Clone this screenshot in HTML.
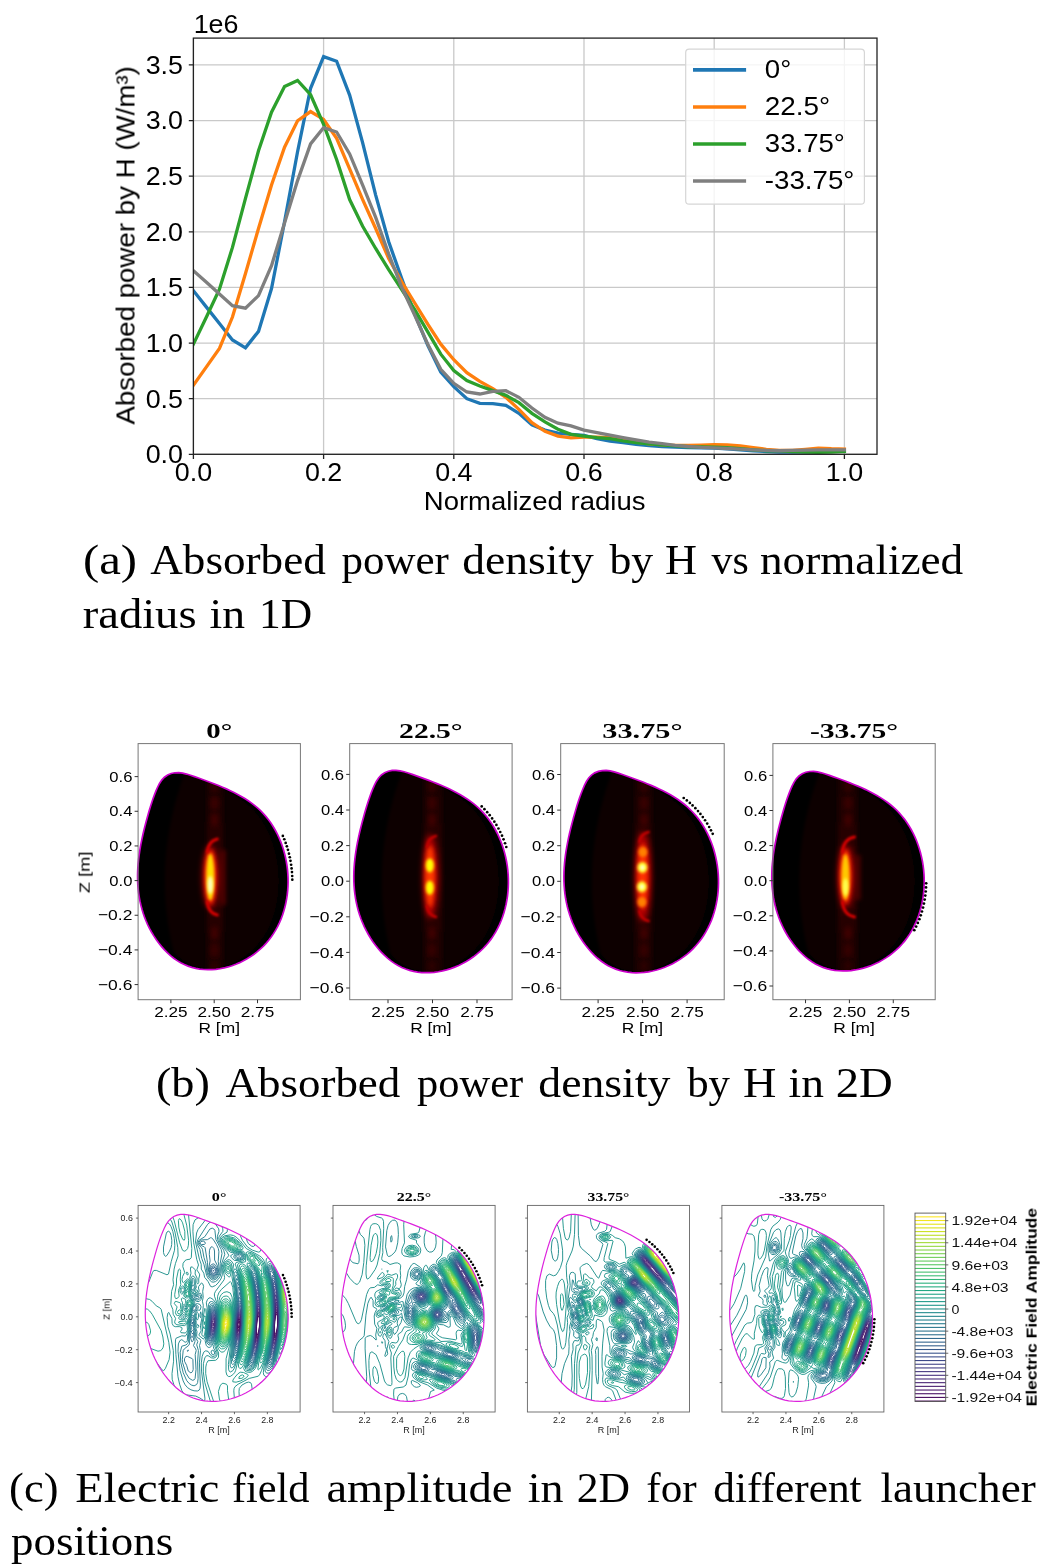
<!DOCTYPE html>
<html><head><meta charset="utf-8"><style>
html,body{margin:0;padding:0;background:#fff;width:1050px;height:1567px;overflow:hidden;}
svg{display:block;}
text{white-space:pre;will-change:transform;}
</style></head><body>
<svg width="1050" height="1567" viewBox="0 0 1050 1567">
<defs><clipPath id="clipA"><rect x="193.4" y="38.1" width="683.6" height="416.2"/></clipPath><filter id="bl1" x="-50%" y="-50%" width="200%" height="200%"><feGaussianBlur stdDeviation="1"/></filter><filter id="bl15" x="-50%" y="-50%" width="200%" height="200%"><feGaussianBlur stdDeviation="1.5"/></filter><filter id="bl2" x="-50%" y="-50%" width="200%" height="200%"><feGaussianBlur stdDeviation="2"/></filter><filter id="bl3" x="-50%" y="-50%" width="200%" height="200%"><feGaussianBlur stdDeviation="3"/></filter><filter id="bl5" x="-50%" y="-50%" width="200%" height="200%"><feGaussianBlur stdDeviation="5"/></filter><linearGradient id="stripeG" gradientUnits="userSpaceOnUse" x1="0" y1="765" x2="0" y2="990"><stop offset="0" stop-color="#1a0000"/><stop offset="0.3" stop-color="#260000"/><stop offset="0.5" stop-color="#3a0000"/><stop offset="0.7" stop-color="#260000"/><stop offset="1" stop-color="#1a0000"/></linearGradient><clipPath id="clipB0"><path d="M137.61 879.72L137.57 875.63L137.66 871.53L137.87 867.44L138.18 863.34L138.60 859.24L139.11 855.15L139.71 851.06L140.39 846.98L141.15 842.91L141.97 838.84L142.87 834.79L143.81 830.75L144.81 826.73L145.85 822.72L146.93 818.74L148.04 814.77L149.17 810.82L150.35 806.88L151.60 802.96L152.92 799.03L154.34 795.11L155.88 791.17L157.57 787.24L159.48 783.47L161.74 780.06L164.43 777.18L167.61 775.01L171.15 773.54L174.89 772.79L178.71 772.70L182.59 773.16L186.52 774.05L190.50 775.25L194.50 776.62L198.52 778.05L202.55 779.50L206.58 780.97L210.60 782.46L214.60 784.00L218.57 785.57L222.50 787.20L226.39 788.90L230.23 790.66L234.00 792.49L237.69 794.42L241.31 796.43L244.83 798.55L248.26 800.78L251.57 803.12L254.77 805.59L257.84 808.20L260.77 810.95L263.56 813.84L266.21 816.88L268.71 820.05L271.06 823.35L273.26 826.76L275.31 830.28L277.22 833.91L278.97 837.62L280.57 841.42L282.02 845.30L283.32 849.25L284.46 853.25L285.45 857.31L286.28 861.41L286.96 865.55L287.47 869.71L287.83 873.89L288.03 878.09L288.07 882.29L287.95 886.48L287.67 890.65L287.23 894.81L286.62 898.94L285.84 903.02L284.91 907.07L283.80 911.05L282.53 914.98L281.09 918.83L279.49 922.61L277.71 926.30L275.77 929.89L273.65 933.38L271.36 936.75L268.90 940.01L266.26 943.14L263.45 946.13L260.47 948.98L257.33 951.68L254.04 954.22L250.62 956.59L247.07 958.79L243.42 960.81L239.67 962.64L235.83 964.28L231.93 965.72L227.97 966.94L223.97 967.95L219.93 968.74L215.88 969.30L211.82 969.62L207.76 969.69L203.73 969.52L199.73 969.08L195.78 968.38L191.88 967.40L188.06 966.14L184.32 964.59L180.68 962.75L177.15 960.61L173.73 958.20L170.45 955.54L167.29 952.65L164.28 949.57L161.42 946.33L158.71 942.95L156.17 939.46L153.81 935.89L151.61 932.25L149.60 928.55L147.75 924.80L146.06 921.00L144.54 917.15L143.18 913.26L141.98 909.33L140.93 905.37L140.03 901.38L139.27 897.35L138.66 893.31L138.19 889.25L137.85 885.17L137.65 881.09Z"/></clipPath><clipPath id="clipB1"><path d="M353.83 880.30L353.80 876.10L353.89 871.89L354.10 867.68L354.42 863.47L354.85 859.26L355.37 855.06L355.99 850.86L356.69 846.67L357.47 842.49L358.32 838.31L359.23 834.15L360.20 830.00L361.23 825.87L362.30 821.76L363.40 817.66L364.54 813.58L365.71 809.52L366.92 805.48L368.20 801.45L369.56 797.42L371.02 793.39L372.60 789.35L374.33 785.31L376.30 781.44L378.61 777.93L381.38 774.98L384.65 772.74L388.28 771.24L392.12 770.46L396.04 770.37L400.03 770.85L404.07 771.76L408.15 772.99L412.27 774.40L416.40 775.87L420.54 777.36L424.67 778.87L428.80 780.40L432.91 781.98L436.99 783.60L441.03 785.27L445.02 787.01L448.96 788.82L452.83 790.70L456.63 792.68L460.34 794.75L463.96 796.92L467.48 799.21L470.88 801.62L474.17 804.16L477.32 806.84L480.33 809.66L483.20 812.63L485.92 815.75L488.48 819.01L490.90 822.39L493.16 825.90L495.27 829.52L497.23 833.24L499.03 837.06L500.67 840.96L502.16 844.94L503.49 849.00L504.67 853.11L505.68 857.28L506.54 861.49L507.23 865.74L507.76 870.02L508.13 874.31L508.34 878.62L508.38 882.93L508.25 887.24L507.96 891.53L507.51 895.80L506.88 900.03L506.09 904.23L505.12 908.38L503.99 912.48L502.69 916.51L501.21 920.47L499.56 924.35L497.73 928.13L495.74 931.82L493.56 935.41L491.21 938.88L488.68 942.22L485.97 945.44L483.09 948.51L480.03 951.44L476.80 954.21L473.42 956.82L469.90 959.25L466.26 961.51L462.51 963.59L458.66 965.47L454.72 967.15L450.71 968.63L446.64 969.89L442.53 970.92L438.39 971.73L434.22 972.31L430.05 972.63L425.89 972.71L421.75 972.53L417.64 972.08L413.58 971.36L409.58 970.35L405.65 969.06L401.81 967.47L398.07 965.58L394.44 963.38L390.94 960.90L387.56 958.17L384.32 955.21L381.23 952.05L378.29 948.71L375.51 945.24L372.90 941.66L370.47 937.99L368.22 934.25L366.14 930.45L364.24 926.60L362.52 922.70L360.96 918.75L359.56 914.75L358.32 910.71L357.24 906.64L356.32 902.54L355.54 898.41L354.91 894.26L354.43 890.08L354.08 885.90L353.87 881.70Z"/></clipPath><clipPath id="clipB2"><path d="M563.93 880.40L563.90 876.20L563.99 871.99L564.20 867.78L564.52 863.57L564.95 859.36L565.47 855.16L566.09 850.96L566.79 846.77L567.57 842.59L568.42 838.41L569.33 834.25L570.30 830.10L571.33 825.97L572.40 821.86L573.50 817.76L574.64 813.68L575.81 809.62L577.02 805.58L578.30 801.55L579.66 797.52L581.12 793.49L582.70 789.45L584.43 785.41L586.40 781.54L588.71 778.03L591.48 775.08L594.75 772.84L598.38 771.34L602.22 770.56L606.14 770.47L610.13 770.95L614.17 771.86L618.25 773.09L622.37 774.50L626.50 775.97L630.64 777.46L634.77 778.97L638.90 780.50L643.01 782.08L647.09 783.70L651.13 785.37L655.12 787.11L659.06 788.92L662.93 790.80L666.73 792.78L670.44 794.85L674.06 797.02L677.58 799.31L680.98 801.72L684.27 804.26L687.42 806.94L690.43 809.76L693.30 812.73L696.02 815.85L698.58 819.11L701.00 822.49L703.26 826.00L705.37 829.62L707.33 833.34L709.13 837.16L710.77 841.06L712.26 845.04L713.59 849.10L714.77 853.21L715.78 857.38L716.64 861.59L717.33 865.84L717.86 870.12L718.23 874.41L718.44 878.72L718.48 883.03L718.35 887.34L718.06 891.63L717.61 895.90L716.98 900.13L716.19 904.33L715.22 908.48L714.09 912.58L712.79 916.61L711.31 920.57L709.66 924.45L707.83 928.23L705.84 931.92L703.66 935.51L701.31 938.98L698.78 942.32L696.07 945.54L693.19 948.61L690.13 951.54L686.90 954.31L683.52 956.92L680.00 959.35L676.36 961.61L672.61 963.69L668.76 965.57L664.82 967.25L660.81 968.73L656.74 969.99L652.63 971.02L648.49 971.83L644.32 972.41L640.15 972.73L635.99 972.81L631.85 972.63L627.74 972.18L623.68 971.46L619.68 970.45L615.75 969.16L611.91 967.57L608.17 965.68L604.54 963.48L601.04 961.00L597.66 958.27L594.42 955.31L591.33 952.15L588.39 948.81L585.61 945.34L583.00 941.76L580.57 938.09L578.32 934.35L576.24 930.55L574.34 926.70L572.62 922.80L571.06 918.85L569.66 914.85L568.42 910.81L567.34 906.74L566.42 902.64L565.64 898.51L565.01 894.36L564.53 890.18L564.18 886.00L563.97 881.80Z"/></clipPath><clipPath id="clipB3"><path d="M771.83 879.81L771.80 875.67L771.89 871.52L772.10 867.37L772.42 863.22L772.84 859.07L773.35 854.93L773.96 850.79L774.65 846.65L775.42 842.53L776.26 838.41L777.16 834.31L778.12 830.22L779.13 826.15L780.18 822.09L781.27 818.05L782.40 814.03L783.55 810.03L784.74 806.05L786.00 802.07L787.34 798.10L788.78 794.12L790.34 790.14L792.05 786.16L793.99 782.34L796.27 778.88L799.00 775.97L802.22 773.77L805.80 772.28L809.59 771.52L813.45 771.43L817.39 771.90L821.37 772.80L825.40 774.01L829.45 775.40L833.52 776.85L837.60 778.32L841.68 779.80L845.75 781.32L849.80 782.87L853.83 784.47L857.81 786.12L861.75 787.83L865.63 789.61L869.45 791.47L873.19 793.42L876.85 795.46L880.42 797.61L883.89 799.86L887.24 802.24L890.48 804.74L893.59 807.38L896.56 810.16L899.39 813.10L902.07 816.17L904.60 819.38L906.98 822.72L909.21 826.18L911.29 829.74L913.22 833.41L914.99 837.18L916.62 841.03L918.08 844.95L919.40 848.95L920.55 853.00L921.55 857.11L922.40 861.27L923.08 865.46L923.60 869.67L923.97 873.91L924.17 878.16L924.21 882.41L924.09 886.65L923.80 890.88L923.35 895.09L922.74 899.27L921.95 903.41L921.00 907.50L919.89 911.54L918.60 915.52L917.14 919.42L915.52 923.24L913.72 926.98L911.75 930.61L909.60 934.15L907.29 937.57L904.79 940.87L902.12 944.03L899.28 947.07L896.26 949.95L893.08 952.68L889.75 955.25L886.28 957.66L882.69 959.88L878.99 961.93L875.19 963.79L871.31 965.44L867.36 966.90L863.35 968.14L859.29 969.16L855.20 969.96L851.10 970.53L846.99 970.85L842.88 970.92L838.80 970.74L834.75 970.30L830.74 969.59L826.80 968.60L822.93 967.33L819.14 965.76L815.45 963.90L811.88 961.73L808.42 959.29L805.09 956.59L801.90 953.67L798.85 950.55L795.95 947.27L793.21 943.84L790.64 940.31L788.24 936.69L786.02 933.01L783.98 929.26L782.10 925.46L780.40 921.62L778.86 917.72L777.48 913.78L776.26 909.80L775.20 905.78L774.29 901.74L773.52 897.67L772.90 893.57L772.42 889.46L772.08 885.33L771.87 881.19Z"/></clipPath><clipPath id="clipC0"><path d="M145.30 1315.97L145.27 1312.08L145.35 1308.20L145.54 1304.30L145.84 1300.42L146.23 1296.53L146.72 1292.64L147.29 1288.76L147.94 1284.89L148.66 1281.02L149.44 1277.16L150.29 1273.32L151.19 1269.49L152.13 1265.67L153.12 1261.86L154.14 1258.08L155.20 1254.31L156.27 1250.56L157.39 1246.83L158.58 1243.10L159.83 1239.38L161.18 1235.65L162.64 1231.91L164.24 1228.18L166.06 1224.61L168.20 1221.36L170.76 1218.64L173.78 1216.57L177.14 1215.18L180.68 1214.46L184.31 1214.38L187.99 1214.82L191.73 1215.66L195.50 1216.80L199.30 1218.10L203.12 1219.46L206.94 1220.83L210.77 1222.23L214.58 1223.65L218.38 1225.10L222.15 1226.60L225.88 1228.15L229.57 1229.75L233.21 1231.42L236.79 1233.17L240.30 1234.99L243.73 1236.91L247.08 1238.92L250.33 1241.03L253.47 1243.26L256.51 1245.60L259.42 1248.08L262.21 1250.68L264.86 1253.43L267.37 1256.32L269.74 1259.33L271.97 1262.45L274.06 1265.69L276.01 1269.04L277.82 1272.48L279.48 1276.01L281.00 1279.61L282.38 1283.29L283.61 1287.04L284.69 1290.84L285.63 1294.69L286.42 1298.59L287.06 1302.51L287.55 1306.46L287.89 1310.43L288.08 1314.42L288.12 1318.40L288.01 1322.38L287.74 1326.34L287.32 1330.29L286.74 1334.21L286.01 1338.09L285.12 1341.92L284.07 1345.71L282.86 1349.43L281.50 1353.09L279.97 1356.67L278.29 1360.18L276.44 1363.59L274.43 1366.90L272.26 1370.10L269.92 1373.19L267.42 1376.16L264.75 1379.01L261.92 1381.71L258.94 1384.27L255.82 1386.68L252.57 1388.93L249.20 1391.02L245.73 1392.94L242.17 1394.68L238.54 1396.23L234.83 1397.59L231.07 1398.76L227.27 1399.72L223.44 1400.47L219.59 1401.00L215.74 1401.30L211.89 1401.37L208.06 1401.20L204.26 1400.79L200.51 1400.12L196.81 1399.19L193.19 1398.00L189.64 1396.53L186.18 1394.78L182.83 1392.75L179.59 1390.46L176.47 1387.93L173.48 1385.19L170.62 1382.27L167.90 1379.19L165.33 1375.98L162.92 1372.67L160.67 1369.28L158.59 1365.83L156.68 1362.32L154.92 1358.76L153.32 1355.15L151.88 1351.50L150.59 1347.80L149.45 1344.07L148.45 1340.31L147.59 1336.52L146.88 1332.70L146.30 1328.87L145.85 1325.01L145.53 1321.14L145.33 1317.26Z"/></clipPath><clipPath id="clipC1"><path d="M341.20 1315.97L341.17 1312.08L341.25 1308.20L341.44 1304.30L341.74 1300.42L342.13 1296.53L342.62 1292.64L343.19 1288.76L343.84 1284.89L344.56 1281.02L345.34 1277.16L346.19 1273.32L347.09 1269.49L348.03 1265.67L349.02 1261.86L350.04 1258.08L351.10 1254.31L352.17 1250.56L353.29 1246.83L354.48 1243.10L355.73 1239.38L357.08 1235.65L358.54 1231.91L360.14 1228.18L361.96 1224.61L364.10 1221.36L366.66 1218.64L369.68 1216.57L373.04 1215.18L376.58 1214.46L380.21 1214.38L383.89 1214.82L387.63 1215.66L391.40 1216.80L395.20 1218.10L399.02 1219.46L402.84 1220.83L406.67 1222.23L410.48 1223.65L414.28 1225.10L418.05 1226.60L421.78 1228.15L425.47 1229.75L429.11 1231.42L432.69 1233.17L436.20 1234.99L439.63 1236.91L442.98 1238.92L446.23 1241.03L449.37 1243.26L452.41 1245.60L455.32 1248.08L458.11 1250.68L460.76 1253.43L463.27 1256.32L465.64 1259.33L467.87 1262.45L469.96 1265.69L471.91 1269.04L473.72 1272.48L475.38 1276.01L476.90 1279.61L478.28 1283.29L479.51 1287.04L480.59 1290.84L481.53 1294.69L482.32 1298.59L482.96 1302.51L483.45 1306.46L483.79 1310.43L483.98 1314.42L484.02 1318.40L483.91 1322.38L483.64 1326.34L483.22 1330.29L482.64 1334.21L481.91 1338.09L481.02 1341.92L479.97 1345.71L478.76 1349.43L477.40 1353.09L475.87 1356.67L474.19 1360.18L472.34 1363.59L470.33 1366.90L468.16 1370.10L465.82 1373.19L463.32 1376.16L460.65 1379.01L457.82 1381.71L454.84 1384.27L451.72 1386.68L448.47 1388.93L445.10 1391.02L441.63 1392.94L438.07 1394.68L434.44 1396.23L430.73 1397.59L426.97 1398.76L423.17 1399.72L419.34 1400.47L415.49 1401.00L411.64 1401.30L407.79 1401.37L403.96 1401.20L400.16 1400.79L396.41 1400.12L392.71 1399.19L389.09 1398.00L385.54 1396.53L382.08 1394.78L378.73 1392.75L375.49 1390.46L372.37 1387.93L369.38 1385.19L366.52 1382.27L363.80 1379.19L361.23 1375.98L358.82 1372.67L356.57 1369.28L354.49 1365.83L352.58 1362.32L350.82 1358.76L349.22 1355.15L347.78 1351.50L346.49 1347.80L345.35 1344.07L344.35 1340.31L343.49 1336.52L342.78 1332.70L342.20 1328.87L341.75 1325.01L341.43 1321.14L341.23 1317.26Z"/></clipPath><clipPath id="clipC2"><path d="M535.90 1315.97L535.87 1312.08L535.95 1308.20L536.14 1304.30L536.44 1300.42L536.83 1296.53L537.32 1292.64L537.89 1288.76L538.54 1284.89L539.26 1281.02L540.04 1277.16L540.89 1273.32L541.79 1269.49L542.73 1265.67L543.72 1261.86L544.74 1258.08L545.80 1254.31L546.87 1250.56L547.99 1246.83L549.18 1243.10L550.43 1239.38L551.78 1235.65L553.24 1231.91L554.84 1228.18L556.66 1224.61L558.80 1221.36L561.36 1218.64L564.38 1216.57L567.74 1215.18L571.28 1214.46L574.91 1214.38L578.59 1214.82L582.33 1215.66L586.10 1216.80L589.90 1218.10L593.72 1219.46L597.54 1220.83L601.37 1222.23L605.18 1223.65L608.98 1225.10L612.75 1226.60L616.48 1228.15L620.17 1229.75L623.81 1231.42L627.39 1233.17L630.90 1234.99L634.33 1236.91L637.68 1238.92L640.93 1241.03L644.07 1243.26L647.11 1245.60L650.02 1248.08L652.81 1250.68L655.46 1253.43L657.97 1256.32L660.34 1259.33L662.57 1262.45L664.66 1265.69L666.61 1269.04L668.42 1272.48L670.08 1276.01L671.60 1279.61L672.98 1283.29L674.21 1287.04L675.29 1290.84L676.23 1294.69L677.02 1298.59L677.66 1302.51L678.15 1306.46L678.49 1310.43L678.68 1314.42L678.72 1318.40L678.61 1322.38L678.34 1326.34L677.92 1330.29L677.34 1334.21L676.61 1338.09L675.72 1341.92L674.67 1345.71L673.46 1349.43L672.10 1353.09L670.57 1356.67L668.89 1360.18L667.04 1363.59L665.03 1366.90L662.86 1370.10L660.52 1373.19L658.02 1376.16L655.35 1379.01L652.52 1381.71L649.54 1384.27L646.42 1386.68L643.17 1388.93L639.80 1391.02L636.33 1392.94L632.77 1394.68L629.14 1396.23L625.43 1397.59L621.67 1398.76L617.87 1399.72L614.04 1400.47L610.19 1401.00L606.34 1401.30L602.49 1401.37L598.66 1401.20L594.86 1400.79L591.11 1400.12L587.41 1399.19L583.79 1398.00L580.24 1396.53L576.78 1394.78L573.43 1392.75L570.19 1390.46L567.07 1387.93L564.08 1385.19L561.22 1382.27L558.50 1379.19L555.93 1375.98L553.52 1372.67L551.27 1369.28L549.19 1365.83L547.28 1362.32L545.52 1358.76L543.92 1355.15L542.48 1351.50L541.19 1347.80L540.05 1344.07L539.05 1340.31L538.19 1336.52L537.48 1332.70L536.90 1328.87L536.45 1325.01L536.13 1321.14L535.93 1317.26Z"/></clipPath><clipPath id="clipC3"><path d="M729.70 1315.97L729.67 1312.08L729.75 1308.20L729.94 1304.30L730.24 1300.42L730.63 1296.53L731.12 1292.64L731.69 1288.76L732.34 1284.89L733.06 1281.02L733.84 1277.16L734.69 1273.32L735.59 1269.49L736.53 1265.67L737.52 1261.86L738.54 1258.08L739.60 1254.31L740.67 1250.56L741.79 1246.83L742.98 1243.10L744.23 1239.38L745.58 1235.65L747.04 1231.91L748.64 1228.18L750.46 1224.61L752.60 1221.36L755.16 1218.64L758.18 1216.57L761.54 1215.18L765.08 1214.46L768.71 1214.38L772.39 1214.82L776.13 1215.66L779.90 1216.80L783.70 1218.10L787.52 1219.46L791.34 1220.83L795.17 1222.23L798.98 1223.65L802.78 1225.10L806.55 1226.60L810.28 1228.15L813.97 1229.75L817.61 1231.42L821.19 1233.17L824.70 1234.99L828.13 1236.91L831.48 1238.92L834.73 1241.03L837.87 1243.26L840.91 1245.60L843.82 1248.08L846.61 1250.68L849.26 1253.43L851.77 1256.32L854.14 1259.33L856.37 1262.45L858.46 1265.69L860.41 1269.04L862.22 1272.48L863.88 1276.01L865.40 1279.61L866.78 1283.29L868.01 1287.04L869.09 1290.84L870.03 1294.69L870.82 1298.59L871.46 1302.51L871.95 1306.46L872.29 1310.43L872.48 1314.42L872.52 1318.40L872.41 1322.38L872.14 1326.34L871.72 1330.29L871.14 1334.21L870.41 1338.09L869.52 1341.92L868.47 1345.71L867.26 1349.43L865.90 1353.09L864.37 1356.67L862.69 1360.18L860.84 1363.59L858.83 1366.90L856.66 1370.10L854.32 1373.19L851.82 1376.16L849.15 1379.01L846.32 1381.71L843.34 1384.27L840.22 1386.68L836.97 1388.93L833.60 1391.02L830.13 1392.94L826.57 1394.68L822.94 1396.23L819.23 1397.59L815.47 1398.76L811.67 1399.72L807.84 1400.47L803.99 1401.00L800.14 1401.30L796.29 1401.37L792.46 1401.20L788.66 1400.79L784.91 1400.12L781.21 1399.19L777.59 1398.00L774.04 1396.53L770.58 1394.78L767.23 1392.75L763.99 1390.46L760.87 1387.93L757.88 1385.19L755.02 1382.27L752.30 1379.19L749.73 1375.98L747.32 1372.67L745.07 1369.28L742.99 1365.83L741.08 1362.32L739.32 1358.76L737.72 1355.15L736.28 1351.50L734.99 1347.80L733.85 1344.07L732.85 1340.31L731.99 1336.52L731.28 1332.70L730.70 1328.87L730.25 1325.01L729.93 1321.14L729.73 1317.26Z"/></clipPath></defs>
<rect width="1050" height="1567" fill="#fff"/>
<path d="M193.40 38.10V454.30M323.60 38.10V454.30M453.80 38.10V454.30M584.00 38.10V454.30M714.20 38.10V454.30M844.40 38.10V454.30M193.40 454.30H877.00M193.40 398.68H877.00M193.40 343.05H877.00M193.40 287.43H877.00M193.40 231.80H877.00M193.40 176.18H877.00M193.40 120.55H877.00M193.40 64.93H877.00" stroke="#c9c9c9" stroke-width="1.3" fill="none"/>
<polyline points="193.40,290.65 206.42,307.12 219.44,323.47 232.46,339.94 245.48,347.83 258.50,331.37 271.52,288.54 284.54,221.79 297.56,151.70 310.58,88.29 323.60,56.58 336.62,61.25 349.64,95.07 362.66,142.80 375.68,195.09 388.70,241.81 401.72,278.52 414.74,314.12 427.76,345.28 440.78,371.98 453.80,386.66 466.82,398.68 479.84,403.35 492.86,403.68 505.88,405.35 518.90,413.36 531.92,424.71 544.94,430.05 557.96,433.16 570.98,434.39 584.00,435.39 597.02,438.73 610.04,441.17 623.06,442.62 636.08,444.29 649.10,445.51 662.12,446.51 675.14,447.07 688.16,447.62 701.18,447.85 714.20,448.18 727.22,448.74 740.24,449.85 753.26,450.96 766.28,451.52 779.30,452.07 792.32,452.07 805.34,451.85 818.36,451.52 831.38,450.96 844.40,450.96" fill="none" stroke="#1f77b4" stroke-width="3.3" stroke-linejoin="miter" stroke-linecap="square" clip-path="url(#clipA)"/>
<polyline points="193.40,385.21 206.42,366.86 219.44,348.50 232.46,317.02 245.48,273.52 258.50,228.46 271.52,185.08 284.54,147.25 297.56,120.77 310.58,111.54 323.60,119.44 336.62,138.35 349.64,168.94 362.66,199.54 375.68,228.46 388.70,258.50 401.72,281.86 414.74,303.00 427.76,324.14 440.78,344.16 453.80,359.74 466.82,372.64 479.84,381.32 492.86,388.66 505.88,397.34 518.90,409.36 531.92,422.71 544.94,431.38 557.96,436.06 570.98,437.84 584.00,437.06 597.02,437.06 610.04,437.61 623.06,439.84 636.08,442.06 649.10,443.84 662.12,444.84 675.14,445.40 688.16,445.51 701.18,445.07 714.20,444.62 727.22,444.84 740.24,445.96 753.26,447.62 766.28,449.29 779.30,450.41 792.32,450.41 805.34,449.29 818.36,448.07 831.38,448.74 844.40,449.07" fill="none" stroke="#ff7f0e" stroke-width="3.3" stroke-linejoin="miter" stroke-linecap="square" clip-path="url(#clipA)"/>
<polyline points="193.40,344.16 206.42,317.02 219.44,289.21 232.46,247.38 245.48,198.43 258.50,150.81 271.52,112.21 284.54,86.62 297.56,80.50 310.58,94.74 323.60,124.44 336.62,159.49 349.64,199.54 362.66,226.24 375.68,248.49 388.70,269.62 401.72,289.65 414.74,309.68 427.76,331.93 440.78,354.18 453.80,370.64 466.82,380.65 479.84,385.99 492.86,390.67 505.88,395.34 518.90,402.68 531.92,413.36 544.94,421.93 557.96,429.27 570.98,434.39 584.00,436.06 597.02,437.61 610.04,438.73 623.06,440.95 636.08,442.62 649.10,443.84 662.12,444.84 675.14,445.96 688.16,446.74 701.18,446.96 714.20,447.07 727.22,447.62 740.24,448.74 753.26,449.85 766.28,450.74 779.30,450.96 792.32,451.52 805.34,452.07 818.36,452.30 831.38,452.07 844.40,451.52" fill="none" stroke="#2ca02c" stroke-width="3.3" stroke-linejoin="miter" stroke-linecap="square" clip-path="url(#clipA)"/>
<polyline points="193.40,270.63 206.42,282.31 219.44,293.99 232.46,305.67 245.48,308.23 258.50,295.66 271.52,265.62 284.54,222.90 297.56,180.62 310.58,143.91 323.60,127.78 336.62,132.01 349.64,153.93 362.66,185.08 375.68,217.34 388.70,254.05 401.72,287.43 414.74,315.24 427.76,344.16 440.78,369.31 453.80,383.32 466.82,392.00 479.84,394.00 492.86,391.33 505.88,390.67 518.90,397.34 531.92,408.02 544.94,417.37 557.96,423.15 570.98,425.82 584.00,430.05 597.02,432.61 610.04,435.17 623.06,437.61 636.08,439.84 649.10,442.06 662.12,443.73 675.14,445.40 688.16,446.51 701.18,447.40 714.20,447.85 727.22,448.51 740.24,449.18 753.26,449.85 766.28,450.41 779.30,450.74 792.32,450.41 805.34,450.07 818.36,449.85 831.38,449.85 844.40,449.85" fill="none" stroke="#7f7f7f" stroke-width="3.3" stroke-linejoin="miter" stroke-linecap="square" clip-path="url(#clipA)"/>
<rect x="193.40" y="38.10" width="683.60" height="416.20" fill="none" stroke="#222" stroke-width="1.3"/>
<path d="M193.40 454.30v4.6M323.60 454.30v4.6M453.80 454.30v4.6M584.00 454.30v4.6M714.20 454.30v4.6M844.40 454.30v4.6M193.40 454.30h-4.6M193.40 398.68h-4.6M193.40 343.05h-4.6M193.40 287.43h-4.6M193.40 231.80h-4.6M193.40 176.18h-4.6M193.40 120.55h-4.6M193.40 64.93h-4.6" stroke="#222" stroke-width="1.3"/>
<text x="183.00" y="463.20" font-family="Liberation Sans" font-size="25.2" fill="#000" text-anchor="end" textLength="37.30" lengthAdjust="spacingAndGlyphs" >0.0</text>
<text x="183.00" y="407.57" font-family="Liberation Sans" font-size="25.2" fill="#000" text-anchor="end" textLength="37.30" lengthAdjust="spacingAndGlyphs" >0.5</text>
<text x="183.00" y="351.95" font-family="Liberation Sans" font-size="25.2" fill="#000" text-anchor="end" textLength="37.30" lengthAdjust="spacingAndGlyphs" >1.0</text>
<text x="183.00" y="296.32" font-family="Liberation Sans" font-size="25.2" fill="#000" text-anchor="end" textLength="37.30" lengthAdjust="spacingAndGlyphs" >1.5</text>
<text x="183.00" y="240.70" font-family="Liberation Sans" font-size="25.2" fill="#000" text-anchor="end" textLength="37.30" lengthAdjust="spacingAndGlyphs" >2.0</text>
<text x="183.00" y="185.08" font-family="Liberation Sans" font-size="25.2" fill="#000" text-anchor="end" textLength="37.30" lengthAdjust="spacingAndGlyphs" >2.5</text>
<text x="183.00" y="129.45" font-family="Liberation Sans" font-size="25.2" fill="#000" text-anchor="end" textLength="37.30" lengthAdjust="spacingAndGlyphs" >3.0</text>
<text x="183.00" y="73.83" font-family="Liberation Sans" font-size="25.2" fill="#000" text-anchor="end" textLength="37.30" lengthAdjust="spacingAndGlyphs" >3.5</text>
<text x="193.40" y="480.70" font-family="Liberation Sans" font-size="25.2" fill="#000" text-anchor="middle" textLength="37.30" lengthAdjust="spacingAndGlyphs" >0.0</text>
<text x="323.60" y="480.70" font-family="Liberation Sans" font-size="25.2" fill="#000" text-anchor="middle" textLength="37.30" lengthAdjust="spacingAndGlyphs" >0.2</text>
<text x="453.80" y="480.70" font-family="Liberation Sans" font-size="25.2" fill="#000" text-anchor="middle" textLength="37.30" lengthAdjust="spacingAndGlyphs" >0.4</text>
<text x="584.00" y="480.70" font-family="Liberation Sans" font-size="25.2" fill="#000" text-anchor="middle" textLength="37.30" lengthAdjust="spacingAndGlyphs" >0.6</text>
<text x="714.20" y="480.70" font-family="Liberation Sans" font-size="25.2" fill="#000" text-anchor="middle" textLength="37.30" lengthAdjust="spacingAndGlyphs" >0.8</text>
<text x="844.40" y="480.70" font-family="Liberation Sans" font-size="25.2" fill="#000" text-anchor="middle" textLength="37.30" lengthAdjust="spacingAndGlyphs" >1.0</text>
<text x="193.70" y="32.80" font-family="Liberation Sans" font-size="25.2" fill="#000" textLength="44.80" lengthAdjust="spacingAndGlyphs" >1e6</text>
<text x="423.80" y="510.20" font-family="Liberation Sans" font-size="25.2" fill="#000" textLength="221.70" lengthAdjust="spacingAndGlyphs" >Normalized radius</text>
<text x="0.00" y="0.00" font-family="Liberation Sans" font-size="25.2" fill="#000" textLength="358.50" lengthAdjust="spacingAndGlyphs" transform="translate(134.5,424.6) rotate(-90)" >Absorbed power by H (W/m³)</text>
<rect x="685.7" y="49.1" width="178.7" height="155.1" rx="3.5" fill="#fff" fill-opacity="0.8" stroke="#d6d6d6" stroke-width="1.2"/>
<path d="M693 69.90H746.1" stroke="#1f77b4" stroke-width="3.6"/>
<text x="764.80" y="78.10" font-family="Liberation Sans" font-size="25.2" fill="#000" textLength="26.40" lengthAdjust="spacingAndGlyphs" >0°</text>
<path d="M693 106.95H746.1" stroke="#ff7f0e" stroke-width="3.6"/>
<text x="764.80" y="115.15" font-family="Liberation Sans" font-size="25.2" fill="#000" textLength="65.40" lengthAdjust="spacingAndGlyphs" >22.5°</text>
<path d="M693 144.00H746.1" stroke="#2ca02c" stroke-width="3.6"/>
<text x="764.80" y="152.20" font-family="Liberation Sans" font-size="25.2" fill="#000" textLength="80.10" lengthAdjust="spacingAndGlyphs" >33.75°</text>
<path d="M693 181.05H746.1" stroke="#7f7f7f" stroke-width="3.6"/>
<text x="764.80" y="189.25" font-family="Liberation Sans" font-size="25.2" fill="#000" textLength="89.60" lengthAdjust="spacingAndGlyphs" >-33.75°</text>
<text x="82.92" y="574.40" font-family="Liberation Serif" font-size="42.5" fill="#000" textLength="54.13" lengthAdjust="spacingAndGlyphs" >(a)</text>
<text x="150.28" y="574.40" font-family="Liberation Serif" font-size="42.5" fill="#000" textLength="175.51" lengthAdjust="spacingAndGlyphs" >Absorbed</text>
<text x="341.59" y="574.40" font-family="Liberation Serif" font-size="42.5" fill="#000" textLength="107.32" lengthAdjust="spacingAndGlyphs" >power</text>
<text x="462.29" y="574.40" font-family="Liberation Serif" font-size="42.5" fill="#000" textLength="131.49" lengthAdjust="spacingAndGlyphs" >density</text>
<text x="609.50" y="574.40" font-family="Liberation Serif" font-size="42.5" fill="#000" textLength="43.70" lengthAdjust="spacingAndGlyphs" >by</text>
<text x="664.95" y="574.40" font-family="Liberation Serif" font-size="42.5" fill="#000" textLength="31.99" lengthAdjust="spacingAndGlyphs" >H</text>
<text x="711.50" y="574.40" font-family="Liberation Serif" font-size="42.5" fill="#000" textLength="37.16" lengthAdjust="spacingAndGlyphs" >vs</text>
<text x="759.94" y="574.40" font-family="Liberation Serif" font-size="42.5" fill="#000" textLength="203.27" lengthAdjust="spacingAndGlyphs" >normalized</text>
<text x="82.72" y="628.40" font-family="Liberation Serif" font-size="42.5" fill="#000" textLength="113.79" lengthAdjust="spacingAndGlyphs" >radius</text>
<text x="209.53" y="628.40" font-family="Liberation Serif" font-size="42.5" fill="#000" textLength="35.47" lengthAdjust="spacingAndGlyphs" >in</text>
<text x="258.91" y="628.40" font-family="Liberation Serif" font-size="42.5" fill="#000" textLength="53.17" lengthAdjust="spacingAndGlyphs" >1D</text>
<text x="155.93" y="1097.30" font-family="Liberation Serif" font-size="42.5" fill="#000" textLength="53.99" lengthAdjust="spacingAndGlyphs" >(b)</text>
<text x="225.58" y="1097.30" font-family="Liberation Serif" font-size="42.5" fill="#000" textLength="174.70" lengthAdjust="spacingAndGlyphs" >Absorbed</text>
<text x="417.10" y="1097.30" font-family="Liberation Serif" font-size="42.5" fill="#000" textLength="106.01" lengthAdjust="spacingAndGlyphs" >power</text>
<text x="538.29" y="1097.30" font-family="Liberation Serif" font-size="42.5" fill="#000" textLength="132.10" lengthAdjust="spacingAndGlyphs" >density</text>
<text x="687.20" y="1097.30" font-family="Liberation Serif" font-size="42.5" fill="#000" textLength="42.80" lengthAdjust="spacingAndGlyphs" >by</text>
<text x="743.09" y="1097.30" font-family="Liberation Serif" font-size="42.5" fill="#000" textLength="33.40" lengthAdjust="spacingAndGlyphs" >H</text>
<text x="788.64" y="1097.30" font-family="Liberation Serif" font-size="42.5" fill="#000" textLength="35.37" lengthAdjust="spacingAndGlyphs" >in</text>
<text x="835.71" y="1097.30" font-family="Liberation Serif" font-size="42.5" fill="#000" textLength="57.09" lengthAdjust="spacingAndGlyphs" >2D</text>
<text x="9.11" y="1501.50" font-family="Liberation Serif" font-size="42.5" fill="#000" textLength="49.34" lengthAdjust="spacingAndGlyphs" >(c)</text>
<text x="75.39" y="1501.50" font-family="Liberation Serif" font-size="42.5" fill="#000" textLength="144.05" lengthAdjust="spacingAndGlyphs" >Electric</text>
<text x="231.91" y="1501.50" font-family="Liberation Serif" font-size="42.5" fill="#000" textLength="77.58" lengthAdjust="spacingAndGlyphs" >field</text>
<text x="326.46" y="1501.50" font-family="Liberation Serif" font-size="42.5" fill="#000" textLength="186.04" lengthAdjust="spacingAndGlyphs" >amplitude</text>
<text x="527.83" y="1501.50" font-family="Liberation Serif" font-size="42.5" fill="#000" textLength="35.79" lengthAdjust="spacingAndGlyphs" >in</text>
<text x="576.65" y="1501.50" font-family="Liberation Serif" font-size="42.5" fill="#000" textLength="53.34" lengthAdjust="spacingAndGlyphs" >2D</text>
<text x="646.38" y="1501.50" font-family="Liberation Serif" font-size="42.5" fill="#000" textLength="50.38" lengthAdjust="spacingAndGlyphs" >for</text>
<text x="713.27" y="1501.50" font-family="Liberation Serif" font-size="42.5" fill="#000" textLength="148.37" lengthAdjust="spacingAndGlyphs" >different</text>
<text x="880.45" y="1501.50" font-family="Liberation Serif" font-size="42.5" fill="#000" textLength="155.27" lengthAdjust="spacingAndGlyphs" >launcher</text>
<text x="10.96" y="1555.00" font-family="Liberation Serif" font-size="42.5" fill="#000" textLength="162.33" lengthAdjust="spacingAndGlyphs" >positions</text>
<g clip-path="url(#clipB0)">
<path d="M137.61 879.72L137.57 875.63L137.66 871.53L137.87 867.44L138.18 863.34L138.60 859.24L139.11 855.15L139.71 851.06L140.39 846.98L141.15 842.91L141.97 838.84L142.87 834.79L143.81 830.75L144.81 826.73L145.85 822.72L146.93 818.74L148.04 814.77L149.17 810.82L150.35 806.88L151.60 802.96L152.92 799.03L154.34 795.11L155.88 791.17L157.57 787.24L159.48 783.47L161.74 780.06L164.43 777.18L167.61 775.01L171.15 773.54L174.89 772.79L178.71 772.70L182.59 773.16L186.52 774.05L190.50 775.25L194.50 776.62L198.52 778.05L202.55 779.50L206.58 780.97L210.60 782.46L214.60 784.00L218.57 785.57L222.50 787.20L226.39 788.90L230.23 790.66L234.00 792.49L237.69 794.42L241.31 796.43L244.83 798.55L248.26 800.78L251.57 803.12L254.77 805.59L257.84 808.20L260.77 810.95L263.56 813.84L266.21 816.88L268.71 820.05L271.06 823.35L273.26 826.76L275.31 830.28L277.22 833.91L278.97 837.62L280.57 841.42L282.02 845.30L283.32 849.25L284.46 853.25L285.45 857.31L286.28 861.41L286.96 865.55L287.47 869.71L287.83 873.89L288.03 878.09L288.07 882.29L287.95 886.48L287.67 890.65L287.23 894.81L286.62 898.94L285.84 903.02L284.91 907.07L283.80 911.05L282.53 914.98L281.09 918.83L279.49 922.61L277.71 926.30L275.77 929.89L273.65 933.38L271.36 936.75L268.90 940.01L266.26 943.14L263.45 946.13L260.47 948.98L257.33 951.68L254.04 954.22L250.62 956.59L247.07 958.79L243.42 960.81L239.67 962.64L235.83 964.28L231.93 965.72L227.97 966.94L223.97 967.95L219.93 968.74L215.88 969.30L211.82 969.62L207.76 969.69L203.73 969.52L199.73 969.08L195.78 968.38L191.88 967.40L188.06 966.14L184.32 964.59L180.68 962.75L177.15 960.61L173.73 958.20L170.45 955.54L167.29 952.65L164.28 949.57L161.42 946.33L158.71 942.95L156.17 939.46L153.81 935.89L151.61 932.25L149.60 928.55L147.75 924.80L146.06 921.00L144.54 917.15L143.18 913.26L141.98 909.33L140.93 905.37L140.03 901.38L139.27 897.35L138.66 893.31L138.19 889.25L137.85 885.17L137.65 881.09Z" fill="#000"/>
<path d="M147.56 879.61L147.54 875.58L147.61 871.54L147.79 867.50L148.06 863.47L148.42 859.43L148.87 855.40L149.39 851.37L149.98 847.35L150.64 843.34L151.36 839.34L152.14 835.35L152.96 831.37L153.83 827.41L154.74 823.46L155.67 819.53L156.64 815.62L157.63 811.73L158.65 807.86L159.73 803.99L160.89 800.13L162.12 796.26L163.46 792.38L164.93 788.51L166.60 784.80L168.56 781.44L170.90 778.61L173.67 776.46L176.75 775.02L180.00 774.27L183.32 774.19L186.70 774.64L190.12 775.52L193.58 776.70L197.06 778.05L200.56 779.46L204.07 780.89L207.57 782.33L211.07 783.81L214.55 785.32L218.00 786.87L221.42 788.48L224.81 790.14L228.14 791.87L231.42 793.68L234.64 795.58L237.78 797.56L240.85 799.65L243.83 801.84L246.71 804.16L249.49 806.59L252.16 809.16L254.72 811.86L257.14 814.71L259.45 817.71L261.62 820.83L263.67 824.08L265.58 827.44L267.37 830.91L269.03 834.48L270.55 838.14L271.94 841.88L273.21 845.70L274.33 849.59L275.33 853.53L276.19 857.53L276.91 861.57L277.50 865.64L277.95 869.74L278.26 873.86L278.44 878.00L278.47 882.13L278.36 886.26L278.12 890.37L277.73 894.47L277.20 898.53L276.53 902.56L275.71 906.54L274.75 910.47L273.65 914.33L272.40 918.13L271.00 921.85L269.46 925.48L267.76 929.02L265.92 932.46L263.93 935.78L261.79 938.99L259.49 942.07L257.05 945.02L254.46 947.83L251.72 950.48L248.86 952.98L245.88 955.32L242.80 957.49L239.62 959.48L236.36 961.28L233.02 962.90L229.63 964.31L226.18 965.52L222.70 966.51L219.19 967.29L215.66 967.84L212.13 968.15L208.60 968.23L205.09 968.05L201.61 967.62L198.17 966.93L194.78 965.97L191.46 964.73L188.20 963.20L185.04 961.39L181.96 959.28L178.99 956.91L176.13 954.28L173.39 951.44L170.77 948.41L168.28 945.22L165.93 941.89L163.72 938.45L161.66 934.93L159.75 931.35L157.99 927.71L156.39 924.01L154.92 920.27L153.60 916.48L152.42 912.64L151.37 908.77L150.45 904.87L149.67 900.93L149.01 896.97L148.48 892.99L148.07 888.99L147.78 884.98L147.60 880.95Z" fill="#110000" filter="url(#bl1)"/>
<path d="M118.1 750.6L194.1 750.6L190.3 759.3L186.8 768.0L183.5 776.6L180.5 785.3L177.8 794.0L175.3 802.6L173.1 811.3L171.2 819.9L169.5 828.6L168.1 837.3L166.9 845.9L166.0 854.6L165.3 863.3L164.9 871.9L164.8 880.6L164.9 889.3L165.3 897.9L166.0 906.6L166.9 915.3L168.1 923.9L169.5 932.6L171.2 941.3L173.1 949.9L175.3 958.6L177.8 967.2L180.5 975.9L183.5 984.6L186.8 993.2L190.3 1001.9L194.1 1010.6L118.1 1010.6Z" fill="#000" filter="url(#bl15)"/>
<rect x="207" y="760" width="16" height="230" fill="url(#stripeG)" filter="url(#bl2)"/>
<ellipse cx="214.5" cy="786" rx="4" ry="7" fill="#300000" filter="url(#bl2)"/>
<ellipse cx="214.5" cy="803" rx="4" ry="7" fill="#380000" filter="url(#bl2)"/>
<ellipse cx="214.5" cy="820" rx="4" ry="7" fill="#3c0000" filter="url(#bl2)"/>
<ellipse cx="214.5" cy="933" rx="4" ry="7" fill="#3c0000" filter="url(#bl2)"/>
<ellipse cx="214.5" cy="950" rx="4" ry="7" fill="#340000" filter="url(#bl2)"/>
<ellipse cx="214.5" cy="966" rx="4" ry="6" fill="#2c0000" filter="url(#bl2)"/>
<rect x="219.5" y="850" width="6.5" height="55" fill="#4a0000" filter="url(#bl2)"/>
<ellipse cx="210.3" cy="877.0" rx="7.5" ry="31" fill="#c00000" filter="url(#bl3)"/>
<ellipse cx="210.3" cy="877.0" rx="5.2" ry="27" fill="#ff3000" filter="url(#bl2)"/>
<ellipse cx="210.3" cy="877.0" rx="4.0" ry="23.5" fill="#ffe000" filter="url(#bl15)"/>
<ellipse cx="210.3" cy="885.0" rx="2.6" ry="9" fill="#ffffc0" filter="url(#bl15)"/>
<path d="M207.3 852.0 Q208.3 841.0 217.3 839.0" fill="none" stroke="#d80000" stroke-width="3.0" stroke-linecap="round" filter="url(#bl1)"/>
<path d="M207.3 902.0 Q208.3 913.0 217.3 915.0" fill="none" stroke="#d80000" stroke-width="3.0" stroke-linecap="round" filter="url(#bl1)"/>
</g>
<path d="M137.61 879.72L137.57 875.63L137.66 871.53L137.87 867.44L138.18 863.34L138.60 859.24L139.11 855.15L139.71 851.06L140.39 846.98L141.15 842.91L141.97 838.84L142.87 834.79L143.81 830.75L144.81 826.73L145.85 822.72L146.93 818.74L148.04 814.77L149.17 810.82L150.35 806.88L151.60 802.96L152.92 799.03L154.34 795.11L155.88 791.17L157.57 787.24L159.48 783.47L161.74 780.06L164.43 777.18L167.61 775.01L171.15 773.54L174.89 772.79L178.71 772.70L182.59 773.16L186.52 774.05L190.50 775.25L194.50 776.62L198.52 778.05L202.55 779.50L206.58 780.97L210.60 782.46L214.60 784.00L218.57 785.57L222.50 787.20L226.39 788.90L230.23 790.66L234.00 792.49L237.69 794.42L241.31 796.43L244.83 798.55L248.26 800.78L251.57 803.12L254.77 805.59L257.84 808.20L260.77 810.95L263.56 813.84L266.21 816.88L268.71 820.05L271.06 823.35L273.26 826.76L275.31 830.28L277.22 833.91L278.97 837.62L280.57 841.42L282.02 845.30L283.32 849.25L284.46 853.25L285.45 857.31L286.28 861.41L286.96 865.55L287.47 869.71L287.83 873.89L288.03 878.09L288.07 882.29L287.95 886.48L287.67 890.65L287.23 894.81L286.62 898.94L285.84 903.02L284.91 907.07L283.80 911.05L282.53 914.98L281.09 918.83L279.49 922.61L277.71 926.30L275.77 929.89L273.65 933.38L271.36 936.75L268.90 940.01L266.26 943.14L263.45 946.13L260.47 948.98L257.33 951.68L254.04 954.22L250.62 956.59L247.07 958.79L243.42 960.81L239.67 962.64L235.83 964.28L231.93 965.72L227.97 966.94L223.97 967.95L219.93 968.74L215.88 969.30L211.82 969.62L207.76 969.69L203.73 969.52L199.73 969.08L195.78 968.38L191.88 967.40L188.06 966.14L184.32 964.59L180.68 962.75L177.15 960.61L173.73 958.20L170.45 955.54L167.29 952.65L164.28 949.57L161.42 946.33L158.71 942.95L156.17 939.46L153.81 935.89L151.61 932.25L149.60 928.55L147.75 924.80L146.06 921.00L144.54 917.15L143.18 913.26L141.98 909.33L140.93 905.37L140.03 901.38L139.27 897.35L138.66 893.31L138.19 889.25L137.85 885.17L137.65 881.09Z" fill="none" stroke="#cc00cc" stroke-width="1.7"/>
<rect x="138.10" y="743.60" width="162.30" height="256.10" fill="none" stroke="#777" stroke-width="1.0"/>
<circle cx="282.85" cy="835.89" r="1.35" fill="#000"/>
<circle cx="284.28" cy="839.26" r="1.35" fill="#000"/>
<circle cx="285.67" cy="842.88" r="1.35" fill="#000"/>
<circle cx="286.86" cy="846.35" r="1.35" fill="#000"/>
<circle cx="287.93" cy="849.87" r="1.35" fill="#000"/>
<circle cx="288.95" cy="853.64" r="1.35" fill="#000"/>
<circle cx="289.78" cy="857.23" r="1.35" fill="#000"/>
<circle cx="290.50" cy="860.86" r="1.35" fill="#000"/>
<circle cx="291.13" cy="864.73" r="1.35" fill="#000"/>
<circle cx="291.60" cy="868.40" r="1.35" fill="#000"/>
<circle cx="291.96" cy="872.09" r="1.35" fill="#000"/>
<circle cx="292.20" cy="876.01" r="1.35" fill="#000"/>
<circle cx="292.31" cy="879.71" r="1.35" fill="#000"/>
<text x="132.40" y="781.72" font-family="Liberation Sans" font-size="15.4" fill="#000" text-anchor="end" textLength="23.10" lengthAdjust="spacingAndGlyphs" >0.6</text>
<text x="132.40" y="816.38" font-family="Liberation Sans" font-size="15.4" fill="#000" text-anchor="end" textLength="23.10" lengthAdjust="spacingAndGlyphs" >0.4</text>
<text x="132.40" y="851.04" font-family="Liberation Sans" font-size="15.4" fill="#000" text-anchor="end" textLength="23.10" lengthAdjust="spacingAndGlyphs" >0.2</text>
<text x="132.40" y="885.70" font-family="Liberation Sans" font-size="15.4" fill="#000" text-anchor="end" textLength="23.10" lengthAdjust="spacingAndGlyphs" >0.0</text>
<text x="132.40" y="920.36" font-family="Liberation Sans" font-size="15.4" fill="#000" text-anchor="end" textLength="34.50" lengthAdjust="spacingAndGlyphs" >−0.2</text>
<text x="132.40" y="955.02" font-family="Liberation Sans" font-size="15.4" fill="#000" text-anchor="end" textLength="34.50" lengthAdjust="spacingAndGlyphs" >−0.4</text>
<text x="132.40" y="989.68" font-family="Liberation Sans" font-size="15.4" fill="#000" text-anchor="end" textLength="34.50" lengthAdjust="spacingAndGlyphs" >−0.6</text>
<text x="170.88" y="1017.00" font-family="Liberation Sans" font-size="15.4" fill="#000" text-anchor="middle" textLength="33.40" lengthAdjust="spacingAndGlyphs" >2.25</text>
<text x="214.20" y="1017.00" font-family="Liberation Sans" font-size="15.4" fill="#000" text-anchor="middle" textLength="33.40" lengthAdjust="spacingAndGlyphs" >2.50</text>
<text x="257.52" y="1017.00" font-family="Liberation Sans" font-size="15.4" fill="#000" text-anchor="middle" textLength="33.40" lengthAdjust="spacingAndGlyphs" >2.75</text>
<path d="M138.10 776.62h-3.5M138.10 811.28h-3.5M138.10 845.94h-3.5M138.10 880.60h-3.5M138.10 915.26h-3.5M138.10 949.92h-3.5M138.10 984.58h-3.5M170.88 999.70v3.5M214.20 999.70v3.5M257.52 999.70v3.5" stroke="#333" stroke-width="1"/>
<text x="219.25" y="1032.80" font-family="Liberation Sans" font-size="15.4" fill="#000" text-anchor="middle" textLength="41.50" lengthAdjust="spacingAndGlyphs" >R [m]</text>
<text x="219.25" y="737.90" font-family="Liberation Serif" font-size="21.7" fill="#000" text-anchor="middle" font-weight="bold" textLength="25.90" lengthAdjust="spacingAndGlyphs" >0°</text>
<g clip-path="url(#clipB1)">
<path d="M353.83 880.30L353.80 876.10L353.89 871.89L354.10 867.68L354.42 863.47L354.85 859.26L355.37 855.06L355.99 850.86L356.69 846.67L357.47 842.49L358.32 838.31L359.23 834.15L360.20 830.00L361.23 825.87L362.30 821.76L363.40 817.66L364.54 813.58L365.71 809.52L366.92 805.48L368.20 801.45L369.56 797.42L371.02 793.39L372.60 789.35L374.33 785.31L376.30 781.44L378.61 777.93L381.38 774.98L384.65 772.74L388.28 771.24L392.12 770.46L396.04 770.37L400.03 770.85L404.07 771.76L408.15 772.99L412.27 774.40L416.40 775.87L420.54 777.36L424.67 778.87L428.80 780.40L432.91 781.98L436.99 783.60L441.03 785.27L445.02 787.01L448.96 788.82L452.83 790.70L456.63 792.68L460.34 794.75L463.96 796.92L467.48 799.21L470.88 801.62L474.17 804.16L477.32 806.84L480.33 809.66L483.20 812.63L485.92 815.75L488.48 819.01L490.90 822.39L493.16 825.90L495.27 829.52L497.23 833.24L499.03 837.06L500.67 840.96L502.16 844.94L503.49 849.00L504.67 853.11L505.68 857.28L506.54 861.49L507.23 865.74L507.76 870.02L508.13 874.31L508.34 878.62L508.38 882.93L508.25 887.24L507.96 891.53L507.51 895.80L506.88 900.03L506.09 904.23L505.12 908.38L503.99 912.48L502.69 916.51L501.21 920.47L499.56 924.35L497.73 928.13L495.74 931.82L493.56 935.41L491.21 938.88L488.68 942.22L485.97 945.44L483.09 948.51L480.03 951.44L476.80 954.21L473.42 956.82L469.90 959.25L466.26 961.51L462.51 963.59L458.66 965.47L454.72 967.15L450.71 968.63L446.64 969.89L442.53 970.92L438.39 971.73L434.22 972.31L430.05 972.63L425.89 972.71L421.75 972.53L417.64 972.08L413.58 971.36L409.58 970.35L405.65 969.06L401.81 967.47L398.07 965.58L394.44 963.38L390.94 960.90L387.56 958.17L384.32 955.21L381.23 952.05L378.29 948.71L375.51 945.24L372.90 941.66L370.47 937.99L368.22 934.25L366.14 930.45L364.24 926.60L362.52 922.70L360.96 918.75L359.56 914.75L358.32 910.71L357.24 906.64L356.32 902.54L355.54 898.41L354.91 894.26L354.43 890.08L354.08 885.90L353.87 881.70Z" fill="#000"/>
<path d="M364.06 880.18L364.03 876.04L364.11 871.90L364.29 867.75L364.57 863.60L364.94 859.46L365.40 855.32L365.93 851.18L366.54 847.05L367.22 842.93L367.96 838.82L368.76 834.72L369.60 830.64L370.49 826.57L371.42 822.51L372.39 818.48L373.38 814.46L374.39 810.47L375.45 806.49L376.56 802.51L377.74 798.54L379.01 794.57L380.39 790.59L381.89 786.62L383.61 782.80L385.62 779.35L388.03 776.44L390.87 774.24L394.03 772.75L397.37 771.99L400.78 771.90L404.25 772.37L407.77 773.27L411.32 774.48L414.90 775.87L418.49 777.32L422.09 778.78L425.69 780.27L429.28 781.78L432.86 783.33L436.40 784.93L439.92 786.58L443.40 788.29L446.82 790.07L450.19 791.93L453.49 793.87L456.72 795.91L459.87 798.06L462.93 800.31L465.89 802.68L468.75 805.18L471.49 807.82L474.12 810.60L476.61 813.53L478.97 816.60L481.21 819.81L483.31 823.14L485.28 826.60L487.11 830.16L488.81 833.83L490.38 837.59L491.81 841.43L493.11 845.35L494.26 849.35L495.29 853.40L496.17 857.50L496.91 861.65L497.51 865.84L497.98 870.05L498.30 874.28L498.48 878.53L498.51 882.77L498.41 887.01L498.15 891.24L497.76 895.44L497.21 899.62L496.52 903.75L495.68 907.84L494.70 911.88L493.56 915.85L492.28 919.75L490.84 923.57L489.25 927.30L487.52 930.93L485.62 934.46L483.58 937.88L481.38 941.17L479.02 944.34L476.51 947.37L473.85 950.25L471.04 952.98L468.10 955.55L465.04 957.95L461.87 960.17L458.61 962.22L455.26 964.07L451.83 965.73L448.34 967.18L444.81 968.42L441.23 969.44L437.62 970.24L434.00 970.80L430.37 971.13L426.75 971.20L423.14 971.02L419.57 970.58L416.04 969.87L412.56 968.88L409.14 967.61L405.80 966.04L402.55 964.18L399.39 962.02L396.34 959.58L393.40 956.88L390.58 953.96L387.89 950.85L385.34 947.57L382.92 944.15L380.65 940.62L378.53 937.00L376.57 933.32L374.77 929.58L373.12 925.79L371.61 921.94L370.26 918.05L369.04 914.11L367.96 910.14L367.03 906.13L366.22 902.09L365.55 898.02L365.00 893.93L364.58 889.82L364.27 885.69L364.09 881.56Z" fill="#110000" filter="url(#bl1)"/>
<path d="M329.7 747.7L411.8 747.7L407.9 756.6L404.3 765.5L401.0 774.4L397.9 783.3L395.1 792.2L392.6 801.1L390.3 810.0L388.3 818.9L386.6 827.8L385.1 836.7L383.9 845.6L383.0 854.5L382.3 863.4L381.9 872.3L381.8 881.2L381.9 890.1L382.3 899.0L383.0 907.9L383.9 916.8L385.1 925.7L386.6 934.6L388.3 943.5L390.3 952.4L392.6 961.3L395.1 970.2L397.9 979.1L401.0 988.0L404.3 996.9L407.9 1005.8L411.8 1014.7L329.7 1014.7Z" fill="#000" filter="url(#bl15)"/>
<rect x="424" y="760" width="18" height="230" fill="url(#stripeG)" filter="url(#bl2)"/>
<ellipse cx="432.0" cy="786" rx="4" ry="7" fill="#300000" filter="url(#bl2)"/>
<ellipse cx="432.0" cy="803" rx="4" ry="7" fill="#380000" filter="url(#bl2)"/>
<ellipse cx="432.0" cy="820" rx="4" ry="7" fill="#3c0000" filter="url(#bl2)"/>
<ellipse cx="432.0" cy="933" rx="4" ry="7" fill="#3c0000" filter="url(#bl2)"/>
<ellipse cx="432.0" cy="950" rx="4" ry="7" fill="#340000" filter="url(#bl2)"/>
<ellipse cx="432.0" cy="966" rx="4" ry="6" fill="#2c0000" filter="url(#bl2)"/>
<ellipse cx="430.3" cy="876.5" rx="7.0" ry="42" fill="#c00000" filter="url(#bl3)"/>
<ellipse cx="430.0" cy="876.5" rx="4.8" ry="31" fill="#ff3a00" filter="url(#bl2)"/>
<ellipse cx="429.8" cy="865.4" rx="4.0" ry="7" fill="#ffff00" filter="url(#bl15)"/>
<ellipse cx="429.8" cy="887.8" rx="4.0" ry="7" fill="#ffff00" filter="url(#bl15)"/>
<path d="M427.0 847.0 Q428.0 838.0 436.0 836.0" fill="none" stroke="#c80000" stroke-width="2.6" stroke-linecap="round" filter="url(#bl1)"/>
<path d="M427.0 906.0 Q428.0 915.0 436.0 917.0" fill="none" stroke="#c80000" stroke-width="2.6" stroke-linecap="round" filter="url(#bl1)"/>
</g>
<path d="M353.83 880.30L353.80 876.10L353.89 871.89L354.10 867.68L354.42 863.47L354.85 859.26L355.37 855.06L355.99 850.86L356.69 846.67L357.47 842.49L358.32 838.31L359.23 834.15L360.20 830.00L361.23 825.87L362.30 821.76L363.40 817.66L364.54 813.58L365.71 809.52L366.92 805.48L368.20 801.45L369.56 797.42L371.02 793.39L372.60 789.35L374.33 785.31L376.30 781.44L378.61 777.93L381.38 774.98L384.65 772.74L388.28 771.24L392.12 770.46L396.04 770.37L400.03 770.85L404.07 771.76L408.15 772.99L412.27 774.40L416.40 775.87L420.54 777.36L424.67 778.87L428.80 780.40L432.91 781.98L436.99 783.60L441.03 785.27L445.02 787.01L448.96 788.82L452.83 790.70L456.63 792.68L460.34 794.75L463.96 796.92L467.48 799.21L470.88 801.62L474.17 804.16L477.32 806.84L480.33 809.66L483.20 812.63L485.92 815.75L488.48 819.01L490.90 822.39L493.16 825.90L495.27 829.52L497.23 833.24L499.03 837.06L500.67 840.96L502.16 844.94L503.49 849.00L504.67 853.11L505.68 857.28L506.54 861.49L507.23 865.74L507.76 870.02L508.13 874.31L508.34 878.62L508.38 882.93L508.25 887.24L507.96 891.53L507.51 895.80L506.88 900.03L506.09 904.23L505.12 908.38L503.99 912.48L502.69 916.51L501.21 920.47L499.56 924.35L497.73 928.13L495.74 931.82L493.56 935.41L491.21 938.88L488.68 942.22L485.97 945.44L483.09 948.51L480.03 951.44L476.80 954.21L473.42 956.82L469.90 959.25L466.26 961.51L462.51 963.59L458.66 965.47L454.72 967.15L450.71 968.63L446.64 969.89L442.53 970.92L438.39 971.73L434.22 972.31L430.05 972.63L425.89 972.71L421.75 972.53L417.64 972.08L413.58 971.36L409.58 970.35L405.65 969.06L401.81 967.47L398.07 965.58L394.44 963.38L390.94 960.90L387.56 958.17L384.32 955.21L381.23 952.05L378.29 948.71L375.51 945.24L372.90 941.66L370.47 937.99L368.22 934.25L366.14 930.45L364.24 926.60L362.52 922.70L360.96 918.75L359.56 914.75L358.32 910.71L357.24 906.64L356.32 902.54L355.54 898.41L354.91 894.26L354.43 890.08L354.08 885.90L353.87 881.70Z" fill="none" stroke="#cc00cc" stroke-width="1.7"/>
<rect x="349.70" y="743.60" width="162.40" height="256.10" fill="none" stroke="#777" stroke-width="1.0"/>
<circle cx="481.71" cy="806.43" r="1.35" fill="#000"/>
<circle cx="484.44" cy="809.17" r="1.35" fill="#000"/>
<circle cx="487.19" cy="812.19" r="1.35" fill="#000"/>
<circle cx="489.66" cy="815.17" r="1.35" fill="#000"/>
<circle cx="492.12" cy="818.44" r="1.35" fill="#000"/>
<circle cx="494.33" cy="821.63" r="1.35" fill="#000"/>
<circle cx="496.40" cy="824.93" r="1.35" fill="#000"/>
<circle cx="498.45" cy="828.50" r="1.35" fill="#000"/>
<circle cx="500.25" cy="831.98" r="1.35" fill="#000"/>
<circle cx="502.02" cy="835.72" r="1.35" fill="#000"/>
<circle cx="503.55" cy="839.35" r="1.35" fill="#000"/>
<circle cx="505.03" cy="843.24" r="1.35" fill="#000"/>
<circle cx="506.30" cy="846.99" r="1.35" fill="#000"/>
<text x="344.00" y="779.50" font-family="Liberation Sans" font-size="15.4" fill="#000" text-anchor="end" textLength="23.10" lengthAdjust="spacingAndGlyphs" >0.6</text>
<text x="344.00" y="815.10" font-family="Liberation Sans" font-size="15.4" fill="#000" text-anchor="end" textLength="23.10" lengthAdjust="spacingAndGlyphs" >0.4</text>
<text x="344.00" y="850.70" font-family="Liberation Sans" font-size="15.4" fill="#000" text-anchor="end" textLength="23.10" lengthAdjust="spacingAndGlyphs" >0.2</text>
<text x="344.00" y="886.30" font-family="Liberation Sans" font-size="15.4" fill="#000" text-anchor="end" textLength="23.10" lengthAdjust="spacingAndGlyphs" >0.0</text>
<text x="344.00" y="921.90" font-family="Liberation Sans" font-size="15.4" fill="#000" text-anchor="end" textLength="34.50" lengthAdjust="spacingAndGlyphs" >−0.2</text>
<text x="344.00" y="957.50" font-family="Liberation Sans" font-size="15.4" fill="#000" text-anchor="end" textLength="34.50" lengthAdjust="spacingAndGlyphs" >−0.4</text>
<text x="344.00" y="993.10" font-family="Liberation Sans" font-size="15.4" fill="#000" text-anchor="end" textLength="34.50" lengthAdjust="spacingAndGlyphs" >−0.6</text>
<text x="388.00" y="1017.00" font-family="Liberation Sans" font-size="15.4" fill="#000" text-anchor="middle" textLength="33.40" lengthAdjust="spacingAndGlyphs" >2.25</text>
<text x="432.50" y="1017.00" font-family="Liberation Sans" font-size="15.4" fill="#000" text-anchor="middle" textLength="33.40" lengthAdjust="spacingAndGlyphs" >2.50</text>
<text x="477.00" y="1017.00" font-family="Liberation Sans" font-size="15.4" fill="#000" text-anchor="middle" textLength="33.40" lengthAdjust="spacingAndGlyphs" >2.75</text>
<path d="M349.70 774.40h-3.5M349.70 810.00h-3.5M349.70 845.60h-3.5M349.70 881.20h-3.5M349.70 916.80h-3.5M349.70 952.40h-3.5M349.70 988.00h-3.5M388.00 999.70v3.5M432.50 999.70v3.5M477.00 999.70v3.5" stroke="#333" stroke-width="1"/>
<text x="430.90" y="1032.80" font-family="Liberation Sans" font-size="15.4" fill="#000" text-anchor="middle" textLength="41.50" lengthAdjust="spacingAndGlyphs" >R [m]</text>
<text x="430.90" y="737.90" font-family="Liberation Serif" font-size="21.7" fill="#000" text-anchor="middle" font-weight="bold" textLength="63.60" lengthAdjust="spacingAndGlyphs" >22.5°</text>
<g clip-path="url(#clipB2)">
<path d="M563.93 880.40L563.90 876.20L563.99 871.99L564.20 867.78L564.52 863.57L564.95 859.36L565.47 855.16L566.09 850.96L566.79 846.77L567.57 842.59L568.42 838.41L569.33 834.25L570.30 830.10L571.33 825.97L572.40 821.86L573.50 817.76L574.64 813.68L575.81 809.62L577.02 805.58L578.30 801.55L579.66 797.52L581.12 793.49L582.70 789.45L584.43 785.41L586.40 781.54L588.71 778.03L591.48 775.08L594.75 772.84L598.38 771.34L602.22 770.56L606.14 770.47L610.13 770.95L614.17 771.86L618.25 773.09L622.37 774.50L626.50 775.97L630.64 777.46L634.77 778.97L638.90 780.50L643.01 782.08L647.09 783.70L651.13 785.37L655.12 787.11L659.06 788.92L662.93 790.80L666.73 792.78L670.44 794.85L674.06 797.02L677.58 799.31L680.98 801.72L684.27 804.26L687.42 806.94L690.43 809.76L693.30 812.73L696.02 815.85L698.58 819.11L701.00 822.49L703.26 826.00L705.37 829.62L707.33 833.34L709.13 837.16L710.77 841.06L712.26 845.04L713.59 849.10L714.77 853.21L715.78 857.38L716.64 861.59L717.33 865.84L717.86 870.12L718.23 874.41L718.44 878.72L718.48 883.03L718.35 887.34L718.06 891.63L717.61 895.90L716.98 900.13L716.19 904.33L715.22 908.48L714.09 912.58L712.79 916.61L711.31 920.57L709.66 924.45L707.83 928.23L705.84 931.92L703.66 935.51L701.31 938.98L698.78 942.32L696.07 945.54L693.19 948.61L690.13 951.54L686.90 954.31L683.52 956.92L680.00 959.35L676.36 961.61L672.61 963.69L668.76 965.57L664.82 967.25L660.81 968.73L656.74 969.99L652.63 971.02L648.49 971.83L644.32 972.41L640.15 972.73L635.99 972.81L631.85 972.63L627.74 972.18L623.68 971.46L619.68 970.45L615.75 969.16L611.91 967.57L608.17 965.68L604.54 963.48L601.04 961.00L597.66 958.27L594.42 955.31L591.33 952.15L588.39 948.81L585.61 945.34L583.00 941.76L580.57 938.09L578.32 934.35L576.24 930.55L574.34 926.70L572.62 922.80L571.06 918.85L569.66 914.85L568.42 910.81L567.34 906.74L566.42 902.64L565.64 898.51L565.01 894.36L564.53 890.18L564.18 886.00L563.97 881.80Z" fill="#000"/>
<path d="M574.16 880.28L574.13 876.14L574.21 872.00L574.39 867.85L574.67 863.70L575.04 859.56L575.50 855.42L576.03 851.28L576.64 847.15L577.32 843.03L578.06 838.92L578.86 834.82L579.70 830.74L580.59 826.67L581.52 822.61L582.49 818.58L583.48 814.56L584.49 810.57L585.55 806.59L586.66 802.61L587.84 798.64L589.11 794.67L590.49 790.69L591.99 786.72L593.71 782.90L595.72 779.45L598.13 776.54L600.97 774.34L604.13 772.85L607.47 772.09L610.88 772.00L614.35 772.47L617.87 773.37L621.42 774.58L625.00 775.97L628.59 777.42L632.19 778.88L635.79 780.37L639.38 781.88L642.96 783.43L646.50 785.03L650.02 786.68L653.50 788.39L656.92 790.17L660.29 792.03L663.59 793.97L666.82 796.01L669.97 798.16L673.03 800.41L675.99 802.78L678.85 805.28L681.59 807.92L684.22 810.70L686.71 813.63L689.07 816.70L691.31 819.91L693.41 823.24L695.38 826.70L697.21 830.26L698.91 833.93L700.48 837.69L701.91 841.53L703.21 845.45L704.36 849.45L705.39 853.50L706.27 857.60L707.01 861.75L707.61 865.94L708.08 870.15L708.40 874.38L708.58 878.63L708.61 882.87L708.51 887.11L708.25 891.34L707.86 895.54L707.31 899.72L706.62 903.85L705.78 907.94L704.80 911.98L703.66 915.95L702.38 919.85L700.94 923.67L699.35 927.40L697.62 931.03L695.72 934.56L693.68 937.98L691.48 941.27L689.12 944.44L686.61 947.47L683.95 950.35L681.14 953.08L678.20 955.65L675.14 958.05L671.97 960.27L668.71 962.32L665.36 964.17L661.93 965.83L658.44 967.28L654.91 968.52L651.33 969.54L647.72 970.34L644.10 970.90L640.47 971.23L636.85 971.30L633.24 971.12L629.67 970.68L626.14 969.97L622.66 968.98L619.24 967.71L615.90 966.14L612.65 964.28L609.49 962.12L606.44 959.68L603.50 956.98L600.68 954.06L597.99 950.95L595.44 947.67L593.02 944.25L590.75 940.72L588.63 937.10L586.67 933.42L584.87 929.68L583.22 925.89L581.71 922.04L580.36 918.15L579.14 914.21L578.06 910.24L577.13 906.23L576.32 902.19L575.65 898.12L575.10 894.03L574.68 889.92L574.37 885.79L574.19 881.66Z" fill="#110000" filter="url(#bl1)"/>
<path d="M540.7 747.8L621.9 747.8L618.0 756.7L614.4 765.6L611.1 774.5L608.0 783.4L605.2 792.3L602.7 801.2L600.4 810.1L598.4 819.0L596.7 827.9L595.2 836.8L594.0 845.7L593.1 854.6L592.4 863.5L592.0 872.4L591.9 881.3L592.0 890.2L592.4 899.1L593.1 908.0L594.0 916.9L595.2 925.8L596.7 934.7L598.4 943.6L600.4 952.5L602.7 961.4L605.2 970.3L608.0 979.2L611.1 988.1L614.4 997.0L618.0 1005.9L621.9 1014.8L540.7 1014.8Z" fill="#000" filter="url(#bl15)"/>
<rect x="635" y="760" width="17" height="230" fill="url(#stripeG)" filter="url(#bl2)"/>
<ellipse cx="644.0" cy="786" rx="4" ry="7" fill="#300000" filter="url(#bl2)"/>
<ellipse cx="644.0" cy="803" rx="4" ry="7" fill="#380000" filter="url(#bl2)"/>
<ellipse cx="644.0" cy="820" rx="4" ry="7" fill="#3c0000" filter="url(#bl2)"/>
<ellipse cx="644.0" cy="933" rx="4" ry="7" fill="#3c0000" filter="url(#bl2)"/>
<ellipse cx="644.0" cy="950" rx="4" ry="7" fill="#340000" filter="url(#bl2)"/>
<ellipse cx="644.0" cy="966" rx="4" ry="6" fill="#2c0000" filter="url(#bl2)"/>
<ellipse cx="643.0" cy="876.5" rx="7.5" ry="45" fill="#c00000" filter="url(#bl3)"/>
<ellipse cx="642.6" cy="876.5" rx="5.0" ry="33" fill="#ff3000" filter="url(#bl2)"/>
<ellipse cx="642.9" cy="852.1" rx="4.5" ry="5" fill="#ff8000" filter="url(#bl15)"/>
<ellipse cx="641.9" cy="902.1" rx="4.5" ry="5" fill="#ff8000" filter="url(#bl15)"/>
<ellipse cx="642.4" cy="867.4" rx="5" ry="5.5" fill="#ffff30" filter="url(#bl15)"/>
<ellipse cx="641.9" cy="886.8" rx="5" ry="5.5" fill="#ffff30" filter="url(#bl15)"/>
<ellipse cx="642.4" cy="867.4" rx="2.2" ry="2.5" fill="#ffffc0" filter="url(#bl1)"/>
<ellipse cx="641.9" cy="886.8" rx="2.2" ry="2.5" fill="#ffffc0" filter="url(#bl1)"/>
<path d="M639.6 842.0 Q640.6 834.0 648.6 832.0" fill="none" stroke="#c80000" stroke-width="2.6" stroke-linecap="round" filter="url(#bl1)"/>
<path d="M639.6 911.0 Q640.6 919.0 648.6 921.0" fill="none" stroke="#c80000" stroke-width="2.6" stroke-linecap="round" filter="url(#bl1)"/>
</g>
<path d="M563.93 880.40L563.90 876.20L563.99 871.99L564.20 867.78L564.52 863.57L564.95 859.36L565.47 855.16L566.09 850.96L566.79 846.77L567.57 842.59L568.42 838.41L569.33 834.25L570.30 830.10L571.33 825.97L572.40 821.86L573.50 817.76L574.64 813.68L575.81 809.62L577.02 805.58L578.30 801.55L579.66 797.52L581.12 793.49L582.70 789.45L584.43 785.41L586.40 781.54L588.71 778.03L591.48 775.08L594.75 772.84L598.38 771.34L602.22 770.56L606.14 770.47L610.13 770.95L614.17 771.86L618.25 773.09L622.37 774.50L626.50 775.97L630.64 777.46L634.77 778.97L638.90 780.50L643.01 782.08L647.09 783.70L651.13 785.37L655.12 787.11L659.06 788.92L662.93 790.80L666.73 792.78L670.44 794.85L674.06 797.02L677.58 799.31L680.98 801.72L684.27 804.26L687.42 806.94L690.43 809.76L693.30 812.73L696.02 815.85L698.58 819.11L701.00 822.49L703.26 826.00L705.37 829.62L707.33 833.34L709.13 837.16L710.77 841.06L712.26 845.04L713.59 849.10L714.77 853.21L715.78 857.38L716.64 861.59L717.33 865.84L717.86 870.12L718.23 874.41L718.44 878.72L718.48 883.03L718.35 887.34L718.06 891.63L717.61 895.90L716.98 900.13L716.19 904.33L715.22 908.48L714.09 912.58L712.79 916.61L711.31 920.57L709.66 924.45L707.83 928.23L705.84 931.92L703.66 935.51L701.31 938.98L698.78 942.32L696.07 945.54L693.19 948.61L690.13 951.54L686.90 954.31L683.52 956.92L680.00 959.35L676.36 961.61L672.61 963.69L668.76 965.57L664.82 967.25L660.81 968.73L656.74 969.99L652.63 971.02L648.49 971.83L644.32 972.41L640.15 972.73L635.99 972.81L631.85 972.63L627.74 972.18L623.68 971.46L619.68 970.45L615.75 969.16L611.91 967.57L608.17 965.68L604.54 963.48L601.04 961.00L597.66 958.27L594.42 955.31L591.33 952.15L588.39 948.81L585.61 945.34L583.00 941.76L580.57 938.09L578.32 934.35L576.24 930.55L574.34 926.70L572.62 922.80L571.06 918.85L569.66 914.85L568.42 910.81L567.34 906.74L566.42 902.64L565.64 898.51L565.01 894.36L564.53 890.18L564.18 886.00L563.97 881.80Z" fill="none" stroke="#cc00cc" stroke-width="1.7"/>
<rect x="560.70" y="743.60" width="163.50" height="256.10" fill="none" stroke="#777" stroke-width="1.0"/>
<circle cx="683.73" cy="798.01" r="1.35" fill="#000"/>
<circle cx="686.83" cy="800.40" r="1.35" fill="#000"/>
<circle cx="689.84" cy="802.91" r="1.35" fill="#000"/>
<circle cx="692.57" cy="805.41" r="1.35" fill="#000"/>
<circle cx="695.36" cy="808.18" r="1.35" fill="#000"/>
<circle cx="698.01" cy="811.08" r="1.35" fill="#000"/>
<circle cx="700.40" cy="813.92" r="1.35" fill="#000"/>
<circle cx="702.80" cy="817.04" r="1.35" fill="#000"/>
<circle cx="705.06" cy="820.27" r="1.35" fill="#000"/>
<circle cx="707.19" cy="823.59" r="1.35" fill="#000"/>
<circle cx="709.19" cy="827.00" r="1.35" fill="#000"/>
<circle cx="710.96" cy="830.30" r="1.35" fill="#000"/>
<circle cx="712.70" cy="833.87" r="1.35" fill="#000"/>
<text x="555.00" y="779.60" font-family="Liberation Sans" font-size="15.4" fill="#000" text-anchor="end" textLength="23.10" lengthAdjust="spacingAndGlyphs" >0.6</text>
<text x="555.00" y="815.20" font-family="Liberation Sans" font-size="15.4" fill="#000" text-anchor="end" textLength="23.10" lengthAdjust="spacingAndGlyphs" >0.4</text>
<text x="555.00" y="850.80" font-family="Liberation Sans" font-size="15.4" fill="#000" text-anchor="end" textLength="23.10" lengthAdjust="spacingAndGlyphs" >0.2</text>
<text x="555.00" y="886.40" font-family="Liberation Sans" font-size="15.4" fill="#000" text-anchor="end" textLength="23.10" lengthAdjust="spacingAndGlyphs" >0.0</text>
<text x="555.00" y="922.00" font-family="Liberation Sans" font-size="15.4" fill="#000" text-anchor="end" textLength="34.50" lengthAdjust="spacingAndGlyphs" >−0.2</text>
<text x="555.00" y="957.60" font-family="Liberation Sans" font-size="15.4" fill="#000" text-anchor="end" textLength="34.50" lengthAdjust="spacingAndGlyphs" >−0.4</text>
<text x="555.00" y="993.20" font-family="Liberation Sans" font-size="15.4" fill="#000" text-anchor="end" textLength="34.50" lengthAdjust="spacingAndGlyphs" >−0.6</text>
<text x="598.10" y="1017.00" font-family="Liberation Sans" font-size="15.4" fill="#000" text-anchor="middle" textLength="33.40" lengthAdjust="spacingAndGlyphs" >2.25</text>
<text x="642.60" y="1017.00" font-family="Liberation Sans" font-size="15.4" fill="#000" text-anchor="middle" textLength="33.40" lengthAdjust="spacingAndGlyphs" >2.50</text>
<text x="687.10" y="1017.00" font-family="Liberation Sans" font-size="15.4" fill="#000" text-anchor="middle" textLength="33.40" lengthAdjust="spacingAndGlyphs" >2.75</text>
<path d="M560.70 774.50h-3.5M560.70 810.10h-3.5M560.70 845.70h-3.5M560.70 881.30h-3.5M560.70 916.90h-3.5M560.70 952.50h-3.5M560.70 988.10h-3.5M598.10 999.70v3.5M642.60 999.70v3.5M687.10 999.70v3.5" stroke="#333" stroke-width="1"/>
<text x="642.45" y="1032.80" font-family="Liberation Sans" font-size="15.4" fill="#000" text-anchor="middle" textLength="41.50" lengthAdjust="spacingAndGlyphs" >R [m]</text>
<text x="642.45" y="737.90" font-family="Liberation Serif" font-size="21.7" fill="#000" text-anchor="middle" font-weight="bold" textLength="80.30" lengthAdjust="spacingAndGlyphs" >33.75°</text>
<g clip-path="url(#clipB3)">
<path d="M771.83 879.81L771.80 875.67L771.89 871.52L772.10 867.37L772.42 863.22L772.84 859.07L773.35 854.93L773.96 850.79L774.65 846.65L775.42 842.53L776.26 838.41L777.16 834.31L778.12 830.22L779.13 826.15L780.18 822.09L781.27 818.05L782.40 814.03L783.55 810.03L784.74 806.05L786.00 802.07L787.34 798.10L788.78 794.12L790.34 790.14L792.05 786.16L793.99 782.34L796.27 778.88L799.00 775.97L802.22 773.77L805.80 772.28L809.59 771.52L813.45 771.43L817.39 771.90L821.37 772.80L825.40 774.01L829.45 775.40L833.52 776.85L837.60 778.32L841.68 779.80L845.75 781.32L849.80 782.87L853.83 784.47L857.81 786.12L861.75 787.83L865.63 789.61L869.45 791.47L873.19 793.42L876.85 795.46L880.42 797.61L883.89 799.86L887.24 802.24L890.48 804.74L893.59 807.38L896.56 810.16L899.39 813.10L902.07 816.17L904.60 819.38L906.98 822.72L909.21 826.18L911.29 829.74L913.22 833.41L914.99 837.18L916.62 841.03L918.08 844.95L919.40 848.95L920.55 853.00L921.55 857.11L922.40 861.27L923.08 865.46L923.60 869.67L923.97 873.91L924.17 878.16L924.21 882.41L924.09 886.65L923.80 890.88L923.35 895.09L922.74 899.27L921.95 903.41L921.00 907.50L919.89 911.54L918.60 915.52L917.14 919.42L915.52 923.24L913.72 926.98L911.75 930.61L909.60 934.15L907.29 937.57L904.79 940.87L902.12 944.03L899.28 947.07L896.26 949.95L893.08 952.68L889.75 955.25L886.28 957.66L882.69 959.88L878.99 961.93L875.19 963.79L871.31 965.44L867.36 966.90L863.35 968.14L859.29 969.16L855.20 969.96L851.10 970.53L846.99 970.85L842.88 970.92L838.80 970.74L834.75 970.30L830.74 969.59L826.80 968.60L822.93 967.33L819.14 965.76L815.45 963.90L811.88 961.73L808.42 959.29L805.09 956.59L801.90 953.67L798.85 950.55L795.95 947.27L793.21 943.84L790.64 940.31L788.24 936.69L786.02 933.01L783.98 929.26L782.10 925.46L780.40 921.62L778.86 917.72L777.48 913.78L776.26 909.80L775.20 905.78L774.29 901.74L773.52 897.67L772.90 893.57L772.42 889.46L772.08 885.33L771.87 881.19Z" fill="#000"/>
<path d="M781.92 879.70L781.89 875.61L781.97 871.53L782.15 867.44L782.42 863.35L782.79 859.26L783.24 855.18L783.77 851.10L784.37 847.03L785.04 842.97L785.77 838.92L786.55 834.88L787.39 830.85L788.26 826.83L789.18 822.84L790.13 818.86L791.11 814.90L792.11 810.96L793.15 807.04L794.24 803.12L795.41 799.21L796.66 795.29L798.02 791.36L799.50 787.45L801.19 783.69L803.18 780.28L805.55 777.41L808.35 775.24L811.47 773.78L814.76 773.02L818.13 772.94L821.55 773.40L825.01 774.29L828.52 775.48L832.04 776.85L835.59 778.28L839.14 779.72L842.69 781.19L846.23 782.68L849.75 784.21L853.25 785.78L856.72 787.41L860.14 789.09L863.52 790.85L866.84 792.68L870.10 794.60L873.28 796.61L876.39 798.72L879.40 800.95L882.32 803.28L885.14 805.75L887.85 808.35L890.43 811.09L892.89 813.98L895.22 817.01L897.42 820.17L899.49 823.46L901.43 826.86L903.24 830.38L904.92 833.99L906.47 837.70L907.88 841.49L909.16 845.36L910.30 849.29L911.30 853.29L912.17 857.34L912.91 861.43L913.50 865.55L913.96 869.71L914.27 873.88L914.45 878.06L914.49 882.25L914.38 886.43L914.13 890.60L913.74 894.74L913.20 898.86L912.52 902.94L911.70 906.97L910.72 910.95L909.60 914.86L908.34 918.71L906.92 922.47L905.36 926.15L903.64 929.73L901.78 933.21L899.76 936.58L897.59 939.83L895.27 942.95L892.79 945.94L890.17 948.78L887.40 951.47L884.50 954.00L881.48 956.37L878.36 958.56L875.14 960.58L871.84 962.41L868.46 964.04L865.02 965.47L861.53 966.70L858.00 967.71L854.45 968.49L850.88 969.05L847.30 969.36L843.73 969.44L840.18 969.26L836.65 968.83L833.17 968.12L829.74 967.15L826.37 965.90L823.07 964.35L819.87 962.52L816.75 960.38L813.75 957.97L810.85 955.32L808.07 952.44L805.42 949.37L802.90 946.14L800.51 942.76L798.28 939.28L796.19 935.72L794.26 932.09L792.48 928.40L790.85 924.66L789.37 920.87L788.03 917.03L786.83 913.15L785.77 909.23L784.85 905.28L784.05 901.29L783.39 897.28L782.85 893.25L782.43 889.20L782.13 885.13L781.95 881.06Z" fill="#110000" filter="url(#bl1)"/>
<path d="M752.9 749.1L829.0 749.1L825.2 757.9L821.6 766.6L818.3 775.4L815.3 784.2L812.5 793.0L810.0 801.7L807.8 810.5L805.8 819.3L804.1 828.1L802.7 836.8L801.5 845.6L800.6 854.4L799.9 863.2L799.5 871.9L799.4 880.7L799.5 889.5L799.9 898.3L800.6 907.0L801.5 915.8L802.7 924.6L804.1 933.4L805.8 942.1L807.8 950.9L810.0 959.7L812.5 968.5L815.3 977.2L818.3 986.0L821.6 994.8L825.2 1003.6L829.0 1012.3L752.9 1012.3Z" fill="#000" filter="url(#bl15)"/>
<rect x="838" y="760" width="19" height="230" fill="url(#stripeG)" filter="url(#bl2)"/>
<ellipse cx="848.0" cy="786" rx="4" ry="7" fill="#300000" filter="url(#bl2)"/>
<ellipse cx="848.0" cy="803" rx="4" ry="7" fill="#380000" filter="url(#bl2)"/>
<ellipse cx="848.0" cy="820" rx="4" ry="7" fill="#3c0000" filter="url(#bl2)"/>
<ellipse cx="848.0" cy="933" rx="4" ry="7" fill="#3c0000" filter="url(#bl2)"/>
<ellipse cx="848.0" cy="950" rx="4" ry="7" fill="#340000" filter="url(#bl2)"/>
<ellipse cx="848.0" cy="966" rx="4" ry="6" fill="#2c0000" filter="url(#bl2)"/>
<rect x="854.5" y="855" width="6.0" height="45" fill="#4a0000" filter="url(#bl2)"/>
<ellipse cx="845.8" cy="876.5" rx="7.5" ry="31" fill="#c00000" filter="url(#bl3)"/>
<ellipse cx="845.5" cy="876.5" rx="5.2" ry="27" fill="#ff3000" filter="url(#bl2)"/>
<ellipse cx="845.5" cy="877.0" rx="4.0" ry="23" fill="#ffc800" filter="url(#bl15)"/>
<ellipse cx="845.5" cy="887.0" rx="2.8" ry="9" fill="#ffff50" filter="url(#bl15)"/>
<path d="M842.5 852.0 Q843.5 839.0 854.5 837.0" fill="none" stroke="#d80000" stroke-width="3.0" stroke-linecap="round" filter="url(#bl1)"/>
<path d="M842.5 902.0 Q843.5 915.0 854.5 917.0" fill="none" stroke="#d80000" stroke-width="3.0" stroke-linecap="round" filter="url(#bl1)"/>
</g>
<path d="M771.83 879.81L771.80 875.67L771.89 871.52L772.10 867.37L772.42 863.22L772.84 859.07L773.35 854.93L773.96 850.79L774.65 846.65L775.42 842.53L776.26 838.41L777.16 834.31L778.12 830.22L779.13 826.15L780.18 822.09L781.27 818.05L782.40 814.03L783.55 810.03L784.74 806.05L786.00 802.07L787.34 798.10L788.78 794.12L790.34 790.14L792.05 786.16L793.99 782.34L796.27 778.88L799.00 775.97L802.22 773.77L805.80 772.28L809.59 771.52L813.45 771.43L817.39 771.90L821.37 772.80L825.40 774.01L829.45 775.40L833.52 776.85L837.60 778.32L841.68 779.80L845.75 781.32L849.80 782.87L853.83 784.47L857.81 786.12L861.75 787.83L865.63 789.61L869.45 791.47L873.19 793.42L876.85 795.46L880.42 797.61L883.89 799.86L887.24 802.24L890.48 804.74L893.59 807.38L896.56 810.16L899.39 813.10L902.07 816.17L904.60 819.38L906.98 822.72L909.21 826.18L911.29 829.74L913.22 833.41L914.99 837.18L916.62 841.03L918.08 844.95L919.40 848.95L920.55 853.00L921.55 857.11L922.40 861.27L923.08 865.46L923.60 869.67L923.97 873.91L924.17 878.16L924.21 882.41L924.09 886.65L923.80 890.88L923.35 895.09L922.74 899.27L921.95 903.41L921.00 907.50L919.89 911.54L918.60 915.52L917.14 919.42L915.52 923.24L913.72 926.98L911.75 930.61L909.60 934.15L907.29 937.57L904.79 940.87L902.12 944.03L899.28 947.07L896.26 949.95L893.08 952.68L889.75 955.25L886.28 957.66L882.69 959.88L878.99 961.93L875.19 963.79L871.31 965.44L867.36 966.90L863.35 968.14L859.29 969.16L855.20 969.96L851.10 970.53L846.99 970.85L842.88 970.92L838.80 970.74L834.75 970.30L830.74 969.59L826.80 968.60L822.93 967.33L819.14 965.76L815.45 963.90L811.88 961.73L808.42 959.29L805.09 956.59L801.90 953.67L798.85 950.55L795.95 947.27L793.21 943.84L790.64 940.31L788.24 936.69L786.02 933.01L783.98 929.26L782.10 925.46L780.40 921.62L778.86 917.72L777.48 913.78L776.26 909.80L775.20 905.78L774.29 901.74L773.52 897.67L772.90 893.57L772.42 889.46L772.08 885.33L771.87 881.19Z" fill="none" stroke="#cc00cc" stroke-width="1.7"/>
<rect x="772.90" y="743.60" width="162.30" height="256.10" fill="none" stroke="#777" stroke-width="1.0"/>
<circle cx="926.20" cy="883.29" r="1.35" fill="#000"/>
<circle cx="926.05" cy="887.39" r="1.35" fill="#000"/>
<circle cx="925.76" cy="891.49" r="1.35" fill="#000"/>
<circle cx="925.31" cy="895.56" r="1.35" fill="#000"/>
<circle cx="924.71" cy="899.60" r="1.35" fill="#000"/>
<circle cx="923.96" cy="903.61" r="1.35" fill="#000"/>
<circle cx="923.05" cy="907.58" r="1.35" fill="#000"/>
<circle cx="921.98" cy="911.50" r="1.35" fill="#000"/>
<circle cx="920.77" cy="915.37" r="1.35" fill="#000"/>
<circle cx="919.39" cy="919.17" r="1.35" fill="#000"/>
<circle cx="917.86" cy="922.90" r="1.35" fill="#000"/>
<circle cx="916.16" cy="926.56" r="1.35" fill="#000"/>
<circle cx="914.31" cy="930.13" r="1.35" fill="#000"/>
<text x="767.20" y="780.50" font-family="Liberation Sans" font-size="15.4" fill="#000" text-anchor="end" textLength="23.10" lengthAdjust="spacingAndGlyphs" >0.6</text>
<text x="767.20" y="815.60" font-family="Liberation Sans" font-size="15.4" fill="#000" text-anchor="end" textLength="23.10" lengthAdjust="spacingAndGlyphs" >0.4</text>
<text x="767.20" y="850.70" font-family="Liberation Sans" font-size="15.4" fill="#000" text-anchor="end" textLength="23.10" lengthAdjust="spacingAndGlyphs" >0.2</text>
<text x="767.20" y="885.80" font-family="Liberation Sans" font-size="15.4" fill="#000" text-anchor="end" textLength="23.10" lengthAdjust="spacingAndGlyphs" >0.0</text>
<text x="767.20" y="920.90" font-family="Liberation Sans" font-size="15.4" fill="#000" text-anchor="end" textLength="34.50" lengthAdjust="spacingAndGlyphs" >−0.2</text>
<text x="767.20" y="956.00" font-family="Liberation Sans" font-size="15.4" fill="#000" text-anchor="end" textLength="34.50" lengthAdjust="spacingAndGlyphs" >−0.4</text>
<text x="767.20" y="991.10" font-family="Liberation Sans" font-size="15.4" fill="#000" text-anchor="end" textLength="34.50" lengthAdjust="spacingAndGlyphs" >−0.6</text>
<text x="805.52" y="1017.00" font-family="Liberation Sans" font-size="15.4" fill="#000" text-anchor="middle" textLength="33.40" lengthAdjust="spacingAndGlyphs" >2.25</text>
<text x="849.40" y="1017.00" font-family="Liberation Sans" font-size="15.4" fill="#000" text-anchor="middle" textLength="33.40" lengthAdjust="spacingAndGlyphs" >2.50</text>
<text x="893.27" y="1017.00" font-family="Liberation Sans" font-size="15.4" fill="#000" text-anchor="middle" textLength="33.40" lengthAdjust="spacingAndGlyphs" >2.75</text>
<path d="M772.90 775.40h-3.5M772.90 810.50h-3.5M772.90 845.60h-3.5M772.90 880.70h-3.5M772.90 915.80h-3.5M772.90 950.90h-3.5M772.90 986.00h-3.5M805.52 999.70v3.5M849.40 999.70v3.5M893.27 999.70v3.5" stroke="#333" stroke-width="1"/>
<text x="854.05" y="1032.80" font-family="Liberation Sans" font-size="15.4" fill="#000" text-anchor="middle" textLength="41.50" lengthAdjust="spacingAndGlyphs" >R [m]</text>
<text x="854.05" y="737.90" font-family="Liberation Serif" font-size="21.7" fill="#000" text-anchor="middle" font-weight="bold" textLength="88.30" lengthAdjust="spacingAndGlyphs" >-33.75°</text>
<text x="0.00" y="0.00" font-family="Liberation Sans" font-size="15.4" fill="#000" text-anchor="middle" textLength="41.50" lengthAdjust="spacingAndGlyphs" transform="translate(89.6,872.4) rotate(-90)" >Z [m]</text>
<g clip-path="url(#clipC0)">
<g fill="none" stroke-width="0.95" stroke-linejoin="round"><path d="M257.5 1335l-0.9-0.9-0.1-7.4 1-8.6 0.8-1.9 0.9 1.4 0.4 6.6-0.5 5.3-1.6 5.5M275.6 1334.2l-0.8-0.7-0.2-1.1-0.1-7.4 1.1-9.6 0.8-1.8 0.9 2.4 0.4 7.4-0.5 5.4-1.6 5.4M238.6 1328.1l-0.5-3.9 0.5-2.7 0.8-0.9 0.4 4.4-0.4 2.4-0.8 0.7" stroke="#440154"/><path d="M256.7 1336.4l-0.5-4.8 0.3-7.4 1-7.5 0.8-1.9 0.8 0.8 0.5 2.8 0.1 7.4-1.4 8.5-0.8 2-0.8 0.1M274.8 1335.4l-0.6-5.4 0.3-8.3 1.1-8 0.8-1.7 0.8 1.5 0.5 3.3 0.1 8.2-1.4 8.6-0.8 1.9-0.8-0.1M238.6 1329.7l-0.9-1.8-0.1-3.7 0.9-4.1 0.9-1.1 0.8 2 0 4-0.8 3.9-0.8 0.8" stroke="#46085c"/><path d="M256.7 1338l-0.8-3.9 0.2-7.4 0.8-8.3 1.4-4.9 0.8 0.7 0.7 3.4 0.1 7.7-1.6 10.1-0.8 2-0.8 0.6M274.8 1337.1l-0.8-4.7 0.2-8.2 1-9.9 1.2-3.9 0.8 1.4 0.7 4.2 0.1 8.6-1.6 10.1-0.8 1.9-0.8 0.5M238.6 1331l-1-1.9-0.3-4.9 0.5-3.3 1.6-3.1 0.9 1.5 0.2 4.9-0.8 4.9-1.1 1.9" stroke="#471063"/><path d="M256.7 1339.5l-0.9-2.1 0-9.5 0.9-9.3 1.6-6.5 0.8 0.8 0.8 4 0.2 8.9-1.8 10.6-1.6 3.1M274.8 1338.5l-0.9-2.8 0-9.9 0.9-10.4 0.8-5.2 0.8-1.6 0.8 1.6 0.8 4.9 0.2 9.9-1.8 10.7-1.6 2.8M238.6 1332.1l-1.3-2.1-0.4-5.2 0.8-5.1 1.7-3 1 1.7 0.3 5.8-0.5 4.3-0.8 2.7-0.8 0.9" stroke="#481769"/><path d="M256.7 1340.8l-0.9-0.6-0.2-2 0.1-10.7 1-10.4 1.6-6.4 0.8 0.8 0.8 3.6 0.3 9.9-1.1 9-2.4 6.8M274.8 1339.9l-0.9-1.2-0.2-2.2 0.2-12.3 0.9-10.6 0.8-5.4 0.8-1.5 0.8 1.8 0.8 4.6 0.3 11.1-1.1 9.1-1.6 5.5-0.8 1.1M237.7 1332.6l-0.9-3.5 0-5.7 0.9-4.9 1.7-2.8 0.8 0.5 0.6 2.2 0.1 6.6-1.5 7.1-0.8 1-0.9-0.5M213.1 1325.9l0-3.1 0.4 1.4-0.4 1.7" stroke="#481d6f"/><path d="M255.8 1342.1l-0.6-5.6 0.6-12.9 0.9-8 0.8-4.5 0.8-1.8 0.8 0.8 0.9 4.2 0.3 12.4-2 11.5-1.6 3.8-0.9 0.1M273.9 1340.9l-0.5-6.8 0.5-13.2 1.7-15 0.8-1.4 0.8 2.2 1 6 0.2 12.3-2 12.6-1.6 3.6-0.9-0.3M237.7 1333.7l-1.2-4.6 0-5.7 1.2-5.9 1.7-2.8 0.8 0.4 0.8 3 0 7.7-1.6 7.2-0.8 1.1-0.9-0.4M213.1 1328l-0.9-0.5-0.2-2.5 0.2-2.6 0.9-1.7 0.8 0.3 0.4 2.4-0.4 3.3-0.8 1.3" stroke="#482475"/><path d="M255.8 1343.8l-0.8-4.8 0.5-13.2 1.2-11.6 0.8-4.7 0.8-1.7 0.8 0.9 1 4.8 0.4 12.3-2.2 13.3-1.6 4.1-0.9 0.6M273.9 1342.7l-0.7-6.2 0.6-14.8 1.8-18.9 0.8-0.8 1.9 9.9 0.3 12.3-0.6 6.4-1.6 7.9-1.6 3.9-0.9 0.3M238.6 1335l-0.9-0.2-0.8-1.6-0.8-7.4 0.8-6.5 0.8-2.8 1.7-2.7 0.8 0.2 0.8 2.5 0.4 6.9-1.2 8.2-1.6 3.4M212.2 1329.2l-0.6-1.7 0-3.3 0.6-3.6 0.9-1.3 0.8 0.2 0.6 1.4 0.2 4-0.8 3.2-0.8 1.2-0.9-0.1" stroke="#472a7a"/><path d="M255.8 1345.2l-0.8-1-0.2-1.9 0.2-10.7 1.7-19 0.8-4.8 0.8-1.7 0.8 1.1 1.1 5.5 0.5 12.3-1.6 11.7-1.6 5.8-1.7 2.7M273.9 1344.3l-0.8-2.8 0-9.9 2.5-32.8 0.8 0.4 1.6 8.5 0.9 14.9-1.7 13.5-1.6 5.8-1.7 2.4M237.7 1335.9l-1.6-5-0.1-6.7 1.1-6.6 2.3-4.8 0.8 0.2 0.8 2.2 0.4 9.8-1.2 7.5-1.6 3.4-0.9 0M212.2 1330.4l-0.9-2.1 0.1-5.7 0.8-3.3 0.9-1 0.8 0 1.1 2.6-0.1 4.9-1 3.5-0.8 1-0.9 0.1" stroke="#46307e"/><path d="M255 1346.4l-0.5-6.6 1-17.2 1.2-11.7 0.8-5.2 0.8-1.6 1.6 5 0.7 5.2 0.1 12.4-2.4 14.2-1.6 4.4-0.9 1.2-0.8-0.1M273.9 1345.8l-0.8-0.7-0.2-2 0-9 2-34.6 0.7-4.8 0.8 1.8 1.6 9.4 0.9 8.3 0.1 8.4-1.8 14.4-1.6 5.9-1.7 2.9M237.7 1336.9l-0.8-1.3-1-4 0-9 1.8-7.9 1.7-2.8 0.8 0.1 0.8 1.8 0.6 3.8-0.1 8.2-1.3 7.6-1.6 3.4-0.9 0.1M212.2 1331.5l-0.8-0.9-0.5-2.3 0.2-5.7 1.1-4.4 0.9-0.9 0.8 0 1.3 2.8 0.2 4.9-1.4 5-0.9 1.2-0.9 0.3" stroke="#453781"/><path d="M255 1348.2l-0.6-1.8-0.2-3.3 0.8-15.6 1.7-18.6 0.8-5.7 0.8-1.2 1.6 5.7 0.9 6.3 0 12.7-0.9 7.4-1.6 7.6-1.6 4.7-1.7 1.8M273.1 1347.3l-0.6-4.2 0.3-9.9 1.9-40.3 0.9-1.3 2.4 12.4 1 10.3 0.1 9.1-1.1 10.1-1.6 7.7-1.6 4.7-0.9 1.3-0.8 0.1M237.7 1338l-0.9-1.5-1-4.1-0.2-9 0.8-5 1.3-4.6 1.7-2.9 0.8 0 0.8 1.6 0.7 4.3 0 9-1.5 8.4-1.6 3.6-0.9 0.2M211.4 1331.8l-0.9-3.5 0.4-6.6 1.3-4.5 0.9-0.8 0.8 0 1.6 3.5 0 6.1-1.6 5.1-1.7 1.3-0.8-0.6M293.7 1328.8l-0.4-3 0.4-4.1" stroke="#433e85"/><path d="M254.2 1348.9l-0.1-9.1 1.7-24.4 1.7-15.4 0.8-0.5 1.6 6.6 0.9 6.6 0 15.6-1.5 9.9-1.8 7-1.7 3.7-0.8 0.7-0.8-0.7M273.1 1349.1l-0.8-2.2-0.1-5.4 1.9-35.4 0.1-14 0.6-3.6 0.8 0.8 0.8 2.5 1.6 10.2 1.1 10.7 0.1 9-0.6 8.3-1.4 8.7-2.4 8.3-1.7 2.1M237.7 1339l-1-1.6-1.1-4.2-0.2-9.8 1.8-9.1 1.4-3.2 0.8-1.2 0.8-0.1 0.8 1.5 0.9 4.7 0 9.5-1.7 9.6-1.6 3.6-0.9 0.3M211.4 1332.9l-1.1-3.8 0.3-7.6 1.6-5.3 1.7-0.7 1 1.3 0.8 2.5 0.1 6.5-1.9 6.1-1.7 1.3-0.8-0.3M293.7 1331.2l-0.9-2-0.1-2.5 1-7.5" stroke="#414487"/><path d="M254.2 1351l-0.6-2.9 0.2-6.6 3.7-45.5 0.8 0.9 0.8 3.2 1.7 10.4 0.3 15.3-1.2 10.1-1.6 7.5-2.5 6.5-0.8 1-0.8 0.1M273.1 1350.6l-0.9-0.9-0.3-5.8 1.9-35.3 0-19.8 0.2-1.6 0.8-1.1 1.6 3.9 1.6 10 1.1 11.9 0.2 9.8-0.5 8.3-1.6 9.6-2.4 8.4-1.7 2.6M237.7 1340.1l-1.5-2.7-0.9-4.2-0.1-9.8 1.7-9.2 1.7-4 0.8-1.3 0.8-0.2 0.8 1.4 0.9 4.2 0.1 11.5-1.8 10.1-1.6 3.8-0.9 0.4M211.4 1333.8l-0.8-1.2-0.6-2.6 0.3-8.3 1.1-4.9 0.8-1.5 1.7-0.6 1.1 1.3 0.9 2.4 0.2 7.4-0.7 3.3-1.4 3.3-0.9 1.2-1.7 0.2M293.7 1333.1l-0.9-0.9-0.4-4.7 0.4-6.6 0.9-3.6" stroke="#3e4989"/><path d="M254.2 1352.6l-0.9-2.1 0-5.7 3.4-49.6 0.8-2.7 1.6 5.6 1.7 10.8 0.5 16.1-1.2 10.7-1.8 8.5-2.5 6.7-1.6 1.7M272.3 1352.2l-0.8-5 2.1-37-0.2-22.2 0.5-3.9 0.9 0.1 0.8 1.6 1.6 6.4 1.7 14.7 0.6 14-0.6 9.4-1.7 10.1-2.4 8.7-1.7 2.9-0.8 0.2M237.7 1341.3l-1.1-1.5-1.3-4.7-0.3-10.9 1.9-11 1.7-4.1 0.8-1.4 0.8-0.2 0.8 1.3 1 4.7 0.1 11.5-1.9 11.7-1.6 4-0.9 0.6M211.4 1334.8l-1-1.6-0.6-2.6 0.3-8.9 1.3-5.9 0.8-1.4 1.7-0.5 1.6 2.1 0.7 2.4 0.1 7.4-1.8 6.6-1.4 2-1.7 0.4M293.7 1334.7l-0.9-0.3-0.3-1.2-0.5-4.9 0.6-8.2 1.1-4.5" stroke="#3c4f8a"/><path d="M254.2 1354l-1.1-1-0.2-4.1 2.8-37 1-22.7 0.8 0.7 0.8 2.5 1.6 8.7 1.4 12.4 0.2 9.9-0.7 8.7-1.7 9.6-2.4 8.4-2.5 3.9M272.3 1353.8l-0.8-0.9-0.3-4 2.3-39.5-0.5-23.9 0.9-3.5 0.9 0.6 1.6 4.3 1.6 9.2 1.4 14.9 0.2 9.9-0.7 10.5-1.7 9.9-2.4 8.8-1.7 3.1-0.8 0.6M237.7 1342.5l-1-1-1.5-5-0.5-4.9 0-6.6 1.8-11.5 2.1-5.5 0.8-1.5 0.8-0.4 0.8 1.4 1.1 5.2 0.2 12.3-2.1 12.6-1.6 4.1-0.9 0.8M293.7 1336.2l-0.9 0-0.8-2.1-0.3-5 0.5-8.2 1.5-6.9M210.6 1335l-1.2-5 0.6-9.9 1.4-5.4 0.8-1.2 1.7-0.4 1.6 2 0.9 2.7 0.3 4.8-0.3 4.6-0.9 3.6-1.6 3.4-1.7 1.4-1.6-0.6" stroke="#3a548c"/><path d="M253.4 1355.4l-0.9-1.9 0-3.8 3.1-39.5 0.2-22.2 0.9-1.7 0.8 1.5 1.6 6.5 1.7 11.3 0.8 10.4-0.1 8.2-1 10.7-2.2 11-2.5 7-1.6 2.3-0.8 0.2M271.5 1355.2l-0.7-5.5 2.5-41.9-0.7-23.9 0.5-3.4 0.8-0.3 2.5 5.3 1.6 8.9 1.5 16.6 0.2 10.7-1 11.5-2.3 12.5-2.5 7.3-1.6 2.3-0.8-0.1M236.9 1343.6l-2.2-8.7 0-11.5 1.8-10.7 2.1-5.9 0.8-1.8 0.8-0.4 0.8 1.4 1.2 6.7 0.1 13.1-2.1 12.6-1.6 4.4-0.9 1-0.8-0.2M293.7 1337.7l-0.9 0.3-0.8-1.3-0.5-6.7 0.5-10.2 1.7-7.4M210.6 1336l-0.8-1.5-0.6-3.7 0.5-10.7 1.7-6.4 0.8-1.1 1.7-0.4 1.6 1.9 1.1 3.5 0.1 9.1-1.2 4.9-1.6 3.3-1.7 1.5-1.6-0.4" stroke="#375a8c"/><path d="M252.5 1356.4l-0.3-5.9 3.3-41.1-0.2-22.2 0.5-3.5 0.9 0.5 0.8 1.8 2.4 11.6 1.7 15.1 0 11.5-1 10.7-2.3 11.9-3.3 8.5-1.6 1.6-0.9-0.5M271.5 1356.9l-0.9-1.1-0.2-3.6 2.6-37 0.1-12.4-0.9-19.7 0.2-3.3 0.7-1.7 0.8 0.5 1.7 3.1 2.2 9.6 1.7 17.3 0.3 11.5-0.7 11.5-1.9 11.4-3.3 11.1-1.6 2.5-0.8 0.3M236.9 1345.3l-1.2-3-1.2-6.6-0.1-11.9 1.7-10.8 3.3-9.7 0.8-0.5 0.8 1.6 1.4 7.5 0.1 13.1-0.7 6.6-1.6 7.7-1.6 4.6-0.9 1.2-0.8 0.2M293.7 1339.3l-0.9 0.5-0.8-0.8-0.8-7.4 0.8-13.8 1.7-7.1M211.4 1337.4l-1.2-0.9-0.9-2.4-0.3-8.3 1.4-10.6 1-2.5 1.7-1.4 1.6 0.7 1.7 3.2 0.7 4.1 0 4.9-0.7 5.4-1.2 3.6-2.1 3.4-1.7 0.8M213.1 1271.1l0-0.5 0.8 0.1-0.8 0.4" stroke="#355f8d"/><path d="M252.5 1358.3l-0.8-1.9 0-3.4 3.4-38.7 0.4-13.1-0.7-16.5 0.2-2.5 0.8-0.8 2.5 5.8 1.6 8.7 1.7 15.1 0.1 13.2-1 11.5-2.4 11.9-3.3 8.7-1.6 1.9-0.9 0.1M270.6 1358.2l-0.6-5.2 2.1-23 0.9-19-1.1-28.7 0.4-7.1 1.6 1.8 1.7 3.4 2 8.4 2 18.1 0.4 13.2-1.1 14-2.5 13.4-3.3 9.2-1.6 1.7-0.9-0.2M236.9 1347.1l-0.9-1.5-1.7-9.1-0.1-12.3 1.7-11.5 3.5-11.7 0.8-0.5 1.7 5.8 0.7 5.6 0.1 13.1-0.8 7.3-1.7 7.9-1.6 4.8-1.7 2.1M293.7 1340.9l-0.9 0.7-0.8-0.3-0.5-1.5-0.6-7.4 0.9-14.8 1.9-8.8M211.4 1338.2l-1.5-0.8-0.7-1.7-0.5-9 1.6-12.4 1.1-2.7 1.7-1.2 1.6 0.8 1.7 3.1 0.8 4.1 0.1 5.8-1.8 9.1-1.6 3.1-2.5 1.8M213.1 1273.4l-1.2-1-0.3-2.5 0.6-1.1 1.7-0.4 1.3 1.5 0.1 1.7-0.6 1.3-1.6 0.5" stroke="#32648e"/><path d="M252.5 1359.8l-1-1.1-0.3-3.2 3.8-41.2 0.3-13.1-1-18.1 0.7-3.9 0.8 0.3 1.7 3.5 2.4 11.3 1.7 15.1 0.3 13.2-1.1 13.3-2.5 12.6-2.5 7.2-1.6 2.9-1.7 1.2M270.6 1360l-0.8-1.3-0.2-4.1 2.4-25.5 0.9-21.3-1.6-29.7-1.1-5.7 0.4-1.2 0.9 0.1 1.6 2.3 2.5 5.6 1.6 5.9 1.9 13.6 1 18.9-0.8 14-2.1 13.2-3.3 11.4-1.6 2.9-1.7 0.9M236.1 1348.6l-2.2-12.1 0.1-11.5 1.3-10.7 4.1-16.8 0.8 0.2 0.8 2.7 1.4 8.2 0.6 8.2-0.2 8.2-0.9 8.3-1.7 7.8-2.5 6.7-0.8 1-0.8-0.2M293.7 1342.6l-0.9 0.9-0.8 0.1-0.7-1.3-0.7-7.4 0.9-16.5 2.2-11.8M210.6 1339.1l-1.5-1.7-0.6-3.3 0.3-12.4 1.6-9 1-2.1 1.7-1.1 2.2 1.5 1.5 3.3 0.7 5 0 5.7-1.1 6.6-1.6 4.1-1.7 2.4-2.5 1M212.2 1274.2l-1.2-1.8-0.3-2.5 1.3-2.5 1.9-0.4 1.6 1.3 0.7 3.3-1.5 2.6-2.5 0" stroke="#306a8e"/><path d="M251.7 1361.2l-0.9-1.6 0-4.1 2.9-24.7 1.2-18.9 0.1-12.4-1.2-18.9 0.4-3 0.8-0.5 2.5 4.5 2.4 11.2 1.9 16.6 0.2 14-1.2 13.1-2.5 12.8-3.3 9-1.6 2.3-1.7 0.6M269.8 1361.2l-0.6-1.6-0.1-3.3 2.7-25.5 0.9-20.6-0.2-11.5-1.5-18.9-1.7-7.4 0.1-1.7 1.2-1.1 1.7 0.8 0.8 1.3 2.5 6.3 1.8 6.7 2 16.5 0.8 17.2-1.1 15.7-2.7 15.3-3.3 9.6-1.6 2.1-0.9 0.4-0.8-0.3M236.1 1351.1l-0.8-1.8-1.5-11.1-0.1-10.7 1.2-12.3 2.9-12.4 1.6-10.3 1.6 5.5 1.7 11.1 0.3 15.1-1.1 9.9-1.7 7.9-2.5 7.2-1.6 1.9M293.7 1344.4l-1.7 1.7-0.8-0.7-0.8-3.9-0.1-5 0.9-17.7 2.5-15.1M210.6 1340.1l-1.6-1.5-0.7-2.9-0.3-5.7 0.6-8.3 1.6-9.8 1.2-2.4 1.7-0.9 2.3 1.6 1.5 3.3 0.8 4.9-0.1 6.6-0.8 5.8-1.6 4.9-2.1 3.2-2.5 1.2M192.5 1334.1l0-1.1 0 1.1M192.5 1323.9l-0.8-0.5 0.8-1.4 0 1.9M212.2 1275.2l-2-2.8-0.2-3.3 1.4-2.7 2.5-0.7 2.5 2.2 0.6 3.7-0.6 1.9-1.2 1.4-1.3 0.6-1.7-0.3" stroke="#2e6f8e"/><path d="M269.8 1363.1l-1.1-1.9-0.1-3.3 3-26.3 1-20.6-0.4-13.1-1.4-16.5-2.3-9.8 0.5-2 1.6-1.2 1.7 0.7 1.6 2.9 3.6 11.9 2.2 18.1 0.6 16.4-1.1 16.5-2.8 15.5-3.3 9.7-1.6 2.4-1.7 0.6M250.9 1362.5l-0.7-2.1 0.1-3.3 3.2-25.5 1.3-18.9 0-14-1.5-19.7 0.1-2.5 0.8-1.5 1.6 1.3 1.7 3.9 2.4 11.1 2 17.3 0.2 14.8-1.3 14-3 14.8-3.6 8.5-1.7 1.8-1.6 0M235.3 1353.2l-1.9-15 0-9.1 1.2-13.9 3.1-14.8 0.4-11.6 0.5-1.8 1.6 4.6 2.4 14.5 0.6 9.1-0.1 8.2-1.1 10.7-1.8 8.9-2.5 7.6-1.6 2.7-0.8-0.1M293.7 1346.5l-1.7 2.5-0.8 0-1-2.6-0.3-6.6 1.2-22.2 2.6-18.3M209.8 1340.9l-1.4-1.9-0.6-3.3 0.7-16.4 1.8-9.1 1.1-1.9 1.7-0.7 2.4 1.8 1.7 3.9 0.8 6-0.2 6.5-1.1 6.6-2 5.2-2.5 2.9-2.4 0.4M191.7 1337.4l-0.8-1.4-0.3-1.9 1.1-3.1 0.8-0.7 1 1.3 0.2 2.5-1.2 3.2-0.8 0.1M191.7 1326.1l-0.8-1.6 0-1.9 0.8-2.4 0.8-0.6 0.9 1.3 0.3 2.5-1.2 2.8-0.8-0.1M194.1 1308.7l0 0M211.4 1275.7l-1.7-2.5-0.5-4.1 1.4-3.8 2.5-1.5 1.6 0.6 2 2.2 0.9 2.5 0.1 2.5-0.8 2.4-1.4 1.7-2.4 0.7-1.7-0.7" stroke="#2c738e"/><path d="M190.9 1372.9l-2.6-1.8-1.7-5.8-2.1-4.1 0-2.5 1.4-2.3 1.7 0.1 4.7 2.2 0.6 0.9 0.3 9.8-0.7 2.3-1.6 1.2M269 1364.6l-0.8-1.7-0.1-4.2 3.4-27.9 0.9-23-0.5-12.4-1.5-14.8-2.4-9 0.9-3.3 1.7-1 1.7 0.7 1.6 2.5 3.8 13.4 2 17.3 0.7 18.1-1.3 17.2-2.9 15.7-3.1 9.2-2.5 3.1-1.6 0.1M250.9 1364.3l-1.1-1.4-0.1-4.2 3.3-23.8 1.6-21.4 0-14.8-1.8-22.2 0.6-3.3 0.8-0.1 1.6 1.8 1.7 4 2.4 11 2 17 0.3 15.7-1.2 14.8-2.7 13.7-3.3 9.3-2.5 3.4-1.6 0.5M234.4 1355.5l-1.3-17.3 0-7.4 1.3-15.6 2.8-14.8-0.1-15.7 0.6-2.4 2.5 6.8 1.7 9.4 1.3 13.4 0.1 10.7-1 10.6-2.1 10.8-3.3 9.8-1.6 2.2-0.9-0.5M187.6 1351.4l-0.3-0.9 1.1-0.5 0.1 0.5-0.9 0.9M293.7 1348.9l-1.7 3.2-0.8 0.8-0.8-0.1-1-4.7 0.3-12.4 1.3-19.7 2.7-21.8M191.7 1341.6l-1.8-5.9 0.1-2.5 1.5-4.9-1.3-4.9 0.7-3.2 1.6-2.8 0.8 0.9 1 3.4-1 6.6 1.2 4.9-1.2 7.1-0.8 1.3-0.8 0M209 1341.7l-1.2-1.9-0.4-4.1 1.2-19.7 1.7-7.4 1.1-1.6 1.7-0.5 2.4 1.8 1.9 4.4 0.8 6.6-0.4 8.2-1.3 6.6-1.8 4.4-3.3 3.4-1.6 0.3-0.8-0.5M193.3 1310.6l-0.4-1.2 0.2-1.6 1-1.1 0.9-0.1 0.8 1-0.1 1-1.6 2.2-0.8-0.2M213.1 1277.4l-1.7-0.6-1.6-1.7-1.4-5.2 1.7-9-0.8-6.6 0.2-4.1 1.1-2.8 1.6-0.8 1.7 1.9 0.6 2.5 0.1 9 2.9 5.8 1 4.1-0.2 2.5-1.1 2.8-1.7 1.6-2.4 0.6M239.4 1256.3l-0.8-0.4 0.8-0.1 0 0.5M201.5 1244.6l-1.1-1-0.2-0.8 0.5-1.1 2.5-0.7 1.7 1 0.4 1.6-0.8 0.8-3 0.2" stroke="#2a788e"/><path d="M192.5 1380.3l-3.3-2-3.3-5.2-3.3-10.5-0.3-3 0.9-9.1 1.1-1.6 4.2-3.3 1-1.7-0.3-9 1.3-5.8-0.8-5.7 1.2-5.1 1.6-3 0.8-0.2 1.6 6.6-0.7 5.8 1 4.9-0.5 5 0.3 4.1-1.5 4.1 2.2 3.3 0.5 1.6-1 4.1 0.8 14.8-0.9 9.1-1 1.4-1.6 0.4M269 1366.6l-0.8-0.6-0.6-1.5-0.2-3.3 4.1-31 0.8-22.4-0.5-11.6-1.5-14.8-2.8-10.7 1-3.3 2.1-1.2 1.7 0.7 2 3 3.5 13.2 2 16.4 0.7 18.9-1.3 18.1-2.8 16-3.3 10.1-2.5 3.4-1.6 0.6M250.1 1365.7l-1.1-2 0.1-3.3 3.8-25.5 1.6-21.4-0.2-15.6-2.2-23 0.4-3.3 0.9-0.5 1.6 1.2 1.7 3 3.2 13.2 2.1 18.4 0.3 15.7-1.3 15.6-3.4 16.4-3.4 8.4-2.5 2.5-1.6 0.2M233.6 1358l-0.8-24.8 1.4-18 2.6-15.7-0.7-18.9 0.8-2.3 2.5 5.5 2.5 12.6 1.4 13.8 0.1 11.5-1.3 14-2.7 12.4-3.3 8.8-1.7 1.8-0.8-0.7M293.7 1351.7l-2.5 5.4-1.6 1-1-3.5 0.1-9 1.9-27.2 1.7-15.6 0.5-11.5 0-0.5 0.9-0.1M209 1343.3l-1.5-1.8-0.6-3.3 1.5-23.9 1.8-7.4 1.2-1.4 1.7-0.3 2.4 2 2.2 5.5 0.7 6.6-0.4 8-1.2 6.8-2.1 5.4-3.3 3.5-2.4 0.3M193.3 1312.7l-0.9-2.5 0-2.4 1.7-1.9 1.7-0.1 1 1.1-0.2 1.7-2.5 3.7-0.8 0.4M194.1 1297.9l0-0.8 0.9-0.2 3.3-0.4 0.8 0.6-0.3 0.8-1.4 0.7-3.3-0.7M212.2 1278.4l-2.5-1.9-1.8-4.1-0.4-9.9-2.4-14.8-0.8-0.8-3.8-1.7-1.5-2.4 0.7-1.7 1-0.8 1.7-0.5 4.9-0.1 3.3-2 0.8 0.1 1.7 1.4 3.3 5.2 1.9 4.1 0.6 3.3-0.7 9.9 1.1 7.4-0.3 4.1-1.1 2.5-1.5 1.7-1.7 0.9-2.5 0.1M237.7 1257.8l-1-1 0.2-1.7 2.5-0.9 1.8 0.9 0.2 1.7-0.6 0.8-1.4 0.4-1.7-0.2" stroke="#287d8e"/><path d="M191.7 1385.2l-2.5-1.7-2.5-2.9-3.5-7.9-2.5-10.7-0.5-9.8 1.6-6 4.1-1.2 1.7-1.4 0.6-1.3 0.5-2.5-0.2-4.9 1.4-5.8-0.7-5.7 1.1-5 1.9-4.9-0.5-4.9 1.6-2.8 2.5-1 1.4 0.5 1.1 1.6-0.5 1.7-2.8 4.1-0.5 2.5 1 7.4-0.6 4.9 1 4.9-0.3 4.1 0.3 1.7 1.9 3.3-1.1 3.3 1.7 5.7-0.8 11.5 0.5 16.5-0.5 4.1-1 2-2.5 1.2-2.4-0.6M268.2 1368.4l-1.3-2.3-0.1-3.2 4.1-28 1-12.3 0.2-14-0.5-12.4-1.5-13.9-3.2-11.6 1.3-4.2 0.8-1 1.6-0.5 2.5 1.5 1.4 2.6 3.5 13.9 2.1 19 0.6 17.3-1.5 18.9-3.2 17.3-3.7 10.1-2.5 2.7-1.6 0.1M250.1 1367.2l-1.5-1.1-0.3-3.2 4.5-28 1.6-22.2-0.4-16.5-2.5-23 0.2-3.1 0.8-0.7 1.7 0.7 1.7 2.3 1.6 3.8 1.6 6.7 2.6 18.3 0.8 19.7-1.3 17.3-2.6 14-1.9 6.4-2.2 5.1-2 2.4-2.4 1.1M233.6 1361.6l-0.8-0.6-0.4-2.3 0-22.2 1.5-21.3 2.4-15.7 0-6.6-1.3-14.8 0.3-2.6 0.8-0.8 2.5 4.5 2.4 10.2 2.2 16.7 0.4 14-0.8 11.5-2.6 14.4-3.3 10.7-1.6 3.3-1.7 1.6M293.7 1355.1l-3.3 8.3-1.7 2.1-0.8 0.2-1-2 0-5 4.9-54.2 0.4-14.8 0.6-3 0.9 1.3M209 1345l-2-1.9-0.8-3.3 1.8-25.5 1.5-8.2 1.1-1.9 1.6-0.6 1.7 0.6 1.6 1.7 2 4.3 1 6.6-0.1 8.2-1.1 8.2-1.8 5.7-3.3 4.8-1.6 1.1-1.6 0.2M195 1299.6l-2.6-1.7 0.3-1.7 6.4-1.3 1.2 0.5 0.2 2.5-1.3 1.6-1.8 0.5-2.4-0.4M192.5 1289.8l-0.9-1 0-1.6 0.9-1.9 0.8-0.5 1 1.6 0 1.6-1 1.5-0.8 0.3M212.2 1279.8l-2.4-1.6-2.1-3.3-1.1-4.2-0.8-7.4-1.8-5.7-1.5-8.2-0.9-1.7-2.6-2.5-1-2.4 1.1-2.6 5.7-3.5 5-7.6 2.4-1 1.7 0.9 1 1.4 1 9.1 5.3 9.9 0.8 4.1-1.8 9.8 0 8.3-0.8 3.3-3 4-2.5 1.1-1.7-0.2M236.9 1258.6l-1.7-1.8 0.3-1.7 0.7-0.8 3.2-0.9 2.5 1.1 0.6 1.4-0.6 2.1-2.5 1-2.5-0.4" stroke="#26828e"/><path d="M280.6 1405.6l0-12.3 0.7-14 5.2-26.3 2.2-16.1 3-34.1 0.3-19.7 0.8 0.3 0.9 2.2M194.1 1390.8l-3.2-1-3.3-2.1-2.5-2.9-1.9-3.8-3.2-10.7-2-19 0.4-7.4 1.4-3.2 2-1.1 3.3 2.7 1.6-0.6 0.6-1 0.4-5.8 1.5-5.8-0.5-5.7 1-5 1.9-4.9-0.1-5.7 2.6-3.3 3.3-1 2.7 1 1 2.4-1.1 3.3-1.7 0-1.9 1.7-0.8 1.6-0.4 2.5 1.1 6.6-0.7 4.9 1.4 4.1-0.4 4.5 0.8 1.5 2.6 1.4 0.9 1.7-1.4 4.9 1 4.9-1.1 12.4 1 22.2-0.4 3.3-0.9 1.8-1.7 0.8-3.3-0.2M267.4 1370.5l-1.2-1.9-0.2-4.1 4.7-28.8 0.9-9.9 0.4-15.6-0.5-12.3-1.5-14.8-1-4.9-2.3-5-0.3-2.5 1.8-6 0.8-0.8 1.6-0.4 2.5 1.7 1.7 2.8 3.4 14.3 2.1 20.5 0.5 17.3-1.6 18.9-3.3 18.1-3.6 10.3-2.5 2.8-2.4 0.3M248.4 1368.1l-0.8-1.1-0.1-2.5 5-28.9 1.7-21.3-0.4-18.9-3.1-24.7 0.2-2.1 0.8-0.7 1.7 0.4 2.4 2.7 1.7 3.9 1.6 6.6 2.8 19.7 0.7 20.5-1.5 18.1-1.5 9.1-2.6 9.8-2 5.2-1.6 2.6-2.5 1.8-2.5-0.2M232.8 1364.6l-1.1-0.9-0.3-4.1 1-27.2 1.5-19.7 2-14-0.2-7.4-1.7-14.8 0.3-3.3 1-1.5 0.8 0.3 1.6 3 3.3 12.6 2.3 17.7 0.4 14.8-0.9 12.3-2.6 14.6-4.1 13.2-1.7 3-1.6 1.4M293.7 1359.7l-2.7 13 2 19.8-0.3 13.1M212.2 1354.6l-1.1-2.4 0.3-1.4 0.8-0.6 1.7 0.7 0.9 2.1-0.9 1.8-1.7-0.2M208.1 1347.3l-1.8-1.7-1.2-4.9 0.9-5.8 2.5-30.4 1.3-2.5 1.6-0.5 1.7 0.5 1.6 1.3 2.8 5.3 1.2 7.4-0.1 9-1.3 9.1-1.8 6-4.1 6.2-1.6 1.1-1.7-0.1M200.7 1317.7l-0.7-0.9-0.1-1.6 0.8-3.4 0.6 2.5-0.6 3.4M196.6 1301.4l-4.6-2.7-0.5-0.8 0.2-1.8 1.6-1.4 3.3 0 3.3-1.5 0.8 0.1 1.2 2.9-0.9 3.3-1.9 2.1-2.5-0.2M191.7 1290.5l-0.8-2.5 1.4-4.9-0.1-4.1 0.3-0.7 0.8 0 0.8 1.3 0.2 3.5 1 4.1-0.5 1.6-1.5 1.9-0.8 0.3-0.8-0.5M211.4 1281.7l-2.8-2.7-1.9-3.3-2.8-11.5-2.2-5.8-1.8-9-2.5-4.6-0.5-2 1-3.3 9.4-14.7 1.7-1.9 2.4-0.9 1.7 0.3 2.4 1.8 3.2 4.7 0.3 2.5-1.6 4.9 0.1 3.3 1.9 4.1 4.3 6.6 1.1 4.1-3.3 9.9-0.5 9-0.9 3.3-2.1 3.1-2.5 2-2.4 0.6-1.7-0.5M236.1 1259.4l-1.5-1-0.9-1.6 1-2.5 2.2-1.2 2.5-0.4 1.6 0.3 1.7 1.3 0.7 2.5-0.6 1.6-0.9 0.8-2.5 0.6-3.3-0.4M293.7 1258.3l-2.5-2.7-1-6.2 0.9-7.4 2.6-5" stroke="#24868e"/><path d="M276.8 1405.6l0.6-30.4 1.5-5.5 4.9-11.3 3.3-13.5 1.6-11 2.8-31.9-0.8-25.5-0.7-3.3-3.9-9-1.2-4.2-0.4-4.9 0.5-7.4 1.1-8.2 1.8-6.3 2.5-5 3.3-4.1M204 1400.8l-4.1-2.8-4.1-1.9-10.7-1.4-1.6-1.5-1.7-2.7-2.2-6.3-1.6-7.4-2.1-22.2-0.5-11.5 0.1-3.3 0.6-1.6 5.7-2.4 3.3 0.3 0.8-0.5 1.7-3 0.9-3.5-0.5-4.9 1.2-5.8 2-5.7-0.2-4.9 3.8-5-0.6-1.6-3.1-2.5-0.4-1.6 1.8-4 4.1 0.7 2.2-1.7 0.3-1.6-0.6-2.5 0.2-1.6 2.8-3.5 1.3 1 0.8 2.5-0.9 4.9 0.5 5.8-0.8 4.1 0.9 4.1-0.8 9.9-2.1 10.6 0.8 5-2.3 4.1 0.3 0.8 4 3.3 0.8-0.3 1.3-3 1.7-17.3 0.1-10.6-0.8-5 1-3 1.7-1.9 1.6 0 2.5 1.5 3.3 4.5 1.8 5.5 0.8 8.2-0.3 8.2-1.1 8.3-1.4 5.7-2.8 6.6 0.2 1.7 2.3 4.1 0 2.4-1.5 1.7-2.2 0.1-1.6-1.2-2.5-3.8-2.4-0.6-2 1.4-1.5 4.1-0.9 6.6 0.2 8.2 3.4 27.1-0.1 2.5-0.8 0.1M142.3 1374.1l1.7-2.2 1.6-0.9 1.9 0.1 2.2 1.4 1.7 2.1 1.6 3.6 1.2 7.7-1.2 7-3.3 5.6-4.1 2.9-1.6-0.1-1.7-1.6M266.5 1373.1l-1.4-2-0.1-4.1 5.6-32.1 0.9-9.1 0.4-14.8-0.4-12-1.7-15.4-0.8-4.4-2.9-6-0.3-2.5 1.5-7.2 0.9-1.4 1.6-0.7 2.5 1.3 2.2 3.1 1.5 4.1 1.6 7.4 2.5 20.6 0.8 22.2-1.6 19.7-4.1 22.2-1.6 5-2.1 4-2.5 2.1-2.5 0M248.4 1369.6l-1.5-1-0.4-2.5 3.6-16.5 2.4-14.7 1.6-22.2-0.6-18.9-3.7-24.7 0.3-2.2 0.8-0.5 2.5 0.9 2.4 2.6 2.8 7.4 3.2 20.6 1 22.2-1.5 19.7-1.6 9.9-2.5 9.9-1.8 4.9-2 3.2-2.5 1.7-2.5 0.2M231.2 1367.9l-1-1.8-0.1-4.1 3.5-48.5 1.8-15.6-0.3-6.6-2.1-16.4 0.7-4.2 0.7-1.6 0.9-0.3 1.6 2.2 1.7 4.5 3.3 15.4 1.7 16.9 0.2 13.9-1.6 16.5-3.4 15.6-4.4 11.6-1.6 2.1-1.6 0.4M196.8 1327.5l0.6 0.6 1.3-1.4-0.3-1.7-1-0.7-0.8 2.2 0.2 1M197.4 1320.1l0.8-1.7 0.3-2.4-0.2-2.6-0.9-0.8-0.8 0.9-0.5 2.5 0.5 3.3 0.8 0.8M182.6 1317l0.9-0.8 0.5 0.6-0.5 0.8-0.9-0.6M184.3 1309.2l-0.7-2.3 0.7-1.1 0.8 0 0.9 2-0.9 1.3-0.8 0.1M192.5 1292.8l-1.6-2.3-0.5-1.7 1.1-5.7-0.6-5 1.6-2.2 1.6 0.6 1.1 1.6 0.2 5 1 4.1-3.1 5.6-0.8 0M210.6 1286.4l-2.6-5-3.4-4.1-0.8-4.1-2.5-4.1-0.1-4.9-1.8-5-3.9-17.2 1.1-9 1.4-3.4 8.5-11 1.6-1.4 2.5-0.7 3.3 0.7 2.6 1.7 3 3.3 2.4 4.1 0.9 2.5 0.1 2.5-3.6 4.9-0.5 1.6 0.3 2.5 1.5 3.3 6.3 8.2 1.8 3.3-0.1 0.8-4 4.4-1.8 3.9-0.6 3.2 0.1 7.5-1.4 4.1-2.9 4.1-2.5 2.4-3.3 1.4-1.6-0.5M293.7 1265.9l-1.4 3.2-0.6 4.1 2 9.7M234.4 1260.4l-3.1-2.8-0.6-1.7 0.6-0.8 2.6-1.6 3.8-1.3 3.3 0.1 2 1.2 1.2 3.3-0.8 2.4-4 1.5-5-0.3M165.4 1256.4l-1.1-1.3-0.8-2.5 0-5.7 2.7-13 0.8-1.9 1.7-1 1.6 2 0.8 2.4 0.7 4.9-0.1 4.1-0.6 3.1-1.6 3.7-2.5 4.2-1.6 1M251.7 1246.2l-3.3-2.6-1.3-2.5-0.6-2.4 0.5-3.3 1.3-3.3 1.8-2.2 1.6-0.8 1.7 0.8 1.1 2.2 1.2 8.2-0.7 4.9-1.6 1.3-1.7-0.3" stroke="#228b8d"/><path d="M182.3 1405.6l-8.6-21.4-1.5-4.9-0.2-5.7 1.6-12.4-0.3-10.7-3.1-16.4-2.3-7.4-0.8-9.1 0.7-4.3 0.9-0.9 3.2 6 0.2 5 1.2 2.4 1.9 0.9 4.1-0.1 2.5 0.9 0.3 1.6-1.6 2.5 0.5 1.1 4.1 0.3 1.6-1.1 0.8-1.9-0.4-5 1.6-7.4 2-4.9-0.2-4.9 3.3-5-0.6-1.6-3.3-3.3 1.4-5-1.4-4.1 1-4.9-1.2-5.8 1.3-4.9-0.6-4.1 0.5-2.2 1.6 0.3 2.9 2.7-0.3 4.1 2 4.1-0.3 4.2 0.6 1.6 0.9-0.4 0.5-1.2-0.1-3.3 1-4.1-0.6-1.7-2.3-3.3 1.7-4.9-1.8-5.8-3-16.4-0.8-11.5 0.2-6.6 1.9-4.8 4.1-2.7 6.2-5.7M200.2 1405.6l-2.8-3.2-3.3-1.4-3.2 1-3.6 3.6M239.8 1405.6l-0.8-14 0.3-3.2 2.6-3.3 4.1-2.3 2.4-0.7 2.1 0.5 1 1.6 2.9 21.4M273.2 1405.6l0.8-13.1-1.3-15.7-0.4-1.1-0.8-0.2-3.3 1.2-2.5-0.2-1.8-1.3-0.6-2.5 0.8-6.6 5.7-26.6 1.9-21.1-0.2-16.6-1.7-16.7-1-5.3-2.9-5.8-0.6-2.4 0.9-11.6 0.3-1.4 0.8-0.8 2.5 0.4 3.3 2.8 2.3 4 1.4 4.9 2.6 18.1 1.5 19.8 0.1 13.9-1.6 19-3.3 22.2-0.2 2.4 0.5 1.2 2.5-3.1 4-7.9 3.9-12.4 1.9-12 2.6-30.7-0.5-14-1.5-9.9-2.9-6.6-5.9-7.7-0.8-3.8 0.3-5.8 2.3-14.8 2-8.2 2.8-6.4 6.6-11.4M246.8 1370.4l-1.1-1-0.3-2.4 3.9-15 2.3-12.2 1.7-13.1 0.6-11.5 0-12.4-0.8-10.7-4.4-24.7 0.1-1.6 1.3-0.9 2.4 0.9 2.9 2.5 1.9 3.3 1.3 4.1 3.4 22.2 0.8 12.3 0.1 11.5-2 22.2-2 10.7-2.1 8.3-1.4 3.2-2.9 3.6-2.4 1.2-3.3-0.5M142.3 1362.2l2.5-0.4 2.5 0.5 2.4 1.2 2.5 2.2 3.9 6.2 2.8 8.2 1.3 8.3-0.5 5.7-1.8 4.1-4.6 7.4M202.2 1335.7l1 0.7 0.8-0.4 0.5-1.1 1.8-10.7 0.1-9-0.6-5.8-1-1-2.9 15.8 0.7 5.8-0.8 4.1 0.4 1.6M181.8 1318.9l-0.8-0.7-0.1-1.4 1.7-1.9 1.7-0.3 1 1.4 0.1 1.6-1.9 1.4-1.7-0.1M184.3 1310.6l-1.2-1.2-0.5-1.6 0.6-2.5 1.1-1.3 1.6 1.2 1 2.6-1 1.8-1.6 1M181.8 1292.3l-0.7-1 0-1.6 1-1.7 1.4-0.2 0.7 1 0 1.7-0.7 1.2-1.7 0.6M195.1 1292.1l0.7 0.6 1.5-0.6 0.1-1.9-0.8-0.3-0.8 0.6-0.7 1.6M293.7 1272.3l0 6.7M142.3 1241l0.9-3.4 0.3-5.5-0.9-20.6M156.6 1211.5l3 9.2 1.6 3.1 1.7 0.6 3.3-1.6 1.6 0 1.7 1.2 1.6 2.7 1.7 4.7 1.5 7.3 0.5 6.5-0.3 5-3.3 11.5-2.7 12.3-1.5 0.8-10.7-4.4-2.5 0.1-1.2 1.9-3.9 9.9-6.4 6.5M217.2 1211.5l2.4 1.5 2.5 3.4 3.1 6.6 2.2 6.6-0.3 2.5-5 3.3-1.8 2.4-0.1 2.5 1.4 3.3 4.6 5.3 4.1 3.3 2.5 0.4 4.9-1 3.3-0.1 2.5 1.2 1.3 2.4 0.2 2.5-0.8 2.4-1.5 0.9-6.6 1.6-0.8 1.7 4.1 12.6 2.5 12.9 1.8 16.4 0.3 14-1.6 18.1-3.4 16.4-4.6 13.5-1.6 2.6-2.5 1.3-0.8-0.5-0.8-1.6-0.3-5.4 3.9-36.2 2.4-32.1-0.4-5.7-2.4-14 1.7-12.3-2.4-3.4-1.7-1-1.6 0-2.7 1.9-1.9 4.1-0.2 4.1 1.5 7.4-0.5 2.5-8.6 11.5-1.1 2.5 0.1 2.4 3.5 10.1 1.1 8.9-0.1 8.2-0.7 8.2-3.4 14.8 2.2 5.8 0.1 2.4-1.3 2.5-2 1-2.5-0.3-3.3-2.1-1.6 0-1.7 2.2-1.4 5.8-0.1 8.2 1.5 10.7 6.8 23M264.2 1211.5l-2.3 5.8-1.1 5.7 0.3 26.4-1.2 2.3-1.6 0.4-5.8-1.9-4.9-3.1-5.2-6.8-1.9-4.1 0.2-2.5 1.7-4.9 7.2-13.2 1.6-4.1" stroke="#21918c"/><path d="M177.1 1405.6l-3.5-9.8-2.5-3.7-2.4-1.6-0.9 0.4-0.8 1.5-2.3 9.1-2 4.1M234.9 1405.6l-1.1-14.8 0.3-2.4 0.9-1.7 3.1-2.5 11.2-5.8 9-2.2 1.6-2 1.7-3.9 4.9-16.1 3.3-16 1.6-14.8 0.1-15.6-1.9-22.3-1.4-6.5-3.4-6.6 0.2-8.2-1.3-4.2-1.9-2.4-2.2-1.7-13.4-7.4-6-7.7-4.1-3.8-2.5-1.5-3.3-0.6-5.7 0.9-2.9 2-0.5 1.7 0.2 1.6 1.8 3.3 3.8 4 4.2 2.7 2.4 0.4 7.4-0.8 2.5 0.6 1.3 1.3 0.9 3.3-0.1 5.8-6.2 1.3-1.6 1.2-0.3 0.8 4.6 23.8 1.6 14 0.5 14.8-0.9 14-2.5 16.5-5.1 22.2-1.1 2.4-1.8 2-2.5 1.7-1.6 0.2-1.8-1.4-0.9-3.3 0.1-13.2 3.4-13.3 2.1-12.2 2.2-35.3-1-10.3-1.6-5.1-0.9-1-9 8-2.5 3.4-1.2 3.3 0 3.3 1.6 11.5 0.2 9.1-1 12.3-2.3 13.2 0.5 2.5 2 4.9-0.1 4.1-1.3 2-1.7 1.2-7.4 0.4-1.6 2.8-0.7 3.5-0.1 6.6 1.4 8.2 7.9 23.8M268.3 1405.6l1.3-4.1 0.6-4.9-0.8-9.9-0.8-2.5-1.3-1.4-4.1-0.8-1.6 0.2-1.7 1.1-1.6 5.1 0.2 9 2.2 8.2M246.8 1372l-1.8-0.9-1.3-2.5 4.7-14.7 2.8-13.2 2-14.9 0.6-14.8-0.2-10.6-0.9-9.9-2.3-13.2-3.3-12.3 0.1-1.7 0.4-0.3 4.1 1.4 3.3 2.5 2.1 3 1.6 4.1 3.3 22.2 1.1 21.4-1.8 24.7-4.1 22.2-2 4.1-2.7 2.8-2.4 1-3.3-0.4M277.9 1358.7l0.1 0.6 0.9-0.1 2.6-4.6 3.9-9.4 1.7-6.1 1.6-10.7 2.4-29.7-1-14.8-2-8.2-2.7-4.5-2.4-1.6-4.1-1.5-0.8 1.8-0.1 2.9 2.9 30.8 0.3 13.2-0.8 16.4-2.4 20.6-0.1 4.9M142.3 1353.4l5.8 1.9 4.1 2.4 4.2 4.3 5.7 8 1.6 0.7 1.7-2.3 3.7-8.8 1-7.4-1.3-9.9-7.6-32.9-1.4-1.6-3.5-1.9-4.1-4.5-2.5-1.9-4.1-0.9-3.3 1.2M203.8 1328.3l0.2 0.5 0.8-0.7 1-3.9 0-6.6-1-1.9-0.8 1.6-1.1 6.1 0 2.4 0.9 2.5M181.8 1294.2l-1.4-1.3-0.6-2.4 0.8-2.5 2-2.3 1.7 1.3 0.9 2.7-1.7 3.4-1.7 1.1M228.2 1276.5l1.3 0.6 0.8-1.2 1.9-8.5-0.9-4.1-2.6-1.8-1.7 0.2-1.6 1.5-1.2 2.6-0.3 2.5 1.3 4.9 3 3.3M187.2 1274.9l0.4 0.2 0.7-1.1-0.7-1.6-0.9-0.2-0.6 1 1.1 1.7M162.4 1211.5l1.8 2.5 5.3 3.8 2.4 4.2 3.1 10.1 2.8 15.6 0.3 8.2-2.6 7.4-1.4 5.8-1.1 10.7 0.6 4.9-2 6.6-0.8 13.2 2 4.9 0.4 4.9 2.4 4.1-0.9 3.3 0.2 1.7 2 1.3 7.4 1 1.6-0.9 1.2-2.2 0.4-2.5-0.8-1.7-4.1 1.7-2.4-0.5-1.6-1.2 0.7-1.6 3.9-4.1-1.5-4.9 0.9-5-1.1-2.4-0.1-1.7 1.2-0.8 3.2 1.6-0.2 3.3 2.2 5-3.1 4.9 2 4.1 0.9 0.6 2.6-3.9-0.4-5.7 3.2-5-0.6-1.6-3.1-2.5-0.2-0.8 1.5-4.1-1.2-5 1-4.9-0.5-2.5-1.5-2.3-0.8-0.3-4.1 3.8-0.9-0.4-0.6-2.4 0.6-3.4 2.1-4-1.9-5.8 0.3-3.3 2-2.8 1.6-0.8 3.3-0.5 1.3-1.6 0.5-9.1-3.6-37M226.9 1211.5l4.3 10.5 1.6 2 1.6 0.8 1.7-0.5 2.5-2.4 4.1-5.7 2.5-4.7M270.2 1211.5l-3.9 13.2-0.6 11.5 0.8 7.3 1.2 4.2 2.1 3.2 2.5 1.6 1.6-1.8 1.7-4.4 5.6-22.4 2.3-5 4.4-7.4" stroke="#1f958b"/><path d="M228.3 1405.6l0.4-5.7-1.2-9.1 0-4.9-1.1-1.7-3.5-1-1.6 1-1.2 1.7-1.7 5.7 1 7.4 2.5 6.6M232.8 1381.8l3.3 0.4 4.9-1.4 5.5-3.1 1.8-2.5-0.6-0.8-4.2-1.9-3.3-0.3-2.5 1.8-3.2 3.7-1.6 2.4-0.1 1.7M257.8 1369.4l0.5 0.4 0.8-0.5 1.7-2.1 3.3-6.8 2.4-7.7 2.7-12 1.4-10.2 0.8-10.4-0.8-23.5-2.3-16-4.2-8.2 0.1-6.6-1-3.3-2.3-3.3-4.2-3.5-5-2.9-4.1-1.1-0.8 0.3-0.4 1.5 1.1 6.5 1.4 1.7 6.9 5.2 2 3 1.3 3.3 3.6 28.8 0.5 14.8-0.6 14.8-1.3 13.2-3.5 24.6M239.9 1368.6l2-1 2.4-3.8 4.1-11.3 3.8-19.3 1.4-18-0.2-16-2.5-18.3-1.6-6.6-2.5-6.4-1.7-2.7-2.4-1.3-1.7 0.2-1.4 0.9-0.6 2.4 4.1 27.2 1.2 18.9-1 20.6-4.9 29.6 0.2 3.4 1.3 1.5M279.3 1353.8l0.4 0.5 0.8-0.9 1.7-3.2 3.2-7.6 1.7-5.7 1.5-10.2 2.2-27.2-0.7-13.1-2.1-9.1-2.6-4.1-1.6-1-3.3-0.5-0.8 0.4-0.5 1.1-0.3 3.3 2.2 28.8 0.3 11.5-2.3 33.7 0.2 3.3M221.9 1352.2l1.9-0.5 1.6-1.4 3.3-5.7 2.1-8.1 1.4-10.7 0.5-14.8-0.6-13.9-1.8-4.1-3.3-1.3-3.2 0.7-2.5 2.1-1.5 2.6-0.7 3.3 0.4 21.3-2.3 23.1 0.5 2.4 1.1 2.3 1.7 2.1 1.4 0.6M142.3 1344.3l4.1 2.6 11.6 4.3 2.4-0.5 1.7-1.4 1.1-2.1 0.6-3.3-0.9-6.9-1.7-6.3-9-16.4-2.5-3.3-2.4-1.9-2.5-0.4-2.5 1.3M204 1324.2l0.8 0.2 0-2.8-0.8 2.6M180.1 1323.4l3.4 0.5 1.6-0.3 0.9-1 0-1.7-7.1 0.8-0.4 0.9 1.6 0.8M176.5 1315.2l1.2 0.4 1.6-0.4 2.1-1.7 0.7-1.6-1.6-4.1 0.2-4.2-0.6-0.8-4-1.4-0.9 0.1-0.9 2.1 2.8 3.3-1.7 5.8 1.1 2.5M187 1315.2l1.4 0.1 1.4-2.6-0.6-2.9-0.8-0.5-2.3 2.6-0.1 1.6 1 1.7M188.1 1306.1l1.1 0.8 0.8-0.6 2.4-3.5-0.9-1.6-3.1-1.5-1.5 1.5-0.3 1.6 1.5 3.3M175.8 1298.7l1.9-0.6 1.5-1.9-0.8-5.7 2.4-5.8-0.5-4.9 0.3-8.2-0.4-1.9-0.9-0.7-0.9 0.9-1.9 9.1 0 4.9-1.8 10.7 0.2 2.5 0.9 1.6M186.4 1297.9l1.2 0 0.8-0.7 1.6-3.4-1.3-5 1.1-5.7-0.7-1.7-1.5-0.8-1.7 1.1-1.3 2.2 0 1.6 1.3 4.2-2.3 5.7 1.1 1.7 1.7 0.8M227.2 1273.2l1.5 0.6 0.8-0.4 1.7-4.3-0.4-4.1-2.1-2.1-2.5 0.9-1.3 2.8 0.4 4.1 1.9 2.5M231.5 1250.2l3 0.4 6.5-0.9 1.7-0.5 0.4-1.5-2.9-4.9-5.8-4.8-5.7-1.5-2.5 0.1-2.4 1-1.1 1.1-0.4 1.6 1.2 3.3 3.5 3.8 4.5 2.8M170.6 1211.5l3.6 9.1 5.5 22.2 2.8 7.4 1.8 1 1.6-0.6 1.7-2.1 0.8-3.3 0.2-4.9-1.9-15.1-3.6-13.7" stroke="#1f9a8a"/><path d="M238.9 1378.5l3-0.2 1.9-1.5 0.3-0.8-1.4-1.1-1.7 0.4-1.9 1.5-0.2 1.7M240.4 1364.5l1.5 0.2 2.4-2.8 2.5-5.4 1.6-5.4 3.5-17 1.6-18.1-0.3-15.6-2.3-17.9-1.6-6.4-2.5-6.1-2.5-3.3-1.6-0.8-1.7 0.7-0.4 0.8-0.4 3.3 3.7 29.7 0.5 18-1.2 18.1-3.5 23.1 0 3.3 0.7 1.6M260.6 1362.9l1-0.4 1.6-2.4 2.5-6.2 2.5-9.3 1.7-9.7 1.4-18.9-1.1-21.4-2-13.2-1.4-3.3-3.3-4.9-0.2-6.6-1-3.3-2.3-3.3-3.6-3.2-3.9-2.5-3.2-1-0.9 0.2-0.9 1.6 0.7 4.1 1.3 1.7 5.3 4.1 2.3 2.4 2.3 4.2 0.8 3.3 2.6 26.3 0.5 12.3-0.7 20.6-2.7 24.6 0 2.9 0.7 1.3M280.4 1349.7l0.9-0.6 2.9-6 2.9-8.2 1.2-8.2 2.3-27.2-0.6-11.5-1.6-8.2-2.1-4.2-1.7-1.3-2.4-0.5-1.7 0.5-0.4 0.6-0.6 3.2 2.1 34.6-1.6 32.9 0.4 4.1M221.5 1348.9l2.3-0.2 1.6-1.1 3-4.5 2.2-7.4 1.4-9.9 0.4-12.3-0.7-9.9-2.2-5.6-1.6-1.5-1.7-0.5-2.4 0.4-1.7 1.3-1.4 2.7-0.7 3.2-0.3 18.1-1.6 21.4 0.7 3.3 1.2 1.7 1.5 0.8M146.1 1334.9l2 0.7 1.4-0.7 0.8-1.7 0.3-2.4-1.7-6.1-1.6-2.2-1.7-0.5-1.6 1.9-0.6 4.4 0.9 4.1 1.8 2.5M177.9 1313.5l1.4 0.3 1.3-1.1 0.3-0.8-0.7-1.7-0.9-0.4-1.4 1.2-0.4 1.7 0.4 0.8M187 1313.5l0.6 0.7 1.3-0.7 0.3-1.6-0.8-1.2-1.4 1.2 0 1.6M188.3 1305.3l0.9 0.5 0.8-0.3 1.5-1.9-0.1-1.6-1.4-1.1-1.6 0-0.9 1.1-0.1 1.6 0.9 1.7M185.4 1296.2l2.2 0.5 1.2-1.3 0.6-1.6-1.8-5 1.5-3.3 0.2-1.6-0.6-1.6-1.1-0.5-1.7 1.3-0.5 1.6 0.5 2.1 1.6 2-2.6 5-0.1 1.6 0.6 0.8M227.5 1271.6l1.2 0.2 0.8-0.7 0.9-2.8-0.9-3.2-1.6-0.8-1.7 1.4-0.4 1.7 0.3 2.5 1.4 1.7M231.7 1249.4l3.6 0.5 4.1-0.8 1.7-1.4-0.2-1.6-2.9-4.1-4.4-3.1-4.9-1.3-4.1 0.8-1.2 1.9 1 3.3 3.5 3.6 3.8 2.2M182.8 1239.5l1.5 0.7 0.6-1.5-0.1-7.4-2.2-8.4-1.6-3.1-1.7-1.2-0.9 2 0.4 6.5 1.4 6.4 2.6 6" stroke="#1f9f88"/><path d="M241.8 1362l1.7-0.8 1.6-2.4 2.5-6.2 1.7-5.9 2.9-15.9 1.1-15.6-0.3-14.8-2.1-16.3-3.3-10.8-2.5-3.9-1.6-1.1-1.6 0.7-0.8 3.4 3 27.1 0.6 12.4-0.9 20.5-3.1 24.7 0.1 3.3 1 1.6M261.1 1358.7l0.5 0.7 0.8-0.3 1.7-2.5 4.1-13.2 2.2-13.4 0.7-13.2-0.8-18.1-2.1-15.6-1.7-4.6-4.9-5.7-0.6 7.8 2.1 20.6 0.4 14-0.7 18-2 22.3 0.3 3.2M221 1346.4l1.9 0.5 1.7-0.6 3.3-3.7 2.2-6.1 1.5-9 0.6-11.5-0.7-9.1-2-5.7-1.6-1.7-1.7-0.7-2.4 0.5-1.7 1.6-1.6 5.8-1.8 33.1 0.5 4.1 1.8 2.5M281 1345.6l0.3 0.4 0.9-0.9 1.6-3.1 3.3-9 3.3-33.5-0.4-9.8-1.5-8.3-2.2-4.5-1.7-1.2-1.6-0.3-1.7 0.3-0.8 1.1-0.5 3.8 1.8 31.3-1.2 29.6 0.4 4.1M188.7 1304.5l1.3 0.1 0.8-1 0.1-1-0.9-0.8-1.6 0.5-0.2 1.3 0.5 0.9M186 1295.4l1.6 0.2 0.9-1 0.2-1.7-1.1-1.4-1.7 1.6 0.1 2.3M186.8 1286.4l0.8 0.3 0.8-1.2 0.2-1.6-1-0.9-1.3 1.7 0.5 1.7M261.3 1271.6l0.3 0.7 0.5-5.7-2.3-4.9-5.6-5.5-3.3-1.4-1.6 0.2-0.6 2.6 1.3 2.4 7.5 6.6 3.8 5M227.4 1269.1l0.5 0.5 1-0.5-0.2-2.6-0.8-0.3-0.9 1 0.4 1.9M231.7 1248.5l2.7 0.6 3.7-0.6 1.5-1.6-0.3-1.7-2.6-3.2-3.9-2.5-4.1-1-3.3 0.7-1 1.9 0.9 2.5 2.6 2.7 3.8 2.2" stroke="#20a386"/><path d="M242.6 1359.6l1.7-1.1 1.7-2.9 4.1-13.6 2.3-13.7 0.8-14-0.7-16.9-1.8-12.7-3.1-9.9-2.5-3.7-1.6-0.6-1.4 1.9-0.2 3.3 2.5 24.7 0.5 13.9-0.9 18.1-2.5 22.2 0.1 3.3 1 1.7M262.2 1356.3l1-0.3 1.7-2.9 3.3-10.9 2-12.2 0.8-12.4-0.8-17.2-1.8-14.9-1.9-6.1-3.3-3.3-1 0.4-0.8 3.3 2.3 31.2-0.4 16.5-1.7 24.7 0 2.5 0.6 1.6M221.3 1344.8l1.6 0.5 1.7-0.5 3.3-3.5 2.1-5.6 1.4-8.2 0.6-10.7-0.7-8.2-1.8-5.1-1.6-1.9-1.7-0.7-1.6 0.2-1.7 1.1-1.2 2.3-0.9 4.1-1.7 29.6 0.6 4.1 1.6 2.5M281.5 1342.3l0.7 0.4 1.6-2.5 2.3-5.3 1-3.9 3.1-30.6-0.3-9.1-1.3-8.2-1.5-4-1.7-1.7-1.6-0.7-2.5 0.8-1 4.8 1.7 28.7-0.8 26.4 0.3 4.9M257.7 1265l1.4 0.8 0.6-0.8-1.4-3.3-1.9-2.5-3.9-2.7-1.6-0.2-0.7 0.5 0 1.6 1 1.6 6.5 5M231.6 1247.7l2.8 0.6 2.5-0.4 1.2-1 0-1.7-1.8-2.4-3.5-2.4-4.1-1-2.5 0.7-0.7 1.9 0.7 1.6 2.4 2.5 3 1.6" stroke="#22a884"/><path d="M243.3 1357.1l1.8-1.4 1.7-3.4 3.3-11.4 2.1-12.6 0.8-13.1-0.5-14.8-1.6-13.2-3.3-10.9-1.6-2.7-1.7-1-0.8 0.3-0.6 1.1-0.4 3.3 2.1 22.2 0.5 10.7-0.6 17.3-2.2 24.7 0.1 3.3 0.9 1.6M262.4 1353l0.8 0.8 1.7-2.3 3.3-10.5 1.9-11 0.7-11.6-0.8-18-1.8-14.3-1.7-5.7-1.6-2.2-1.7-0.7-0.8 0.6-0.5 3.3 2 28.8-1.5 42.8M221.3 1343.1l1.6 0.8 1.7-0.3 2.9-2.9 2.2-5 1.5-8.2 0.6-9.1-0.6-8.2-1.7-4.9-1.6-2-1.7-0.7-1.6 0.2-1.7 1.4-1.2 2.7-0.7 4.1-1.5 24.7 0.5 5 1.3 2.4M282.1 1339.8l0.9-0.2 1.6-2.8 2.5-7.9 2.9-29.4-0.3-8.2-1.5-8.2-1.9-3.9-2.5-1.3-1.6 0.4-0.9 1-0.7 4.6 1.6 27.1-0.6 23.9 0.5 4.9M254.1 1260.9l0.9 0.5 0.7-0.5-2.3-2.2-0.8 0.5 1.5 1.7M231.5 1246.9l3.8 0.4 0.9-0.4 0.5-1.7-1.7-2.4-3-1.9-3.3-0.5-1.7 0.7-0.1 1.7 1 1.6 3.6 2.5" stroke="#26ad81"/><path d="M243.9 1354.6l1.2-0.6 1.7-3.1 3.3-11.1 1.9-11.5 0.8-12.3-0.4-14-1.5-13-2.5-9.4-1.6-3.4-1.7-1.6-0.8 0.1-0.7 1-0.4 3.3 2.1 30.4-0.5 16.4-1.8 24.7 0.3 3.3 0.6 0.8M263.1 1350.5l0.1 0.5 0.9 0 0.8-1.1 3.3-10 1.7-9.9 0.7-11.6-0.8-17.2-1.6-13.2-1.7-6.4-0.8-1.5-1.6-1.3-0.9 0.1-0.5 0.9-0.3 2.5 1.6 26.3-1.2 37 0.3 4.9M222 1342.3l1.8 0.4 1.6-0.7 2.5-2.9 1.9-5 1.4-7.5 0.4-8.2-0.7-7.4-1.8-4.9-1.2-1.3-1.7-0.8-1.6 0.3-1.7 1.6-1 2.7-0.9 4.9-1.2 22.2 0.7 4.4 1.5 2.2M282.7 1337.4l1.1-0.8 0.9-1.7 2.2-7.4 2.9-28.8-0.4-8.2-1.2-6.6-1.9-3.7-2.5-1.2-1.6 0.6-0.6 1-0.7 4.9 1.6 24.7-0.6 22.2 0.3 4.3 0.5 0.7M231.9 1246.1l2.8 0 0.5-0.9-0.8-1.6-3.2-1.9-2.5 0-0.5 1.1 0.3 0.8 3.4 2.5" stroke="#2cb17e"/><path d="M244.3 1352.2l0.8-0.1 1.7-2.6 3.3-10.8 1.8-10.4 0.7-11.5-0.4-14-1.4-12.3-2.4-9.5-1.6-3.3-1.7-1.2-1 1.6-0.3 3.3 1.7 27.2-1.9 38.6 0.7 5M263.6 1348.1l0.5 0.7 1.6-2.2 2.5-7.9 1.6-9.5 0.7-10.8-0.7-14.5-1.6-14-1.7-6.9-0.8-1.7-1.6-1.2-0.9 0.7-0.3 3.1 1.4 23.9-1.1 34.5 0.4 5.8M222.8 1341.5l2.6-0.5 2.5-2.8 2.1-5.8 1.1-7.4 0.2-8.2-0.8-5.8-1.8-4.1-2.5-1.6-1.6 0.3-1.7 1.8-1.2 3.6-0.7 5-0.8 19.7 0.9 4.1 1.7 1.7M282.8 1334.9l0.2 0.4 0.8-0.5 0.8-1.4 1.7-5.1 1.3-14.8 2-14.8-0.4-8.2-1.3-6.4-1.6-2.9-2.5-1.2-1.8 1.4-0.8 5 1.6 23.8-0.6 19.8 0.6 4.9M231.1 1243.6l0 0" stroke="#32b67a"/><path d="M244.9 1349.7l1.1-0.3 1.6-3.3 2.5-8.4 1.6-9.5 0.8-11.4-0.5-13.2-1.1-10.8-2.5-10.3-2.4-3.9-0.9 0.2-0.4 1-0.4 3.3 1.4 23.8-1.5 37 0.1 4.5 0.6 1.3M263.9 1345.6l0.2 0.6 0.8 0.1 0.8-1.1 2.5-7.6 1.6-9.9 0.5-8.4-0.5-12.3-1.6-15-1.7-7.3-1.6-2.9-1.1 0.5-0.4 2.4 1.1 21.4-0.9 32.1 0.3 7.4M223.7 1340.7l2.5-1.2 2.5-3.9 1.6-5.6 0.7-5.8 0.1-6.6-0.8-5.8-1.6-3.8-2.5-1.6-1.6 0.4-1.9 2.6-1.1 4.1-0.8 7.4-0.3 14.8 0.9 3.3 0.7 1 1.6 0.7M283 1332.4l0.8 0.4 0.8-1.2 1.5-4.9 1.1-14 2.2-14.8-0.4-7.4-1.1-5.4-1.6-3-2.5-1.1-1.6 1.5-0.7 4.7 1.6 23.8-0.4 16.5 0.3 4.9" stroke="#3bbb75"/><path d="M245.4 1347.2l0.6 0.3 1.6-2.7 2.5-8.2 1.6-9.8 0.6-10-0.6-13.8-1.5-12.5-1.8-6.5-1.6-3-0.8-0.3-0.9 1.4-0.2 3.4 1.1 21.4-1.3 33.8 0.2 4.9 0.5 1.6M264.5 1343.9l0.4 0.5 0.8-0.8 2.5-7.1 1.4-9 0.5-8.2-0.3-9.2-1.6-15.6-1.7-7.9-1.6-2.8-0.6 0.9-0.3 2.5 0.7 19.7-0.8 31.3 0.6 5.7M222.3 1339l2.3 0.7 2.4-2 2.2-4.5 1.4-6.5 0.4-7.4-0.7-6-1.6-4.2-2.5-1.7-1.6 0.5-1.7 2.2-1.5 6.7-0.8 15.6 0.5 4.1 1.2 2.5M283.5 1330l0.3 0.5 0.8-1.1 1-3.6 0.9-13.1 2.2-9.9 0.5-4.9-0.4-7.4-0.9-4.2-1.6-3.2-1.7-1.2-0.8 0.1-1.2 1.1-0.9 4.9 1.9 23-0.6 14.8 0.5 4.2" stroke="#44bf70"/><path d="M245.7 1344.8l0.3 0.4 0.8-0.4 0.8-1.4 2.5-7.9 1.4-8.8 0.6-8.3-0.4-11.6-1.2-12.2-2.1-8.9-1.6-2.6-0.8 0.4-0.5 3.7 0.8 18.9-1.2 31.3 0.6 7.4M264.6 1341.5l0.3 0.8 0.8-0.2 2.5-6.8 1.7-14.4-0.2-9-1.5-14.5-0.9-5-1.6-5.3-0.8 0.3-0.2 2.3 0.3 16.4-0.9 28.8 0.5 6.6M222.6 1338.2l2 0.6 2.4-1.9 2.2-4.5 1.2-5.7 0.4-6.6-0.6-5.8-1.5-4.1-2.5-1.8-1.6 0.5-1.5 2.1-1.5 6.6-0.8 14 0.5 4.1 1.3 2.5M283.8 1326.7l0.8-0.3 0.7-3.8-0.1-9.1 2.7-8.5 1.1-7.9-0.3-5.5-0.8-4.2-1.6-3.4-1.7-1.2-1.7 1.1-0.9 4.9 0.4 9.1 2.1 14.8-0.7 14" stroke="#4ec36b"/><path d="M245.9 1342.3l0.9 0.7 0.8-1.1 2.5-7.5 1.3-7.7 0.5-8.3-0.3-9.8-1.5-14.1-1.7-6.8-0.8-1.6-0.8-0.4-0.7 4 0.5 15.6-1.1 27.9 0.4 9.1M264.9 1339.8l0.8 0.7 0.8-1.2 1.7-5.1 1.1-6.7 0.4-7.4-0.3-8.2-1.2-11.2-1.7-8.4-0.8-1-1.3 38.7 0.5 9.8M222.7 1337.4l1.9 0.6 2.4-1.8 1.9-3.8 1.4-6.6 0.2-6.5-0.6-5-1.3-3.3-2.4-1.7-1.6 0.6-1.3 2-1.6 6.5-0.6 13.2 0.4 3.3 1.2 2.5M285.1 1308.6l0.3 0.2 0.9-1.1 1.6-4.3 0.8-8-1.3-8.2-1.1-2.3-1.7-1.1-0.8 0.1-1 1.6-0.5 5.8 0.9 10.7 0.6 3.5 1.3 3.1" stroke="#58c765"/><path d="M246.6 1340.7l1-0.3 0.8-1.6 1.7-5.5 1.6-14-0.3-9.1-1.3-12.8-0.8-4.5-1.7-4-0.8 2.9 0.2 14.3-1.2 24.7 0.1 7.4 0.7 2.5M265.3 1338.2l0.4 0.6 0.8-0.8 1.7-5 1.3-11.3-0.5-11.8-1.7-10.2-0.8-2.2-1.8 28.3 0 9.1 0.6 3.3M222.9 1336.5l1.7 0.7 2.4-1.8 1.9-3.8 1.2-5.8 0.2-6.1-0.7-5.4-1.7-3.3-1.7-0.8-1.6 0.6-0.8 1.1-2 7.4-0.5 11.5 0.4 3.3 1.2 2.4M284.9 1306.1l0.5 0.5 1.7-2.2 1-4 0.4-5-0.5-4.9-0.9-3.2-0.8-1.5-1.7-1.1-0.8 0.3-0.8 1.5-0.5 4.8 0.8 9.1 1.6 5.7" stroke="#63cb5f"/><path d="M246.6 1338.2l0.2 0.5 0.8 0.1 1.7-3.5 1.6-7.9 0.5-6.5-0.5-13.2-1.6-11.4-0.9-2.6-0.8 1.4-1.4 30.7-0.1 8.3 0.5 4.1M265.5 1336.5l0.2 0.5 0.8-0.4 0.8-1.9 1.9-11.3-0.2-10.7-1.7-8.8-0.8 0.4-1.4 16.6-0.3 10.7 0.7 4.9M223 1335.7l1.6 0.8 2.4-1.8 1.7-3.4 1.2-5.5 0.2-5.7-0.6-4.7-1.6-3.5-1.7-0.9-1.6 0.7-0.8 1.2-1.7 6.4-0.6 10.7 0.6 4 0.9 1.7M285.1 1304.5l0.3 0.3 0.9-0.5 0.8-1.5 0.8-3.3 0.2-4.9-1-6.1-0.8-1.7-1.7-1.1-0.8 0.5-0.7 1.8-0.3 4.9 1 8.4 1.3 3.2" stroke="#6ece58"/><path d="M247 1336.5l0.6 0.6 1.7-3.1 1.2-5.7 0.7-6.6-0.4-11.5-1.5-9.2-0.9-0.3-1.9 24.3-0.1 7.4 0.6 4.1M223.1 1334.9l1.5 0.8 2.4-1.7 1.7-3.6 1-4.6-0.2-9-1.6-4-1.7-1-1.6 0.8-0.8 1.3-1.6 6.2-0.4 9.9 0.3 2.5 1 2.4M265.7 1334.9l0.8 0.2 0.8-1.7 1.7-9.4-0.1-8.8-1.6-7.8-0.8 1.2-1.1 10.7-0.3 9.8 0.6 5.8M285.1 1302.8l0.3 0.4 0.9-0.4 0.8-1.5 0.7-6.7-1.1-5.8-1.3-1.9-0.8-0.2-1.2 2.1-0.3 4.1 0.7 6.5 1.3 3.4" stroke="#7ad151"/><path d="M224.5 1334.9l1.7-0.7 1.7-2.4 1.7-7.6 0-4.9-0.6-3.3-1.1-2.3-1.7-1.1-1.6 0.9-0.8 1.4-1.7 8 0.2 8.7 0.6 2 1.6 1.3M247.4 1334.9l0.2 0.4 0.8-0.6 0.9-2 1.6-9.8-0.1-8.6-1.5-8.5-0.9 1.4-1.6 15.4-0.1 9 0.7 3.3M266.2 1333.2l0.3 0.3 0.8-1.5 0.9-3.3 0.6-6.1-0.3-7.4-1.2-4.9-0.8 1.6-1 9.8-0.1 8.3 0.8 3.2M285.1 1301.2l0.3 0.4 0.9-0.3 0.8-1.8 0.4-4.9-1.2-5.6-0.9-1-0.8-0.1-0.9 1.8-0.2 4.1 0.4 4.1 1.2 3.3" stroke="#86d549"/><path d="M224.4 1334.1l1.8-0.6 1.7-2.5 1.5-6.8 0-4.1-0.7-3.8-0.8-1.7-1.7-1.1-1.6 0.9-0.8 1.5-1.5 7.5 0.2 7.4 0.9 2.4 1 0.9M247.4 1332.4l0.2 0.7 0.8 0 0.9-1.8 1.3-7.9-0.1-8.2-0.4-3.6-0.8-2.1-0.9 1.6-1 8.2-0.4 8.2 0.4 4.9M266.5 1331.6l0.8-1.2 1.2-7-0.2-7.4-1-3-0.8 1.7-0.8 8 0 6.3 0.8 2.6M285.1 1299.5l0.3 0.5 0.9-0.4 0.8-3.4-0.3-4.1-1.4-2.9-0.9 0.5-0.6 3.2 0.4 4.2 0.8 2.4" stroke="#95d840"/><path d="M224.4 1333.2l1 0.1 1.7-1.7 1.3-3.3 0.7-4.1-0.4-6.7-0.8-2-1.7-1.2-1.6 1-0.8 1.6-1.2 5.7 0.1 7.4 0.8 2.4 0.9 0.8M247.9 1330.8l0.5 0.5 0.9-1.6 0.9-5.5 0.1-7.4-1-4.2-0.9 1.7-0.8 5.8-0.2 7.4 0.5 3.3M266.4 1329.1l0.1 0.4 0.8-1 0.9-5 0-4.3-0.9-3.5-0.8 2-0.3 4 0.2 7.4M285.3 1297.9l1-0.5 0.2-2-0.2-3-0.9-1.5-0.8 0.5-0.2 2.4 0.9 4.1" stroke="#a2da37"/><path d="M224.5 1332.4l0.9 0.1 1.6-1.6 1.8-5.9-0.2-6.6-0.7-1.9-1.7-1.4-0.8 0.3-1.1 1.4-1.4 5.8 0 6.8 1.6 3M248.2 1328.3l0.2 0.8 0.9-1.4 0.7-5.1 0-3.3-0.7-3.6-0.9 1.8-0.4 4.2 0.2 6.6M266.5 1325l0.8 0.8 0-6.6-0.8 5.8" stroke="#b0dd2f"/><path d="M224.6 1331.6l0.8 0.1 1.6-1.6 1.6-5.9-0.5-5.8-1.1-2-0.8-0.4-1.6 1.2-1.4 5.4-0.1 5.7 0.7 2.4 0.8 0.9M248.8 1324.2l0.5 0.1 0-4.3-0.8 3.4 0.3 0.8" stroke="#bddf26"/><path d="M225.1 1330.8l1.1-0.4 0.8-1.2 1.3-5-0.4-5.3-1.7-2-1.6 1.4-1.2 5.1 0.3 5.7 1.4 1.7" stroke="#cae11f"/><path d="M224.4 1329.1l1 0.8 0.8-0.5 1.7-4.2 0-4.5-0.9-2.3-0.8-0.5-1.6 1.6-0.8 3.1-0.1 4.1 0.7 2.4" stroke="#d8e219"/><path d="M224.7 1328.3l0.7 0.5 0.8-0.4 1.3-3.4-0.1-4.1-1.2-1.9-1.2 1.1-0.8 2.5-0.1 3.2 0.6 2.5" stroke="#e5e419"/><path d="M224.9 1326.7l0.5 0.7 0.8-0.4 0.8-2 0-3-0.8-1.6-0.8 0.4-0.8 2.5 0.3 3.4" stroke="#f1e51d"/><path d="M225.4 1324.2l0 0.4 0.8-0.2 0-1.3-0.8 1.1" stroke="#fde725"/></g>
</g>
<path d="M145.30 1315.97L145.27 1312.08L145.35 1308.20L145.54 1304.30L145.84 1300.42L146.23 1296.53L146.72 1292.64L147.29 1288.76L147.94 1284.89L148.66 1281.02L149.44 1277.16L150.29 1273.32L151.19 1269.49L152.13 1265.67L153.12 1261.86L154.14 1258.08L155.20 1254.31L156.27 1250.56L157.39 1246.83L158.58 1243.10L159.83 1239.38L161.18 1235.65L162.64 1231.91L164.24 1228.18L166.06 1224.61L168.20 1221.36L170.76 1218.64L173.78 1216.57L177.14 1215.18L180.68 1214.46L184.31 1214.38L187.99 1214.82L191.73 1215.66L195.50 1216.80L199.30 1218.10L203.12 1219.46L206.94 1220.83L210.77 1222.23L214.58 1223.65L218.38 1225.10L222.15 1226.60L225.88 1228.15L229.57 1229.75L233.21 1231.42L236.79 1233.17L240.30 1234.99L243.73 1236.91L247.08 1238.92L250.33 1241.03L253.47 1243.26L256.51 1245.60L259.42 1248.08L262.21 1250.68L264.86 1253.43L267.37 1256.32L269.74 1259.33L271.97 1262.45L274.06 1265.69L276.01 1269.04L277.82 1272.48L279.48 1276.01L281.00 1279.61L282.38 1283.29L283.61 1287.04L284.69 1290.84L285.63 1294.69L286.42 1298.59L287.06 1302.51L287.55 1306.46L287.89 1310.43L288.08 1314.42L288.12 1318.40L288.01 1322.38L287.74 1326.34L287.32 1330.29L286.74 1334.21L286.01 1338.09L285.12 1341.92L284.07 1345.71L282.86 1349.43L281.50 1353.09L279.97 1356.67L278.29 1360.18L276.44 1363.59L274.43 1366.90L272.26 1370.10L269.92 1373.19L267.42 1376.16L264.75 1379.01L261.92 1381.71L258.94 1384.27L255.82 1386.68L252.57 1388.93L249.20 1391.02L245.73 1392.94L242.17 1394.68L238.54 1396.23L234.83 1397.59L231.07 1398.76L227.27 1399.72L223.44 1400.47L219.59 1401.00L215.74 1401.30L211.89 1401.37L208.06 1401.20L204.26 1400.79L200.51 1400.12L196.81 1399.19L193.19 1398.00L189.64 1396.53L186.18 1394.78L182.83 1392.75L179.59 1390.46L176.47 1387.93L173.48 1385.19L170.62 1382.27L167.90 1379.19L165.33 1375.98L162.92 1372.67L160.67 1369.28L158.59 1365.83L156.68 1362.32L154.92 1358.76L153.32 1355.15L151.88 1351.50L150.59 1347.80L149.45 1344.07L148.45 1340.31L147.59 1336.52L146.88 1332.70L146.30 1328.87L145.85 1325.01L145.53 1321.14L145.33 1317.26Z" fill="none" stroke="#dd22dd" stroke-width="1.2"/>
<rect x="138.10" y="1205.40" width="162.00" height="206.60" fill="none" stroke="#666" stroke-width="0.9"/>
<circle cx="282.98" cy="1275.11" r="1.3" fill="#000"/>
<circle cx="284.32" cy="1278.30" r="1.3" fill="#000"/>
<circle cx="285.61" cy="1281.73" r="1.3" fill="#000"/>
<circle cx="286.71" cy="1285.02" r="1.3" fill="#000"/>
<circle cx="287.76" cy="1288.55" r="1.3" fill="#000"/>
<circle cx="288.64" cy="1291.92" r="1.3" fill="#000"/>
<circle cx="289.46" cy="1295.52" r="1.3" fill="#000"/>
<circle cx="290.11" cy="1298.96" r="1.3" fill="#000"/>
<circle cx="290.65" cy="1302.41" r="1.3" fill="#000"/>
<circle cx="291.10" cy="1306.09" r="1.3" fill="#000"/>
<circle cx="291.41" cy="1309.58" r="1.3" fill="#000"/>
<circle cx="291.61" cy="1313.28" r="1.3" fill="#000"/>
<circle cx="291.69" cy="1316.79" r="1.3" fill="#000"/>
<text x="132.80" y="1221.20" font-family="Liberation Sans" font-size="8.8" fill="#222" text-anchor="end" textLength="12.30" lengthAdjust="spacingAndGlyphs" >0.6</text>
<text x="132.80" y="1254.10" font-family="Liberation Sans" font-size="8.8" fill="#222" text-anchor="end" textLength="12.30" lengthAdjust="spacingAndGlyphs" >0.4</text>
<text x="132.80" y="1287.00" font-family="Liberation Sans" font-size="8.8" fill="#222" text-anchor="end" textLength="12.30" lengthAdjust="spacingAndGlyphs" >0.2</text>
<text x="132.80" y="1319.90" font-family="Liberation Sans" font-size="8.8" fill="#222" text-anchor="end" textLength="12.30" lengthAdjust="spacingAndGlyphs" >0.0</text>
<text x="132.80" y="1352.80" font-family="Liberation Sans" font-size="8.8" fill="#222" text-anchor="end" textLength="18.50" lengthAdjust="spacingAndGlyphs" >−0.2</text>
<text x="132.80" y="1385.70" font-family="Liberation Sans" font-size="8.8" fill="#222" text-anchor="end" textLength="18.50" lengthAdjust="spacingAndGlyphs" >−0.4</text>
<text x="168.65" y="1423.40" font-family="Liberation Sans" font-size="8.8" fill="#222" text-anchor="middle" textLength="12.30" lengthAdjust="spacingAndGlyphs" >2.2</text>
<text x="201.55" y="1423.40" font-family="Liberation Sans" font-size="8.8" fill="#222" text-anchor="middle" textLength="12.30" lengthAdjust="spacingAndGlyphs" >2.4</text>
<text x="234.45" y="1423.40" font-family="Liberation Sans" font-size="8.8" fill="#222" text-anchor="middle" textLength="12.30" lengthAdjust="spacingAndGlyphs" >2.6</text>
<text x="267.35" y="1423.40" font-family="Liberation Sans" font-size="8.8" fill="#222" text-anchor="middle" textLength="12.30" lengthAdjust="spacingAndGlyphs" >2.8</text>
<path d="M138.10 1218.10h-2.2M138.10 1251.00h-2.2M138.10 1283.90h-2.2M138.10 1316.80h-2.2M138.10 1349.70h-2.2M138.10 1382.60h-2.2M168.65 1412.00v2.2M201.55 1412.00v2.2M234.45 1412.00v2.2M267.35 1412.00v2.2" stroke="#444" stroke-width="0.8"/>
<text x="219.10" y="1432.60" font-family="Liberation Sans" font-size="8.8" fill="#222" text-anchor="middle" textLength="21.50" lengthAdjust="spacingAndGlyphs" >R [m]</text>
<text x="219.10" y="1200.60" font-family="Liberation Serif" font-size="12.7" fill="#000" text-anchor="middle" font-weight="bold" textLength="14.50" lengthAdjust="spacingAndGlyphs" >0°</text>
<g clip-path="url(#clipC1)">
<g fill="none" stroke-width="0.95" stroke-linejoin="round"><path d="M472.3 1290.1l-3.3-4.6-3.8-8.2 0.5 0 0.8 1.1 5 7.8 1.2 2.6-0.4 1.3M464.9 1276.9l0-0.4 0 0.4" stroke="#472a7a"/><path d="M472.3 1291.4l-2.5-3.2-5.7-10.5-2.5-5.5-0.4-1.5 0.4-0.6 4.1 5.7 7.4 12.3 0.8 3.7-1.6-0.4" stroke="#46307e"/><path d="M473.1 1293l-3.3-3.9-6.6-11.8-4.2-9-0.4-1.7 0.4-0.8 1 0.5 2.4 3.5 10.7 17.5 1.8 4.8-0.1 1.2-1.7-0.3" stroke="#453781"/><path d="M420.5 1297.4l-0.6-1.2 0.4-0.8 2 0 0.2 1.7-1.2 0.6-0.8-0.3M474.8 1294.8l-1.7-1-2.4-2.7-6.6-11.3-6-12.4-0.4-1.6 0.6-1.3 2.5 1.9 12.3 20.2 2.5 6 0 1.9-0.8 0.3" stroke="#433e85"/><path d="M419.7 1297.9l-0.7-1.7 1.1-1.6 2-0.2 1.2 1 0.2 1.7-0.6 0.8-1.6 0.6-1.6-0.6M474.8 1295.8l-2.5-2.1-2.5-3.2-6.6-11.4-5.7-11.7-0.5-2.4 0.5-1.3 1.6 0.3 1.7 1.7 13.1 21.9 2.6 7-0.1 0.8-0.8 0.6-0.8-0.2" stroke="#414487"/><path d="M436.9 1316l-0.9-0.8 0.1-1.6 1.7-0.5 0.8 1-0.1 1.1-0.7 0.8-0.9 0M420.5 1299l-1.7-1.1-0.3-2.5 1.2-1.3 2.4-0.3 1.7 1.2 0.3 2.1-1.3 1.6-2.3 0.3M475.6 1297.1l-2.5-1.9-3.3-4-7.4-12.9-5.6-11.7-0.3-2.4 1-1.5 1.6 0.7 2.5 3 12.4 20.8 2.3 4.9 0.8 3.3-0.4 1.7-1.1 0" stroke="#3e4989"/><path d="M436.1 1316.3l-0.7-1.1 0-1.7 1.5-1.2 1.5 0.4 1 1.6-0.5 1.7-1.1 0.8-1.7-0.5M421.3 1299.6l-2.5-0.9-1.2-2.5 1.2-2.2 2.5-0.8 2.5 0.9 0.9 2.1-0.9 2.4-2.5 1M475.6 1298l-2.5-2.1-3.3-4.1-8.2-14.3-5.2-10.9-0.5-2.4 0.8-2.1 1.6 0.2 2.5 2.4 14 23.4 3 8.1-0.6 2.2-1.6-0.4M446.8 1291.6l-1.9-1.9-0.3-1.7 0.6-0.5 1.9 2.2 0.1 1.6-0.4 0.3M483 1267.6l0 0M482.2 1266.6l0-0.9 0 0.9M481.3 1265.1l0-0.6 0 0.6M480.5 1263.4l0 0" stroke="#3c4f8a"/><path d="M475.6 1341.1l-0.8-1.1-0.3-2.6 0.3-2.5 0.8-0.6 0.8 1.7 0.2 2.2-0.2 1.6-0.8 1.3M436.1 1317l-1.2-1.8 0-1.7 1.2-1.5 2-0.1 1.7 1.6-0.2 2.5-1.8 1.4-1.7-0.4M419.7 1299.8l-2.3-1.9-0.4-1.7 0.6-1.6 2.1-1.7 3.2 0.1 2.2 2.4-0.2 2.5-2 1.8-3.2 0.1M477.2 1299.7l-3.3-2.3-3.2-3.9-9.1-15.3-5.8-12.4-0.2-3.3 1.1-1.2 2.4 1.1 2.5 3.1 13.2 22.2 2.5 5.2 1.2 4.2-0.2 2.4-1.1 0.2M447.6 1293l-1.6-0.8-1.7-2.2-0.6-2.8 0.6-1 1.7 0.7 1.6 2.3 0.8 2.9-0.8 0.9M489.6 1279.4l-2.5-2.8-7.4-12.4-3.5-6.6-0.5-1.7 0.6-0.8 1.8 1.6 3.2 5.4 8.3 15.8" stroke="#3a548c"/><path d="M475.6 1343.4l-1.1-1.1-0.7-3.3 0.1-4.9 0.9-1.9 0.8 0 0.8 0.9 0.9 3.4-0.2 4.2-0.7 2-0.8 0.7M436.9 1317.9l-2.1-1.9-0.4-2.5 1-1.6 2.4-0.7 2.1 1.5 0.6 2.5-1.1 1.9-2.5 0.8M456.7 1310.7l-1.7-2.1 0-2.8 1.7 0.5 1.2 2.3 0.3 1.6-0.7 0.8-0.8-0.3M478.1 1301.2l-3.3-2.4-4.1-4.7-9.1-15.3-5.9-12.2-0.7-3.3 0.8-2.5 0.9-0.2 1.6 0.7 2.5 2.6 14 23.3 4.2 9.9 0.4 3.3-0.5 0.9-0.8-0.1M420.5 1300.5l-3.2-1.8-0.8-1.6 0.1-1.7 2.2-2.6 3.3-0.5 2.6 1.5 0.8 1.6 0.1 1.7-1.8 2.7-3.3 0.7M447.6 1294l-2.4-1.9-1.5-2.4-0.7-2.5 0.5-1.8 0.8-0.2 1.7 0.9 2.4 3.6 0.8 3.2-0.8 1.1-0.8 0M489.6 1281.1l-5.8-8.8-7.4-13.1-1.5-3.3-0.1-2 0.8-0.4 0.8 0.4 2.4 2.9 10.8 19.3" stroke="#375a8c"/><path d="M475.6 1345.1l-0.8-0.5-0.9-1.6-0.7-4.8 0.2-5.8 1.4-1.7 0.8 0.2 1.3 1.5 0.9 4.1-0.6 6.5-0.8 1.6-0.8 0.5M436.1 1318l-1.8-2-0.1-3.3 1.9-1.8 2.5 0.1 1.3 0.9 1 1.6-0.1 2.5-2.2 2.2-2.5-0.2M456.7 1312l-1.7-1.8-1.3-3.3 0.3-2.4 1-0.6 2.5 2.1 1.7 4.2 0 1.7-0.9 0.7-1.6-0.6M480.5 1303.7l-3.3-1.9-4.9-5-3.9-5.5-6-10.4-7.4-15.1-0.4-4.1 1.2-1.7 2.5 0.8 2.5 2.7 13.1 21.9 5 10.1 1.6 5.7 0 2.5M418.8 1300.5l-1.5-1-1.2-1.6-0.1-2.5 0.9-1.6 1.9-1.5 1.7-0.5 2.4 0.3 1.6 0.8 1.5 2.5-0.6 3.3-2.5 2-1.6 0.3-2.5-0.5M447.6 1294.8l-2.4-2.1-2.3-3.9-0.4-3.3 1-1.2 2.5 1.1 3.2 5.1 0.7 2.4-0.1 1.7-0.5 0.5-1.7-0.3M489.6 1282l-5.8-8.9-8.2-14.6-1.7-4.2 0.2-1.7 0.7-0.3 1.6 0.7 2.5 2.8 10.7 19.2" stroke="#355f8d"/><path d="M441.9 1375.2l-1-0.8 0.1-0.8 0.9-0.3 1.8 0.3 1.9 1.6-1.3 0.7-2.4-0.7M475.6 1346.5l-0.8-0.4-1.2-2.2-0.8-5.7 0-6.6 0.9-1.6 1.1-0.4 1.6 0.8 0.8 1.2 1.1 4.9-0.5 6.6-1 2.5-1.2 0.9M436.1 1318.5l-2.1-2.5-0.2-3.3 1.5-1.8 1.6-0.6 1.7 0.2 2.5 2.2 0.5 1.6-0.2 1.7-2.1 2.4-1.5 0.5-1.7-0.4M457.5 1313.5l-2.5-2.2-1.9-3.5-0.3-3.3 0.6-1.8 0.8-0.5 1.6 0.8 1.7 1.9 2.5 5.2 0 3.2-0.9 0.6-1.6-0.4M484.6 1312.1l-5.8-7.6-8.1-9.3-8.3-13.7-7.7-15.7-0.6-4.1 0.9-2.1 0.8-0.3 1.7 0.4 3.3 3.4 14 23.3 3.3 6.5 3.6 9.9 3.6 7.4 0.2 1.7-0.9 0.2M419.7 1301.2l-2.2-0.8-1.6-1.7-0.5-3.3 0.8-1.6 1.8-1.7 2.5-0.7 2.4 0.2 2.9 2.2 0.6 1.6-0.2 2.5-0.9 1.6-1.5 1.3-1.7 0.5-2.4-0.1M449.3 1296.3l-3.3-2.1-2.7-3.7-1.4-4.1 0.8-2.7 1.6-0.1 1.7 1.2 3.3 4.8 1.5 5-0.6 1.6-0.9 0.1M489.6 1282.8l-6.6-10.5-8.2-14.7-1.5-4.1 0.1-1.7 0.5-0.6 2.5 1 2.5 2.8 10.7 19" stroke="#32648e"/><path d="M445.2 1376.9l-5-1.7-1.1-1.6 0.3-0.8 2.5-0.5 3.7 1.3 1.6 1.6 0 0.8-2 0.9M448.4 1355.6l-2-1.8 0.5-0.8 2.4-0.1 1.6 0.6 1.7 1.1 0.3 0.9-1.2 0.7-3.3-0.6M474.8 1347.4l-1.3-1.8-0.7-2.5-0.7-9.9 0.4-3.2 0.6-0.9 1.7-0.5 1.6 0.8 1.4 2.2 1 6.6-0.4 4.9-1.1 3.3-0.9 1.1-1.6-0.1M436.9 1319.3l-2.4-1.8-0.9-1.5-0.4-2.5 1.3-2.5 1.6-0.9 1.7-0.2 1.6 0.5 1.8 1.5 0.9 1.6 0.2 1.7-0.6 1.6-1.5 1.6-1.6 0.9-1.7 0M459.1 1315.2l-3.3-2.1-3.1-4.5-0.8-3.3 0.7-6 4.1 3.6 3.3 5.7 1.1 4.9-0.3 1.1-1.7 0.6M410.6 1314.3l-0.8-0.2-0.3-1.4 0.3-2 0.8-0.4 0.6 2.4-0.6 1.6M484.6 1313.8l-13.9-18-9.9-16.7-6.7-14.1-0.5-4.1 1.4-2.1 2.5 0.4 3.3 3.5 14.8 24.9 11 23.4 0.3 2.5-0.6 0.8-1.7-0.5M418 1301.2l-2.3-1.7-0.9-1.6 0-2.5 0.7-1.6 1.7-1.8 2.5-1 2.4 0 2.5 1 1.6 1.8 0.6 1.6-0.2 2.5-0.8 1.6-1.2 1.3-2.5 1-4.1-0.6M450.9 1298.2l-4.1-2.6-3.9-5.1-1.5-5 0.5-2 0.8-0.9 1.6 0.3 1.7 1.3 3.3 4.7 2.5 6.5 0.3 2.5-0.4 0.7-0.8-0.4M489.6 1283.4l-14.8-25.2-2-4.7-0.2-1.7 0.5-1.4 0.8-0.2 1.7 0.6 3.3 3.4 10.7 18.9" stroke="#306a8e"/><path d="M442.7 1377l-4.5-2.6-0.5-1.7 0.8-0.8 3.4-0.2 3.3 1 2.6 1.7 0.9 1.6-0.4 0.8-1.5 0.7-4.1-0.5M422.9 1369.5l-2.2-1.7 0.6-1.2 2.5-0.1 2 1.3 0.3 0.8-0.5 0.8-2.7 0.1M448.4 1356.3l-2.8-1.7-0.7-0.8 0.3-1.3 1.6-0.5 3.3 0.5 2.8 1.3 1.5 1.7-0.2 0.9-1.6 0.6-4.2-0.7M429.5 1349.2l-1.4-1.1 0.6-1.3 1.7 0 1.9 1.3-0.3 1.1-2.5 0M474.8 1348.5l-1.6-2.1-0.7-2.5-0.9-11.5 0.4-3.3 1.9-1.4 1.7 0.3 2 2 1.3 3.2 0.4 3.3-0.3 5.8-0.9 4.2-1.7 2.2-1.6-0.2M436.1 1319.5l-2.5-2.7-0.7-2.5 0.1-1.6 0.8-1.7 1.5-1.1 3.3-0.3 3.3 2.3 1.1 1.6 0.1 1.7-0.6 1.6-2.3 2.3-2.4 0.8-1.7-0.4M409.8 1316.7l-1.3-2.4-0.1-3.3 0.7-2.4 1.5-1.1 1.3 1.9 0.4 3.3-0.9 3.1-0.8 0.9-0.8 0M459.1 1316.3l-3.3-2.3-2.9-3.8-1.6-3.3-0.6-6.5-5.5-6-3-4.7-1.2-4.2 0.9-3.5 0.8-0.4 1.6 0.5 3.3 3.6 2.8 4.8 3.3 7.4 6.3 9.4 1.5 3.7 0.5 3.3-0.4 1.7-0.8 0.6-1.7-0.3M485.5 1315.5l-3.1-2.8-4.8-7.4-6.9-8.9-9.9-16.8-7.1-14.6-0.6-4.1 1.2-2.5 1.5-0.4 1.7 0.8 3.3 3.6 14.8 24.8 12 24.7 0.2 3.3-0.7 0.6-1.6-0.3M418.8 1302l-2.4-1-1.7-1.5-0.8-2.4 0.4-2.5 1.2-1.9 2.5-1.7 3.3-0.6 2.5 0.6 1.7 1.1 1.2 1.7 0.5 2.4-0.5 2.5-1.3 2-1.6 1.1-2.5 0.5-2.5-0.3M489.6 1284l-15.7-26.8-1.8-4.6 0.2-2.9 0.8-0.5 1.7 0.4 4.1 3.9 10.7 18.7" stroke="#2e6f8e"/><path d="M461.6 1381.1l0.8-0.6 0.9 0.5-0.9 0.6-0.8-0.5M443.5 1377.7l-5.5-2.5-1.5-1.6 0-1.7 2.9-1 4.1 0.7 4.3 2 2.1 2.4 0 0.8-1.5 1.1-4.9-0.2M422.9 1370.3l-3.1-1.7-0.5-1.6 0.4-0.9 1.6-0.6 2.5 0.1 3.5 2.2 0.3 1.6-0.8 0.9-3.9 0M450.1 1357.3l-5.7-2.7-1.2-1.6 0.2-0.8 2.6-1 3.3 0.5 3.4 1.3 2.8 2.5-0.2 1.6-1.1 0.4-4.1-0.2M428.7 1349.8l-1.3-0.9-0.8-1.7 0.5-0.8 1.6-0.7 3.3 0.8 2.1 2.4-0.5 1-1.6 0.6-3.3-0.7M475.6 1349.8l-1.7-1.1-1-1.5-1.1-4.9-0.7-12.3 0.4-1.8 1.6-1.3 2.5 0.3 1.6 1.3 1.8 3.1 0.6 3.3 0.1 5.8-0.8 5.1-1.3 3.1-2 0.9M436.9 1320.3l-1.6-0.9-1.6-1.8-1.2-4.1 0.3-1.6 1.3-1.7 3.7-1.1 2.4 0.7 1.8 1.2 1.7 1.7 0.7 1.6-0.3 1.7-2.1 2.4-2.6 1.7-2.5 0.2M409 1317.7l-1.3-3.4-0.1-4.1 1.4-3.9 1.6-1 0.8 0.4 1 2.1 0.5 5.7-1.5 4-1.6 0.8-0.8-0.6M460 1317.9l-4.2-3.1-4.7-6.2-0.9-2.5-0.6-5.7-5.3-6.6-2.5-4.1-1.3-5 0.5-3.2 0.9-1 2.4 0.9 3.3 3.8 6.4 11.9 6.7 10.7 1.9 4.9 0.3 3.3-1.3 1.9-1.6 0M486.3 1317l-4.1-3.5-11.5-16.5-10.7-18.4-6.9-14.4-0.5-4.2 1.6-2.4 1.6-0.2 1.7 0.9 3.3 3.7 16.3 27.7 11.3 23 0.3 3.5-0.8 0.9-1.6-0.1M417.2 1302.1l-3.1-1.7-0.9-1.7 0.1-3.3 1.2-2.5 2.7-2.2 2.5-0.7 3.2 0.2 2.5 1.3 1.3 1.4 0.8 2.5-0.2 2.5-1.1 2.5-1.6 1.5-2.5 0.8-4.9-0.6M489.6 1284.5l-16.5-28.4-1.8-5.1 0.1-1.6 0.7-0.9 1-0.3 1.7 0.5 4.1 4 10.7 18.7M416.4 1275.9l-0.9-0.4-0.7-1.5 0.7-1.6 1.7-0.4 0.8 0.4 0.7 1.6-0.7 1.5-1.6 0.4" stroke="#2c738e"/><path d="M461.6 1382.9l-2.6-1.9 0.2-1.7 3.2-0.4 1.7 0.6 1.5 1.5 0.1 0.8-0.8 1.2-1.7 0.3-1.6-0.4M446 1378.6l-4-0.9-3.8-1.7-3-2.4-0.6-1.7 1.5-1.3 3.3-0.3 4.1 0.8 3.9 1.6 2.5 1.7 1.4 2.4-0.2 0.9-1.4 0.8-3.7 0.1M423.8 1371.2l-2.8-0.9-2.4-1.7-0.7-1.6 0.9-1.6 2.5-0.7 3.3 0.5 3.2 1.8 1.2 1.6 0 1.7-1.1 0.7-4.1 0.2M469 1362.3l-1.5-1.1-0.2-0.8 0.9-0.7 2.5 0 1.7 1.5-0.9 1.2-2.5-0.1M450.9 1357.9l-4.9-1.6-2.8-1.7-1.4-1.6 0.2-1.7 3.2-0.7 4.9 0.8 5 2.4 1.9 2.5-0.1 0.8-1.1 0.9-4.9-0.1M429.5 1350.7l-2.2-1-1.6-1.6 0-1.7 0.8-0.8 2.2-0.6 3 0.6 2.7 1.6 1.2 1.7 0.2 0.8-1.3 1.2-2.5 0.3-2.5-0.5M475.6 1350.7l-1.7-1-1.2-1.6-1.3-5-0.9-14 0.8-2.4 1.8-0.8 2.5 0.5 2.2 1.9 1.7 3.3 0.6 3.3 0 6.6-1 5.7-1.1 2.5-1 0.8-1.4 0.2M437.8 1320.9l-1.7-0.5-2.2-2-1.3-2.4-0.4-2.5 0.2-1.6 1-1.7 3.5-1.5 2.5 0.3 6.5 2.9 0.4 1.6-0.5 2.5-1.3 1.6-4.3 2.8-2.4 0.5M409 1319.3l-2-4.1-0.1-5.8 2.1-5.4 2.8-2 0.1-4.9 1.1-3.3 2.1-2.5 2.9-1.5 3.3-0.4 3.3 1 1.6 1.2 1.4 2.2 0.2 3.3-0.7 2.6-1.7 2.2-2.5 1.2-3.2 0.2-5.8-1.1-1.4 0.6 1.1 6.6-0.3 4.9-1.9 4.7-0.8 0.6-1.6-0.3M460.8 1319.4l-4.1-2.8-7.5-8.8-0.6-7.4-5.1-7.3-3-5.9-0.4-4.1 0.9-4.4 3.3 2 3.3 4 14 23.9 1.6 4.1 0.6 3.3-0.6 2.4-0.8 0.9-1.6 0.1M489.6 1317.3l-0.9 0.9-1.6 0.2-4.1-2.9-14.8-21.8-8.2-14.6-6.7-13.3-1.3-4.9 0.5-2.5 0.9-1.2 1.6-0.5 2.5 1.1 4.9 6.4 14.9 25.5 10.6 20.5 1.7 4.4M489.6 1285.1l-17.2-30-1.7-4.9 0.1-1.7 0.7-0.9 1.6-0.3 1.7 0.6 4 3.9 10.8 18.6M415.5 1276.8l-1.6-1.9 0.4-2.5 1.2-1.2 2.5 0 1.2 1.2 0.2 2.5-1.4 1.8-2.5 0.1M437.8 1275.2l-3.4-2.8-0.5-1.7 0.6-0.9 1.6 0.1 1.7 1.7 1.3 3.3-0.5 0.6-0.8-0.3" stroke="#2a788e"/><path d="M464.1 1384.3l-3.3-0.8-2.8-1.7-1.4-1.7-0.2-0.8 0.5-0.8 3.9-0.7 4.8 1.5 1.4 1.7 0 1.6-1.3 1.4-1.6 0.3M448.4 1379.3l-4.9-0.8-4.7-1.7-7.6-5-5.8 0.2-4.9-1.3-3.2-2.1-0.5-2.5 2-1.8 4.1-0.1 5 1.9 4.1 3.5 7.4 0.1 7.3 2.2 4.2 2.5 2.4 3.3-0.5 0.8-1.1 0.5-3.3 0.3M470.7 1363.7l-4.3-1.7-1.3-1.6 0-0.8 1.3-0.9 2.6-0.3 2.9 0.3 1.6 0.9 0.7 1.6-0.6 1.7-1.3 0.7-1.6 0.1M453.4 1358.8l-4.1-0.9-4.5-1.6-6.2-4.4-6.6 0-4.1-1.2-2.6-1.8-0.6-2.5 0.7-1 1.7-0.9 3.3 0 4.1 1.8 4.9 3.8 6.6-0.1 6.6 1.8 4.5 2.8 1.4 2.5-0.3 0.8-1.5 0.7-3.3 0.2M474.8 1351.4l-2.7-3.3-1-4.2-1.1-15.6 0.7-2.5 1.6-0.8 3.3 0.7 2.5 2 1.7 3.1 0.9 4.1-0.1 7.4-1.3 6.6-2.1 2.7-2.4-0.2M409.8 1321.1l-1.7-1.1-1.2-2.4-0.8-3.3-0.1-4.1 1-4.9 2.8-5.8 1.6-4.9 2.3-3.3 3.5-2 4.1-0.4 3.3 0.9 2 1.5 1.4 2.5 0.1 3.3-0.9 3.3-1.2 1.6-2.2 1.4-2.5 0.5-4.9-0.3-1.7 0.5-0.5 1.2 0.1 6.6-0.8 4.1-2.1 4.3-1.6 0.8M436.1 1321l-2.5-2.4-1.3-2.6-0.5-2.5 0.5-2.5 1.4-1.6 3.2-1.1 2.5 0.2 4.1 1.4 1.7-0.5 1.9-2.5 1-4.9-0.7-2.5-7-11.5-0.7-2.5-0.2-5.7-0.5-1.7-6-6.5-0.2-1.8 1.7-1.5 1.6 0.4 1.7 1.5 3.6 6.3 7 9 13.2 22.3 2.2 4.9 0.7 3.3-0.2 2.4-1.1 2.1-0.8 0.6-1.6-0.1-3.3-2.4-5.8-6.9-2.4-1.2-1.2 1.4-1.2 4.9-1 1.6-6.5 3-3.3-0.4M489.6 1319.4l-1.7 0.3-1.6-0.5-4.1-3.6-15.7-24.2-8.2-14.9-6-12.3-0.8-5 0.6-1.6 1.3-1.3 1.6-0.3 1.7 0.6 4.9 5.9 15 25.5 13 24.9M489.6 1285.6l-17.5-30.5-2.1-5.7 0.7-2.6 1.6-0.6 1.6 0.3 4.2 3.5 3.5 5.1 8 14.4M414.7 1277.5l-1.8-2.6 0.3-2.5 2.3-2.2 2.5 0 2 2.2-0.1 3.3-1.9 1.9-1.6 0.3-1.7-0.4" stroke="#287d8e"/><path d="M464.1 1385.1l-4.1-1.2-5.8-3.5-10.7-1.5-5.7-2.1-6.6-3.4-6.6-0.9-4.6-1.4-4.1-2.5-0.5-2.5 0.9-1.6 1.7-0.9 4.9 0.1 4.8 1.6 5.1 2.9 7.4 1.2 5.5 1.7 5.2 2.5 4.1 2.8 9.1 1.3 2.9 1.6 1.4 2.5-1 2.6-3.3 0.7M470.7 1364.6l-4.6-1.7-4.5-4-5.8 0.6-4.9-0.7-5.3-1.7-7.8-3.9-5.8-0.7-3.8-1.2-3.9-2.4-0.6-2.5 0.9-1.4 1.6-1 4.2 0 4.1 1.5 4.9 2.9 8.2 1.3 6.6 2.4 4.1 2.5 3.3 3.7 6.6-0.7 5.7 0.4 1.7 1.9-0.3 3-2.1 1.6-2.5 0.1M475.6 1353l-3.3-3.4-1.5-4-1.4-18.1 0.5-2.5 1.6-1 4.1 0.9 2.4 1.8 2.1 3.3 1 3.2 0.1 8.3-1.1 7.4-2 3.5-2.5 0.6M460.8 1323l-3.3-2.9-4.9-6.4-1.7-1.4-1.6 0.4-1.7 5.7-1.6 2-8.2 1.8-2.5-1.2-2.6-3.4-1.3-4.9 0.3-1.7 1.1-1.5 4.1-1.5 5.8 0.9 1.4-0.3 2-2.5 1.1-4.1-0.9-3.3-6.5-11.5-1.3-8.2-6.3-7.4-0.4-2.5 1.3-1.7 1.4-0.3 1.6 0.6 2.5 2.5 3.7 6.3 7 9.8 13.6 23.1 2 4.9 0.3 4.1-2 4.2-0.8 0.7-1.6-0.3M409 1322.3l-1.7-1.6-1.3-3.1-0.9-7.4 1.1-5.7 3.5-9.9 2.6-3.6 4.1-2.4 4.1-0.5 4.1 1.1 2.5 1.9 1.3 2.7 0.1 3.3-0.9 3.3-1.4 2.1-2.4 1.5-6.6 0.6-1.5 0.7-0.6 1.6-0.5 6.6-1.5 5.3-1.7 2.8-0.8 0.6-1.6 0.1M489.6 1320.9l-3.3-0.5-4.1-3.7-15.7-24.7-14.6-27.8-1.1-5 0.4-1.6 1.4-1.8 1.6-0.6 2.5 0.8 4.1 4.9 15.5 26.3 13.3 24.7M394.2 1313l0.5-1.1 1.1-0.6 1.1 0.6-1.1 1.2-1.6-0.1M489.6 1286l-18.2-31.7-2-4.9-0.1-1.7 0.5-1.7 1.7-0.9 1.6 0.1 2.5 1.3 2 2 4.2 5.8 7.8 14.1M413.9 1278.3l-2-2.6-0.1-2.5 0.6-1.6 1.5-1.8 1.6-0.7 3.3 0.5 2 2.8 0 2.5-0.6 1.6-1.4 1.6-1.6 0.7-3.3-0.5M413.9 1236.4l0.8-0.7 1.8 0.5-1 0.5-1.6-0.3" stroke="#26828e"/><path d="M401.3 1405.6l0.3-1.6 0.8-0.8 0.8 0.5 0.8 1.9M464.1 1385.9l-4.1-1.3-6.6-3.2-9.9-2.1-12.3-4.8-7.4-1.7-6.6-2.2-3.1-2-0.5-1.6 0.3-1.7 1.2-1.6 2.1-1 5.7 0.5 10.7 4.2 13.1 3.7 9.1 4.4 9.9 2.2 3.5 2.4 0.6 1.7-0.2 1.6-0.9 1.7-1.3 0.8-3.3 0M471.5 1365.5l-5-1.6-5.7-3.2-10.7-1.8-12.3-4.6-9.9-2.6-4.6-2.8-0.6-2.5 1-1.6 1.7-1.2 2.5-0.5 2.5 0.3 9.8 4 12.4 3.5 9.8 5.3 5 0.6 6-0.5 1.2-0.8 0-0.9-3.4-5.7-0.9-3.3-0.3-9.1-1.2-10.7 0.2-1.6 0.8-1.3 1.7-0.1 3.3 1 3.3 2 3.1 5 0.8 3.3-0.1 9-1.4 7.4-3.8 5.8 0.6 4.1-0.5 2.5-2 2.3-3.3 0.3M384.3 1328.6l0-1.8 1.6-0.3-0.6 1.8-1 0.3M461.6 1326.2l-3.3-2.8-4.9-7.5-2.5-2.2-0.8 0.3-0.6 1.2-1.4 5.7-1.3 1.5-9 0.6-2.5-1.4-2.9-4-1.5-4.9 1.2-3.3 4-1.7 7.4 0 2-2.4 0.9-3.3-1.1-4.1-5.9-10.7-1.6-8.2-5.2-5.8-1.5-2.5-0.2-2.4 1.9-2.1 2.5-0.1 3.3 3.1 18.9 30 6.8 11.8 1.7 5 0.1 3.3-2.9 5.8-1.6 1.1M409 1323.8l-1.7-1.2-1.9-3.3-1.4-7.4 0.3-4.1 2.8-13.2 2.5-4.1 3.5-2.3 5.7-1.1 5 1.1 3.3 2.1 1.5 2.6 0.3 3.3-1 4.6-1.7 2.5-1.6 1.1-7.8 1.7-0.8 1.7-1 6.5-1.9 5.9-1.7 2.8-0.8 0.7-1.6 0.1M489.6 1322.4l-1.7-0.1-2.4-1.1-4.2-4.4-15.6-25.7-14.6-27.8-1-4.9 0.4-1.6 1.5-1.7 2.2-0.8 1.6 0.5 4.2 4.5 15.6 26.2 14 25.6M392.5 1314.4l-0.3-0.9 0.5-0.8 2.3-2 1.6-0.7 1.9 1 0 1.7-1 1.1-2.5 0.6-2.5 0M383.5 1308.8l-1-1 1-1 1.6-0.2 0.4 0.3-0.4 1.3-1.6 0.6M395 1302l-0.6-0.8 1.7-0.8 2.9 0 0 0.8-1.6 1.1-2.4-0.3M381 1298.9l-0.8-0.2-0.3-1.6 1.9-0.9 0.9 0.9-0.2 0.8-1.5 1M489.6 1286.5l-19.7-34.7-1.5-4.9 1.2-2.5 1.9-0.7 1.6 0.1 4.2 3.1 5.4 7.4 6.9 12.7M413.9 1280l-1.6-0.9-1.4-1.8-0.6-2.4 0.5-3.3 1.5-2.3 1.6-1.2 1.6-0.5 2.5 0.3 1.7 0.9 1.4 1.9 0.5 2.5-0.4 2.5-0.7 1.8-1.7 1.7-2.4 1-2.5-0.2M390.9 1242.1l-0.3-4.3 0.3-1.4 0.8-0.7 0.5 3.8-0.5 2.1-0.8 0.5M413.1 1237.2l-0.9-1 1.7-1.2 2.5 0 1.7 1.2-1.7 1.2-3.3-0.2" stroke="#24868e"/><path d="M373.2 1405.6l0.7-1.6 1.3-0.8 1.7 1.1 0.8 1.3M397.3 1405.6l-0.1-4.9 0.7-4.1 1.8-2.5 2.7-0.7 2.5 0.9 1.6 2.3 1.6 9M353 1394.4l-0.8-0.4-0.8-1.5-0.1-3.3 3.2-37.9 1.3-4.9 1.6-3.3 2.2-2.9 3.5-2.8 1.1-1.7 1.7-20.5 1.9-11.6 1.7-4.3 1.6-2.1 2 3.2 0 5.7 0.5 1 2.9 1.5 0.2 0.8-1.7 3.3-0.8 3.3 0.5 8.2 2.2 4.1-1.2 6.6 0.7 4.9-0.3 0.3-3.7-3.6-2.1-1-3.5 1-1.6 1.7-0.1 10.7 1.6 27.9-0.5 8.1-0.8 2.4-1.7 1.8-4.9 2.4-3.3 2.4-2.5 0.5M414.7 1386.8l-1.6-1.1-1.7-2.3-0.1-2.4 1-0.6 5 2.2 3 2.5 0 0.8-1.5 0.9-2.4 0.5-1.7-0.5M464.1 1386.7l-11.5-4.6-9.9-2.6-12.4-4.3-17.2-4.6-0.8-0.4-0.9-1.6 0.6-4.1 1.1-1.8 2.4-1.2 6.6 1 23.4 7.8 10.3 4.2 9.5 2.3 5.1 2.5 1.2 2.5-1.1 4.1-2.3 1.5-4.1-0.7M471.5 1366.3l-11.5-4.7-9.9-2.3-21.4-6.8-4.6-2-2.5-2.4 0.3-2.5 1.6-1.7 2.7-1.2 2.5-0.2 4.9 1.2 18.1 6.3 12.4 5.5 6.6 0.2 1.6-0.8 0.4-1.1-2.8-7.4-0.3-10.7-2.2-13-0.9-0.1-0.8 0.9-3.3 4.7-1.6 0.2-4.6-3.4-2.8-7.1-1.7-2-0.8-0.1-0.9 2.6 0.3 7.4-0.2 0.9-1.7 0.6-4.9-2.5-4.1-0.3-2.5-0.8-2.4-2.3-2.8-4.6-1.2-4.1 0.8-3.3 1.5-1.2 2.5-0.8 7.7-0.5 2-2.4 0.7-3.3-1.2-4.1-5.5-9.9-1.8-8.2-6-6.6-1.4-2.5-0.2-1.6 0.5-1.7 2.7-2.2 1.7-0.1 1.6 0.9 3.3 4.3 24.1 39.1 2.4 4.9 2.3 6.9 9.9 4.4 2.9 3.5 1.6 3.3 0.5 5.8-0.5 9-0.8 4.1-2.2 5.8-1.1 6.6-1.2 2.4-1.7 1.3-4.1-0.3M385.1 1356.5l-0.3-1 1.8-5.8-1.2-3.3-0.4-5.7-2.2-3.3 0.2-1.7 1.3-2.3 0.8 0.4 3.8 7.7-2 7.4 0.8 4.9-0.9 1.6-1.7 1.1M377.7 1346.5l0-1 0 1M394.2 1334.3l-1.2-2.7 0.3-3 0.9-1.1 3.6-1.7-0.6-2.4 0.3-2.5 1.6-3.1 0.8-0.8 0.8 0 1.3 0.6 0.1 0.8-1.1 4.2-2.6 4.1-0.3 2.4-1.1 2.5-2 2.6-0.8 0.1M384.3 1331.4l-1.8-3.1 0.2-1.6 0.8-0.9 4.1-1.5 2.4-1.8 1.3 0.1 0.6 0.8-0.2 1-3.3 1.9-3.3 4.6-0.8 0.5M408.1 1325.2l-2.2-1.8-3.3-5-1-5.2-2.5 2.1-7.4 0.4-1.1-0.5 0-0.9 1.2-1.6 4.8-3.6 2.3 0.3 2.7 1.9 1.8-5.2-0.2-4.3-1.6-0.3-4.2 2.1-7.2-1.6 1.5-1.5 9-2.6 2.1-1.7 1.2-3.3 0.7-6.5 1.9-6.6 1.7-9.1 3.1-5.6 1.7-1.5 1.6-0.1 5.8 4 1.1 1.6 0.6 2.5-0.2 3.3-1.1 3.2-4.8 5-0.1 0.8 0.6 0.8 7.2 2.8 3.4 2.2 1.8 3.2 0.1 4.2-1.2 4.9-1.7 2.3-2.4 1.4-5 1-1.5 1.1-2.5 9-2.5 6.7-1.7 1.7-2.5 0M489.6 1324.2l-2.5-0.4-1.6-1-4.2-4.7-17.2-29.5-14.4-27.7-0.4-4.1 2-2.5 2.1-0.9 1.6 0.2 1.7 1 2.4 3.1 14.8 24.7 15.7 27.9M381 1318.5l0 0M381.8 1317.9l0 0M338.2 1312.4l2.5 0.4 2.5 3.2 1.7 4.9 0.6 4.9-0.4 3.3-1.4 2.5-2.2 1.1-3.3-0.3M382.6 1309.7l-1.9-1.1-0.1-0.8 0.8-0.9 3.7-1.3 1.5 0.5-0.4 1.7-1.1 1.5-2.5 0.4M380.2 1299.7l-1.5-1 0.1-1.6 1.4-1.5 2.4 0 0.9 1.1-0.2 1.2-1.5 1.5-1.6 0.3M385.1 1287.3l-0.5-0.9 0.5-0.4 0.8-0.3 0.9 0.5-0.7 1-1 0.1M489.6 1287l-20.9-36.8-1.4-4.1 0.9-2.6 1.6-1.2 2.5-0.5 2.5 0.8 2.1 1.8 7.3 9.9 5.4 10.6M388.4 1256.5l-1.1-1.4-1.8-8.2 1.3-16.3 1.3-5.1 1.9-3.3 2.5-1.9 2.5-0.2 1.9 2.1 1.1 4.9 0.4 7.5-0.7 8.2-1.5 6.6-1.1 2.4-3.4 3.4-1.7 1-1.6 0.3M429.5 1252.1l-2.4-1.5-2.1-3.7-0.8-4.1 0-5.8 1.2-4.8 1.3-2.6 2-1.9 1.7-0.4 2.4 1.6 1.8 3.2 1.3 4.9 0.3 5.8-0.6 4.1-1.5 3.3-2.1 1.7-2.5 0.2M413.1 1238l-1.9-1-0.4-0.8 0.5-0.8 1.8-0.9 4.1-0.1 2.6 1 0.6 0.8-0.4 0.8-2 1-4.9 0M347.5 1211.5l1.4 2.4 1.7 5.6 5.7 26.9 2.7 8.7 0.2 4.9-0.4 2.5-0.8 1.3-5-1.1-2.4-2.3-3.3-5.9-2.1-6.8-1.5-9.9-0.4-11.5 0.7-9.4 0.8-3.4 1.2-2" stroke="#228b8d"/><path d="M368.9 1405.6l-1.3-4.9-2.2-1.9-1.7 0.2-1.6 1.2-3.1 5.4M394.7 1405.6l-1.1-11.5 0.3-4.9 1.9-1.2 7.4-1 2.8-1.9 2.3-9.1 1.3-12.3 1.8-4.6 1.7-1.1 6.8 3.2 12.9 4 23 8.4 15.7 4.3 2.4 0.2 2.5-0.7 0.2 18.4 0.7 5.7 1.2 4.1M419.5 1405.6l-4-4.5-1.6-0.9-0.8 0.2-0.8 1.3-0.6 3.9M454.6 1405.6l-1.6-6.6-1.4-2.4 0.1-1.4 2.5-0.6 7.4 0.8 3.3-0.5 2-1.6 0.7-1.7-1-2.4-2.9-1.7-14.9-5.7-29.1-9.1-5-0.2-1.7 1.1-0.6 1.6 0.5 1.6 1.4 1.7 4.5 3 8.9 3.6 6.6 4.9-3.8 1.6-2.1 8.3-2.4 5.7M338.2 1388.5l3.6-4.3 2.9-5.7 1.7-6.6 0.6-7.4-0.6-6.6-1.6-5-2.7-3.2-3.9-1.2M381.8 1343.1l0.8 0 0.1-0.8-0.9-0.7 0 1.5M389.5 1338.2l1.4 0 1.3-2.5-0.4-7.4-0.3-0.8-1.5-0.5-2.4 1.7-1.4 2.9 1.1 4.1 2.2 2.5M489.6 1326.9l-1.7 0-1.6-0.8-5-6.4-9-15.5-20.8-38.4-3.8-8.2 0.5-2.5 1.9-1.6 2.5-1.2 1.6-0.2 1.6 0.8 1.7 1.8 14.2 23.4 17.9 31.6M379.4 1300.4l-2-0.9-0.5-0.8 1-2.5 2.3-1.6 1.6 0 1.7 0.8 0.7 1.7-0.7 1.6-1.7 1.3-2.4 0.4M338.2 1293.1l4.1 1.7 3.3 3.7 2.8 5.1 7.3 17.3 1.4 2.3 1.7 0.6 1.6-1.8 1.1-2.7 5.1-24.7 2.1-5 1.6-1.8 4.1-0.4 3.3-2.6 4.1 1.1 4.1-1.4 1.5 0.2 0.7 1.7-1.3 1.6-5 0.7-5.7 2.9-1.2 2.2-0.1 2.4 1 2.5-0.8 4.9 1.1 2.3 1.6 0.7 1.7 0.1 8.5-2.2-1.1 3.4-1.7 2.4-1.6 0.4-4.1-0.8-1.8 1.1-1.4 2.5 0 2.5 1.5 1.5 4.9-1.9 1.7 0.4-0.3 1.6-1.4 1.9-4.1 2.2-0.7 0.9-0.1 1.6 1.5 3.3-1.4 4.9 0.7 3 1.7 0.9 0.8-0.5 1.4-2.6 0.1-1.6-1.8-4.1 0.9-1.7 5.5-2.4 2.9-2.7 1.7 0 2.5 1.5 0.8-0.2 1.3-1.9 0.6-1.7-0.3-1.7-2.4-0.4-3.3 0.9-1-0.4-0.9-1.6 1-1.7 5.8-4.8 1.6-0.8 3.3-0.2 1-1.6-0.1-1.5-0.9-0.4-3.3 0.5-4.9-1.5-4.2 0.4 1.7-3.4 8-2.3 2.2-1.7 0.9-1.6 0-2.5-1.2-2.1-0.7-0.3-0.1-0.9 1.6-1.8 0.6-2.3-1.2-4.9 0.6-4.1-0.5-5 0.5-4.9-0.8-1.7-2.5-1.2-2.4 0.1-5 1.5-3.2-2.3-4-1.3-0.8-0.9-0.3-1.6 1.2-5.8-0.2-4.9 1-18.9-0.2-7.5-0.8-2.4-0.9-0.8-5-1.6-2.4-1.6-1.8-3.4M395 1290.6l-0.3-0.9 1.1-1.5 1-0.2 2.3 0.8-0.1 0.9-1.7 0.8-2.3 0.1M489.6 1287.5l-22.7-39.8-1.6-4.1 1.5-8.2 0.8-1.7 1.4-0.9 3.3 0.8 11.5 6.7 5.8 2.5M377.7 1279.2l-0.3-1.1 0.5-0.8 3.9-4.7 0.8-0.1 0.9 0.7 0.8 1.7-0.6 1.6-1.9 1.2-4.1 1.5M381.8 1269.3l0-0.5 0 0.5M357.2 1211.5l0 9.1 1.3 9 1.9 4.9 2.7 2.5 1 1.7 0.8 6.5-1.1 17.3-1.7 12.2-2.5 7.4-2.5 2.4-2.4-1.1-5-5.2-3.1-5-2.6-5.7-3.6-13.2-2.2-18.5M405.6 1211.5l-1.3 6.6-0.6 6.6 0.8 18.1-2.4 5.7-0.4 3.3 0.6 2.5 1.7 1.6 5.8 1.1 4.9-0.5 3.3-1.2 2.1-1.8 0.7-3.3-0.7-2.5-3.6-4.9 0-2.5-6.7-2.2-1.3-1.9 2.1-1.9 7.4-1.3 0.8-0.7 3.5-13.4 2.3-4 3.4-3.4M444.1 1211.5l-2.3 1.7-0.7 3.3 1.8 23-0.6 13.1-1 3.3-4.3 4.1-0.7 2.5 7.7 14 20.5 32.9 4.5 9 3 2.5 6.7 3.3 5.8 6.6 0.5 3.3-0.6 14-2.6 14.8-2.1 5.3-1.6 2.2-5-2.6-13.1-5.3-25.5-7.4-10.2-3.8-4-2.4-0.2-2.5 2.1-2.5 3.2-1.7 3.3-0.4 10.7 2.8 25.5 10.2 4.9 0 1.4-1 0.1-0.8-2-6.6-0.3-12.8-1.6-6.8-0.9-1.2-0.8 0.2-4.1 4.8-3.3-0.4-1.6 0.9-0.6 2.1 0.6 5.8-0.9 0.8-13.1-2-3-1.3-3.1-2.4 0-0.9 2-3.2 0.2-1.7-7.1-10.7-1.6-4.1-0.2-3.3 1-1.6 1.9-1 10-1.5 2.1-3.3 0.1-3.3-1.2-3.3-5.5-9.8-1.7-7.4-7.4-8.3-2.4-4.9-0.6-0.7-0.8 0.2-1.6 2.4-1.3 8-2.4 7.4 1 1.6 6 4.1 1.9 2.5 0.6 4.1-0.9 5.8-0.8 2.3-1.7 2.1-6.5 2.4-1.7 1.5-4.9 14.2-1.7 2.9-1.6 0.8-4.9-0.6-0.9 0.4-2.4 4.7-3.3 2.2-0.4 1.6 0.9 3.3-1.4 3.2-1.6 0.8-4.1-0.6-1.7 2.1-0.4 3.6 1.8 4.9-0.6 4.9 1.2 24.7-0.3 2.2-0.8 0.9-3.3-0.8-1.7-1.5-1.4-2.4-4.7-17.3-3.7-9-4.1-2.9-1.7 0.8-0.7 2-0.7 5.8 0.1 8.2 1.8 18.1 2 4.5 4.9 4.3 1.4 1.9 1.4 3.3 1.2 4.9M459.2 1211.5l-2.5 1-6.5-1" stroke="#21918c"/><path d="M391.7 1405.6l-2.5-7.3-0.8-0.9-1.6-0.5-0.9 0.6-0.7 2.4-0.1 5.7M457.9 1393.3l2.9 0.3 2.4-0.4 1.6-1.6 0-1.6-3.2-2.5-19.4-7.4-12.7-2.9-9.8-3.8-3.3 0-1.4 1 0 2.4 2.3 2.5 4 1.8 6.6 1.5 9 5.6 6.6 2.2 8.2 1 6.2 1.9M376.4 1383.4l1.3-0.1 0.7-1.5 0.1-5-1.6-7-1.7-2.9-0.8-0.4-0.8 0.6-0.7 2.3 0 5.8 1.5 6 2 2.2M399.1 1381.8l1.6 0.2 1.7-0.6 2.5-3.6 3.2-19.9 2.3-5.7 3.3-3.3 10.9-7.1 3.3-0.8 7.4 1.3 4.9 0.1 7.3 4.8 17.4 6.5 3.3 0.4 1.7-1.1-1.2-6.6 0.2-11.5-0.9-4.1-1.5-3.2-0.8 0-0.8 0.8-3.7 5.7-0.2 1.6 1.1 6.6-0.5 1.4-0.8 0.3-10.7-2.9-9.1 0.4-9.2-7.4 0.3-1.7 2.8-3.3 0.7-2.4-0.7-2.5-5-9.9-1-3.3 0.1-2.4 0.9-0.8 2.1-0.7 9.9-1.3 2-2.2 0.7-3.2-1.5-5-5.2-9-1.8-7.4-2.5-2.9-6.5-5.7-1.7 0-1 1.2-2.5 10.7 1.1 2.4 5 4.1 1.5 2.5 0.2 5.8-1.8 9-1.7 1.5-5.7 1.9-2.5 2.4-2.5 5.7-3.2 10.7-1.7 1.4-3.5 1.1-1.4 1.5-2.9 7.5-4.3 6.6-4.9 9.9 0.2 10.7 0.9 7.4 1.7 4.9 2.7 2.5M467 1376l2.8 0.4 1.9-0.4 1.4-1.2 1-2.1-0.1-1.6-0.8-1.7-3.9-2.4-18.1-6.6-15.1-3.8-13.2-5.1-4.1-0.6-1.8 1.3-0.7 2.4 0.3 2.5 1 1.6 2.2 1.7 4.8 1.8 9 2.4 14.8 5.9 18.6 5.5M392.3 1348.1l1 0.2 1.1-1.1 0.1-0.8-1.2-1.3-0.8-0.2-0.9 0.7 0 1.6 0.7 0.9M388.9 1335.7l1.1 0.3 1-1.9-0.1-4.1-0.9-1.4-1.6 0.5-1.2 2.5 0.4 2.3 1.3 1.8M380.1 1333.2l0.7-0.8-0.6-1.1-0.5 1.1 0.4 0.8M381.4 1323.4l2.9 0 2.6-0.8 2.1-2.5 0.2-1.7-0.5-0.8-1.9-1.3-0.9 0.6-4.5 5.7 0 0.8M478.3 1322.6l2.2 0.7 0.5-0.7-1.4-4.2-28.7-53-4.9-7.2-1.7-0.5-2.4 0.8-2.8 2.4-0.9 2.4 0.9 3.3 3.9 7.4 22.1 35.4 4 7.4 3.3 3.3 5.9 2.5M393 1319.3l1.2 0.6 0.8-0.5 0-1.8-1.7 0.3-0.3 1.4M377.5 1315.2l1.9 0.6 4.9-2.1 2.5 0.9 0.8-0.3 6.6-4.9 1.8-1.6 0.8-1.7-0.6-0.8-2.9-1.4-3.3 0.4-1.6 1.3-3.3 6-0.8 0.4-3.3-1-1.6 0.1-1.7 1.6-0.2 2.5M378.1 1305.3l2.9 0 4.9-1.3 1.6-1.2 2.5-3.5 5.8-1.2 2-1 1.4-1.7-0.1-2.5-1.7-0.7-3.2-0.2-1.1-1.5 0.3-1.7 2.4-4.1-0.1-3.3 1.9-4.1-0.1-2.4-0.9-1.1-0.8-0.1-4.1 1.6-4.1-1.2-2.6 3.2-5 4.1-0.1 1.7 1.1 1.1 1.6 0.3 5-0.8 1.3 1 0.3 0.8-0.4 1.7-1.2 1.2-5.2 1.3-3.1 2.4-0.3 0.8 4.5 1.7 0.9 0.8 0.5 1.7-0.8 1.6-2.3 2-4.8 1.3-0.4 1.6 1.5 1.7M489.6 1288l-23.1-39.6-1.6-1.8-1.7-0.8-6.5 0.7-1.7-4.2-1.6-1.3-0.8 0.6-1 2.8-0.4 5 3 0.2 2.5 2.8 32.9 56.6M366.6 1278.1l0.4 0.7 0.8 0.1 1.7-1.2 5.7-8.3 1.9-4.4 2.6-11.5 1.2-13.2-0.3-9.9-1.8-4.9-1.9-1.5-1.7-0.4-2.3 0.3-1.2 0.8-1 1.6-0.8 3.3-3.7 36.2-0.2 8.2 0.6 4.1M387.5 1272.4l0.7-1.7-0.6-0.6-0.6 0.6 0.5 1.7M408.7 1255.1l4.4 0.3 4.1-1.6 1.7-2.8-0.2-1.6-0.9-1.7-2.3-1.7-3.2-0.8-3.3 0.4-2.5 1.3-1.8 2.5 0 2.4 1.8 2.3 2.2 1M362 1211.5l0.9 6.9 0.8 1.4 1.7 0.6 1.6-1.1 0.8-1.8 0.7-6M471.5 1211.5l1.3 5 1.8 4.1 2.6 3.9 2.7 2.6 3.1 1.8 2.5 0.2 2.4-1.3 1.7-2.4" stroke="#1f958b"/><path d="M457.6 1391.6l4 0.2 1-1 0-0.8-1.8-1.7-7.4-2-6-3.7-6.6-2.5-7.2-1.3-3.8 0.5-0.5 0.8 3.4 4.1 5.9 3.5 5.7 1.5 7.4-0.1 5.9 2.5M422.5 1380.1l3.7-0.4 1.1-0.4-0.1-0.8-2.6-2.5-3.3-1.5-3.3-0.3-1.5 1 0.1 1.6 1.4 1.7 4.5 1.6M399.3 1375.2l1.4 0.4 1.7-1.4 1.6-5.2 0.8-12.7-0.6-4.1-1-1.1-1.6 0.4-2.5 2.4-1.7 2.4-0.8 2.4 0 10.1 1 3.9 1.7 2.5M466.2 1375.2l3.9 0 1.4-0.8 0.9-1.7 0.1-1.6-0.9-1.7-3.8-2.4-20.2-7.3-11.5-2.1-5.8-3-5.7-2-4.1-0.2-1.1 0.6-1.1 1.6 0.2 3.3 1.5 1.7 2.1 1.2 5 1.6 6.5 1.2 11.6 5.4 21 6.2M464.5 1352.2l2.9 0.7 1-0.7 0.2-0.9-0.7-4.9 0.8-7.4-0.2-4.1-1.1-4.5-0.9-1.2-0.8-0.1-1.6 2-1.3 3-0.2 3.3 0.9 6.5-1.1 2.5-1.6-0.1-4.6-2.4-4.5-1.2-4.1 0-1.7 1.2 0.8 1.7 4.4 2.5 4.8 1.6 5.7 1 2.9 1.5M408.7 1343.9l2.7 0.6 5.8 0 9-4.2 2.5-0.3 4.9 0.7 1.6-0.9-1.3-1.6-4.2-2.5-1-1.6 0.8-1.7 4.1-4.1 0.7-3.3-1.2-3.3-6-11.3-2.5-0.4-3.3 0.8-2.5 1.7-1.6 2.5-2.4 6.7-0.9 8.5-4.9 3.7-1.6 2.6-0.3 5 1.6 2.4M389.1 1333.2l0.8-1.6-0.7-1.1-0.8 1.1 0.7 1.6M384 1321.7l1.1 0.5 1.7-0.7 1-1.4-0.2-1.4-0.8-0.5-0.9 0.3-1.4 1.6-0.5 1.6M474.4 1320.1l3.7 0.4 0.4-1.2-0.7-2.5-19.2-37-7.7-13.7-3.3-4.8-2.4-1.8-3.3 0.7-1.8 1.5-0.8 2.5 0.5 2.4 2.3 5 8.5 14.8 18.4 28.7 2.7 3.3 2.7 1.7M379.2 1314.3l1.8-0.5 0.6-1.1-1.4-0.6-0.8 0.4-0.6 1 0.4 0.8M387.4 1312.7l2.6-0.7 3.7-2.6 1.9-2.5-0.6-1.6-2.5-1-1.6 0.2-1.7 1-2.6 5.5-0.1 0.9 0.9 0.8M430.8 1306.1l3.7 0.1 6.9-0.9 2.1-2.3 0.6-3.5-1.7-4.9-5-8.2-1.9-7.4-5.1-5.2-2.5-1.7-1.7-0.2-1.5 1.3-0.7 1.7-1.1 6.5 1.4 3.3 4.4 3.9 1.1 1.9 0.5 4.1-0.9 9 0.4 1.7 1 0.8M379 1303.6l2 0.8 4.1-0.7 1.7-1 2.6-4 1.5-0.6 4.1-0.4 1.6-0.8 1.3-1.5-0.5-1.7-4.1-0.9-1.2-1.5 0.1-2.5 1-3.3 0.2-5.7-0.1-1.1-0.8-1-3.3-1-1.6 0.2-5.7 4.5-0.2 0.9 0.9 0.9 4.2-0.5 1.9 0.4 1.3 0.8 0.5 1.6-0.6 1.7-1.6 1.6-4.8 1.5-1.6 1-0.3 0.8 3.6 3.3 0.4 1.7-1.5 2.4-4.9 3.3-0.2 0.8M489.6 1288.5l-18.1-31.9-4.1-6.3-2.5-2.5-1.7-0.7-2.4 0.3-2 1.1-1.4 2.5 2.2 5.8 30 51.6M371 1261.7l1.8-0.8 1.6-2.7 1.7-4.6 1.3-6.7 0.5-4.9-0.3-5-0.7-2.5-1.7-1.2-1.6 1.7-0.8 2-1.7 8.3-1 12.3 0.2 3 0.7 1.1M409.7 1254.3l3.4 0.2 3.3-1.4 1.2-2.1-0.7-2.5-2.2-1.6-2.4-0.5-2.5 0.3-2.1 1-1.3 1.7 0 2.4 1.4 1.7 1.9 0.8" stroke="#1f9a8a"/><path d="M441.1 1387.5l5.7 0.4 1.6-0.5 1-1.5-2.1-2.5-5.4-2.4-5.8-1.3-2.5 0.3-0.8 0.6-0.2 1.2 1.8 2.4 3.4 2.1 3.3 1.2M420.8 1378.5l2.1 0.1 0.9-0.9-1.7-1.8-1.6-0.6-1.7 0.2-0.4 1.3 2.4 1.7M465.5 1374.4l3.5 0 2-1.7 0.2-1.6-0.5-1.2-3.3-2.4-7.4-2.1-6.7-3.4-6.5-2.2-4.9-1-6.6-0.2-4.6-3.1-4.5-1.9-4.1-0.4-1.6 0.6-0.8 1.2 0 2.9 3.2 2.7 5 1.5 6.6 0.4 5.1 3.6 4.7 2.3 6.6 1.9 6.6 1 8 3.1M465 1349.7l0.7 0.8 0.8 0 1.8-12.3-0.9-6.3-0.9-1.4-0.8-0.1-1.5 2-0.8 3.3 1.6 14M453.4 1348.1l3.3 0.6 1.9-0.6-0.9-1.7-2.9-1.6-3.9-0.8-1.9 0.8 1 1.6 3.4 1.7M415.7 1343.1l4-0.4 6.4-3.7 1-1.6-1.1-2.5 0.2-1.7 5-3.6 2-2.9 0.2-2.5-1.1-3.3-3.6-6.9-2.5-2.4-3.3 0-3.2 1.4-1.7 1.8-1.8 3.6-1.1 6.6 1.3 6.3-4.9 3.6-1.2 1.6-0.4 1.7 0.3 1.6 1.3 1.7 4.2 1.6M473.4 1318.4l1.4 0.6 1.6-0.2 0.4-1.2-0.3-1.6-17.7-35.4-7.1-12.6-3.3-4.8-2.4-2.2-1.7-0.4-1.6 0.4-1.8 1.5-0.7 2.5 0.8 3.3 1.9 4.1 8.8 15.4 18.1 26.9 3.6 3.7M387.6 1311l1.6 0.7 2.5-1.2 2.8-2.7 0.2-1.7-2.2-1.3-2.5 0.6-1.7 2.4-0.7 3.2M431.4 1305.3l3.9 0.5 5.7-1 1.4-1.2 0.9-1.6 0.3-3.3-1.5-4.1-5.2-8.2-1.9-7.4-3.8-4-4.1-2-1.7 0.8-0.8 1.5-0.8 2.8 0 3.3 0.9 2.5 4.3 4.1 1.3 2.3 0.3 3.5-0.5 9 0.5 1.7 0.8 0.8M381.8 1302.8l1.7 0.7 2.1-0.7 1.2-1.2 1.8-3.7 1.4-0.7 5-0.3 1.5-1.5-0.3-0.8-4.5-1.3-1.7-4-6.3 2-0.4 0.8 2.9 3.3 0.5 1.7-0.2 0.8-4.7 4.9M489.6 1289l-21.4-37.1-2.5-2.7-1.6-0.9-1.7-0.2-2.4 1-1.1 1.1-0.5 1.6 1.9 5.8 29.3 50.1M385.7 1281.4l4.3 0.2 0.9-0.8 0-1-1.7-1.4-1.6 0.2-2.4 2 0.5 0.8M409.9 1253.5l2.4 0.3 2.4-0.7 1.7-1.8-0.2-1.9-1.5-1.4-1.6-0.6-2.5 0-1.6 0.7-1.3 1.3-0.3 1.6 1 1.6 1.5 0.9" stroke="#1f9f88"/><path d="M441.6 1386.7l4.1 0 1.2-0.8 0.2-0.8-1.4-1.7-3.1-1.6-4.8-1.2-2.7 0.4-0.4 1.6 1.4 1.6 5.5 2.5M465.1 1373.6l3.1 0 1.7-1.7-0.9-2.5-2.5-1.5-7.4-1.4-5.3-3.6-7.8-2.9-5.8-0.5-2.9 0.9-0.7 0.8 0.5 1.7 1.3 1.6 5.5 3.3 7 2 7.4 0.5 6.8 3.3M426.5 1361.2l4.7 0.1 1.8-0.9 0.3-0.8-1.6-2.5-3.8-2.4-4.1-0.9-2.4 0.8-0.9 1.7 0.9 2.4 2.4 1.6 2.7 0.9M465.4 1342.3l1.1 0.7 0.4-0.7 1-4.9-0.5-4-0.9-1.5-0.8-0.2-1 1.5-0.6 2.5 0.3 3.3 1 3.3M414.4 1341.5l2 0.6 2.4 0 4.5-2.3 1.4-2.4-2.4-4.2 7.2-3.4 2.8-3.1 0.4-3.3-1.1-3.3-2.9-5.3-2.5-2.1-2.4-0.3-3.3 1.1-2.5 2.4-1.3 2.5-0.9 4.2 0.1 3.2 1.3 2.9 3 3.7-5.5 2-2.3 2.1-0.3 2.5 2.3 2.5M473.6 1316.8l1.2 0.1 0.2-0.9-1.1-3.1-2.7-5.1-4.7-11.6-9.8-19.1-8.3-13.1-3.2-2.3-2.5 0.5-1.6 2 0.1 3.2 7.9 15.7 14.1 21 7.5 9.9 2.9 2.8M388.3 1310.2l0.9 0.7 2.5-0.9 2.2-2.2 0-1.7-1.4-0.8-2.5 0.7-1.3 1.8-0.4 2.4M434 1305.3l4.6-0.3 3.1-1.4 1.4-2.4 0-3.3-2.1-4.7-4.7-6.8-1.8-7.4-4.2-4-3.2-1-1.4 0.9-0.8 1.6-0.4 4.9 1.1 2.5 4.9 4.9 0.6 3.3-0.4 10.7 1 1.7 2.3 0.8M383.9 1302l1.3 0 0.7-1.5-1.6 0.7-0.4 0.8M387.1 1294.6l1.3 0.6 1.1-0.6 0.3-1.7-0.6-1.7-2.4 0-1.7 0.9 0.2 0.8 1.8 1.7M489.6 1289.5l-20.6-36-4.1-4.2-2.5-0.4-1.6 0.7-1.3 1.4-0.4 1.6 0.5 2.5 1.8 4.1 28.2 47.9M410.1 1252.6l2.2 0.4 1.6-0.4 1.5-1.6-0.4-1.6-2.7-1.3-2.5 0.6-0.9 0.7-0.4 1.6 1.6 1.6" stroke="#20a386"/><path d="M439.4 1385.1l4.1 0.6 1.3-0.6-0.1-0.9-3.7-2.2-3.9-0.2-0.4 0.8 0.4 0.8 2.3 1.7M465.4 1372.7l2 0 0.9-0.8-0.1-1.6-0.7-0.9-3.4-1.2-2.7 0.4-0.5 0.8 1.1 1.7 3.4 1.6M447.3 1368.6l3.6 0.7 3.3-0.1 1.9-0.6 0.9-0.8-0.1-0.8-2.8-3.3-5.7-2.7-5.7-1-2.5 0.3-1.5 0.9-0.2 1.7 1.9 2.4 2.6 1.7 4.3 1.6M425.6 1360.4l2.3 0.4 2.5-0.4 0.9-0.8-0.2-1.7-3.2-2.6-2.5-0.7-2.5 0.3-1.2 1.4 0.2 1.6 1.8 1.7 1.9 0.8M415.3 1340.7l2.7 0.6 2.5-0.6 2.2-1.7 0.4-0.8-0.3-1.7-1.5-1.4-1.6-0.6-4.2 0.8-1.4 1.2-0.5 1.7 0.7 1.6 1 0.9M465.5 1339.8l1 0.8 0.9-3.2-0.6-3.3-0.3-0.7-0.8-0.1-0.9 2.4 0.7 4.1M421.9 1330.8l2.7 0.2 4.1-1.5 2.3-2 1.1-2.5-0.3-3.3-1.8-4.1-2.1-3-2.5-1.3-3.3 0.3-2.4 1.3-2.1 2.7-1.1 3.3-0.2 3.3 0.9 2.9 2.5 2.6 2.2 1.1M390 1310.2l2.8-1.6 0.7-1.7-0.5-0.8-1.3-0.3-2 1.1-0.8 2.5 1.1 0.8M468.5 1308.6l1.3 0.2 0.1-1-1.7-6.6-10.3-21.4-8.6-14.2-3.3-2.8-2.5 0.1-1.7 2.1 0.2 3.3 6.9 14 14.3 21 5.3 5.3M432.9 1304.5l4 0.3 4-1.2 1.7-2.4 0.1-3.3-2.1-5-5.1-6.5-0.6-5-0.9-2.4-2.8-2.9-3.3-1.3-1.7 0.7-0.6 1-0.6 4.1 1.4 3.3 3.9 3.3 1.1 1.6-0.6 12.4 0.5 1.6 1.6 1.7M489.6 1290.1l-20.6-36.2-4.1-3.9-1.7-0.4-1.9 0.6-1.3 1.6-0.3 1.7 2.4 6.5 27.5 46.3M410.5 1251.8l2.6 0.2 1.1-1 0-0.8-1.1-1-2.5 0.1-0.8 0.9 0.7 1.6" stroke="#22a884"/><path d="M464.6 1370.3l0.3 0.4 0.8-0.4-1.1 0M449.2 1368.6l3.4 0.1 1.6-0.6 0.9-1.1-0.5-1.7-2.9-2.4-4.9-1.9-4.1-0.4-2.2 0.6-0.7 0.8 0.1 1.7 2.5 2.4 6.8 2.5M425.3 1359.6l3.4 0.3 1.2-1.2-0.1-0.8-2.7-2.1-3.3-0.1-0.9 1.1 0.2 1.1 2.2 1.7M416.2 1339.8l1.8 0.5 2.1-0.5 1.1-0.8 0.4-1.6-1.9-1.6-3.3 0.4-1.3 2 1.1 1.6M422.2 1330l2.4 0.2 3.3-1 2.2-1.7 1.4-2.5-0.1-3.3-1.3-3.3-2.2-3.1-2.5-1.3-3.3 0.3-2.4 1.4-1.7 2.2-1.1 3 0 3.3 0.9 2.5 1.9 2 2.5 1.3M390 1309.4l2-0.8 0.6-0.8-0.1-1.1-0.8-0.3-1.2 0.5-0.9 1.7 0.4 0.8M466.2 1305.3l1.2 0.5 0.6-0.5-0.7-4.9-9.8-21-8.2-13.2-3.3-2.5-2.5 0.3-1.1 1.8 0.4 3.3 6.8 14 12.8 18.2 3.8 4M435 1304.5l3.6-0.3 2.5-1.4 1.3-2.4-0.2-3.3-2.8-5.4-4.9-5.3-0.2-5-0.9-2.4-3-2.9-2.5-0.5-1.9 1.7-0.2 4.1 1.4 2.5 5 4.1-0.9 13.2 1.3 2.4 2.4 0.9M489.6 1290.7l-4.8-9.3-15-25.9-4.1-4.5-2.5-0.8-1.6 0.6-1.2 1.8-0.2 1.7 2.5 6.6 15.4 26.3 8.1 12.3 3.4 6.1" stroke="#26ad81"/><path d="M447.5 1367.8l2.6 0.4 2.5-0.4 1-0.8-0.1-1.7-2.6-2.3-3.3-1.3-4.1-0.6-2.3 0.9-0.3 1.7 1.3 1.6 5.3 2.5M426 1358.7l1.7 0 0.4-0.8-1-1-1.7-0.3-0.8 0.5 0.2 0.8 1.2 0.8M417.2 1338.2l0.8 0.7 1.7-0.7-0.9-1-1.1 0.2-0.5 0.8M421.9 1329.1l2.7 0.4 2.5-0.5 2.4-1.7 1.5-2.3 0-3.3-1.3-3.3-1.8-2.4-2.5-1.4-2.5 0.1-2.4 1.1-1.8 1.8-1.1 2.5-0.3 3.3 0.7 2.4 1.7 2.1 2.2 1.2M433.6 1303.6l2.5 0.5 3.3-0.7 1.8-1.4 0.9-2.5-0.4-3.3-1.7-3.3-3.1-3.3-2.4-1.2-0.9 0.3-0.8 1.7-1.3 7.5 0.5 4.1 1.6 1.6M464.7 1302.8l1.8 0.7 0.4-1.5-0.5-2.5-8.5-18.9-8.6-13.8-2.5-2-2.5-0.2-1.3 2 0.3 2.5 6.1 13.2 4 6.3 11.3 14.2M489.6 1291.3l-4.5-9-15.3-26.5-4.1-4.3-1.6-0.7-1.7 0.3-1.4 1.5-0.3 1.7 2.2 6.6 15.2 26 8.6 12.6 2.9 5.3M431.1 1285.5l1.7-0.1 0.5-0.7 0.3-4.1-0.7-1.6-1.7-1.8-1.7-0.8-1.6 0-1.5 1.7 0.1 3.3 1.6 2.5 3 1.6" stroke="#2cb17e"/><path d="M446.4 1367l4.5 0.4 1-0.4 0.5-1.7-1.5-1.6-3.3-1.6-2.4-0.4-2.5 0.4-0.7 0.8 0.4 1.6 4 2.5M421.5 1328.3l2.3 0.6 2.4-0.2 2.5-1.4 1.7-2.3 0.4-2.4-0.7-2.5-1.4-2.6-2.5-2-2.4-0.4-2.5 0.8-1.6 1.3-1.3 2.1-0.6 2.4 0.2 2.7 1.3 2.3 2.2 1.6M435.3 1303.6l2.5-0.1 2.4-1.1 1.3-2 0.3-1.7-0.4-2.5-1.7-3.3-1.9-2.1-2.5-1.3-1 0.2-1.2 1.6-1.3 7.4 0.7 3.3 1.1 1.1 1.7 0.5M464.2 1301.2l0.7 0.3 0.8-0.6-0.8-4.4-8.1-17.5-7.5-11.6-2.5-1.9-1.6-0.2-0.9 0.4-0.7 1.7 0.4 2.5 6 13.2 3.4 5.1 10.8 13M489.6 1292.1l-4.8-9.8-14.1-24.9-4.2-4.9-2.4-1.1-1.7 0.4-1.1 1.7-0.1 1.6 2.3 6.6 14.6 24.9 8.5 12.1 3 5.2M429.3 1283.9l2.7 0.5 0.8-0.9 0.4-2.1-0.4-1.6-1.3-1.7-2.8-1.1-1.5 1.1-0.4 1.7 0.7 2.5 1.8 1.6" stroke="#32b67a"/><path d="M445.8 1366.1l3.5 0.7 1.6-0.6 0.2-0.9-1.4-1.6-1.7-0.8-2.8-0.5-1.6 0.5-0.1 1.6 2.3 1.6M423.3 1328.3l2.1 0 2.5-1 1.6-1.7 0.8-2.2-0.3-2.5-1.1-2.5-1.8-1.9-1.7-0.8-2.5 0.1-2 1-1.6 1.6-1 2.5 0 2.5 1 2.4 2 1.8 2 0.7M434.2 1302.8l1.9 0.5 2.5-0.4 1.6-1.1 1.2-2.3-0.1-2.4-1.1-2.8-1.6-2.3-2.5-1.7-1.6 0.2-0.9 1-1.3 4.7 0 4.2 1.9 2.4M462.8 1298.7l1.3 0.8 0.4-0.8-0.3-2.5-6.7-15.6-7.4-11.7-2.5-2.3-2.4-0.3-0.9 2 0.4 2.4 5.6 12.4 3.1 4.8 9.4 10.8M489.6 1292.9l-5-10.6-13.9-24.6-2.5-3.2-2.5-2.1-1.6-0.4-1.7 0.6-0.8 1.7 0 1.6 2.6 6.6 14.7 25 8.3 11.2 2.4 4.2M429.4 1283.1l1.8 0.4 0.8-0.5 0.5-1.6-1-2.4-2-1.2-1.2 0.3-0.8 1.7 0.4 1.7 1.5 1.6" stroke="#3bbb75"/><path d="M445.9 1365.3l2.5 0.5 1-0.5-0.3-0.8-1.2-0.8-1.9-0.4-1 0.4 0 0.8 0.9 0.8M422.2 1327.5l2.4 0.4 2.5-0.7 1.6-1.3 1-1.7 0.1-2.5-0.9-2.4-1.8-2.3-1.7-0.7-2.5 0-1.6 0.8-1.6 1.7-0.9 2 0 2.6 0.6 1.6 2.8 2.5M435.6 1302.8l2.2-0.1 1.6-0.8 1.3-1.5 0.4-1.7-0.3-2.5-1.2-2.4-1.8-2.1-1.7-0.8-1.6 0.5-0.9 1.1-1.2 5.4 0.7 3.3 2.5 1.6M461.5 1296.2l0.9 0.8 0.8-0.2 0-1.4-5.9-14.8-7.2-11.1-2.5-2.1-1.6-0.3-1 1.2 0.2 2.4 5.3 12.4 3.7 5.4 7.3 7.7M489.6 1294.1l-4.7-11-14.2-25-4.2-4.8-1.6-0.7-1.7 0.2-1.1 1.5 0 2.5 2.7 6.5 14.1 23.9 9 11.5 1.7 2.9M429.9 1282.3l1.3-0.2 0.3-1.5-1.1-1.6-0.9-0.2-0.8 0.5-0.2 1.3 1.4 1.7" stroke="#44bf70"/><path d="M421.7 1326.7l2.1 0.7 2.4-0.3 1.9-1.3 1.1-1.6 0.3-1.6-0.6-2.5-1-1.7-1.7-1.3-1.6-0.4-2.5 0.5-2.4 2.6-0.4 3.6 0.7 1.6 1.7 1.7M434.6 1302l1.5 0.5 2.5-0.5 1.6-1.6 0.6-1.7-0.3-2.5-1.1-2.2-1.6-1.8-1.7-0.7-1.6 0.7-1.6 4 0 3.3 1.7 2.5M489.6 1296.2l-1.6-5.7-2.5-5.8-14.3-25.5-4.7-5.4-1.6-0.7-1.6 0.4-0.9 1.5 0 1.8 2.6 6.5 15.5 26 4.1 5.1 5 4.6M460.2 1293.8l1.4 0.8 0.1-1.7-1.8-5.7-3.2-7.3-6.6-9.8-2.5-2-1.4 0.2-0.5 1.6 0.3 1.7 4.9 11.8 3.3 4.7 6 5.7" stroke="#4ec36b"/><path d="M422.9 1326.7l2.5 0.1 1.7-0.7 1.9-2.7-0.2-2.5-0.8-1.6-2.6-2-3.3 0.5-1.6 1.5-0.7 1.6 0.3 3.3 1.2 1.6 1.6 0.9M435.9 1302l3.1-0.8 1.2-1.7 0.3-1.6-1.7-4.1-2.7-1.7-0.8 0.2-1.3 1.5-0.9 4.1 0.5 2.5 2.3 1.6M486.6 1295.4l1.3 0.6 0.5-0.6-0.1-2.5-1.2-4.1-3.1-6.5-14.2-24.7-3.3-3.4-2.4-0.5-1.2 1.4-0.1 1.7 2.1 5.9 14.8 25 4.1 5.3 2.8 2.4M459.9 1292.1l0.4-1.6-0.7-3.3-3.7-8.2-5.8-8.3-1.7-1.3-1.6-0.2-0.4 1.5 0.4 2 4.6 11.2 3.6 4.7 4.9 3.5" stroke="#58c765"/><path d="M422.3 1325.8l3.1 0.5 1.7-0.8 1-1.3 0.3-3.3-2.2-2.8-1.6-0.4-1.7 0.2-2.3 2.2-0.3 3.3 2 2.4M435 1301.2l1.9 0.4 1.3-0.4 1.8-2.5-0.6-3.5-2.5-2.4-1.7 0.1-1.6 3 0 3.4 1.4 1.9M485.4 1293.8l1.7 0.7 0.5-0.7 0-1.7-1.2-4.1-2.6-5.7-14-24.4-3.3-3.3-2.4-0.2-0.9 1.2 0 2 1.8 4.9 13.9 23.6 3.3 4.5 3.2 3.2M458.2 1290.5l1.1 0 0.1-2.5-2.7-7.2-5.8-8.4-1.6-1.7-1.7-0.4-0.4 1.3 0.3 1.6 3.4 9.3 3.3 4.8 4 3.2" stroke="#63cb5f"/><path d="M423.9 1325.8l2.9-0.8 1.3-2.4-1-3.2-2.5-1.2-2.8 1.1-1.2 2.4 0.7 2.6 2.6 1.5M434.7 1300.4l1.4 0.7 1.7-0.2 1.8-2.2-0.5-3.3-2.2-2.1-1.6 0.3-1.1 1.8-0.4 2.5 0.9 2.5M485.3 1292.9l1.5 0 0.2-1.6-3.2-8.5-13.3-23.6-3.1-3.6-2.5-0.9-1.2 1.2-0.2 1.7 2.2 5.7 13.2 22.4 3.3 4.5 3.1 2.7M456.5 1288.8l1.8 0.7 0.5-0.7-1.3-5.7-4.1-7-3.3-3.8-1.7-0.8-0.1 2.5 2.6 7.9 2.5 4 3.1 2.9" stroke="#6ece58"/><path d="M423 1325l2.4 0.2 2-1.8 0-2.5-2-2-2.5 0.2-1.5 1.8 0 2.5 1.6 1.6M435.5 1300.4l2.3 0 1.4-1.7 0.1-1.6-0.6-1.7-1.8-1.6-1.6 0.5-1 1.9 0 2.5 1.2 1.7M485.4 1292.1l0.9-0.5-0.1-1.9-3.2-8-13.2-23.1-2.4-2.6-2.5-0.7-0.8 0.9-0.1 2.2 1.7 4.6 14 23.5 3.3 4.1 2.4 1.5M456 1288l1.5 0.6 0.7-0.6-0.2-2.5-1.1-3.2-3.5-5.7-2.5-2.7-1.6-0.8 0 2.8 1.6 5.5 2.5 4.1 2.6 2.5" stroke="#7ad151"/><path d="M422.9 1324.2l1.7 0.5 1.6-0.7 0.8-2.3-0.8-1.6-1.6-0.7-2 0.7-0.8 2.5 1.1 1.6M435.3 1299.5l1.6 0.6 1.8-1.4 0-2.5-1.8-1.7-1 0.1-1.1 1.6-0.2 1.7 0.7 1.6M483.6 1290.5l1.9 0.4 0.2-1.2-1.1-4.1-1.6-3.5-13.2-23.1-2.4-2.6-1.7-0.7-0.8 0.3-0.6 2.4 1.4 4.1 13.2 22.3 4.7 5.7M455.6 1287.2l1.1 0.5 0.9-0.5-0.1-2.4-0.9-2.5-3.2-5.2-2.5-2.2-0.8 0 0 2.8 1.5 4.6 1.8 2.8 2.2 2.1" stroke="#86d549"/><path d="M423 1323.4l1.6 0.6 1.2-0.6 0.5-1.7-0.9-1.3-1.6-0.2-0.9 0.7-0.3 1.7 0.4 0.8M435.5 1298.7l1.4 0.7 1.4-1.5-0.2-1.7-1.2-1-0.8 0.1-0.8 0.9 0.2 2.5M483.5 1289.7l1.1 0.3 0.5-1.2-2.1-6.1-13.2-23.3-2.4-2.6-1.7-0.5-0.8 0.8-0.2 1.3 1.3 4.1 12.9 21.9 2.4 3.4 2.2 1.9M455.2 1286.4l1.5 0.4 0.3-0.4-0.4-3.3-3.2-5.4-1.7-1.4-0.8-0.1-0.3 1.9 1 3.3 1.8 3.2 1.8 1.8" stroke="#95d840"/><path d="M424 1322.6l0.8 0-0.2-1.2-0.8 0.3 0.2 0.9M436 1297.9l0.9 0.5 0.6-0.5-0.6-1.7-0.8 0.4-0.1 1.3M483.5 1288.8l0.9-0.8-0.1-0.8-1.3-3.9-12.3-22.2-2.5-3.2-1.7-1-0.8 0.2-0.5 2.1 1.3 3.8 13.2 22.1 2.5 2.9 1.3 0.8M454.9 1285.5l0.9 0.5 0.7-0.5-0.6-3.2-2.5-4-1.7-1-0.4 0.8 0.4 2.8 1.7 3.1 1.5 1.5" stroke="#a2da37"/><path d="M482 1287.2l1 0.5 0.7-0.5-1.5-4.9-12.4-22-1.6-2-1.7-0.7-0.8 0.6-0.1 1 1 3.3 12.3 20.7 3.1 4M454.8 1284.7l1 0 0-1.6-1.6-3.1-1.6-1.5-0.7 1.3 0.5 1.6 2.4 3.3" stroke="#b0dd2f"/><path d="M482.1 1286.4l0.8-0.9-0.7-2.4-12.3-22.2-1.7-2-1.7-0.5-0.4 1.6 1.3 3.3 12.3 20.5 2.4 2.6M454 1283.1l1.1 0-1.7-2.9-0.4 1.2 1 1.7" stroke="#bddf26"/><path d="M480.5 1283.9l0.8 0.8 0-2-11.5-21.2-1.6-2-1.1-0.3-0.5 0.8 0.8 2.6 13.1 21.3" stroke="#cae11f"/><path d="M472.3 1268.3l0 0M471.4 1267.4l0.2-0.8-0.9-2.3-2.5-3.9-0.8 0.5 0.6 1.6 3.4 4.9" stroke="#d8e219"/></g>
</g>
<path d="M341.20 1315.97L341.17 1312.08L341.25 1308.20L341.44 1304.30L341.74 1300.42L342.13 1296.53L342.62 1292.64L343.19 1288.76L343.84 1284.89L344.56 1281.02L345.34 1277.16L346.19 1273.32L347.09 1269.49L348.03 1265.67L349.02 1261.86L350.04 1258.08L351.10 1254.31L352.17 1250.56L353.29 1246.83L354.48 1243.10L355.73 1239.38L357.08 1235.65L358.54 1231.91L360.14 1228.18L361.96 1224.61L364.10 1221.36L366.66 1218.64L369.68 1216.57L373.04 1215.18L376.58 1214.46L380.21 1214.38L383.89 1214.82L387.63 1215.66L391.40 1216.80L395.20 1218.10L399.02 1219.46L402.84 1220.83L406.67 1222.23L410.48 1223.65L414.28 1225.10L418.05 1226.60L421.78 1228.15L425.47 1229.75L429.11 1231.42L432.69 1233.17L436.20 1234.99L439.63 1236.91L442.98 1238.92L446.23 1241.03L449.37 1243.26L452.41 1245.60L455.32 1248.08L458.11 1250.68L460.76 1253.43L463.27 1256.32L465.64 1259.33L467.87 1262.45L469.96 1265.69L471.91 1269.04L473.72 1272.48L475.38 1276.01L476.90 1279.61L478.28 1283.29L479.51 1287.04L480.59 1290.84L481.53 1294.69L482.32 1298.59L482.96 1302.51L483.45 1306.46L483.79 1310.43L483.98 1314.42L484.02 1318.40L483.91 1322.38L483.64 1326.34L483.22 1330.29L482.64 1334.21L481.91 1338.09L481.02 1341.92L479.97 1345.71L478.76 1349.43L477.40 1353.09L475.87 1356.67L474.19 1360.18L472.34 1363.59L470.33 1366.90L468.16 1370.10L465.82 1373.19L463.32 1376.16L460.65 1379.01L457.82 1381.71L454.84 1384.27L451.72 1386.68L448.47 1388.93L445.10 1391.02L441.63 1392.94L438.07 1394.68L434.44 1396.23L430.73 1397.59L426.97 1398.76L423.17 1399.72L419.34 1400.47L415.49 1401.00L411.64 1401.30L407.79 1401.37L403.96 1401.20L400.16 1400.79L396.41 1400.12L392.71 1399.19L389.09 1398.00L385.54 1396.53L382.08 1394.78L378.73 1392.75L375.49 1390.46L372.37 1387.93L369.38 1385.19L366.52 1382.27L363.80 1379.19L361.23 1375.98L358.82 1372.67L356.57 1369.28L354.49 1365.83L352.58 1362.32L350.82 1358.76L349.22 1355.15L347.78 1351.50L346.49 1347.80L345.35 1344.07L344.35 1340.31L343.49 1336.52L342.78 1332.70L342.20 1328.87L341.75 1325.01L341.43 1321.14L341.23 1317.26Z" fill="none" stroke="#dd22dd" stroke-width="1.2"/>
<rect x="333.00" y="1205.40" width="162.10" height="206.60" fill="none" stroke="#666" stroke-width="0.9"/>
<circle cx="459.37" cy="1247.70" r="1.3" fill="#000"/>
<circle cx="461.90" cy="1250.23" r="1.3" fill="#000"/>
<circle cx="464.44" cy="1253.02" r="1.3" fill="#000"/>
<circle cx="466.72" cy="1255.78" r="1.3" fill="#000"/>
<circle cx="469.00" cy="1258.80" r="1.3" fill="#000"/>
<circle cx="471.04" cy="1261.75" r="1.3" fill="#000"/>
<circle cx="472.95" cy="1264.80" r="1.3" fill="#000"/>
<circle cx="474.85" cy="1268.10" r="1.3" fill="#000"/>
<circle cx="476.51" cy="1271.31" r="1.3" fill="#000"/>
<circle cx="478.14" cy="1274.77" r="1.3" fill="#000"/>
<circle cx="479.56" cy="1278.12" r="1.3" fill="#000"/>
<circle cx="480.93" cy="1281.72" r="1.3" fill="#000"/>
<circle cx="482.10" cy="1285.18" r="1.3" fill="#000"/>
<text x="364.55" y="1423.40" font-family="Liberation Sans" font-size="8.8" fill="#222" text-anchor="middle" textLength="12.30" lengthAdjust="spacingAndGlyphs" >2.2</text>
<text x="397.45" y="1423.40" font-family="Liberation Sans" font-size="8.8" fill="#222" text-anchor="middle" textLength="12.30" lengthAdjust="spacingAndGlyphs" >2.4</text>
<text x="430.35" y="1423.40" font-family="Liberation Sans" font-size="8.8" fill="#222" text-anchor="middle" textLength="12.30" lengthAdjust="spacingAndGlyphs" >2.6</text>
<text x="463.25" y="1423.40" font-family="Liberation Sans" font-size="8.8" fill="#222" text-anchor="middle" textLength="12.30" lengthAdjust="spacingAndGlyphs" >2.8</text>
<path d="M333.00 1218.10h-2.2M333.00 1251.00h-2.2M333.00 1283.90h-2.2M333.00 1316.80h-2.2M333.00 1349.70h-2.2M333.00 1382.60h-2.2M364.55 1412.00v2.2M397.45 1412.00v2.2M430.35 1412.00v2.2M463.25 1412.00v2.2" stroke="#444" stroke-width="0.8"/>
<text x="414.05" y="1432.60" font-family="Liberation Sans" font-size="8.8" fill="#222" text-anchor="middle" textLength="21.50" lengthAdjust="spacingAndGlyphs" >R [m]</text>
<text x="414.05" y="1200.60" font-family="Liberation Serif" font-size="12.7" fill="#000" text-anchor="middle" font-weight="bold" textLength="34.40" lengthAdjust="spacingAndGlyphs" >22.5°</text>
<g clip-path="url(#clipC2)">
<g fill="none" stroke-width="0.95" stroke-linejoin="round"><path d="M651.4 1267.8l-0.4-0.4 0.4 0.4M650.5 1267.2l-4.9-5.4 0-1.1 4.1 4.4 1.1 1.5-0.3 0.6" stroke="#481d6f"/><path d="M619.3 1301.4l-0.3-1 1.1-0.2 0.1 1-0.9 0.2M658 1276l-12.6-13.5-1-1.6 0.4-1.4 2.4 1.4 6.6 8.1 5 6.7 0 0.4-0.8-0.1" stroke="#482475"/><path d="M619.3 1302.2l-0.8-0.5-0.3-1.3 1.1-1.2 1.1 0.3 0.7 1.7-0.6 0.8-1.2 0.2M658.8 1277.5l-14-14.9-1.2-2.6 0.4-1.1 1.6 0.1 1.7 1.4 11.5 14 1.5 2.9-0.7 0.5-0.8-0.3" stroke="#472a7a"/><path d="M618.5 1302.4l-0.8-1.2 0.3-1.7 0.9-0.8 1.2 0 1.5 1.7-0.3 1.6-1.2 0.7-1.6-0.3M633.3 1283.3l0-1.5 0.8-0.4 0.8 0.4 0 1.5-1.6 0M660.4 1279l-3.3-2.2-12.3-13.7-1.7-3.1 0.3-1.6 1.4-0.2 1.6 0.9 6.6 7.6 7.3 9 1 2.4-0.9 0.9" stroke="#46307e"/><path d="M618.5 1302.9l-1.2-1.7 0.2-1.7 1-1.2 1.6 0 1.7 1.5 0.1 2.2-1.8 1.2-1.6-0.3M633.3 1284.1l-1.1-1 0.3-1.3 0.8-0.8 1.6-0.1 1.1 1.4-0.3 1.4-0.8 0.5-1.6-0.1M661.2 1279.9l-4.1-2.5-13.1-14.8-1.5-3.4 0.6-1.4 1.7-0.1 2.5 1.7 12.3 14.8 2.3 3.9 0.2 1-0.9 0.8" stroke="#453781"/><path d="M618.5 1303.3l-1.3-1.3-0.1-2.5 1.4-1.7 1.6 0 1.9 1.7 0.3 2.5-1.4 1.3-2.4 0M634.1 1284.8l-1.6-0.6-0.9-1.1 0.5-1.7 2-1.1 1.6 0.5 1 2.3-1 1.4-1.6 0.3M661.2 1280.7l-4.5-3.4-12.7-14.3-1.7-3 0.1-2.4 0.7-0.5 1.7 0.2 2.5 1.7 12.6 15 2.8 5-0.3 1.6-1.2 0.1" stroke="#433e85"/><path d="M618.5 1303.7l-1.7-1.6-0.2-1.7 1-2.5 1.7-0.6 2.5 1.3 1 2.6-1 2.1-1.7 0.6-1.6-0.2M633.3 1285l-1.8-1.1-0.2-1.6 1.2-1.8 2.4-0.6 1.9 1.5 0.5 2.5-1.6 1.3-2.4-0.2M662.1 1281.5l-5-3.3-13.2-14.9-2.2-4.1 0.6-2.3 2.5 0 2.5 1.8 12.9 15.3 3.3 5.8-0.3 1.6-1.1 0.1" stroke="#414487"/><path d="M617.6 1303.7l-1.1-1.7 0.2-3.3 1.5-1.6 1.9 0 2.5 2.2 0.5 2.7-0.5 1-1.7 1.1-1.6 0.1-1.7-0.5M634.1 1285.6l-2.5-1.1-0.7-2.2 1.6-2.3 2.4-0.6 1.8 1.2 1.2 3.3-1 1.6-2.8 0.1M662.9 1282.4l-2.5-1.1-3.3-2.7-13.1-14.8-2.4-3.8-0.4-1.6 0.5-1.6 2.3-0.6 3.3 2.2 13.1 15.5 3.6 5.9 0.3 1.6-0.4 0.9-1 0.1" stroke="#3e4989"/><path d="M619.3 1304.5l-2.2-0.9-1.1-2.4 0.7-3.3 1.8-1.4 1.6 0.2 1.7 1.1 1.7 3.4-1 2.4-3.2 0.9M633.3 1285.7l-2.5-1.6-0.3-1.8 2-2.7 2.4-0.6 2.5 2 1.1 3.7-1.1 1.5-4.1-0.5M662.9 1283.1l-3.3-2-3.2-3-13.1-14.8-2.3-4.1-0.2-1.6 0.7-1.5 2.5-0.2 3.3 2.2 13.5 15.9 2.8 4.1 1.3 3.3-0.2 1.7-1.8 0" stroke="#3c4f8a"/><path d="M618.5 1304.7l-2.4-1.9-0.4-2.4 1.1-3.4 0.8-0.6 1.7-0.3 3.3 2.2 1.1 2.1 0.2 1.6-0.8 1.6-1.2 0.9-3.4 0.2M634.9 1286.5l-3.3-1.2-1.5-2.2 0.3-1.7 1.2-1.6 2.5-1.2 1.6 0.3 1.7 1.5 1.8 4.3-0.2 1.5-0.8 0.6-3.3-0.3M663.7 1284l-3.3-1.9-3.3-2.9-14.1-15.9-2.5-4.9 0-1.6 1-1.3 2.5 0 3.3 2.3 13.9 16.4 3.2 4.8 1.3 3.3-0.3 1.9-1.7-0.2" stroke="#3a548c"/><path d="M622.6 1337.5l-0.8-0.5-0.4-1.3 0.6-0.8 1.4-0.2 0.8 0.7 0.2 1.1-0.7 0.9-1.1 0.1M617.6 1304.8l-1.8-2-0.3-3.3 1.3-3.1 2.5-0.6 3.3 2.1 1.1 1.6 0.5 2.5-0.6 1.6-1.8 1.3-2.5 0.3-1.7-0.4M636.6 1287.4l-5-1.8-1.6-1.7-0.2-1.6 0.7-1.7 2.8-2.2 1.6-0.1 1.7 0.8 2.9 4.8 0.5 1.6-0.5 1.7-1.3 0.5-1.6-0.3M664.5 1285l-3.3-1.9-4.1-3.5-14-15.8-2.8-4.6-0.3-2.4 0.7-1.3 2.4-0.6 3.3 1.8 14.9 17.3 3.4 5 1.9 4.1 0.2 1.6-0.6 0.7-1.7-0.4M674.4 1263.6l-13.2-14.9-0.8-1.9 1.7 0.6 11.5 13.5 1.6 2.4-0.8 0.3" stroke="#375a8c"/><path d="M622.6 1338.4l-1.7-1-0.4-1.7 1-1.6 1.9-0.4 1.6 1.2 0.3 1.6-1.1 1.6-1.6 0.3M684.3 1307.4l-9.9-11.1-6.2-8.3-6.1-3.9-4.1-3.4-13.2-14.6-4.8-6.9-0.4-2.4 0.7-1.7 2-0.8 1.7 0.5 4.4 3.6 14.5 17.3 3.1 4.9 3 6.6 7.9 7.9 7.4 8.6M618.5 1305.4l-2.7-1.8-0.7-3.2 0.9-3.5 0.8-1 1.7-0.6 2.4 0.8 1.7 1.4 1.4 2 0.6 2.5-0.5 1.6-1.5 1.3-4.1 0.5M637.4 1288.2l-5.8-2.3-1.9-2 0.3-3 2.5-2.6 1.6-0.5 1.6 0.4 1.7 1.3 1.8 2.8 1.4 3.2 0 1.7-0.7 0.9-2.5 0.1M676 1265.9l-3.2-2.9-12.4-14.3-1-1.8 0.2-1.6 1.6 0.5 1.4 1.1 12.6 14.8 1.8 3.3-0.1 1-0.9-0.1" stroke="#355f8d"/><path d="M666.2 1341l-1.7-1.6 0-2.7 0.9-0.2 1.3 1.7 0.3 1.7-0.8 1.1M622.6 1339l-1.9-0.8-1-2.5 1.2-2.1 2.5-0.6 1.9 1.1 0.7 2.4-0.9 1.9-2.5 0.6M641.5 1324.3l-0.8-0.5-0.3-1.2 0.3-2.2 0.8 1.6 0 2.3M684.3 1308.5l-17.3-20.2-9.9-8.1-14.2-16-3.5-5.8-0.3-1.6 0.8-2 1.6-0.9 1.6 0.2 5 3.7 15 17.9 6.6 10.7 14.6 16.2M617.6 1305.4l-2.1-1.8-0.7-3.2 1.2-4.3 0.8-0.8 1.7-0.4 2.4 0.9 1.7 1.3 1.7 2.4 0.6 2.5-0.7 2.2-1.5 1.1-2.6 0.5-2.5-0.4M638.2 1289l-6.6-2.8-1.8-1.5-0.6-1.6 0.2-1.7 1.4-2.3 1.7-1.3 1.6-0.4 2.5 0.9 3.4 4.8 1.4 3.3-0.1 1.6-1.4 1.1-1.7-0.1M677.7 1267.6l-4.1-3.1-13.2-15.2-2-3.2 0.3-1.7 1.7 0.2 2.5 1.8 12.3 14.5 3 4.9 0.1 1.6-0.6 0.2" stroke="#32648e"/><path d="M666.2 1342.4l-1.7-1.4-0.9-2-0.2-2.5 1.1-1.3 1.7 0.6 1.5 3.2 0 2.5-0.7 0.8-0.8 0.1M620.9 1339.1l-1.1-0.9-0.8-1.7 0.6-2.4 2.2-1.6 1.6-0.2 1.7 0.7 1.5 2.7-0.5 2.5-1.9 1.3-3.3-0.4M641.5 1327.5l-1.6-2.4-1.3-5 0.2-1.7 1.1-0.4 1.6 0.9 0.9 2 0.3 5.8-0.4 0.8-0.8 0M684.3 1309.3l-17.7-20.5-9.5-8.3-14.5-16.3-3.6-5.8-0.2-2.5 0.8-1.6 1.9-0.9 1.6 0.3 5 3.8 14.6 17.4 7.1 10.6 14.5 16.2M620.1 1306.1l-3.3-0.7-2-2.6-0.3-2.4 0.6-3.3 0.9-1.8 1.6-0.9 2.5 0.6 1.9 1.2 2.2 2.5 1 2.5-0.1 2.4-0.9 1.3-1.6 0.9-2.5 0.3M639 1289.8l-7.6-3.4-2-1.7-0.5-1.6 0.5-2.5 3.1-3.3 1.6-0.3 2.5 0.9 1.7 1.9 3 4.9 0.9 2.5-0.3 1.6-1.2 0.9-1.7 0.1M679.3 1269.2l-2.4-1.2-3.3-3-13.2-15.2-2.5-3.7 0.1-2.4 1.6-0.1 3.3 2.2 12.3 14.4 4.2 6.4 0.4 1.7-0.5 0.9" stroke="#306a8e"/><path d="M655.5 1364.5l-1.2-0.8 0-0.8 1.2 0.3 0 1.3M639.9 1360.5l-1.6-0.9-0.4-0.9 0.3-0.8 2.8 0 2 1.7-0.7 0.9-2.4 0M648.1 1346.9l-1.5-2.1 0.7-1.7 1.2 0.8 0.7 1.7-0.3 1.4-0.8-0.1M666.2 1343.4l-1.7-1.3-1.7-3.9 0.1-2.6 1.6-1.4 1.7 0.6 0.8 1 1.4 4-0.6 3.3-1.6 0.3M621.8 1340l-2.8-1.8-0.7-1.7 0.2-1.6 0.9-1.7 1.5-1.1 3.3-0.2 2.6 2.2 0.3 3.3-0.9 1.6-1.1 0.8-3.3 0.2M642.3 1329.2l-1.6-1-1.6-3.2-1.8-6.6 0.9-1.4 1.7-0.2 1.6 0.8 1.4 2.5 0.7 7.4-0.5 1.5-0.8 0.2M575.7 1316.9l-0.8-0.4-0.3-1.3 1.1-1 0.9 1-0.1 1-0.8 0.7M684.3 1309.9l-18.5-21.1-9.5-8.8-13.9-15.8-3.7-5.8-0.4-2.5 0.7-1.8 1.7-1 2.4 0.2 5 3.9 14.9 17.7 7.3 10.4 14 15.7M617.6 1306.1l-2.4-1.6-1-4.1 1-4.7 0.8-1.1 1.6-0.7 2.5 0.7 3.1 2.5 2.1 3.3 0.4 2.4-0.6 1.9-1.7 1.2-2.5 0.6-3.3-0.4M580.6 1302.1l0-0.5 0 0.5M639.9 1290.6l-2.5-0.8-6.5-3.4-1.8-1.7-0.6-1.6 0.5-2.5 2.6-3.4 1.7-0.7 2.4 0.5 2.5 2.2 2.5 3.9 1.8 3.3 0.5 2.4-1.5 1.5-1.6 0.3M680.2 1270.8l-2.5-1.5-4.1-3.8-14-16.1-2.5-4.2 0-2 0.9-0.5 1.6 0.2 3.3 2.2 13.1 15.4 4.8 7.8 0.3 2.4-0.9 0.1" stroke="#2e6f8e"/><path d="M634.9 1381l-2.1-1.7 0.5-1 3.3-0.1 1.6 0.9 0.7 1-0.3 0.9-1.2 0.4-2.5-0.4M654.7 1365.7l-1.4-1.2-0.8-1.6 0.5-1.8 2.5 0.5 1.8 2.1-0.2 1.8-2.4 0.2M639.9 1361.4l-3.1-1.8-0.4-1.7 0.6-0.8 2-0.4 2 0.4 2.1 1 1.5 1.5-0.1 0.8-1.4 1-3.2 0M619.3 1354.1l-1-1.1 0.5-0.8 1.5 0 1.2 0.8 0.1 0.8-0.7 0.4-1.6-0.1M648.9 1348.3l-1.6-0.9-1.5-2.6 0-1.7 1.5-1.5 1.6 1.3 1.1 2.7 0.1 1.6-0.4 0.9-0.8 0.2M666.2 1344.4l-2.5-2.6-1.6-4.4 0.3-2.5 2.1-1.6 1.7 0.6 0.8 0.9 1.9 5-0.3 3.7-0.8 0.9-1.6 0M623.4 1340.7l-2.5-0.4-1.6-0.9-1.7-2.9 0.9-3.3 1.6-1.4 2.5-0.7 1.6 0.2 2.1 1.1 1.6 3.3-0.9 3.3-1.1 1-2.5 0.7M641.5 1330l-2.4-3.3-2.9-8.3 0-1.6 1.2-0.8 3.3 0.2 1.6 1.3 1 1.8 1.2 9.8-0.5 1.3-2.5-0.4M662.9 1321.8l-1.7-0.6-1-1.1-0.2-1.7 1.2-1.5 1.7 0.2 1.5 2.2 0.1 1.7-1.6 0.8M574.9 1317.7l-0.8-1.1-0.2-1.4 0.8-1.7 1-0.2 1.2 1 0.3 1.7-0.7 1.4-1.6 0.3M684.3 1310.6l-18.4-20.9-9.6-9.4-14.8-17-3.5-5.7-0.1-2.5 1-1.6 1.8-1 1.6 0.1 2.5 1.3 2.5 2.2 15.2 17.9 7.9 10.7 13.9 15.7M616.8 1306.2l-1.4-0.9-1-1.6-0.4-4.2 1.2-4.9 0.8-0.8 1.6-0.4 2.5 0.8 3.3 2.7 1.9 2.6 0.9 3.3-0.9 2.5-1.9 1.1-3.3 0.4-3.3-0.6M653.8 1305.4l-1.6-0.7-1.7-1.9-1.1-2.4 0.3-1.5 1.7 0.4 3.3 3.3 0.4 1.9-1.3 0.9M579.8 1303.1l-0.7-1.9 0.7-1.2 0.8 0.1 1.1 1.1-0.1 1.6-1 0.7-0.8-0.4M640.7 1291.3l-3.3-1-7-3.9-1.7-1.7-0.5-1.6 0.4-2.5 3-4.2 2.5-0.4 2.5 1.2 2.3 2.6 3.2 4.9 1.6 3.3 0.1 1.7-1.5 1.3-1.6 0.3M684.3 1275l-0.1-0.1 0.1-0.8M683.4 1274.1l-4.9-3.5-4.1-3.9-15.1-17.3-3-5 0-1.6 0.8-0.8 2.5 0.2 3.3 2.3 13.3 15.5 5 7.4 2.8 6.6-0.6 0.1" stroke="#2c738e"/><path d="M634.9 1381.8l-2.9-1.7-0.6-1.6 0.5-0.8 2.2-0.7 2.5 0.3 2.5 1.2 1.3 1.6 0 0.9-1.4 1.1-4.1-0.3M654.7 1366.6l-1.8-1.3-1.9-3.3 0.2-1.6 1-0.6 1.6 0 1.7 0.8 3.1 3.9-0.6 1.8-1.7 0.5-1.6-0.2M640.7 1362.2l-2.9-1-2.2-1.6-0.6-1.7 0.7-1.3 2.5-0.7 2.5 0.5 3.8 1.5 1.7 1.7-0.8 1.6-1.4 0.8-3.3 0.2M671.9 1358l-0.4-1.7 0.4-0.9 0.9 0.1 0.8 1.6 0 0.9-0.8 0.6-0.9-0.6M620.1 1355.6l-3.3-1.8-0.3-1.6 0.5-0.9 1.5-0.5 1.6 0.1 1.7 0.5 1.6 1.6 0 1.3-0.8 0.9-2.5 0.4M648.1 1348.9l-2.3-2.5-0.8-2.5 0.6-2.6 1.7-1.3 1.6 1.5 1.9 4.9-0.4 2.5-0.7 0.5-1.6-0.5M667 1345.7l-1.6-0.9-1.7-2-2.1-5.4 0.5-3.3 2.4-1.7 1.7 0.6 0.8 0.9 2.4 5.9-0.1 4.1-0.7 1.2-1.6 0.6M620.9 1340.8l-2-1-1.5-1.6-0.5-1.7 0.2-2.4 1.1-1.7 1.9-1.3 2.5-0.6 2.5 0.4 1.6 1 1.4 2.2 0.1 4.1-1 1.6-1.3 0.9-2.5 0.5-2.5-0.4M643.1 1331.7l-2.4-1.4-1.7-2.3-4.1-10.4-0.1-1.6 0.8-0.8 2.6-0.2 2.5 0.5 1.6 1.1 1.3 1.8 2.6 13.2-0.6 0.6-2.5-0.5M575.7 1325.9l-0.6-0.9 0.3-0.8 1.1-0.9 0.8 0.4 0.3 1.3-1.9 0.9M662.1 1322.8l-2.6-1.9-0.8-2.5 0.9-2.2 2.5-1.3 1.6 0.8 0.8 1.1 1.7 4.9-0.4 0.9-1.3 0.6-2.4-0.4M574.9 1318.6l-1-1-0.6-1.6 0.5-2.5 1.1-1 1.6 0.6 1.3 2.1-1.3 3.1-1.6 0.3M684.3 1311.2l-43.1-47.9-3.6-5.7-0.3-2.5 0.9-1.8 1.7-1.1 2.4-0.1 5 3.8 15.5 18.1 8.1 10.7 13.4 15.1M618.5 1307.1l-3.3-1.4-0.9-1.2-0.6-2.5 0.7-7.1 0.8-1.4 1.6-0.7 3.3 1 3.1 2.4 2.4 3.3 1 3.3-0.5 2.5-1 1.1-2.5 0.7-4.1 0M653.8 1307l-3.3-2.3-2.3-3.5-0.8-2.5 0.7-2.4 1.6 0.1 1.7 1.2 4.7 5.2 0.8 3.3-1.4 1.1-1.7-0.2M579.8 1303.9l-1.1-1.1-0.3-1.6 0.6-1.6 0.8-0.4 1.7 0.7 0.9 2.1-0.9 2.1-1.7-0.2M638.2 1291.4l-8.2-5-2-2.5 0.4-4.1 1.6-3 1.6-1.5 2.5 0.2 3.3 2.1 7 10.4 0.5 2.5-0.9 1.1-3.3 0.5-2.5-0.7M684.3 1277.1l-10.7-10.9-15.2-17.7-2.6-4.1-0.2-1.6 0.7-1.3 1.6-0.4 1.7 0.5 4.6 3.6 13.9 16.5 6.2 9.9M625.9 1272l-0.5-0.4 0.5-1 1.2 1-0.4 0.6-0.8-0.2" stroke="#2a788e"/><path d="M635.7 1382.7l-2.5-0.9-2.3-1.7-0.8-1.6 0.7-1.4 1.7-0.7 3.2 0.1 3.5 1.2 2 1.6 0.6 1.7-1.1 1.5-2.5 0.5-2.5-0.3M614.4 1375.2l-1.8-0.8-0.4-0.8 0.5-1 1.7-0.3 1.8 1.3-0.2 1.1-1.6 0.5M654.7 1367.3l-1.9-1.2-3.9-4.6-1.6 0-4.2 1.4-3.2-0.3-4.7-2.2-1.4-1.7-0.1-1.6 1.9-1.6 2.6-0.2 10.7 3.7 3.3-0.6 1.6 0.3 3.3 2.6 2.6 4-1 1.7-2.4 0.5-1.6-0.2M671.9 1359.9l-1.2-2-0.4-2.4 0.4-1.7 1.2-0.4 1.7 1.2 1.2 3.3-0.4 1.7-0.8 0.6-1.7-0.3M620.1 1356.4l-2.8-0.9-1.7-1.7-0.4-1.6 0.8-1.7 1.6-0.7 2.5 0.2 2.5 0.8 1.7 1.4 0.7 1.6-0.6 1.7-1.8 0.9-2.5 0M648.9 1350.2l-3.1-3-1.4-3.3 0.2-2.4 1.8-4.1-0.3-1.7-1.2-1.6-4.2-2.9-1.7-2-2.8-7.5-3.1-5.7-0.5-1.7 0.4-0.8 7.7 1.3 1.7 1.2 1.8 2.4 1.8 9.9 1.3 2 2.5 2.1 0.8 1.7-1.7 4.9 2.2 6.6 0.3 3.3-0.9 1.4-1.6-0.1M666.2 1346.5l-1.7-1.6-1.6-2.6-1.9-5.8 0.9-3.3 2.6-1.7 1.7 0.5 1.6 2.3 2.3 7.2-0.6 4.2-1.7 1.2-1.6-0.4M621.8 1341.6l-2.8-0.9-2.1-1.7-1-2.5 0.3-2.4 0.9-1.7 2.2-1.7 3.3-0.8 2.5 0.3 1.6 0.8 1.8 2.2 0.7 2.5-0.2 2.5-0.9 1.6-1.4 1.2-2.5 0.7-2.4-0.1M574.1 1326.7l-0.1-2.5 1.7-2.3 0.8 0 2.1 1.5 0.3 1.6-1.6 1.6-1.6 0.7-1.6-0.6M663.7 1324.3l-4.1-2.1-1.5-2.1-0.4-1.7 1.1-3.4 3.3-2.9 1.6 0.9 0.8 1.3 3.2 7.4-0.5 1.7-0.9 0.8-2.6 0.1M574.9 1319.7l-1.7-1.8-0.6-1.9 0.6-2.9 0.9-1.3 0.8-0.2 2.4 1.7 0.9 1.9-1.7 4.1-0.8 0.7-0.8-0.3M684.3 1311.7l-44-49.2-3.4-5.7 0-2.5 1.1-1.7 1.9-1.1 1.6-0.1 2.5 1.2 2.4 2.1 16.6 19.3 8.1 10.4 13.2 14.8M654.7 1308.8l-3.3-2.1-3.8-4.7-1.3-2.5-0.8-4.9-0.6-0.8-5.9-1.4-10.4-6.9-1.1-3.2 1.3-6.6-5-3.3-0.5-1.7 0.9-1.6 2.5 0 4.1 4.1 6.6 4.1 6.7 9.1 3.3 6.5 4 3.4 5.2 5.7 2 3.3 0.4 2.5-1 1.1-3.3-0.1M572.4 1307.2l-0.4-1.1 0.4-1.3 0.8 0.2 0.6 1.1-0.6 1.7-0.8-0.6M616.8 1307.1l-2.6-1.8-0.9-4.1 0.8-7.4 1.1-1.4 1.6-0.3 3.3 1.2 3.4 2.9 2.9 4.2 0.8 3.2-0.5 2.2-1.6 1.4-4.2 0.5-4.1-0.6M579.8 1304.6l-1.6-1.5-0.4-1.9 0.4-1.7 1.6-1 2.5 1.6 0.5 1.9-0.7 2.5-0.6 0.4-1.7-0.3M684.3 1278.1l-11.5-12.4-14.7-17.2-3-4.9-0.2-1.6 0.6-1.1 1.6-0.6 1.7 0.2 4.9 3.5 14.3 16.9 6.3 9.2M611.1 1268.3l-1.9-0.9-0.2-0.8 0.9-0.8 2 0 0.9 0.8-0.1 0.9-1.6 0.8" stroke="#287d8e"/><path d="M654.7 1386.3l-1.3-1.2 0.4-0.9 1.7-0.2 1.7 1.1 0.1 0.8-1 0.6-1.6-0.2M636.6 1383.5l-5.9-2.5-1.7-2.5 0.5-1.7 2.1-1.1 4.1 0.2 4.2 1.4 2.6 2 0.6 1.7-0.8 1.8-2.4 0.9-3.3-0.2M613.5 1376.1l-2.6-1.7-0.2-1.7 0.5-0.8 1.5-0.7 1.7-0.1 2.9 1.6 0.6 1.7-0.3 0.8-1.6 1-2.5-0.1M654.7 1368l-1.9-1-3.1-3.3-1.6-1-6.6 0.7-6.5-2.2-2.5-2.5-0.3-2.4 1.9-1.5 2.5-0.4 10.7 2.7 4.1-0.2 2.4 0.7 5.3 5.3 1.9 3.2-0.4 0.9-1.8 0.8-4.1 0.2M671.9 1361.3l-1.6-2.4-0.8-3.4 0-3 0.8-1.2 1.6 0.5 1.7 1.4 2 4.7 0 1.7-1.1 1.6-2.6 0.1M620.1 1357.1l-4.1-1.5-1.6-1.8-0.3-2.5 0.9-1.6 1-0.6 2.5-0.3 3.6 0.9 3 1.6 1.3 1.7 0.2 1.6-1 1.7-2.2 0.9-3.3-0.1M649.7 1351.6l-2.4-1.9-3-4.1-0.6-2.5 1.2-5.7-0.4-1.7-5.7-5.7-3.1-7.8-4.8-7.9-0.6-1.6 0.5-1.4 1.7 0 8.2 2.9 2.4 1.7 1.3 1.7 1.9 9.9 1 1.6 3.8 3.3 0.7 1.7-1.8 5.7 1.8 6.6 0.2 3.3-0.6 1.6-1.7 0.3M667 1348.3l-3.3-3.5-3.2-8.3 0.6-3.3 1.8-1.9 1.6-0.9 1.7 0.5 1.6 2.4 2.8 8.2 0.1 3.3-1.2 3.4-0.9 0.6-1.6-0.5M619.3 1341.6l-2.5-1.3-1.5-2.1-0.5-3.3 0.9-2.5 1.8-1.6 3.4-1.3 3.3-0.2 2.5 0.8 1.7 1.5 1.2 2.5 0.4 3.3-0.8 2.4-1.7 1.6-1.6 0.7-3.3 0.1-3.3-0.6M574.1 1328.6l-1.5-1.9 0-1.7 1.6-4.1-2.1-4.1 1-5.8-2.4-4.9 0.1-2.8 0.8-1.6 3.1 2.8 0.2 5.7 3.6 4.1 0 1.7-1.4 4.1 2.9 4.1-0.8 1.6-1.9 1.7-1.6 1-1.6 0.1M665.4 1325.9l-4.2-1.7-3.2-2.9-1.3-3.7 0.9-4.9-5.4-4.2-3-3.2-3.5-4.9-2.2-5-5.3-2.8-10-7.1-1-2.4 0.3-5.9-4.1-3.7-1.1-1.9-0.1-1.7 1.2-1.7 1.7-0.5 2.4 0.9 9.9 8.3 11.1 15.2 8.3 9.1 7.6 9.8 4.8 10.7-1.4 2.9-2.4 1.3M684.3 1312.3l-44.9-50.6-2.3-3.3-1-2.5 0.1-1.6 1.2-2 1.6-1.2 2.5-0.3 4.1 2.8 38.7 45.1M617.6 1307.8l-3.2-1.4-1.4-2.8 0.2-9.8 0.6-1.7 1.4-0.8 3.3 0.6 4.1 3 3.7 4.6 1.5 4.1-0.3 2.9-1.1 1.3-3 0.4-5.8-0.4M580.6 1305.5l-2.2-1-1.1-1.7 0.3-3.3 1.4-1.6 2.5 0.9 1.7 2.4-0.9 4-1.7 0.3M575.7 1291.7l-1.7-1.2-0.4-1.7 0.5-0.7 4.1 1.4 0.7 1-1.6 1.5-1.6-0.3M608.6 1287.6l-2-2.1 0.1-1.6 1.1-0.5 1.6 0.6 1.6 2.4-0.8 1.5-1.6-0.3M684.3 1278.8l-27.2-31.1-2.8-4.9 0.5-2.5 1.5-0.8 2.5 0.3 4.9 3.5 14.2 16.7 6.4 8.8M610.2 1269.1l-2.4-1.5 0.1-1.8 1.5-0.9 1.7-0.2 2.6 1.1 0.4 1.6-0.5 0.9-1.7 0.8-1.7 0" stroke="#26828e"/><path d="M654.7 1387.7l-2.2-1-1.3-1.6 0.3-1.7 1.5-0.8 4.1 0.6 2.1 1.9-0.2 1.6-0.9 0.8-3.4 0.2M638.2 1384.4l-4.9-1.4-3.8-2-1.6-2.5 0.7-2.5 2.2-1 4.1 0.2 5.5 1.6 2.7 1.7 1.5 2.5-0.6 2.1-2.5 1.3-3.3 0M613.5 1377l-3.3-1.8-0.9-1.6 0.3-1.7 2.3-1.6 2.5 0 2.3 0.8 2.4 2.5 0 1.6-1.5 1.5-1.6 0.5-2.5-0.2M655.5 1368.7l-2.5-0.7-4.9-4.2-6.6 0.2-6.3-2-3-1.6-3-3-5 0.7-3.3-0.2-4.9-1.4-2.3-1.9-0.8-2.4 0.4-2.5 1.5-1.6 2-0.5 8.3 2.4 4.9 4 6.6-0.4 9.8 2.5 2.7-0.6 0.8-0.9 0-0.8-4.6-5.7-1.9-3.3-0.4-2.5 0.7-4.9-0.5-1.7-4.6-4.9-3.4-8.2-5.1-7.4-2.6-5-2.4-1-9.1-1.1-1.6-0.7-1.3-1.3-0.6-2.5-0.4-12.3-0.5-0.8-4.4-2.5-1.6-1.6-0.6-2.5 1.1-1.5 1.7-0.3 2 1 2.2 2.4 1.5 3.6 5.8 2.7 4.1 3.6 4.2 5.8 1.6 6.1 0.8 1.1 5.9 3.5 5.6 2.1 3.6 3.6 1.4 9.1 1.6 2.3 3.4 2.6 1.1 1.6 0.1 1.7-2 4.9 2 9.1-0.3 5.7 10.2 11.5 0.1 0.9-0.9 0.8-6.3 0.9M671.9 1362.6l-1.8-2.2-2.3-8.6-4.1-5.9-3.7-9.4 0.3-3.3 3.8-4.1 0.5-0.8-0.2-0.8-7-5.8-1.6-3.3-0.3-5-8.4-9.8-4.8-7.4-8.2-6.5-6.3-4.2-1-2.4-0.2-5-4-4.4-1.5-3 0.7-2.4 1.6-1.3 1.7-0.3 2.4 1 10.7 9.8 11.4 14.6 15 17.3 3.2 7.4 3.1 4.1 0.2 0.8-0.7 1.7-4.3 4.9 4.5 11.5 0.8 4.1 0.1 5 3.3 4.9 1.5 4.1 0 2.5-0.9 1.6-1.8 0.9-1.7-0.3M619.3 1342.4l-3.3-1.2-2-2.2-0.7-4.1 1-3.3 2.5-1.6 5-1.3 3.3-0.1 2.4 0.9 2 2.1 1.2 3.3 0.2 3.3-0.9 2.5-1.7 1.4-2.4 0.7-6.6-0.4M576.5 1338.2l-1.6-0.8-1.3-1.7 0.3-4.1-2.6-4.1 0.1-2.5 1.5-4.1-1.7-4.1 0.7-5.8-2.2-4.9-0.3-6.6 0.5-1.9 0.9-0.3 4.1 5.3 0.8 0.2 1.6-4.3 1.7-1.4 3.3 1.8 1.3 2.3-0.5 3.6-0.8 1.5-5.8-1.4-0.8 2.9 0.1 2.4 3.2 4.1-1.2 5.8 3.1 4.1-5.3 6.6 0.3 0.8 2.3 1.6 1 1.7-0.2 1.6-0.8 1.4-1.7 0.3M586.4 1322.6l0.8-1 1 1-1 0.6-0.8-0.6M583.9 1314.5l-1.3-1 0.5-2.7 0.8-0.1 1.1 2-0.3 1.3-0.8 0.5M684.3 1312.9l-45.8-52-3-5 0.1-2.4 1.1-1.7 2.3-1.5 1.7-0.3 1.6 0.5 2.5 2 39.5 45.7M575.7 1293l-3.3-1.4-0.7-1.1 0.7-10.6 0.8 0.3 1.1 4.5 1.9 2.5 2.8 1.2 4 0.4-4.8 4.3-2.5-0.1M684.3 1279.5l-28.1-32.6-2.7-4.9 0.7-2.5 2.1-1 1.7 0.1 4.9 2.9 15.1 17.7 6.3 8.3M610.2 1269.9l-3.5-1.6-0.4-0.9 0.1-1.6 1.4-1.2 2.4-0.7 2.5 0.3 1.5 0.8 1.1 1.6-0.4 1.7-2.2 1.4-2.5 0.2M585.3 1211.5l-1.4 4.4-0.8-0.7-0.8-3.7" stroke="#24868e"/><path d="M560.9 1405.6l0-19.7 1.1-12.3 2.5-9.9 4.2-9.9 0.4-7.4-0.3-6.6 1.2-8.2-0.5-4.9 1.8-5.8-1.6-3.3 1.2-5.7-2-4.1-0.7-9.1 2-13.2-0.8-9.8 1.4-3 1.6-0.4 1.7 0.5 1.1 1.2 0.5 9.9 0.8 2.1 2.5 1.4 4.9-0.1 1.4 0.7 0.3 0.8-0.7 0.9-4.3 1.9-2.4 3.8 5.3 4.1 0.6 1.7-1 5.5-0.8 0.9-3.3-1.6-1.7-0.1-1.1 2.7 0.7 2.4 2.8 3.3-1.3 5.8 1.1 1.6 2.4 1.7 0.1 0.8-4.5 5.8 0 0.8 2.8 4.1-1.3 5.1-0.8 1-3.3-0.5-0.8 0.4-1.3 3 0.3 5.8-1.7 6.6 0.8 19.7-0.3 9.9-1.1 7.8-3.4 11.9M604.4 1405.6l0.9-6.2 1.7-1.8 1.6-0.3 1.6 0.8 1.7 2 2.4 5.5M676.9 1405.6l-0.3-14 1.1-9.4 2.5-5.5 1.6-1.4 2.5-1M653.8 1388.4l-3.6-1.7-2.1-2.8-0.8-0.4-3.3 1.6-3.3 0.3-5-1-4.7-1.8-2.7-1.6-1.4-1.7-0.5-1.6 0.4-1.7 1.5-1.3 1.7-0.4 6.6 0.8 7.1 2.6 1.9 1.6 2.5 3.7 2.4-1.3 3.3-0.3 4.2 1.1 2.3 1.7 0.5 2.5-1.2 1.5-2.5 0.7-3.3-0.5M597.1 1383.5l-1.3-9.9 0-19-0.4-4.1 1.7-3.8 0.8 0.4 0.4 1.8 0.3 27.9-0.7 7.1-0.8-0.4M613.5 1377.7l-3.3-1.3-2.1-2 0-2.5 2.1-2.1 2.5-0.4 4 0.9 2.7 1.6 1.1 1.7 0.1 1.6-1.3 1.8-2.5 1-3.3-0.3M653 1368.7l-4.9-4-5.8-0.1-3.8-0.9-10.2-3.9-6.5-1-5.8-1.6-2-0.9-1.6-1.7-0.8-2.4 0.4-3.3 1.5-3.1 1.7-0.9 16.4 6.6 10.7 3.3 4.1 0.3 1.6-1.3-0.4-1.6-5.1-8.3-0.2-7.4-4.1-5.1-3.8-8.8-7.6-10.7-3.4-2.1-9-1.1-1.8-0.9-0.6-1.7-0.1-8.2-0.8-5-1-1.6-4-3-2.2-2.8-0.2-2.4 1.5-1.7 2.6-0.3 2.4 1.2 4.6 5.7 5.3 3.8 5.2 5.3 2.8 4.1 2.1 4.9 1.3 1.7 4.5 3.2 6.3 2.9 3.4 3.7 0.6 6.6 0.8 2.5 1.8 2.2 3.8 2.7 0.9 1.6 0 1.7-1.8 3.3-0.6 2.5 3.2 13.9 5.2 7.3 6.4 5.1 0.1 0.8-2.4 1-8.2 0.5-2.5-0.6M552.7 1367.5l-1.7-1.6-7.1-11.3-3.3-9-6.8-41.5 0-8.5 0.8-2.7 0.8-0.9 1.6 0.6 1.7 3.3 4.5 16 3.3 8.2 3.7 6.7 3.3 3 1.6 4.2 1.5 11.6 0 12.3-1.5 7.8-0.8 1.4-1.6 0.4M671.1 1363.9l-1.2-1.9-2.3-8.2-3.9-6.3-4.5-11.8 0.3-2.5 3-4.1 0.1-1.6-6-5.8-1.7-3.3-1.6-5.7-11.8-15.6-7.9-7.4-6.2-4.2-1.1-2.4-0.8-5-3.7-4.3-1.7-3.1 0.2-2.4 2.3-2 2.5-0.6 1.6 0.6 10.7 9.9 13.7 16.7 14.3 16.1 3.6 7.8 4 4.1 0.4 1.7-4.6 4.1-0.9 1.6-0.1 1.7 3.5 10.7 1.5 8.2 3.2 6.3 1.3 5.2-0.4 2-1.7 1.5-2.4 0.5-1.7-0.5M614.4 1343.8l-1.9-2.3-1.2-4.1-0.1-5 1.2-2.4 2-0.9 10.7-1.5 1.6 0.2 2.1 1.3 1.8 2.5 1.4 4.1 0.1 4.1-1.1 2.5-3.5 1.4-13.1 0.1M597.1 1340.8l-1.2-1 0.4-2 1 0.4-0.2 2.6M586.4 1324.3l-1.6-0.9 0.4-1.7 2-1.4 1.7 0.5 0.6 0.9 0 1.7-1.5 1.1-1.6-0.2M583.9 1315.3l-1.8-1-0.5-0.8 1.5-4.6 1.6 1.7 0.9 2.1-0.1 1.6-0.8 0.9-0.8 0.1M684.3 1313.6l-47.5-54.4-2.4-4.1 0-1.6 1.3-2 2.5-2 1.7-0.5 1.6 0.3 2.5 1.9 40.3 46.4M574.6 1300.4l1.1-0.3 2.4-4.7-4-1.5-1.5 0.7-0.2 0.8 0.8 2.9 1.4 2.1M684.3 1280.1l-29.7-34.9-2-4.1 0.9-2.4 2-1.3 2.5-0.2 2.4 1 2.5 1.8 3.5 3.6 17.9 22.4M607.8 1270.2l-2.9-1.9-0.5-1.7 0.7-1.6 1.9-1.3 2.4-0.6 2.5 0 2.5 0.9 1.8 1.8 0.1 2.5-1.9 1.5-3.3 0.9-3.3-0.5M555.1 1261.2l-1.4-1.2-1-2-1.5-7.8 0.7-8.2 0.8-2.5 1.6-2 1.7 0.7 0.8 1.4 1.1 4 0.6 5.8-0.1 4.2-0.8 4.5-0.8 2-1.7 1.1M671.1 1243.7l-3.3-2.4-3.3-4.1-2.9-7.6-0.9-5.7 0-5.8 1.1-4.1 1.9-1.9 1.7-0.2 2.4 1 4.9 4.4 4.1 5.7 2.7 6.6 0.5 5.8-1.6 5.7-1.5 1.9-1.7 1-1.6 0.3-2.5-0.6M589.9 1211.5l0.4 7.4 1 5.9 1.7 4.1 1.6 1.3 1.7-0.7 1.6-2.4 4.1-9.8 2.5-3.8 0.8-0.2 0.8 0.7 0.9 3.3 0.2 6.6-0.7 5.7-1.8 1.7-6.8 2.1-1.5 2 0.1 2.4 1 1.7 4.5 3.3 0.9 1.6-4.2 13.7-2.4 3.4-1.7-0.4-4.1-4.9-9-7.8-1.7-2.7-1.4-10.3-0.3-23.9" stroke="#228b8d"/><path d="M557 1405.6l-0.9-10.7-1.7-5.7-7.5-14.6-3.3-3.3-2.4-1-1.7 0.6-0.9 1-2.1 6.6-1.7 14-0.6 13.1M591.3 1405.6l0.9-35.3-0.2-14-0.7-5.8 1.6-5.7-1.5-5 1.4-3.3 0.7-4.1 2.7-4.9 0.1-6.7 0.8-1.3 0.8-0.2 3.3 1.6 1.4 1.7 1.5 7.4-1.4 13.1-0.7 13.2 0.1 10.7 1.1 6.6-0.6 5.7 0.3 3.3 1 2.5 1.4 1.5 5.3 2.6 2 1.6 5.6 14.8M639.7 1405.6l2.6-5.6 1.7-1.2 1.8 0.2 2.7 1.7 3.8 4.9M671.7 1405.6l1.1-29.6 0.4-4.1 1.3-4.1-1.9 0-2.3 1.9-2.5 0.8-6.6-0.8-7.4 0.1-1.6-0.6-4.1-3.6-6.6-0.6-14-3.5-13.9-4.4-2.9-2.5-0.7-2.4-0.2-6.6-2.8-14 0.4-3.3 2-1.7 7.4 1.3 9.1-1.4 2.4 0.6 3.1 3.7 2.6 6.6 0.5 4.9-1.9 4.9 0.9 2.5 3.6 2.5 5.2 2.1 3.3 0.1 1.2-1.4-0.9-2.5-4.1-6.6-1-7.4-3.5-4.9-3.2-7.9-7.4-10.3-2.5-2.2-3.3-1.1-4.1-0.2-4.1 1.3-2.1-1-0.7-2.4 1.2-4.4 0.3-3.9-0.9-4.9-1.4-2.5-6.8-6.6-1-1.6 0-1.6 1.9-1.7 2.9-0.9 2.5 0.6 1.6 1.1 14.7 14.8 8.3 11.6 3.4 2.7 6.1 3 3.4 3.3 0.7 1.6 0.1 5.8 0.8 2.5 1.5 1.6 4.6 3.3 1.1 1.6-0.3 1.7-2.5 4.1-0.3 2.5 4.6 14.8 1.9 3.3 2.9 3.2 2.5 1.6 3.3 0.6 1.3-0.5 0.6-1.6-0.9-5.8-1.2-3.3-3.1-4.1-5.5-14.8 0.2-1.7 2.9-4.1 0-1.6-6-6.6-4.2-9.9-9.6-12.3-7.4-8.2-7.1-5-0.9-1.6-1.2-4.9-6.4-8.8-1.7-0.5-6.6 1.9-7.4-1.2-1.3 1.2-2.8 6.6-1.6-1.2-7.4-11.4-1.7-1.6-1.6-0.5-4.1 1.8-2 2.1-0.3 1.7 1.8 10.7-1.2 1.3-2.4-0.3-1.3 2.3 0.1 1.6 1.2 1.4 5.7 0.2 2.5 1.2 0.5 1.3-1.3 1.4-4.1 1.5-2 2.9 0.7 1.6 4.3 4.2-0.8 6.5 2.1 5 0.1 3.3-1.2 0.9-4.1-1.2-1.8 4.4 1 2 2.5 1.2 1.6-0.6 2.5-2.5 1.6 0 2.4 1.5 0.5 1.7-0.5 1.6-1.5 1.3-5.8-0.8-4.4 4.4 0 1.7 2.2 2.4 0.6 1.7-1.6 9-0.9 0.9-2.5 0.7-0.4 0.9-1.6 17.3-0.2 25.5-1.2 7.4-2.6 9M653.8 1389.3l-6.5-1.9-6.6-1-9.3-3-4.5-2.4-3.5-4.1-5.8 2-3.2-0.2-3.3-0.9-4.7-2.6-0.9-1.6 0.3-1.7 1.2-1.6 2.4-1.5 5 0.1 5.7 2.2 4.1 3.6 5-1.4 7.4 1.3 7.8 2.2 5.3 2.8 8.3 2 4 2.6 0.5 2.5-1.9 2.5-2.6 0.6-4.2-0.5M622.3 1346.4l2.8 0.6 1.7-0.6-0.7-0.8-1.9-0.4-3 0.4 1.1 0.8M532.9 1343.9l0-6.1M587.2 1335.1l-1.6-1 0.1-0.9 2.3-1.5 1.1 0.7 0 0.8-1.9 1.9M684.3 1314.3l-51.5-59.2-0.6-1.6 1.9-3.2 1.6-1.5 3.3-1.5 2.5 0.7 42.8 49.1M579.4 1312.7l1.2 0.2 1.1-2.7 0-1.6-1.8-1.7-1.7-0.3-1.3 1.2-0.1 1.6 0.7 1.6 1.9 1.7M574.6 1297.1l0.3 0.5 0.4-0.5-0.4-1-0.3 1M684.3 1280.7l-28.7-33.8-4-5.8-0.1-1.6 0.7-1.4 4.6-4.4-2.2-22.2M532.9 1270.4l6.6-3.5 2.3-3.6 1.2-5.7 2.6-23 2.1-8.8 1.7-2.2 1.6-0.9 2.5-0.1 1.6 0.5 1.7 1.3 1.1 1.9 2.3 7.4 2.4 16.5 0.1 9.8-2.2 7.4-2.1 4.1-2.4 3.5-2.5 0.8-4.1-1.7-2.5 1.7-1.3 4.8 0 8.2 1.1 9.1 1.7 7.4 1.8 4.7 3.3 3.6 1.6 3.2 2.2 8.2 3.6 20.8 0.8 2.4 0.8 0.9 0.9-0.2 1.6-2.5 0.8-3.8 1.8-20-0.5-5 1.9-4.9-1.3-4.1-0.7-9.1 0-9.8 0.9-5-1.2-7.4-0.5-11.5 0.8-3.3 5-11.5 1.3-4.9 1.2-11.5 0.7-23.1M684.3 1261.4l-2-1.4 2 3M594.6 1211.5l1.7 1.3 1.7-1.3M629.6 1211.5l-1.3 8.9-2.4 4.5-2.5 1.3-2.5 0-6.5-3.3-1.7 2-2.5 6.6-1.6 0.8-6.6 1.2-2.6 1.9-0.4 2.4 1.1 1.7 1.9 1.2 5 1.8 0.8 1.1-3.6 14-0.3 3.3 1.4 1.2 5.8-0.1 3.3 0.8 2 1.4 2.1 2.3 0.8 0.1 4.9-2.2 2.5 0.9 10.7 10.6 6.6 8.2 21.4 23.7 4.3 8.2 4.5 4.1 2.2 3.3 0.2 0.8-0.6 0.5-3.2 0.4-2.7 1.6-1.4 2.4 0.1 2.5 5.1 17.3 4.2 10.7 0.9 5.7 1.2 0.6 4.1-0.5M676.3 1211.5l4.7 3.8 3.3 1.2" stroke="#21918c"/><path d="M546.7 1405.6l1-1.6 0.6-2.5-0.2-5.7-2-6.3-2.5-2.1-1.6 1-0.8 1.6-1 5.8 0.4 5.7 2.1 4.1M584.1 1405.6l4.6-18.9 1.3-17.3-0.2-12.3-0.9-5.8 1-5.7-1-1.7-2.9-2.4-0.4-4.1-1.7-1.6-0.8 0-1.1 1.6-0.1 6.5-3.8 9.1-1.3 10.7 0 28.8-0.9 5.7-2.5 7.4M631 1405.6l2.3-4.6 0.7-4.4 8.5-4.1 1-1.7-0.9-1.6-3.9-2.5-10.4-3.8-5.7-3-5.8 0-8.2-1.8-2.5 0-1.1 2 0.7 3.3 2.1 2 7.1 3 2 1.6 4 10 3.9 5.6M660.9 1404l2 0.6 1.6-0.6 1.7-2.3 1-3.5 0.7-7.4-0.7-6.6 1.3-7.4-0.4-2.4-1.1-1.7-5.8-2.2-9-0.3-4.9-3.9-13.2-2.6-6.6-0.1-5.4-3.2-11-3-2.3-1.1-1.8-1.7-0.9 0.4-1.2 7.9 0.2 2.4 1.1 1.7 6.5 0.8 25.5 6.7 9.9 1.9 5.4 2.9 9.1 3.3 2.5 1.6 0.6 1.7-0.5 1.6-1.1 1.7-2 1.4-3.3 0.4-9.1-1.2-2.4 0.6-1.4 1.2 0.7 2.5 2.2 2.5 12.1 7.4M664.2 1363.7l2 0.1 1.6-1.3 0.3-2.1-0.6-3.3-1.3-3-3.3-3.6-3.3-11.1-1.6-3-1.7-1.2-1.6 1.1-2 2.7-0.4 1.7 0.2 2.4 5.9 15.6 2.8 3.4 3 1.6M642.6 1353.8l2 0 1-0.7 0-1.8-6.6-10.1-0.8-0.5-2 4.1-0.5 4.1 0.9 1.6 1.9 1.7 4.1 1.6M684.3 1337.8l-0.9 0.2-0.8-0.6-4.6-8.3-2-2.1-1.6-0.7-1.6-0.1-1.7 0.7-1.3 1.4-0.5 2.5 0.6 3.3 8.6 24.5 2.5 3.2 3.3 0M635.4 1334.1l0.3 0.4 0.7-0.4-2.4-8.3-6.4-9.8-3-3.3-3.7-1.7-3.3-0.1-7.1 4.3-1.2 2.4-0.1 2.5 0.9 2.5 2.2 2.4 2.9 1.6 3.3 0.5 7.4-1.8 2.4 0.1 2.5 2 4.6 6.7M581.6 1332.4l1.5 0.5 5.8-3.7 3.7-0.9 1.2-2.4-0.6-1.7-3.5 2.9-5-1.6-2.4 0.6-2.3 2.2-0.6 1.7 2.2 2.4M562.5 1331.6l1.1-0.8 1-4.1 1.7-22.2-1.9-20.6-1-3.4-0.9-1.2-0.8-0.2-2.5 2.8-1.7 4.5-1.3 5.7-0.2 5 0.6 7.4 2.6 15.5 1.7 7.9 1.6 3.7M655.4 1331.6l0.9 0.6 1.7-0.4 1.8-1.8 0.5-1.7-0.8-1.6-7.5-9.1-1.3-4.9-1.6-3.3-14.6-18.1-8-5.8-2.6-6.5-4.6-6.3-1.7-1.5-1.6-0.2-10.7 2.7-0.9 2 0.4 1.6 4.6 2.3 8.2 8 17.8 21 7.7 4.5 4.1 3.7 0.6 1.6-0.5 5 0.8 2.7 1.6 1.8 5.7 3.7M580.1 1320.9l1.4 0.7 1.6-0.1 3.3-3.8 6.6 2.7 1.6-5.4 5.8 1.6 2.4-0.4 1.7-0.8 2.2-2.7 1.3-6.6 2.2-4 0.3-1.7-0.3-3-1.5-3.6-6.7-6.3-1.6-0.7-1.4 0.4-2.7 3.7-4.3-2.9-0.6-1.6 2.6-4.1-0.3-2.5-1.5-1.4-2.6-0.3-3.2-3.6-1.7-0.7-1.1 1.1-0.1 4.9-1.5 4.1 6.2 3.3 0.5 0.8-2.1 2.5-5.1 1.9-1.3 2.2 0.6 1.6 4.3 3.3-0.9 7.4 2.1 5 0.3 3.3-0.2 1.4-0.8 0.9-3.3-1.6-1.7 0.1-1.3 2.4 0.2 1.7 0.6 0.8M684.3 1315.1l-48.6-56-2.4-2-1.7-0.6-5.7 1.7-0.5-11.3-1-3.3-1.8-2.7-3.3-2.1-4.1-1.1-2.8-2.3-3-1.4-4.9-0.3-3.7 1.7-0.5 2.4 2.5 2.3 4.2 0.7 5.1-0.5 1 0.8-4.1 15.7 0.2 2.4 6.8 2.8 3.3 2.2 4.9-1.9 1.7 0.9 11.5 12.3 6.6 8.2 20.8 22.4 2.5 3.3 3.6 6.6 11.3 10.7 2.1 5.4M579.3 1311.9l1.3-0.4 0.6-2.1-1-1.6-2-0.4-0.9 2 0.8 1.6 1.2 0.9M592.2 1309.5l-0.6-2.6 0.6-1.8 0.8 0.5 0.5 2.2-0.5 2.2-0.8-0.5M589.7 1299.6l0-0.6 0.9 0.5-0.9 0.1M684.3 1281.3l-35.3-41.8-0.1-0.8 1.4-2.5 0.3-5.8-0.9-10.7-1.5-8.2M532.9 1253.7l2.8-2.7 2.2-5 1.4-7.3 0.5-8.3-0.4-6.5-1.4-5-2.6-3.3-2.5-0.9M563.6 1211.5l-1 6.6 0.8 10.3 1.6 8.5 0.8 2.1 1.7 1.1 1.6-2.2 1.5-6.6 0.8-19.8M636.6 1211.5l-0.4 12.4 1.2 7.2 3.2 5.1 5.5 4.1-3.4 4.9-0.2 1.7 0.6 1.6 19.8 24.1 21.4 24" stroke="#1f958b"/><path d="M653.8 1397.4l3.3 0.7 2.5-0.6 1.5-1.7 0-1.7-2.4-1.6-3-0.9-3.5-0.3-1.8 0.3-0.8 0.9 0.1 1.8 1.7 1.8 2.4 1.3M631.2 1393.3l3.7-0.1 3-0.7 1.9-1.7 0-1.6-3.1-2.5-9.2-3.2-7.4-1.2-9-2.5-3.4 0.3-0.4 0.9 0.3 1.6 1.8 1.7 3.3 1.3 5.8 1.1 6.6 5.4 6.1 1.2M581.8 1388.4l1.3 0.2 0.8-0.9 1.7-3.5 1.9-11.5-0.1-14.8-1-2.8-1.7-1-2.4 1-1.2 1.2-1.8 5.7-0.3 10.7 0.4 5.8 1.2 7.5 1.2 2.4M661.7 1381l2-0.1 1.4-0.8 1.3-3.3-0.9-3.2-2.6-1.8-4.1-0.9-7.4 0.8-4.1-4.3-11.6-2.8-4.9 0.2-3.1 2.2 0.4 2.4 3.3 2.5 10.1 2.7 8.2-0.6 2.2 2.8 2.1 1.7 7.7 2.5M618.6 1368.6l4 0.1 2.4-1.7-0.3-2.5-1.7-2.5-2.9-1.6-4.9-1.2-4.1 0-2.1 1.2-0.9 2.5 1.2 2.4 3.5 1.7 5.8 1.6M663.7 1362.9l1.7 0.1 1.6-1 0.4-2.4-0.4-2.5-1.6-2.9-4-3.7-0.4-5.7-2.2-6-1.7-2-1.6 0-2.5 3 0.2 4.1 1.5 3.5 3.1 4.8 0.3 4.1 0.9 2.4 2.2 2.8 2.5 1.4M641.7 1353l2.5 0 0.7-1.7-2.6-4.3-1.6-1.8-1.7-0.8-1.6 1.8-0.3 2.7 1.5 2.4 3.1 1.7M584.4 1349.7l1.2 0.3 1.7-2.8-0.4-1.6-2.2-1.2-0.8 0.7-0.5 2.1 1 2.5M684.3 1346.6l-2.9-8.4-4-8.2-3-2.6-1.6-0.1-1.7 0.8-1.2 2.7 0.4 3.3 5.2 13.1 2.3 8.3 1.5 3.1 1.7 1.6 1.6 0.3 1.7-0.4M580.9 1330.8l1.4 0.8 1.6-0.3 2.8-2.2 0.1-1.6-2.1-1.3-2.1 0.5-2.2 2.4 0.5 1.7M655.1 1330l1.2 0.4 1.7-0.3 0.8-1-0.1-1.6-5.7-7-1.6-1.4-1.7-0.3-1.6 2.7 0.1 3.5 2 2.5 4.9 2.5M615.7 1325.8l2.8 0.6 2.4-0.2 8.6-3.6-0.5-2.5-1.8-3.3-3.8-3.8-3.3-1.2-2.5 0.3-3.8 2.2-1.6 1.7-1 2.4 0.3 3.3 1.6 2.5 2.6 1.6M581.3 1320.9l1.8-0.2 1.3-2.3-1.3-1.5-1.6-0.5-0.9 0.4-0.8 1.6 0.3 1.7 1.2 0.8M588.9 1317.6l1.6 0.4 1-0.4 0.7-1.6 0-2.5-1.5-5.7 0-5-1-1.2-2.5-1.1-1.6 1.1-1 4.5 2.2 5.8 0.7 4.1 1.4 1.6M684.3 1316.1l-29.9-35.5-17-19.4-2.5-2.2-2.4-1.1-1.7 0.1-2.2 1.2-1.4 2.5 0.7 2.5 14.4 17.3 23.1 24.2 6.5 10 8.3 6.9 2.4 1.4 1.7 0M647.2 1315.2l1.7 0 0.6-1.7-0.5-2.5-1.3-2.4-4.6-5.5-4.1-3.9-5-7.9-8.1-5.8-3.4-7.4-3.2-4.3-1.7-1.4-1.6-0.4-4.1 1.2-2.5 1.7-0.6 1.6 1.4 2.5 8.3 8 4.3 5.9 10 10.7 3 4.2 11.4 7.4M598.3 1314.3l2.1 0.3 1.6-0.4 2.5-2.2 1.3-2.6 1.2-6.2 2-3.7-0.4-2-2.5-4.4-2.4-2.5-1.7-0.9-1.6 0.5-1.2 3.6-4.6 4.2-1.5 3.2 2 10.7 1.2 1.4 2 1M579.3 1311l0.6 0 0.6-1.6-1.5-1.4-0.8 0.5-0.2 0.9 1.3 1.6M561.7 1310.2l0.8-0.1 1.6-5.6-1-8.3-0.6-1.8-0.8-0.8-0.8 0.8-0.4 1.8-0.1 6.6 0.3 4.1 1 3.3M583.6 1297.9l2 0.6 3.3-1.1 4.1-0.7 1.3-2.1 0-1.7-0.7-1.6-1.4-1.4-1.7-0.6-4.1 2-4.1 1.1-1.3 1.4-0.1 1.6 2.7 2.5M587.2 1285.5l2.4-0.8 0.4-2.4-2.8-2.8-1.6-0.2-1.3 2.1-0.4 1.9 1 1.4 2.3 0.8M684.3 1281.8l-13.7-16.8-18.4-21.1-3.3-2-1.6 0.3-1.9 1.4-1.6 2.5-0.2 1.6 2.1 4.1 18.8 22.4 19.8 21.9M603.4 1239.5l2.7 0.5 2.5-0.6 1.8-1.6-0.2-1.6-1.6-1.3-1.6-0.5-4.2 0.5-1.5 1.3-0.2 0.8 0.8 1.7 1.5 0.8" stroke="#1f9a8a"/><path d="M653.6 1394.9l1.9 0.5 1-0.5 0-0.8-1.2-0.8-2.1 0-0.4 0.8 0.8 0.8M631.5 1391.6l4.2-0.2 1.7-1 0.2-1.2-2.8-2.5-4.8-1.6-3.3-0.3-2.1 1.1-0.1 1.6 1.4 1.9 2.4 1.4 3.2 0.8M611.1 1382.6l1.6 0.7 1.2-0.7-2-0.9-0.8 0.9M658.1 1379.3l3.1 0.5 2.5-0.8 1.2-3-1.1-2.4-1.7-1.3-2.5-0.7-3.3 0.2-2.6 0.9-1 1.7 0.4 1.6 1.4 1.7 3.6 1.6M638.4 1373.6l3.9 0.3 2.5-0.5 2.2-1.5 0.4-0.8-0.1-1.7-2.3-1.6-7.6-2.4-4.1-0.2-2.5 1.1-0.9 1.5 0.8 2.5 2.5 1.6 5.2 1.7M618.6 1367.8l2.3-0.2 1.8-1.5 0-2.4-1.2-1.7-2.2-1.2-3.3-0.8-3.3 0.3-1.5 0.9-0.6 2.5 1.2 1.6 3.4 1.7 3.4 0.8M663.3 1362l2.1 0.1 1-0.9 0.4-1.6-0.4-2.5-1-1.9-1.7-1.4-3.3-0.8-1.2 1.6 0.1 3.3 1.5 2.5 2.5 1.6M641.3 1352.2l2.2 0 0.3-1.7-2.3-3.4-1.6-0.9-0.7 0.2-1 1.7 0.3 1.6 1.3 1.6 1.5 0.9M658.1 1349.7l0.7 0.1 1.1-0.9 0.6-1.7-0.1-2.4-1.6-5-0.8-1.2-1.7-1-1.6 0.7-0.9 1.1-0.5 2.9 2.2 5.2 2.6 2.2M684.3 1350l-2.7-5.2-1-5.8-2.5-6.6-2.9-3.5-1.6-0.7-1.7 0.3-1.4 2.3 0.4 4.1 2.7 6.9 2.9 4.6 0.8 5.8 1 3.3 2.7 3.5 1.6 0.3 1.7-0.7M581.6 1330l1.5 0.5 1.3-0.5 1.2-1.7-0.4-0.8-1.3-0.4-1.3 0.4-1.1 1.4 0.1 1.1M653.9 1328.3l2.8 0 0.3-0.8-0.8-1.7-4-4.7-1.7-0.6-0.8 0.3-1 1.8 0.3 2.4 1.5 1.8 3.4 1.5M615.7 1325l2.8 0.8 2.4-0.3 2.9-1.3 3.3-2.5 0.4-1.6-0.4-1.7-2.9-3.8-2.4-1.4-2.5-0.4-3.3 1.2-2.4 2-1.3 2.4 0.1 2.5 1.2 2.5 2.1 1.6M581 1320.1l1.3 0.2 0.8-0.6 0.4-1.3-0.6-0.8-1.4-0.4-0.9 0.6-0.2 1.5 0.6 0.8M684.3 1317.8l-3.3-5.1-11-12.3-15.1-19-15.9-18.1-3.3-3.1-2.4-1.3-1.7-0.1-2.2 1.2-0.9 1.7 0 1.6 1.8 3.3 12.8 15.5 22.8 23.2 6 9.3 8.3 6.6 2.4 0.7 1.7-1.3M588.8 1316l0.9 0.4 0.8-0.4 0.5-1.7-1-9.8-1.1-2.4-1.7-0.6-1.6 1.3-0.6 3.3 3.8 9.9M597.7 1312.7l1.9 0.5 2.4-0.7 2.1-2.3 0.9-2.4 0.5-4.2-0.3-4.1-1.5-2.8-1.7-0.8-4.1 1.3-2.5 2.3-0.8 1.7-0.2 1.6 1.3 7.4 2 2.5M645.2 1312.7l2.1 0.6 0.6-0.6 0-1.7-1.2-2.4-4.4-5.1-4.2-3.1-2.3-5.8-2.3-3.3-1.9-1.7-4.4-2.4-2.7-2.5-2.9-6.6-2.3-3.3-1.7-1.4-1.6-0.5-2.5 0.6-2 1.4-0.9 2.4 1.3 2.5 2.5 2.7 4.9 3.5 2.8 5.3 3.8 4.8 4.1 4.1 4 2.6 3.4 5.2 7.8 4.7M583 1297.1l2.6 0.6 5.7-1.7 1.5-1.4-0.1-2.5-2.2-1.7-7.4 2.2-1.8 2 0.7 1.6 1 0.9M586.3 1283.9l1.1 0 0.4-0.8-0.6-1.1-0.8-0.3-0.9 1.4 0.8 0.8M684.3 1282.3l-12.5-15.7-18-20.6-4.1-3-1.6 0-2.2 1.4-1.2 1.7-0.2 2.4 2.8 5 17.2 20.5 19.8 21.6M603.2 1238.7l3.8 0.4 1.6-0.9 0.5-1.2-0.5-1-1.6-0.9-3.3 0.1-1.7 1.8 1.2 1.7" stroke="#1f9f88"/><path d="M631.1 1390l3.1 0 0.9-0.8-0.2-0.8-3.3-1.8-3.5 0.1-0.3 0.8 0.3 0.9 3 1.6M658.2 1378.5l3 0.2 1.7-1 0.5-2.5-1.1-1.6-3.5-1.3-2.5 0.3-1.5 1-0.5 0.8 0.3 1.6 1.6 1.7 2 0.8M637.2 1372.7l3.5 0.5 2.4-0.3 1.5-1 0.7-1.6-1.2-1.7-1.3-0.8-4.4-1.7-4.3-0.2-2.1 1.1-0.6 1.6 0.8 1.7 5 2.4M615.3 1366.1l2.3 0.7 2.5-0.2 1.3-1.3 0-1.6-1.3-1.6-1.8-0.9-2.3-0.4-2.2 0.4-1 0.8-0.3 1.7 1.2 1.6 1.6 0.8M662.9 1361.2l2.5 0 0.8-1.6-0.2-1.7-1.5-2.5-1.6-1-1.7 0-1 1.1-0.2 2.4 1.2 2.1 1.7 1.2M684.3 1352.3l-1.7-3.2-3.3-2.3-0.8 0.9-0.6 2.8 1.1 5 1.2 1.8 1.6 0.9 1.6-0.4 0.9-1M640.4 1350.5l1.1 0.7 0.8 0 0.4-0.7-0.4-1.1-1.6-1.4-1 0.9 0.7 1.6M657.7 1348.1l1.1-0.2 0.6-0.7 0.3-3.3-1.6-4.1-1.8-1.3-1.9 1.3-0.5 2.5 1.6 4.1 2.2 1.7M677.4 1344.8l1.1 0.4 1.1-2.1 0.2-3.3-0.7-3.3-1.2-3.3-1.9-2.6-1.6-1.3-1.6-0.1-1.1 0.8-0.7 1.6 0.5 4.1 2.9 6.3 3 2.8M652.6 1326.7l1.5 0 0.4-0.9-0.2-0.8-2.1-2.5-1.7-0.3-0.8 1.2 0.4 1.6 2.5 1.7M617.8 1325l4-0.4 2.8-2 1.3-1.7 0.3-1.6-1-2.5-3.4-2.7-2.5-0.4-1.7 0.4-2.4 1.5-1.6 2-0.4 2.5 0.8 2.5 1.7 1.6 2.1 0.8M680.7 1320.1l1.9-0.3 0.6-1.4-1.6-4.1-19.1-22.2-8.6-11.5-16.5-18.6-3.3-2.2-1.6-0.2-1.7 0.5-1.5 2.4 0.6 2.5 12.4 15.9 23.8 23.6 7.5 10.7 4.1 3.4 3 1.5M581.4 1318.4l0.1 0.6 0.8-0.6-0.9 0M588.6 1312.7l0.3 0.5 0.8-0.5-0.3-8.2-1-1.7-1.2-0.5-1.4 1.3-0.4 2.5 3.2 6.6M598.8 1311.9l1.6 0 1.6-0.9 1.7-2.3 0.7-2.6 0-3.3-0.7-2.6-1.7-2-1.6-0.5-1.7 0.4-1.6 1.2-1.4 1.9-0.4 1.6 1 6.6 1 1.6 1.5 0.9M645.1 1311l0.6 0 0.1-1.6-3.5-4.5-2.4-1.6-1.7-0.3-0.8 0.4-0.2 1.9 1 1.8 6.9 3.9M631.9 1300.4l2.2 0.3 1.4-1.2 0.2-3.3-1.4-3.3-3.2-3.2-9.3-5.3-0.6 1.1 0.2 2.5 1.7 4.1 5.2 6.1 3.6 2.2M582.7 1296.2l2 0.9 5.8-1.9 0.9-0.6 0.4-1.7-0.5-0.9-1.6-0.5-6.1 1.4-1.3 0.9-0.3 0.8 0.7 1.6M619.9 1283.9l1.2 0 0.3-2.5-0.4-2.4-1.2-2.5-3-2.5-1.6-0.1-2 1-1.3 2.4 0.9 2.5 3.2 2.8 3.9 1.3M684.3 1282.9l-12.7-16.3-16.9-19.4-2.5-2.2-2.5-1.3-1.6 0.2-1.7 1-1.2 2-0.2 1.6 0.9 2.5 2.2 3.3 16.4 19.4 19.8 21.3M603.4 1237.8l2.7 0.7 1.4-0.7 0.4-0.8-0.9-1.1-2.5-0.2-1.1 0.5-0.4 0.8 0.4 0.8" stroke="#20a386"/><path d="M659.2 1377.7l2.4-0.9 0.4-0.8-0.6-1.6-1.8-1.1-2.8 0.3-0.9 0.8 0.2 1.6 1 1 2.1 0.7M636.5 1371.9l5 0.5 1.1-0.5 0.9-1.6-1-1.7-3.2-1.6-2.7-0.5-2.7 0.5-0.9 0.8 0 1.6 1.7 1.7 1.8 0.8M615.9 1365.3l1.7 0.4 1.7-0.3 0.5-1.7-2.1-1.7-2.5 0.1-0.9 1.6 1.6 1.6M662.8 1360.4l1.9 0 0.6-0.8 0.1-1.5-1.1-1.8-2.2-0.8-1.1 0.8-0.2 1.6 2 2.5M680.3 1356.3l1.5 0.8 0.8-0.2 0.8-0.7 0.4-1.6-1.2-3.8-2.4-1.5-1.3 1.2-0.2 1.7 0.6 2.4 1 1.7M656.7 1346.4l1.7 0 0.6-2.5-1-3.2-1.7-1.2-1.5 1.2-0.3 1.6 0.8 2.5 1.4 1.6M675.8 1342.3l1.9 0.5 0.8-0.9 0.5-2.1-0.5-3.3-2.5-4.9-1.6-1.3-1.6-0.1-0.9 0.8-0.4 1.4 0.4 3.3 1.7 4 2.2 2.6M617.3 1324.2l3.6 0 2.5-1.6 1.3-1.7 0.3-2.5-2.4-3-1.7-0.7-2.4 0-2.5 1.2-1.5 1.7-0.5 1.7 0.4 2.4 1.4 1.7 1.5 0.8M679.3 1318.4l1.7 0.3 0.9-1.1-0.2-1.6-1.4-2.5-17.9-20.6-9.5-13.1-15.5-17.4-3.3-2-2.8 0.5-1.2 2.4 0.8 2.5 11.4 14.8 23.9 22.7 7 10.2 2.8 2.9 3.3 2M598 1310.2l1.6 0.6 1.6-0.5 2.1-3.4-0.1-4.9-1.2-2.1-1.6-0.8-2.5 0.9-1.7 2.8 0.5 5 1.3 2.4M587.7 1309.4l0.3 0.4 0.8-1.2 0.1-3.3-0.7-1.7-1-0.4-0.8 0.5-0.4 2.4 0.4 1.6 1.3 1.7M629.9 1298.7l2.6 0.8 1.8-0.8 0.7-2.5-1.2-3.3-3.2-3.2-7.2-2.9-0.9 1.2 0.7 3.3 2.9 4.1 3.8 3.3M583.8 1296.2l1.3 0 2.9-1.8 1.7-0.4 0.2-1.1-6.6 0.9-0.5 1.6 1 0.8M684.3 1283.5l-13-16.9-15.8-18.3-5-3.8-1.6-0.1-1.8 0.8-1.3 1.7-0.1 2.5 3.3 5.7 15.5 18.3 19.8 21M615.7 1281.4l2.8 0.7 1.1-0.7 0.5-1.6-1.3-3.3-2.8-1.6-2.1 0.8-0.9 1.6 0.9 2.5 1.8 1.6M604.4 1237l0.9 0.5 1-0.5-1-0.4-0.9 0.4" stroke="#22a884"/><path d="M658.6 1375.2l0.4 0-0.4 0M636.4 1371.1l3.5 0.6 1.6-0.6 0.4-0.8-0.9-1.7-1.6-0.8-3.7-0.4-1.4 1.2 0.1 0.8 2 1.7M662.4 1358.7l1.3 0.7 0.6-0.7-0.6-1.6-1.5 0 0.2 1.6M680.9 1355.5l1.3 0 0.6-1.7-0.6-1.6-1.2-1.2-1 0.3-0.3 1.7 1.2 2.5M656.3 1344.8l0.8 0.4 0.9-0.4 0.1-0.9-0.2-1.6-1.6-1.5-0.8 0.6-0.2 0.9 1 2.5M675.1 1340.7l1.8 0.7 0.8-0.7 0.3-3.3-2-4.8-2.4-1.5-1.4 1.3 0 2.5 1.4 3.8 1.5 2M617 1323.4l3.1 0.4 3-2.1 1-2.4-0.5-1.7-1-1.2-1.7-0.9-2.4 0-3.1 2.1-0.7 1.7 0.2 1.6 2.1 2.5M678.3 1316.8l2 0 0.1-1.6-0.9-1.7-11.3-11.5-7-9.3-5.3-8.8-8-9.9-10.5-11.2-3.3-1.8-2.5 0.6-0.7 1.7 0.6 2.5 10.8 14.5 18.9 17.5 6.3 5 5.6 9.1 2.8 3.3 2.4 1.6M599.2 1309.4l1.2 0 1.1-0.8 1.2-3.3-0.5-3.3-1.8-1.6-2.2 0.8-1.1 2.4 0.5 4.2 1.6 1.6M587 1306.9l0.2 0.4 0.8-0.3 0.1-0.9-0.9-1.7-0.5 0.9 0.3 1.6M629.6 1297.9l2 0.7 1.9-0.7 0.7-2.5-0.9-2.5-3.4-3.2-4-1.7-1.8 0-0.8 1.7 0.8 2.4 2.6 3.4 2.9 2.4M584.7 1294.6l0 0M684.3 1284.1l-13.2-17.5-15.6-18-2.5-2.2-2.5-1.4-1.6 0-1.6 0.9-1.1 1.8-0.1 1.7 1 2.4 2.1 3.3 15.3 18.1 9.3 9.1 10.5 11.5M616.7 1280.6l1.8-0.6 0.2-1-1.1-2.2-1.6-0.7-1 0.4-0.7 1.6 0.9 1.7 1.5 0.8" stroke="#26ad81"/><path d="M637.4 1370.3l2.3 0 0.1-0.9-1.3-0.8-1.7 0-0.4 0.8 1 0.9M675.6 1339.8l0.9 0 0.7-0.8-0.2-3.3-1.8-2.9-1.6-0.6-0.8 1.2 0.1 2.3 1.5 3.2 1.2 0.9M617 1322.6l2.3 0.6 2.8-1.5 1-2.4-1.3-2.5-2.5-0.7-3 1.5-0.8 2.5 1.5 2.5M677 1314.3l0.7 0.4 0.7-0.4-0.7-1.2-1.9-1.2 1.2 2.4M599.2 1307.8l1.2 0 1.3-2.5-0.5-2.5-0.8-0.8-1.7 0.5-0.5 1.1 0 2.5 1 1.7M629.2 1297.1l2.4 0.6 1.3-0.6 0.6-1.7-0.7-2.5-1.2-1.6-2.4-1.6-2.5-0.9-1.8 0-0.7 0.9 0.5 2.4 2 2.9 2.5 2.1M659.3 1293.8l0.6 0-0.2-1.7-2.5-5.7-9.6-12.4-10.2-10.8-2.5-1.4-2.4 0.2-0.9 2.2 0.9 2.4 9.8 13.4 12.4 10.8 4.6 3M684.3 1284.7l-5.4-6.6-7.4-10.7-15.2-17.7-4.9-3.9-1.7-0.4-1.7 0.7-1.3 1.6 0 2.5 3.4 5.7 14.4 17 9.9 9.4 9.9 10.8" stroke="#2cb17e"/><path d="M675.1 1338.2l0.9 0 0.3-1.7-0.5-1.6-1.4-1.3-0.7 0.5-0.1 1.3 1.5 2.8M617.2 1321.7l2.1 0.7 1.7-0.7 1.1-2.4-0.9-1.7-1.9-0.6-2.5 1.3-0.4 1.8 0.8 1.6M628.8 1296.2l2 0.7 1.6-0.7 0.3-1.6-0.5-1.7-1.2-1.6-1.8-1.2-2.5-0.7-1.2 0.3-0.5 1.6 0.6 1.6 3.2 3.3M657 1291.3l1.1-0.8-1.4-4.1-8.6-11.5-9.9-10.7-2.5-1.6-2.5-0.1-0.9 1.7 0.7 2.4 9.3 13.1 5.8 5.2 6.6 5.1 2.3 1.3M684.3 1285.5l-5.8-7.1-7.2-11-15-17.4-4.9-3.8-1.7-0.2-1.6 0.7-1.1 1.8 0.1 1.7 3.2 5.7 15.1 17.6 9 8.1 9.9 10.7" stroke="#32b67a"/><path d="M617.9 1320.9l1.4 0.5 1.1-0.5 0.5-1.6-0.5-0.9-1.1-0.3-1.2 0.3-0.6 0.9 0.4 1.6M628.6 1295.4l1.4 0.7 1.6-0.5 0-2.6-2.4-2.4-2.5-0.5-0.8 0.6 0 1.4 2.7 3.3M654.1 1288.8l2.2 0.8 0.5-0.8-0.7-2.4-2.4-4.1-5.2-6.6-10.3-11.1-2.5-1.5-2.2 0.2-0.5 1.7 1 2.4 8 11.6 3.6 3.6 8.5 6.2M684.3 1286.6l-6-7.6-6.6-10.7-14.7-17.3-3.2-3-2.4-1.4-1.7-0.1-1.6 0.9-0.7 2 0.3 1.6 3.5 5.8 14.2 16.5 9.6 8.1 9.3 9.9" stroke="#3bbb75"/><path d="M628.5 1294.6l1.5 0.5 0.8-0.3 0.1-1.9-1.6-1.6-1.8-0.4-0.8 0.4-0.1 0.8 1.9 2.5M654.3 1288l1.1 0 0.2-0.8-0.8-2.5-7.9-10.7-8.7-9-2.5-1.3-1.6 0.3-0.3 1.8 0.6 1.6 7.9 11.7 5 4.4 7 4.5M683.2 1288l0.4 0-0.4 0M682.2 1287.2l0.4 0.4 0.5-0.4-5.4-7.8-3.9-7.8-4.3-5.8-14.8-16.8-3.3-2-2.5 0.4-0.9 1.1 0 2.5 3.5 5.8 14.7 17 4.1 3.6 4.9 3.3 7 6.5" stroke="#44bf70"/><path d="M628.2 1292.9l1 0.9 0.4-0.9-1.3-0.8-0.1 0.8M652.4 1286.4l1.4 0.4 0.7-0.4-0.7-2.5-6.4-9-8.4-8.9-2.4-1.5-1.7 0.1-0.5 1.2 0.5 1.6 7.4 11.4 4.1 3.8 6 3.8M673.5 1279l2.5 0.5 0-2.2-1.6-4.1-3.8-5.8-15.1-17.4-3.3-2.4-1.7-0.3-1.1 0.4-1.1 1.7 0 1.6 2.7 4.9 14.4 16.8 4.1 3.7 4 2.6" stroke="#4ec36b"/><path d="M652.6 1285.5l0.8-0.8-0.5-1.6-6.4-9.1-7.5-7.5-1.6-1.1-1.7-0.2-0.5 1.4 0.7 1.7 6.4 10.2 4.1 3.7 6.2 3.3M673.3 1278.1l1.5 0 0.4-0.8-0.2-1.6-1.4-3.3-3.2-5-14.9-17.1-3.3-2.3-2.5 0.1-1 1.3 0 1.6 2.6 4.9 14.1 16.5 4.1 3.7 3.8 2" stroke="#58c765"/><path d="M649.9 1283.9l2.3 0.3 0.1-1.1-4.2-6.6-6.6-7.4-3.3-2.7-1.6-0.4-0.6 0.6 0.4 1.7 5.3 9 3.1 3.3 5.1 3.3M672.9 1277.3l0.7 0 0.8-0.8-0.4-2.5-4.5-7.4-14-16.1-3.3-2.1-2.5 0.3-0.7 1.5 0.2 1.6 2.3 4.1 13.9 16.2 4.1 3.6 3.4 1.6" stroke="#63cb5f"/><path d="M649.5 1283.1l1.7 0 0-0.8-3.9-6.6-5.8-6.2-2.5-2-1.6-0.6-0.5 0.5 0.4 1.7 4.6 8.2 2.9 3 4.7 2.8M672.4 1276.5l1.2-0.8-0.4-2.5-1.6-3.3-3-4-13.1-15.1-3.3-2-2.4 0.6-0.4 1.6 0.4 1.6 2.4 3.8 13.2 15.4 4.1 3.5 2.9 1.2" stroke="#6ece58"/><path d="M649.2 1282.3l0.7 0 0-1.7-3.5-5.6-4.9-5.1-3.3-1.8 0.7 3.5 3.4 5.9 3.3 3.1 3.6 1.7M671.4 1275.7l1.4-0.3 0-2.2-3.3-5.9-14-16.2-2.5-1.7-2.5 0-0.5 0.8-0.1 1.6 2.2 4.1 13.3 15.6 3.2 2.8 2.8 1.4" stroke="#7ad151"/><path d="M646.3 1280.6l1.8 0.7 0.8 0 0.3-0.7-1.9-4.1-5-5.5-2.4-1.6-0.9 0.4 0.7 2.6 1.8 3.5 2.5 3 2.3 1.7M670.5 1274.9l1.4-0.1 0.4-1.6-1.3-3.3-2.3-3.3-13.2-15.1-3.3-1.9-1.7 0.6-0.1 2.4 2 3.3 13 15.3 2.4 2.2 2.7 1.5" stroke="#86d549"/><path d="M645.6 1279.8l1.7 0.7 0.8-0.1 0.3-0.6-1.5-3.3-4.6-5.1-1.6-0.9-0.8 0.2 1.8 5 3.9 4.1M669.8 1274l1.5 0 0.3-1.6-3-5.4-13.1-15.2-2.5-1.6-1.6 0-0.7 1.6 1.5 3.5 13.1 15.4 4.5 3.3" stroke="#95d840"/><path d="M645 1279l2.3 0.7 0.1-1.6-0.8-1.6-3.5-4-1.6-1-0.8 0 0.8 3.4 3.5 4.1M669.1 1273.2l1.2 0.3 0.7-1.1-0.7-2.5-1.7-2.5-13.1-15.2-2.5-1.5-1.6 0.3 0 2.5 1.6 2.4 12.4 14.5 3.7 2.8" stroke="#a2da37"/><path d="M644.6 1278.1l1.8 0.8 0.3-0.8-1.9-3.5-1.7-1.6-1.6-0.6 0 1.4 0.8 1.8 2.3 2.5M668.5 1272.4l1.7 0 0.1-0.8-2-4.2-12.8-14.8-1.7-1.2-1.6-0.1-0.5 1.3 1.1 2.5 12.5 14.8 3.2 2.5" stroke="#b0dd2f"/><path d="M644.4 1277.3l1.2 0.5 0-1.3-1.6-2.1-1.7-0.7 0.6 2 1.5 1.6M668 1271.6l1.5 0 0.1-0.9-1.7-3.3-12.4-14.3-1.7-1.2-1-0.1-0.6 0.8 1 2.5 12.2 14.4 2.6 2.1" stroke="#bddf26"/><path d="M667.8 1270.7l0.9-0.8-1.7-2.9-11.9-13.5-1.3-0.9-0.8 0.3 0.8 2.3 11.6 13.7 2.4 1.8" stroke="#cae11f"/><path d="M666.7 1269.1l0.6 0-0.3-1-9-10.2-0.3 0.5 1.1 1.6 7.9 9.1M657 1257.6l0.6 0-0.5-0.6-0.1 0.6M656.3 1256.8l0.4 0-0.4-0.6 0 0.6" stroke="#d8e219"/></g>
</g>
<path d="M535.90 1315.97L535.87 1312.08L535.95 1308.20L536.14 1304.30L536.44 1300.42L536.83 1296.53L537.32 1292.64L537.89 1288.76L538.54 1284.89L539.26 1281.02L540.04 1277.16L540.89 1273.32L541.79 1269.49L542.73 1265.67L543.72 1261.86L544.74 1258.08L545.80 1254.31L546.87 1250.56L547.99 1246.83L549.18 1243.10L550.43 1239.38L551.78 1235.65L553.24 1231.91L554.84 1228.18L556.66 1224.61L558.80 1221.36L561.36 1218.64L564.38 1216.57L567.74 1215.18L571.28 1214.46L574.91 1214.38L578.59 1214.82L582.33 1215.66L586.10 1216.80L589.90 1218.10L593.72 1219.46L597.54 1220.83L601.37 1222.23L605.18 1223.65L608.98 1225.10L612.75 1226.60L616.48 1228.15L620.17 1229.75L623.81 1231.42L627.39 1233.17L630.90 1234.99L634.33 1236.91L637.68 1238.92L640.93 1241.03L644.07 1243.26L647.11 1245.60L650.02 1248.08L652.81 1250.68L655.46 1253.43L657.97 1256.32L660.34 1259.33L662.57 1262.45L664.66 1265.69L666.61 1269.04L668.42 1272.48L670.08 1276.01L671.60 1279.61L672.98 1283.29L674.21 1287.04L675.29 1290.84L676.23 1294.69L677.02 1298.59L677.66 1302.51L678.15 1306.46L678.49 1310.43L678.68 1314.42L678.72 1318.40L678.61 1322.38L678.34 1326.34L677.92 1330.29L677.34 1334.21L676.61 1338.09L675.72 1341.92L674.67 1345.71L673.46 1349.43L672.10 1353.09L670.57 1356.67L668.89 1360.18L667.04 1363.59L665.03 1366.90L662.86 1370.10L660.52 1373.19L658.02 1376.16L655.35 1379.01L652.52 1381.71L649.54 1384.27L646.42 1386.68L643.17 1388.93L639.80 1391.02L636.33 1392.94L632.77 1394.68L629.14 1396.23L625.43 1397.59L621.67 1398.76L617.87 1399.72L614.04 1400.47L610.19 1401.00L606.34 1401.30L602.49 1401.37L598.66 1401.20L594.86 1400.79L591.11 1400.12L587.41 1399.19L583.79 1398.00L580.24 1396.53L576.78 1394.78L573.43 1392.75L570.19 1390.46L567.07 1387.93L564.08 1385.19L561.22 1382.27L558.50 1379.19L555.93 1375.98L553.52 1372.67L551.27 1369.28L549.19 1365.83L547.28 1362.32L545.52 1358.76L543.92 1355.15L542.48 1351.50L541.19 1347.80L540.05 1344.07L539.05 1340.31L538.19 1336.52L537.48 1332.70L536.90 1328.87L536.45 1325.01L536.13 1321.14L535.93 1317.26Z" fill="none" stroke="#dd22dd" stroke-width="1.2"/>
<rect x="527.40" y="1205.40" width="162.10" height="206.60" fill="none" stroke="#666" stroke-width="0.9"/>
<circle cx="646.61" cy="1239.83" r="1.3" fill="#000"/>
<circle cx="649.48" cy="1242.04" r="1.3" fill="#000"/>
<circle cx="652.25" cy="1244.36" r="1.3" fill="#000"/>
<circle cx="654.78" cy="1246.66" r="1.3" fill="#000"/>
<circle cx="657.36" cy="1249.23" r="1.3" fill="#000"/>
<circle cx="659.81" cy="1251.91" r="1.3" fill="#000"/>
<circle cx="662.02" cy="1254.53" r="1.3" fill="#000"/>
<circle cx="664.23" cy="1257.42" r="1.3" fill="#000"/>
<circle cx="666.32" cy="1260.39" r="1.3" fill="#000"/>
<circle cx="668.30" cy="1263.46" r="1.3" fill="#000"/>
<circle cx="670.14" cy="1266.62" r="1.3" fill="#000"/>
<circle cx="671.78" cy="1269.67" r="1.3" fill="#000"/>
<circle cx="673.38" cy="1272.97" r="1.3" fill="#000"/>
<text x="559.25" y="1423.40" font-family="Liberation Sans" font-size="8.8" fill="#222" text-anchor="middle" textLength="12.30" lengthAdjust="spacingAndGlyphs" >2.2</text>
<text x="592.15" y="1423.40" font-family="Liberation Sans" font-size="8.8" fill="#222" text-anchor="middle" textLength="12.30" lengthAdjust="spacingAndGlyphs" >2.4</text>
<text x="625.05" y="1423.40" font-family="Liberation Sans" font-size="8.8" fill="#222" text-anchor="middle" textLength="12.30" lengthAdjust="spacingAndGlyphs" >2.6</text>
<text x="657.95" y="1423.40" font-family="Liberation Sans" font-size="8.8" fill="#222" text-anchor="middle" textLength="12.30" lengthAdjust="spacingAndGlyphs" >2.8</text>
<path d="M527.40 1218.10h-2.2M527.40 1251.00h-2.2M527.40 1283.90h-2.2M527.40 1316.80h-2.2M527.40 1349.70h-2.2M527.40 1382.60h-2.2M559.25 1412.00v2.2M592.15 1412.00v2.2M625.05 1412.00v2.2M657.95 1412.00v2.2" stroke="#444" stroke-width="0.8"/>
<text x="608.45" y="1432.60" font-family="Liberation Sans" font-size="8.8" fill="#222" text-anchor="middle" textLength="21.50" lengthAdjust="spacingAndGlyphs" >R [m]</text>
<text x="608.45" y="1200.60" font-family="Liberation Serif" font-size="12.7" fill="#000" text-anchor="middle" font-weight="bold" textLength="41.80" lengthAdjust="spacingAndGlyphs" >33.75°</text>
<g clip-path="url(#clipC3)">
<g fill="none" stroke-width="0.95" stroke-linejoin="round"><path d="M860 1346.8l0-1.4 0 1.4M860.8 1344.9l0-2.1 0.4 0.3-0.4 1.8M861.6 1342.7l-0.3-0.4 0.3-1.8 0 2.2M862.4 1340.3l0-1.8 0 1.8M863.3 1337.4l0 0" stroke="#471063"/><path d="M856.7 1355.6l0-2.6 3.3-10.2 6.6-16.1 0 3-3.3 10.7-5 13.1-0.8 1.6-0.8 0.5" stroke="#481769"/><path d="M855.9 1356.4l0-2.6 4.1-12.3 5.7-15 1.7-2.2 0.8 0.7 0 1.1-5.8 18-4.1 10.8-1.6 1.8-0.8-0.3" stroke="#481d6f"/><path d="M855.9 1357.5l-0.7-1.2 0.3-2.5 5.3-15.6 4.9-12.8 1.7-2 0.8 0 0.6 1.6-0.3 1.7-6.1 18.4-4.1 10.7-1.6 1.7-0.8 0" stroke="#482475"/><path d="M855.9 1358.4l-1-1.3 0-2.5 3.4-10.4 7.2-19.2 1.1-1.6 1.6-0.9 0.9 0.9 0 2.4-4.2 13.2-6 16.5-1.4 2.1-1.6 0.8" stroke="#472a7a"/><path d="M855 1358.8l-0.5-1.7 0.1-2.5 4.6-13.5 6-16.1 1.4-2.2 1.6-1 1.1 0.8 0.1 3.2-6.1 18.7-5 12.6-1.6 1.7-1.7 0" stroke="#46307e"/><path d="M855 1359.6l-0.9-1.7 0.3-3.3 6.4-18.8 4.9-12.4 1.7-1.9 1.6-0.2 0.8 1.4-0.1 3.1-7.3 21.7-4.1 10.1-1.6 1.8-1.7 0.2" stroke="#453781"/><path d="M854.2 1359.7l-0.4-2.6 0.5-3.3 8.1-23.1 3.3-7.8 1.7-1.9 1.6-0.5 1.2 2.1-0.4 3.8-9.8 28.4-1.7 3.3-1.6 1.8-1.7 0.5-0.8-0.7" stroke="#433e85"/><path d="M854.2 1360.6l-0.8-2.7 0.5-3.3 6.1-17.9 4.9-12.9 2.5-3.3 1.6-0.7 0.8 0.5 0.7 1.4-0.3 4.1-7.8 23-4.1 9.8-2.4 2.4-1.7-0.4M840.2 1336.4l0-1.7 0.4 0.2-0.4 1.5" stroke="#414487"/><path d="M854.2 1361.5l-1-2.8 0.4-4.1 8-22.9 4.1-9.8 2.5-2.5 1.6 0 1 2.3-0.3 4.1-9.7 28.1-3.3 6.3-1.6 1.3-1.7 0M831.2 1360l0-1.7 0.8-1.1 0.4 1.5-0.4 1-0.8 0.3M839.4 1338.5l-0.7-1.1 0-1.7 0.7-1.8 1.7-1.4 0.9 0.7-0.1 2.3-0.8 1.9-1.7 1.1M847.6 1313.4l0.9-2.1 0 2-0.9 0.1M825.4 1307l0-2.5 0.9-0.6 0.8 0.3 0 2.5-0.8 0.6-0.9-0.3" stroke="#3e4989"/><path d="M854.2 1362.4l-1.2-2 0.1-4.1 5.2-16.2 6.6-17.3 2.5-3.4 2.4-0.8 1.3 2.3-0.4 4.9-6.6 19.6-4.9 12.8-2.5 3.3-2.5 0.9M830.4 1361.6l-0.4-1.2 0.4-2.5 1.6-2.2 1-0.2 0.7 1.6-0.9 3-1.6 1.9-0.8-0.4M839.4 1339.9l-0.8-0.5-0.5-1.2 0.2-3.3 1.4-2.5 2.2-1.1 0.9 1.1-0.2 2.5-1.5 3.7-1.7 1.3M818.8 1328l0-0.8 0 0.8M846.8 1315.2l0-3.4 0.8-1.5 1.7-0.9 0.6 1.6-0.6 2.9-1.7 1.9-0.8-0.6M825.4 1308.1l-0.9-1.2 0.1-2.1 0.8-1.4 1.7-0.3 0.9 1.4-0.1 1.9-0.8 1.4-1.7 0.3M827.1 1279.8l0 0" stroke="#3c4f8a"/><path d="M830.4 1363.2l-1-2 0.5-3.3 1.3-2.4 2.5-1.3 0.8 1.3-0.8 4-1.7 3-1.6 0.7M854.2 1363.2l-0.8-0.5-0.6-1.5-0.2-3.3 3.3-11.3 8.9-24 2.6-3.7 2.4-1.1 0.9 0.5 0.7 1.8 0 3.3-4.8 15.6-7.4 19.7-2.5 3.4-2.5 1.1M809.8 1353l-0.4-1.7 1.2-1.8 0.8 0.6-0.1 1.2-1.5 1.7M838.6 1340.8l-1.2-2.6 0.4-3.3 2.4-3.8 2.5-0.8 0.8 2.1-1 4.1-2.3 4.1-1.6 0.2M818 1330.2l-0.8-0.7 0.1-2 0.8-1.7 1.6-0.6 0.6 1.5-0.4 1.6-1.1 1.6-0.8 0.3M846.8 1316.9l-0.9-2.6 0.6-3.3 2-2.5 1.6-0.1 0.5 1.8-0.6 3.3-1.5 3.1-0.9 0.5-0.8-0.2M825.4 1308.9l-1.1-1.1-0.3-2.5 1.3-2.5 1.8-0.4 1.1 1.2 0.2 2.5-1.3 2.4-1.7 0.4M827.9 1282.3l-2.7-2.5-0.6-1.9 1.7-0.1 2.2 2 0.7 2.5-1.3 0M841.9 1265.9l-0.7-0.9 0.7-0.8 1.4 1.6-0.6 0.7-0.8-0.6" stroke="#3a548c"/><path d="M829.5 1363.9l-0.7-2.7 0.9-4.1 2.3-3.2 2.5-0.8 0.6 0.7 0 1.7-1.4 5.1-2.5 3.6-0.8 0.2-0.9-0.5M853.4 1363.8l-1.2-3.4 0.6-4.9 8.8-25.5 4.1-9.5 2.5-2.8 1.6-0.7 0.9 0.3 0.8 1.4 0.3 2.2-0.7 4.9-10.3 29.7-1.6 3.7-2.5 3.4-1.7 1.2-1.6 0M809 1354l-0.5-1.8 0.5-2.1 0.8-1.3 1.6-0.7 0.9 1.6-0.5 2.5-1.2 1.7-1.6 0.1M838.6 1342.1l-0.8-0.8-0.9-2.5 0.8-4.7 2.5-3.7 1.7-1 1.6 0 0.5 3-1.3 4.8-2.5 4.4-1.6 0.5M817.2 1331.1l-0.8-2 0.6-2.4 1-1.8 1.7-0.9 0.8 0.5 0.4 1.3-0.3 2.5-1.8 2.6-1.6 0.2M846.8 1318.3l-1.3-2.3 0.2-4.1 1.9-3.5 2.5-1.3 0.8 0.6 0.3 1.7-0.8 4.1-1.9 4.2-1.7 0.6M825.4 1309.6l-1.6-1.6-0.2-2.7 1-2.5 1-0.8 1.5-0.2 1.6 1.8 0.1 2.5-1.1 2.5-2.3 1M829.5 1284.2l-5.1-4.4-0.8-1.7 0.2-1.3 1.6-0.2 3.3 2.5 1.9 4-0.2 1.2-0.9-0.1M842.7 1267.7l-2.6-2.7-0.5-1.7 0.6-0.8 2.5 1.2 1.8 2.1 0.4 1.6-0.6 0.7-1.6-0.4M809.8 1262.6l-2.5-1.7-0.8-1.7 0.5-0.8 1.2 0.1 1.6 1.5 0.8 1.7-0.8 0.9" stroke="#375a8c"/><path d="M830.4 1365.4l-1.3-0.9-0.6-1.6 0.5-5 1.4-2.8 1.6-1.9 1.7-1 1.6-0.2 0.5 2.6-1.3 5-2.5 4.9-1.6 0.9M853.4 1365.2l-0.8-0.9-0.6-2.3 0.2-4.9 5.3-16.3 7.4-19.4 3.3-4.3 2.5-0.9 0.8 0.9 0.5 2.2-0.3 4.9-6 18.2-6.5 17.2-3.3 4.4-2.5 1.2M809 1355.2l-1.1-1.4 0.3-3 1.6-2.9 1.6-0.8 0.9 0.4 0.5 1.4-0.2 2.4-1.8 3.3-1.8 0.6M789.2 1345.9l-0.1-2 1-1.4 0.8 0.5-0.1 0.9-0.7 1.6-0.9 0.4M838.6 1343.5l-1.1-1.2-0.9-2.5 0.4-4.9 2.4-4.5 1.7-1.4 2.4-0.9 0.8 0.4 0.4 1.5-1.2 5.8-2.4 5.6-1.7 1.9-0.8 0.2M817.2 1332.1l-0.8-0.6-0.5-1.5 0.6-3.3 1.5-2.7 1.7-0.9 0.8 0.2 0.9 1.7-0.4 3.3-1.3 2.6-0.9 0.8-1.6 0.4M797.5 1323.1l-0.7-1.4 0.4-1.6 1.1-1.7 0.8-0.3 0.6 1.2-0.3 1.6-1.1 2-0.8 0.2M846.8 1319.8l-0.8-0.7-1-2.3 0.3-4.9 2.3-4.3 1.7-1.2 1.6-0.2 0.9 2.4-0.9 4.7-2.4 5.5-1.7 1M825.4 1310.2l-1.9-1.6-0.2-3.3 1.3-3.1 2.5-1 1.7 1.6 0.4 3.3-1.3 2.9-2.5 1.2M806.5 1298.2l0-1.2 0 1.2M830.4 1285.8l-6.5-6-1-1.7 0.1-2 0.8-0.5 1.6 0.3 4.1 3.6 2.5 5.2 0 0.9-0.8 0.5-0.8-0.3M844.3 1269.2l-2.4-1.4-2-2-1.3-2.5 0.4-1.6 1.2-0.2 1.7 0.8 2.7 2.7 1.4 3.3-0.6 0.8-1.1 0.1M809.8 1263.6l-1.7-1.1-2.2-2.5-0.3-1.6 0.6-0.8 2 0.1 2.9 3.2 0.5 2.4-1.8 0.3M826.3 1248.6l-2.7-1.7-0.6-2.2 0.8-0.3 2.1 1.7 0.9 1.6-0.5 0.9" stroke="#355f8d"/><path d="M850.9 1372.4l-0.3-1.3 1.3-5.8 0-7.4 3.1-10.6 9.1-24.7 3.3-5.3 3.3-2.5 0.8 0.4 0.8 2.4-0.1 5-4.8 15.6-7.4 20.3-2.5 4.2-3.7 4.3-2 4.8-0.9 0.6M830.4 1366.4l-1.6-1.1-0.7-1.6-0.2-2.5 0.8-3.6 1.7-3.3 1.6-1.8 4.1-2 0.5 0.8-0.1 2.5-2 6.6-2.5 5-1.6 1M808.2 1355.7l-0.9-2.7 0.9-3.4 1.6-2.5 1.6-0.8 0.9 0.1 0.8 1 0.3 1.5-0.9 4.1-1.9 2.6-1.6 0.5-0.8-0.4M788.4 1347.4l-0.5-1.8 0.5-2.3 1.2-1.8 1.3-0.7 0.9 1.5-0.5 2.5-1.2 2.1-1.7 0.5M838.6 1345.1l-0.8-0.4-1.6-4-0.2-2.5 0.7-3.3 2.7-5.1 4.9-3.2 0.9 0.6 0.1 1.1-1 5.9-3.2 8.1-2.5 2.8M816.4 1332.6l-1-2.6 1-4.2 1.6-2.5 2.5-0.9 1.1 1 0.4 1.6-0.7 3.7-2.5 3.7-1.6 0.6-0.8-0.4M797.5 1324.4l-0.9-0.2-0.4-0.8 0-2.5 1.3-2.8 1.6-1.3 1.1 0.8 0.1 2.5-1.2 2.9-1.6 1.4M846 1321l-1.6-5 0.8-4.8 2.4-4.3 1.7-1.3 2.5-0.7 0.5 1.2 0 1.7-1.4 6.6-2.4 5.4-1.7 1.6-0.8-0.4M824.6 1310.7l-1.6-2.1 0.1-4.1 1.5-2.8 2.5-1 1.1 0.5 1.1 1.6 0 4.1-2.2 3.4-2.5 0.4M805.7 1300.4l-0.6-1.7 0.6-2.4 2.5-3.5 0.8-0.9 0.7 0.2-2.4 7.2-1.6 1.1M831.2 1287.4l-8.4-8.4-0.9-2.5 1.1-1.6 3.3 0.9 4.1 4.1 2.9 6.5-0.5 1.2-1.6-0.2M855.9 1281l-1.9-2 0.2-1.7 1.7 0.8 0.8 1.2 0.2 1.3-1 0.4M844.3 1269.9l-2.6-1.6-2.9-3.3-1.1-2.5 0.5-1.6 1.2-0.3 1.7 0.6 4.1 3.8 1.4 2.4 0.2 1.7-0.8 1-1.7-0.2M809.8 1264.3l-2.5-1.8-2-2.5-0.4-1.6 0.8-1.6 1.6-0.1 1.7 0.9 3.2 4.1 0.5 1.6-0.4 1.2-2.5-0.2M825.4 1249.4l-3.2-3.3-0.4-1.7 0.5-0.8 2.3 0.4 3.2 3.7 0.1 1.9-0.8 0.3-1.7-0.5" stroke="#32648e"/><path d="M821.3 1377.1l-0.9-1.1 1.6-1.6 2.6-0.6 2 0.6-0.3 1.6-1 0.8-2.3 0.6-1.7-0.3M850.1 1374.5l-0.8-0.9-0.1-1.7 1.9-6.6 0.7-8.2 4.9-15.1 8.2-21.5 4.7-6.2 1.9-3.6 1.3-0.5 0.5 1.7-0.7 3.3-0.3 8.2-6.6 20.1-6.5 17.1-4.4 6.4-2.3 5.7-1.6 1.7-0.8 0.1M829.5 1367.3l-1-1.2-1-2.4 0.5-5 2.4-5 5.3-4.8 1-1.7-1.1-7.4 0.5-4.1 2.5-5.6 6.2-5.9 0.2-2.5-1.1-5.7 1-5 2.7-4.8 5.8-4.7 0.6 2.1-2.2 9.1-1.7 4.9-3.5 6.6-1.3 7.4-1.8 5.9-5.3 10.6-1.9 8.2-2.6 7-2.5 3.7-1.7 0.3M808.2 1356.7l-1.3-2.1 0.5-4.1 2.4-4.1 2.5-0.9 1 0.9 0.5 1.7-0.7 4.4-2.5 3.8-2.4 0.4M787.6 1348.2l-0.4-2.6 1-3.3 1.9-2.3 1.6-0.2 0.6 2.5-1.2 4.1-1.9 2.2-0.8 0.2-0.8-0.6M816.4 1333.5l-1-1.1-0.4-1.6 0.7-4.1 2.3-4.2 2.5-1 0.8 0.4 0.9 1.5-0.4 4.9-2.1 4.1-1.7 1.2-1.6-0.1M796.6 1325.4l-1.1-2 0.4-3.3 1.6-3.1 1.6-1.2 0.8 0 1.1 1.8-0.5 3.3-1.4 3-1.6 1.5-0.9 0M824.6 1311.4l-1.4-1.2-0.6-1.6 0.4-4.7 1.6-2.8 1.7-0.8 1.6 0.1 1.7 2.4-0.1 4.4-0.8 1.9-1.6 1.8-2.5 0.5M804.9 1301.4l-0.6-1.9 0.8-3.3 3.1-5.2 1.6-0.8 1 1.1 0 1.6-2.6 6-1.7 2.4-1.6 0.1M832 1288.9l-2.5-2-7.2-7.9-1.1-3.3 0.9-1.5 1.7-0.1 2.5 1.2 5 5.3 3.1 6.6-0.3 1.6-2.1 0.1M856.7 1282.5l-1.7-1.1-1.8-2.4-0.6-2.5 0.8-0.6 2.5 1.3 1.6 2.3 0.5 1.9-0.5 1.1-0.8 0M845.2 1270.9l-3.3-1.9-3-3.2-1.9-3.3-0.1-1.6 0.5-0.9 1.2-0.3 2.5 0.9 4.6 4.4 1.5 2.4 0.5 2.5-0.9 1-1.6 0M810.6 1265.3l-2.4-1.5-2.9-2.9-1.1-2.5 0.7-2 1.6-0.5 1.7 0.6 4.1 4.4 1.1 2.4-0.1 1.7-1 0.6-1.7-0.3M827.9 1251l-2.5-0.9-3.3-3.2-1.1-2.5 1-1.6 2.6 0.5 3.4 3.6 1.1 2.5-0.4 1.3-0.8 0.3" stroke="#306a8e"/><path d="M820.5 1378l-1.5-1.2-0.1-0.8 1.4-1.6 4.3-1.6 2.5-0.2 0.8 0.5 0.2 2.1-1.8 2.2-3.3 0.9-2.5-0.3M849.3 1375.7l-0.8-1.3 0-2.3 2-6.8 0.9-7.4 5.3-16.4 8.2-21.5 4.4-6.5 1.4-3.3 1.6-1.6 0.8-0.2 0.9 0.6 0.3 2-1 4.2-0.8 8.2-6.8 20.5-5.4 14.8-4.8 8.3-2.7 6.6-1.9 2.1-1.6 0M829.5 1368.6l-1.6-2-0.8-2.8 0.9-5.9 2.4-4.9 5.1-5.8 0.3-2.4-0.6-5 0.6-4.1 2.8-6.2 4.3-4.5 1-1.6-0.3-8.2 1.6-5.7 1.6-2.9 4-3.8 1.8-3.1 0.8-0.3 1.3 1.8 0.1 2.4-3.9 12.7-3.6 8.7-3 11-5.2 12.1-5.4 16.1-2.5 3.8-1.7 0.6M808.2 1357.4l-1.7-1.9 0.6-5 2.7-4.8 2.5-1 1.7 1.7-0.2 4.9-2.4 4.9-1.6 1.2-1.6 0M788.4 1349.8l-0.8-0.2-1-1.5 0.4-4.2 2.2-4.1 2.5-1.1 0.8 0.7 0.4 1.3-0.4 3.2-1.6 3.8-2.5 2.1M816.4 1334.4l-1.3-1.2-0.5-1.6 1-5.6 2.4-4.2 1.7-1 1.6 0.1 1.5 2.5-0.7 5-2.4 4.6-1.7 1.3-1.6 0.1M795.8 1326.1l-0.9-2.7 0.8-4.1 1.8-3.2 2.4-1.3 0.9 0.4 0.7 1.6-0.7 4.6-2.5 4.3-1.7 0.7-0.8-0.3M824.6 1312.2l-1.6-1.1-0.7-1.7 0.2-4.9 2.1-3.9 1.7-0.8 1.6 0 1.9 2.2 0.1 4.9-2 3.9-1.6 1.1-1.7 0.3M804.9 1302.7l-0.9-0.9-0.3-1.4 0.5-3.3 4-7.4 1.6-0.4 1.6 1.7 0.1 1.9-4.2 8.4-1.6 1.4-0.8 0M832 1289.9l-10.1-10.9-1.4-3.3 0.8-2.2 2.5 0 2.5 1.3 5.5 5.8 2.9 4.9 0.8 2.5-0.2 1.6-0.8 0.7-2.5-0.4M856.7 1283.3l-2.5-2-1.6-2.3-1.2-3.3 0.4-1.1 3.2 1.2 2.8 3.2 1 2.4-0.1 1.7-0.4 0.5-1.6-0.3M846 1271.8l-3.3-1.7-4.3-4.3-2.2-4.1 0.3-2.5 2.1-0.3 2.5 1.1 5.1 5 1.9 3.3 0.6 2.4-0.2 0.9-0.9 0.4-1.6-0.2M810.6 1265.9l-3.3-2.3-3-3.6-0.7-2.4 0.4-1.5 0.9-0.6 1.6-0.2 2.5 1.3 4.3 5.1 1 2.5-0.2 1.6-1 0.7-2.5-0.6M827.9 1251.9l-3.3-1.9-3.3-3.5-0.9-2.9 0.9-1.3 1.7-0.2 1.6 0.7 4 4.1 1.3 2.5 0.1 1.6-0.5 0.8-1.6 0.1" stroke="#2e6f8e"/><path d="M819.7 1378.7l-2-1.9 0.3-1.6 2.2-1.6 6.1-2.3 1.4-1-1.1-6.6 0.4-3.3 2.5-6.8 4.6-5.5 0.8-1.7-0.1-7.4 1.3-5.3 2.5-4.9 4.4-5.4 0.2-8.2 2-6.5 1.6-2.8 3.7-3.9 1.3-3.5 0.8-0.6 0.8 0.2 1.7 2.3 0.1 4.1-7.1 19.7-3.8 12.5-4.6 11.4-5.2 14.9-1.7 3.7-3.1 4.4-0.5 4.1-0.9 1.6-2 1.5-2.5 0.8-4.1-0.4M849.3 1377.1l-1.5-1.9 0.1-3.3 2-6.6 1.9-9.8 4.9-14.5 8.2-21.5 3.7-6 2.1-4.5 1.6-1.7 1.7-0.1 0.8 1 0.3 2-2.2 12.4-7 21.3-5.1 14.1-4.7 9-2.7 6.8-1.7 2.4-2.4 0.9M808.2 1358.1l-1.6-1-0.6-1.6 0.7-5 1.5-3.3 1.6-2.2 1.6-1 1.7 0.1 1.3 1.5 0.3 1.6-0.8 5-2.5 4.7-1.6 1.2-1.6 0M787.6 1350.7l-1.2-1-0.5-1.3 0.5-4.5 2.8-4.9 2.5-1.3 1 0.5 0.7 1.6-0.8 5-2.5 4.8-2.5 1.1M768.7 1335l-0.4-1.8 0.4-1.5 0.8 0.8 0.2 1.6-0.2 0.9-0.8 0M815.6 1334.9l-0.9-0.8-0.6-2.5 1.5-6.5 2.4-4 1.7-1.2 1.6-0.1 1.3 1.1 0.7 2.5-1.2 5.9-1.6 3.3-1.7 1.9-1.6 0.7-1.6-0.3M795.8 1327.2l-0.8-0.7-0.7-2.3 0.9-4.9 2.3-4 1.6-1.3 1.7 0 0.8 0.8 0.4 2-1.2 5.6-2.5 4-1.7 0.9-0.8-0.1M823.8 1312.8l-1.1-0.9-0.9-2.5 0.6-5.8 2.2-3.4 1.7-0.9 1.6 0 1.5 1.1 0.7 1.6 0.4 2.5-0.5 3.3-1.3 2.6-1.6 1.7-1.7 0.8-1.6-0.1M804.9 1303.7l-0.9-0.3-0.8-1.7 0.5-4.6 3.6-7.4 0.9-1 1.6-0.2 2 2 0.2 2.4-4.7 9.2-2.4 1.6M833.7 1291.5l-3.3-2.2-9-10.3-1.7-4.1 0.8-2.3 2.5 0 2.4 1.1 3.3 2.8 3.5 4.1 3.1 4.9 1.2 3.3-0.3 1.7-0.7 0.8-1.8 0.2M858.3 1285l-2.4-1.5-2.5-2.6-4.2-6.9-5.7-2.8-4.9-4.6-3.1-4.9-0.1-3.3 1.5-0.6 2.5 0.7 3.3 2.3 3.3 3.4 2.3 3.2 1.9 4.2 5.7 4.2 2.5 3.2 1.3 4.9-0.5 1.2-0.9-0.1M811.4 1266.9l-4.1-2.9-3.4-4-1-3.2 1.1-1.9 1.7-0.3 2.5 0.9 2.4 2.2 3.2 4 1.1 2.5 0.1 2.4-1.1 0.8-2.5-0.5M827.9 1252.7l-3.3-2.1-3.5-3.7-1.2-2.5 0.6-2.5 1.6-0.5 2.5 0.9 4.5 4.6 1.4 2.5 0.6 2.4-0.7 1.2-2.5-0.3M773.6 1249.6l-1-1.1 0-1.6 1-1.3 1.7-0.1 1.1 1.4-0.2 1.6-0.9 1.1-1.7 0" stroke="#2c738e"/><path d="M819.7 1379.6l-2.5-1.6-0.7-2 2.3-2.4 5.8-2.6 1.9-1.6-0.3-5.7 0.9-5 2.4-5.8 4.6-6.5 0.3-6.6 0.8-4.1 2.6-6.3 4.3-6 0.8-8.2 1.3-5 2.6-5 3.3-4 1.1-4.1 1.4-0.5 1.6 1.2 1.1 1.7 0.7 2.5-0.4 2.5-1.8 4.1-9.5 28.8-9.8 26.4-3.6 7.3-1.2 4.9-1.8 2.3-2.5 1.2-2.4 0.5-3.3-0.4M848.5 1377.9l-1.3-1.9 0.2-4.1 2.3-7.4 1.9-9 5.1-15 8.2-21.5 5.8-11.1 1.6-1.9 1.7-0.2 1.6 2 0 3.3-3.1 13.9-6.4 18.9-5.3 14.5-4.2 8.6-3.2 7.9-2.5 3-2.4 0M808.2 1358.8l-1.7-0.9-0.9-1.6 0.8-5.8 1.8-4 1.6-2.2 1.6-1.1 1.7-0.1 1.6 1.6 0.4 1.7-0.9 5.8-2.8 5.4-1.6 1.1-1.6 0.1M787.6 1351.6l-1.6-1.1-0.7-1.6 0.5-5 1.5-3.2 1.9-2.6 1.7-1.2 1.6-0.1 0.9 0.7 0.4 2.3-0.9 5-2.8 5.6-2.5 1.2M768.7 1336.9l-0.9-1.2-0.3-2.5 0.4-2.1 0.8-0.8 1.4 2.1 0.3 2.5-0.4 1.6-0.5 0.5-0.8-0.1M815.6 1336l-1.2-1.1-0.7-2.5 0.3-3.3 1.3-4.1 1.9-3.7 1.6-1.7 1.7-0.9 1.6 0.2 1.3 2 0.4 2.5-1.6 6.6-1.7 3.3-1.7 1.9-1.6 0.8-1.6 0M795 1327.9l-0.8-1.2-0.4-2.5 1.2-5.8 2.5-4 1.6-1.3 1.7-0.2 1.4 1.4 0.3 1.7-1.5 6.6-2.7 4.6-1.7 1-1.6-0.3M767 1323.8l0-1.6 0.9 1.2 0 0.4-0.9 0M823 1313.5l-1.2-1.6-0.4-2.5 1-6.6 2.5-3.3 2.2-0.8 1.6 0.3 1.3 1.4 0.7 2.4-0.1 3.3-0.6 2.5-2.9 4.2-2.5 1.1-1.6-0.4M804 1304.7l-0.9-1.1-0.5-1.6 0.7-4.9 4-8.6 0.9-0.7 1.6 0 2.5 2.5 0.2 2.6-5.2 10-1.6 1.6-1.7 0.2M832.8 1292.2l-2.4-2-10-12.1-1.6-4.1 0.6-2.4 1.1-0.3 2.5 0.6 4.1 2.6 4.3 4.5 4 5.7 1.7 3.3 0.1 3.3-1.9 1.3-2.5-0.4M862.4 1290.5l-2.8-3.3-5.4-4.7-5.5-7.6-6-3.8-4.5-4.5-3.7-5.7-0.6-2.5 0.3-1.6 1.1-0.3 2.5 0.6 4.9 3.3 4.3 4.6 3.9 6 6.6 6 1.8 2.8 1.8 5.7 2 4.2 0.2 1.1-0.9-0.3M813.9 1268.4l-4.9-2.5-5-5-1.9-4.1 0.3-1.6 0.8-0.9 1.7-0.5 2.4 0.7 2.5 1.9 3.3 3.6 2.1 3.3 1 3.3-0.5 1.7-1.8 0.1M830.4 1254.4l-5-2.6-4.8-4.9-1.4-3.3 0.3-1.6 0.9-0.9 1.7-0.3 2.5 1 5 5.1 2 3.3 0.7 2.4-0.3 1.8-1.6 0M772.8 1250.5l-1.3-2 0.5-2.7 1.6-1.5 2.5 0.2 1.3 2.4-0.5 2.5-1.6 1.3-2.5-0.2" stroke="#2a788e"/><path d="M818.8 1380.2l-3.1-2.5-0.1-2.5 2-1.6 6.7-3.3 1.3-1.7 0.1-4.9 0.9-4.1 2.5-6.6 4.2-6.6 0.8-7.4 1.3-4.9 2.4-5.5 3.8-6 0.9-7.4 1.8-6 1.7-3.5 3.4-4.5 0.8-5 0.7-0.9 0.9 0 2.4 1.7 1.6 2.5 0.5 2.5-0.3 2.5-2.1 4.9-9.6 28.7-12.6 33-1.3 5.5-1.7 2.2-3.3 1.6-3.3 0.4-3.3-0.6M849.3 1379.4l-1.7-0.7-0.7-1-0.4-3.3 5.7-21.4 11.9-32.7 7.4-14.9 0.8-0.9 1.7-0.1 1.9 1.7 0.5 3.3-4.5 18.1-10.3 29.3-7.4 17.5-2.4 3.9-2.5 1.2M807.3 1359.2l-1.6-1.3-0.6-1.6 0.3-3.3 1.1-3.6 3.3-5.9 2.5-1.5 1.6 0.2 1.3 1.7 0.4 2.5-1.7 7.5-1.6 3.3-1.7 1.7-1.6 0.6-1.7-0.3M786.8 1352.5l-1.3-1.2-0.8-2.4 0.8-5.8 3.7-6 1.7-1.2 1.6-0.4 1.3 1 0.5 1.7-1.1 6.6-3.1 6.3-1.7 1.3-1.6 0.1M768.7 1338.3l-1.4-1.8-0.3-2.4 0.6-4.1 1.1-1 1.6 2.7 0.7 4-0.7 2.6-1.6 0M814.7 1336.7l-1.1-1.8-0.4-2.5 1.5-6.8 3.3-6.1 4.1-2.9 0.9 0.6 1.2 4.5-0.2 3.3-1.2 4.1-1.9 4.1-2.1 2.7-2.4 1.2-1.7-0.4M795 1329.3l-1.4-1.8-0.4-2.5 1.3-6.6 3-5 2.4-1.6 1.7 0.1 0.8 0.8 0.6 2.5-1.4 6.7-3.3 6.1-1.7 1.2-1.6 0.1M767.9 1325.9l-2-2.5-0.2-1.7 0.5-1 0.8 0.1 1.7 1.9 0 2.3-0.8 0.9M776.1 1323.4l-1.2-0.8-0.2-0.9 0.6-0.9 0.9 0.1 1.1 1.7-0.4 0.8-0.8 0M823 1315.9l-1.2-1.6-0.8-3.3 0.1-4.1 1-4.1 2.5-3.5 2.5-1.1 1.6 0.1 1.4 1.2 0.8 2.5 0.1 3.3-0.6 3-2.5 4.4-2.5 2-2.4 1.2M803.2 1305.6l-0.8-1.2-0.4-2.4 1.1-5.8 3.8-8.2 1.3-1.1 1.6 0.2 2.6 2.6 0.5 3.2-5.6 10.8-2.4 2.2-1.7-0.3M865.7 1294.6l-3.3-2.3-4-5.1-5-5.1-4.9-6.5-5.8-4.1-4.2-4.1-3.3-4.1-3.5-6.5-6.3-4.5-4.5-4.6-2.3-4.1 0.1-1.6 1-1.3 1.6-0.5 1.7 0.3 3.3 2.2 4.4 5 3.9 6.6 5.6 3.6 3.3 2.8 4 4.3 4.2 5.7 5.8 5.7 2.2 3.4 1.9 4.9 4.2 7.4 0.6 1.7-0.7 0.8M832.8 1293.3l-1.6-1.3-5.4-7.3-5.9-6.6-3.3-7.4-6.8-3.8-6.2-6-2.3-4.1-0.1-1.7 0.9-1.6 2.8-0.5 4.1 2.2 5.7 6.5 3.9 7.4 6.8 3.6 7 7.1 4.7 6.6 1.2 4.1-0.2 1.6-1.2 1.3-1.6 0.3-2.5-0.4M793.4 1274.1l-1.7-0.5-1.3-1.2-0.7-1.7 0.4-1.8 1.6 0 1.8 1.8 0.9 2.5-1 0.9M859.2 1255.4l-2.5-2.1-1.2-2.3 1.2 0 1.9 1.6 1.5 2.5-0.9 0.3M773.6 1251.9l-2.4-1.7-0.5-3.3 0.6-1.7 1.4-1.6 2.6-0.7 2.4 1.9 0.6 2.1-0.1 1.6-1.6 2.5-3 0.9M841.1 1236.5l-3.6-3.6-0.6-1.6 0.9-0.7 1.7 0.7 2.4 2.4 0.9 2.5-0.9 0.6-0.8-0.3" stroke="#287d8e"/><path d="M821.3 1381.8l-3.3-0.8-2.4-1.6-1.3-1.7 0-2.5 1.9-1.6 6.8-3.5 1.6-1.6 1.9-9.8 2.2-5.6 3.8-6.7 2.1-10.7 2.3-6.2 3.9-6.9 1.3-7.4 1.6-5 2.3-5.3 2.9-4.5 0.4-5 0.8-1.1 1.7 0.1 2.4 1.8 1.7 2.5 0.8 3.3-0.6 3.3-1.9 4.1-9 27-12.6 33.9-1.8 7.4-1.3 1.6-2.4 1.6-2.5 0.8-3.3 0.1M848.5 1380.4l-2.2-1.9-0.3-4.1 5.5-19.8 11.8-32.9 8.2-18.3 1.6-0.6 2.9 1.7 1 3.3-4.4 18-10.6 30.5-7.8 19-2.4 4-1.7 1.1-1.6 0M807.3 1359.9l-1.7-1.2-0.9-1.6 0-2.5 1.1-4.1 3.2-6.8 2.4-2.4 2.5-1.2 1.2 1.4 1 3.3-0.2 3.3-1.1 4.1-1.7 4.3-1.7 2.5-1.6 1-2.5-0.1M786.8 1353.8l-1.7-1.2-1.1-2.9 0.6-5.8 1.9-4.1 2.7-3.8 2.5-1.8 1.7-0.3 1.1 1.8 0.3 2.5-1.3 6.6-3.4 7.2-1.7 1.4-1.6 0.4M769.5 1350.1l-1.2-1.2 0.3-1.7 0.9-0.9 1.6-0.2 0.3 2-1.1 1.7-0.8 0.3M769.5 1339.9l-2.3-1.7-0.6-1.7 0.8-9-2-3.7-0.4-2.1 0.4-1.7 0.8-0.8 3.1 3.4 0.3 1.6-0.7 3.3 2.4 6.6 0.3 4.9-0.5 0.9-1.6 0M814.7 1338.9l-1.7-3.2 0-4.9 2.6-8 4.7-7.6 0.3-6.6 1.3-5.8 1.1-2.3 1.6-1.7 2.5-1.1 2.4 0 1.3 1.8 0.5 3.3-0.9 6.3-1.7 3.3-3.7 4.4-0.7 8.2-3 8.3-2.5 3.4-2.4 1.7-1.7 0.5M778.5 1333.8l-0.8-1.4 0.8-1.7 1.1 1.7-0.2 0.9-0.9 0.5M795 1330.9l-1.6-1.3-0.8-2.9 0.1-3.3 1-4.1 2.9-6 2.5-2.3 2.5-1.1 1.3 1.1 0.6 2.5-1 6.6-3.4 7.6-1.6 1.9-2.5 1.3M776.1 1324.2l-2.2-1.6 0.2-1.7 1.2-1.2 1.6 0.6 1.7 2.3-0.5 1.6-2 0M766.2 1316.1l-1-0.9 0.1-1.7 1.7-0.6 0.4 1.4-1.2 1.8M776.1 1314.4l-0.7-1.7 1.5-2.1 0.8 1 0 1.1-0.8 1.4-0.8 0.3M803.2 1307.8l-0.8-0.5-1-2.8 0.5-5.8 4.6-11.5 0.8-0.8 1.7-0.3 1.6 0.8 1.7 1.8 0.9 1.8 0.1 2.4-6 11.7-1.6 1.9-2.5 1.3M866.6 1296.4l-5-3.9-13.1-16.2-5-3.6-5.4-5.3-3.4-4.1-3.6-5.7-6.5-5.5-4.1-4.4-2.5-4.1-0.1-1.6 0.8-1.7 1.8-0.7 1.6 0.1 4.2 2.6 4.2 4.6 4.7 6.6 8.3 6.8 14 15.6 2.2 3.1 7.8 14.8 0.7 2.7-1.6-0.1M834.5 1294.7l-1.7-0.3-1.6-1.2-5.1-7.7-6.6-7.4-3.9-6.5-6.6-4.8-5.9-5.9-3.4-5.8-0.4-1.6 0.6-1.6 1.7-0.5 2.4 0.3 4.2 2.3 5.7 6 5.7 8.3 6.7 4.6 6.5 6.9 4.9 6.6 1.4 4.1 0.1 1.6-0.7 1.7-1.6 0.7-2.4 0.2M869.8 1277.5l0-1.1 1 0.9-0.1 0.7-0.9-0.5M791.7 1275l-2.3-1.8-1.1-2.5 0.3-2.4 1.5-1.5 1.6 0.7 1.7 1.8 2.5 4.7-0.1 1-0.8 0.6-3.3-0.6M870.7 1269.2l-1.7-0.7-1.6-1.6-4.1-6.8-4.1-3.2-4.2-4.3-1.9-3.2 0.3-1.2 1.6 0.3 3.3 2.4 3.2 3.4 3.4 5.2 6.8 4.7 0.9 1.6 0.2 1.6-0.5 1.2-1.6 0.6M772.8 1253l-1.7-1.1-0.9-1.7-0.2-4.1 1.1-2.3 1.7-1.7 1.6-0.7 1.7 0.1 1.6 1.2 1 1.7 0.4 4.1-2.2 3.5-2.5 1.1-1.6-0.1M843.5 1238.8l-2.4-1.2-3.3-3.1-2-3.2 0.3-1.8 2.5 0 3.9 3.4 2.1 4.1-0.3 1.4-0.8 0.4" stroke="#26828e"/><path d="M849.4 1405.6l5.6-9.5 3.3-3.1 2.5-0.8 1.7 1.1 0.9 3.3-0.2 4.1-1.1 4.9M818.8 1382.8l-3.2-1.7-1.9-1.8-1-2.5 0.2-1.6 1.6-1.6 7.9-4.2 1.5-1.6 3.2-11.4 4.9-10.8 3.3-12.7 4.9-11 3.2-11.7 4.7-9.8 0.4-5.8 1.6-1.3 1.7 0.3 2.4 1.9 1.8 2.4 0.9 3.3-0.1 3.3-2.6 5.7-9 26.9-11.9 32.3-1.9 9.1-1.9 2.4-4.1 2.1-3.3 0.4-3.3-0.6M847.6 1381.3l-1.5-1.2-0.8-1.6-0.1-2.5 0.9-4.1 5.2-17.3 6.2-17.9 5.8-15.5 6.5-15.1 0.9-6 5.7 3.3 1.3 2.7-0.5 4.1-3.4 12.4-9.5 27.9-10.1 25.9-1.6 3.2-1.7 1.6-1.6 0.5-1.7-0.4M758 1377.2l-0.4-1.2 0.4-3.5 3.1-8.8 1-5 1.6-1.4 2.5 0.5-0.3 10-5.4 7.6-2.5 1.8M807.3 1360.6l-1.8-1-1.1-1.7 0.1-4.1 3.7-9.6 3.8-5.2 0.2-5.8 0.9-4.1 2.5-7.1 3.5-6.8 2.8-13.2 1.1-2.1 1.6-1.5 6-2.2 0.6 0.8 0.4 5-0.5 5.8-1.6 3.9-3.5 5.9-1.3 7.4-2.6 7.3-1.6 3.2-3.9 5.2-0.2 6.5-1.7 6.1-3.3 6.4-1.6 1-2.5-0.1M768.7 1357.4l-0.8-0.3 0.9-3.3-2.1-5.7 0.7-1.7 2.4-2.5 0.3-1.6-3.5-3.3-0.7-1.6 0.8-9.1-2.2-5.7 0.5-5-1.1-3.3 0.5-1.6 1.8-1 1.4 0.2 0.7 0.8-1.2 5.7 2.9 4.2-0.4 4.9 2 5.7 1.4 6.6 0.2 7.4-3.2 5.8 0.2 3.3-0.5 0.8-1 0.3M785.1 1355.5l-1.9-5.8 0.8-6.6 3.6-6.3 4.2-5.2 0.2-7.4 1.7-6.6 2.4-4.9 4.1-4.9 0.9-8.3 4.6-12.3 1.2-1.7 2.1-0.1 2.4 1.7 1.7 2.4 0.7 2.6-0.3 1.7-2.7 4.1-3.5 7.7-2.6 3.8-0.7 5.8-1.2 4.9-2.9 7-4.3 6.1-0.6 7.5-3.3 9.4-3.3 4.6-1.6 1.2-1.7-0.4M777.7 1335l-0.8-2.9 0.8-2.4 0.8-0.7 1.8 1.8 0.4 2.4-1.3 2.2-1.7-0.4M776.9 1325.4l-3.8-2.8 0.3-1.7 1.9-2.3 0.8 0 4.1 4-0.4 1.6-1.3 1.4-1.6-0.2M775.3 1315.6l-0.9-2.4 1.7-5.4-3.3-4.2 0.8-5.9 2.6 5.9 2.6 8.3-0.4 1.6-1.5 2-0.8 0.5-0.8-0.4M869.8 1299.6l-8.2-6.2-12.3-15.5-9.9-8.6-4.6-5.1-4.8-6.6-9.9-9.9-3-4.9 0-1.7 0.9-1.5 1.7-0.7 2.4 0.3 4.2 2.7 9.3 10.7 8.7 8.1 12.4 13.7 3.5 4.6 8.1 14.8 1.6 4.1-0.1 1.7M764.6 1297.4l-0.7-1.2 0.7-1.2 0.8 0.2 0.3 1-0.3 1.1-0.8 0.1M831.2 1296l-1.9-4.7-2.9-4.9-7.4-8.3-3.8-5.7-7.9-6.7-9-9.7-4.8-1.7-0.9-0.8 0-2.5 3.2-15.1 1.7-4.3 2.4-3 1.8 0.2 1.3 4.1 0 5.8-1.4 6.5 0.8 3.3 8.2 7.4 9.4 11.5 9.5 8.3 9.4 11.5 1.3 4.9-0.8 2.4-2.5 0.9-5.7 0.6M874 1284l-4.2-4.1-1.6-2.5-0.1-2.5 0.8-2.5-0.5-1.7-6.4-9.8-9.6-10.7-1.4-2.5 0-1.6 2.4 0.2 3.3 2.1 9 8.8 6.6 4.2 2.4 2.8 0.9 2.4-0.3 2.5-3.7 4.1 3.6 9.9-0.4 1.3-0.8-0.4M792.5 1276.7l-3.3-1.1-1.3-1.6-0.8-2.4 0.5-3.7 0.8-1.5 1.7-1.2 2.4 2 4.6 7.7 0.2 0.8-0.7 1.1-4.1-0.1M772 1254.5l-1.7-1.5-1-2-0.2-4.9 1-2.5 1.9-2.7 2.4-2.5 1.7-0.8 1.6 1.4 1.7 3.5 0.9 3.6-0.2 2.4-0.9 2.5-2.3 2.4-2.5 1.2-2.4-0.1M844.3 1240.6l-4.1-2.8-4.1-4.7-1.3-2.7 0.5-1.9 1.6-0.4 2.5 0.8 4.4 4 1.9 3.3 0.7 2.5-0.4 1.9-1.7 0M862.1 1211.5l-3.8 5.4-2.4 1.8-2.5 0.7-1.6-0.5-1.4-1.6-0.6-2.5 0-3.3" stroke="#24868e"/><path d="M739.4 1405.6l-0.7-2.4 0.1-3.3 1.9-6.5 5.8-7 4.1-7.3 9.9-24.7 0.8-0.9 3.3 0.5 1.4-1-1.2-4.9 3.3-5-3-4.9 1-9.9-1.9-4.9-0.1-5.8-1.3-4.1 0.9-1.8 3.3-1 1.7 0.9 0.6 1.1-1.5 4.1 0 1.6 0.9 1.7 2.4 2.5-1.1 4.1 0.2 1.6 4 11.5 0.8 7.4-2.5 4.1-0.4 1.7 1.5 4.9-0.9 1.7-3 2.4 0.3 5-1.6 5.7-9.2 14-6.2 14.7-2.4 2.6-5-0.3-3.2 1.9M813.1 1405.6l0.8-8.6 2.3-10.3-0.8-2.5-4.2-5.7-0.1-3.3 1.3-1.6 8.6-4.2 2.3-2.4 3.8-11.3 4.1-10.1 2.9-9.9 5.3-14 3.7-11.5 4.5-10.7 0.2-5.7 1.5-1.2 1.6 0.1 3.3 2 2.3 3.2 0.8 4.1-0.5 3.3-2.3 4.9-20.5 58.4-1.1 4.1-0.8 8.3-5.7 5.7-5.1 10.8-5.3 8.1M845.5 1405.6l3.8-8.2 4.4-7.4 1.3-1.1 4.2-1.4 2.3-1.6 5.9-7.7 1 9.3 0.1 5.8-0.8 5.7-1.8 6.6M793.4 1382.4l0-1.1 0 1.1M783.5 1359.8l-1.1-1.1-0.5-1.6 0.5-3.3-0.3-5.7 0.8-5.8 7.3-11.5 1.2-7.4 1.6-5.8 2.5-5.7 3.2-5 1.8-7.4 3.6-9 1.3-5 1.1-1.1 2.5 0.2 2.4 1.9 1.7 2.3 1 2.5-0.2 2.5-2.8 4.1-5.5 12.3-1.5 6.6-2.5 7.4-5 9.9-1.5 7.4-3.4 9.5-4.9 8.5-1.7 0.8-1.6-0.5M878.1 1356l-5.8 9.5 0-3.4 5.8-18.3M779.4 1337.6l-2.5-1.9-0.6-1.6 0.2-2.5 1-3.3-0.3-1.6-5.2-4.1 2.7-5-1-4.1 1.3-4.9-0.7-1.7-2.7-3.3 0.3-7.4 0.9-1.3 0.8 0.1 1.1 1.2 4.7 14 0.2 2.5-2.5 4.1 0.2 1.6 2.1 2 3.3 0.3 1.1 1-0.3 1.7-2.5 1.7-1.2 1.6 2 6.5-0.8 3.4-0.8 1.2-0.8-0.2M726.7 1331.1l10.2-15.9 3.6-7.4 4.3-11.6 0.8-1 0.9 0.1 0.8 2.4 0.3 5.1-1.4 6.6-15.4 28.3-4.1 6.4M878.1 1308.7l-9.5 30.3-14.4 38.7-1.6 3.4-1.7 1.8-1.6 0.3-1.7-0.4-2.4-1.8-0.7-1.7 0.7-5.7 11.9-36.2 12.2-31.3 0.2-4.1-1.5-2.5-7.5-6.6-11.2-14.3-9.9-8.9-20.4-22.8-3-4.9-0.1-1.7 1.1-1.6 1.8-0.7 1.7 0 4.1 2.1 20.6 21.1 10.7 11.6 4.2 5.3 11.5 20.6 6.5 4.8M765.4 1305.4l-2.1-0.9-0.4-0.9 0.2-3.2-0.8-1.7-3.5-2.4-0.3-0.9 1.7-4.1-1.1-5.8 2.3-9 2.3-6 1.7-2.1 1.6-0.9 0.9 0.5 0.2 1.1-0.7 6.6 1.7 9.8-0.5 1.7-3.9 3.3 0.1 0.8 2.2 2.5 0.6 1.6-1 5 1.1 4.1-0.7 0.7-1.6 0.2M878.1 1290.3l-10-11.3-0.9-2.5-0.6-5.8-5.1-9-9.2-10.7-4.7-6.4-5.7-4.6-5-5.1-2.5-3.6-0.6-2.5 0.7-1.3 2.4-0.5 2.5 0.7 2.5 1.6 4 4.4 3.2 7.4 1.3 1.7 6.3 4.5 8.2 7.1 3.3 1.4 1.6-1.2 4.5-8.5 3.8-15.2M787.6 1286l-0.8-1.2-1.2-5 0-9.1 1.6-4.1 2.9-3.7 0.8 0.4 6.2 9.9 1.7 4.1-0.5 0.8-0.8 0.3-4.1-0.2-1.7 0.5-2.5 6.2-0.8 1-0.8 0.1M878.1 1277.1l-0.9 1-0.4 1.7 1.3 4.6M769.5 1261l-1.6-10.8 0.4-5 5.3-12.9 2.5-2.7 2.4-0.7 1.7 1.2 0.7 2.8 0.7 13.2-0.3 3.3-2.6 4.1-8.4 7.3-0.8 0.2M726.7 1243.8l4.1-4.8 1.7-0.8 1.6-0.1 1.7 1 1.4 2 1.1 5.8-0.9 7.1-2.4 7.2-4.2 7-4.1 4.2M766.6 1211.5l-1.2 1.1-1.4-1.1M792.1 1211.5l-2 3.4-2.5 1.4-1.7-1-0.9-3.8M809.2 1211.5l-2 24.7-0.4 2.5-2.5 5.7-0.1 2.5 0.4 1.6 15.1 17.5 8.2 7.5 10.8 12 1.4 2.5 1.1 4.9-0.3 1.7-0.8 0.8-6.4 1.4-1.3 1.1-1.3 10.7-4.1 9-2.2 8.2-2.7 7.3-4.2 7.6-1.1 6.5-2.1 6.9-2.4 5.5-1.7 1.6-1.6 0.4-3.3-1.1-1.7-1.8-0.3-2.4 0.7-3.3 2.9-7.9 3.7-6.9 1.7-9.1 5.6-14.8 3.6-13.1 1.9-2.7 5.1-3.1 0.5-1.6-1.4-4.1-3.2-5-6.4-6.6-4.2-5.7-13.4-13.1-2.5-1.9-1.7-0.5-2.4 0.3-3.3 1.3-0.8-0.5-1.2-2.1 0.1-3.3 6.8-26.3 2.5-4.9 6.9-9.9M867 1211.5l-2.7 5.8-3.5 4.2-4.9 3.7-5 1.7-2.4-0.7-2.2-3.2-0.8-4.9 0.6-6.6" stroke="#228b8d"/><path d="M730 1405.6l-0.1-8.2 0.7-3.3 10.1-12.2 6.6-6.4 2.5-3.4 2.4-4.8 5.1-12.7 1.5-6.5 4.9-2.2 2-2 0.2-1.6-2-4.1 1.7-9.9-2.2-5.7 0-5-2.2-4.1-0.4-1.6 1.3-1.5 4.1-0.9 2.5 0.8 1.4 2.4-1.7 4.1-0.1 1.6 2 2.7 1.7-0.1 1.9-3.4-1-4.1 1.3-4.9-0.9-1.7-2.2-1.6-0.8-0.3-2.4 1.8-1.7 0.4-4.9 0.1-4.1-1.8-1.7 0.4-0.8 2.7 0.2 5.7-2.1 6.6-1.4 1.7-4.1 0.6-2.5 1.9-8.5 15.6-4.3 9.8-2.7 9.9-0.9 11.5 0.4 19.7-0.5 2.5-1.6 2.4M804.1 1405.6l2.3-7.4 2.1-12.3 0.1-3.3-0.8-4.9 0.6-2.5 2.4-2.5 8.6-3.3 2.1-1.6 1.5-2 23.4-65.4 0.4-1.7-0.2-4.9 1-1.7 2.5-0.2 3.3 1.4 2.8 2.9 1.3 4.2-0.1 4.1-2.9 6.5-20.4 58.4-0.8 6.6 1.6 6.6-10.7 23M841.7 1405.6l8.5-18.9-6.3-4.9-0.5-2.5 0.6-3.3 12.3-37 12.3-32.1 0.5-2.4-0.3-2.5-2.4-3.3-6.7-5.8-10.4-13.7-6.6-5.7-10.4-11-14.4-16.4-4.8-6.7-1.7-0.4-2.4 1.7-1.8 2.1-1.1 2.4-0.2 2.5 0.9 2.5 12 14 21 21.3 1.4 2.5 1.2 5.8-0.4 1.6-0.9 0.7-6.6 1.3-1.7 1.6-1.7 10.4-8.1 22.4-4.4 9.7-2.6 9.8-3.7 9.4-1.7 1.6-1.6 0.2-2.5-0.8-2.5-1.6-1-2.2 0.6-3.3 6.4-16.4 1.9-7.4 9.4-28.9 1.8-3.2 4.6-3.3 0.9-2.5-1-3.2-2.5-4.2-7.2-7.4-4.6-5.7-12.5-12.4-2.5-1.6-2.5-0.1-2.9 1.7-0.7 1.7 0.1 1.6 1.6 4.1 6.4 9.9 0.6 2.5-1 0.4-4.9-0.5-1.6 0.7-3.3 14.7-4.3 6.9-0.7 0.5-0.8-0.3-0.8-1.1-1.1-4-0.5-9.1 0.9-4.1 0.9-12.3 4-7.4 0.8-2.5-0.3-2.5-2.4-4.9-0.5-2.5 3.9-11 1.3-5.4 0.7-7.4-0.3-2-0.8-0.8-1.7 0.6-1.3 1.3-1.7 4.2-1.1 7.4-0.3 11.5-1.8 2.4-5.7 5-1.7 2.4-1.8 4.2-3.2 12.3 1.7 10.7-0.4 1.7-2 2.4-0.1 0.8 0.5 1.2 2.5-0.5 2.4 1.3 1.2 2.1 1.3 5.3 2.5 4.6 1.2 6.6-2.3 4.1 0.1 1.6 1.8 1.1 2.5-0.8 1.6 0.2 1.5 2 0.1 2.5-0.7 1.6-3.4 1.6-0.3 0.9 0.3 1.6 2.5 3.3-0.8 4.4 0.8 0.3 0.8-1.1 0.3-4.4 3-2.5 0.8-1.4 5.4-18.3 3.7-5.9 4.8-12.2 1.8-7.8 2.4-0.4 3.3 1.8 3.3 4.8 0.6 3.2-3.9 6.8-9 25.3-4.1 9.1-3.2 10.7-5.9 16.1-0.8 1.4-1.7 0.8-3.2-0.6-5-2.1-1.6 0.3-0.8 0.9-5 15.6-2.8 4.6-7 9.1-5.7 14.7M790.9 1396.6l-1.2-1.7-0.7-2.4-0.6-9.1 0.6-10.7 0.9-2.4 1-0.5 2.5 1.2 3.7 3.4 1.2 2.4 0.2 2.5-0.8 7.4-1.9 6.5-2.4 3.3-1.7 0.4-0.8-0.3M878.1 1366.9l-2.1 4.2-1.6 4.9-2.3 19.8-2.7 9.8M779.3 1345.6l0.5-0.8-0.4-1.7-1.4-3.3-1.6-1.6-0.7-1.7-0.1-3.3 1.2-5.7-1.5-2-3.3-1.5-1.4 1.8 0.1 3.3 2.9 6.8 2.1 2.3 0.6 5.7 0.6 0.9 2.4 0.8M726.7 1313.2l4.1-4.3 3.3-5.2 6.6-15.4 3.9-16.7 0.2-5.5-0.8-3.2-0.8 0.5-2.9 5.7-3.4 4.9-10.2 10.9M878.1 1310.5l-9.6 29.3-14.9 41.2-0.9 3.2 0.7 1.4 2.5 0.6 3.3-0.8 2.4-2.1 2.1-3.2 6.6-15.6 7.8-22.8M768.6 1302l0.9 0.8 0.8-0.2 0.9-2.2-0.3-2.5-0.6-1.5-0.8-0.5-1.6 3.6 0.7 2.5M878.1 1292.1l-10.8-13.1-1.7-8.3-5.5-9.8-12.5-14.5-9-9.1-5.3-6.9-0.5-2.8 1.7-1.7 2.4-0.2 5 0.6 0.2-8.2 0.9-6.6M863 1251l1.9 0.8 1.2-0.8 3.8-9.9 1.1-5.7 0.4-6.6-0.4-4.1-1.2-1.4-3.2 1.2-17 10.1 0.5 3.7 2.1 3.7 10.8 9M726.7 1225.2l1.9-3 2.2-2.1 2.5-0.7 2.5 0.5 2.4 1.6 4.2 4.1 4.1 7.3 1.6 0.9 4.1 0.4 1.8 2 1.1 5.8-0.1 9-1 9.9-2.2 12.3-0.4 6.6 1.4 9.9 1.1 1.8 0.8-1 0.5-5 2.5-10.6 8-18.1 1.2-10.7 3.9-16.5 2-3.4 5.2-4 2.1-2.5 1.3-3.2 0.8-5M770.1 1211.5l-2.2 7.4-1.7 1.7-1.6 0.4-1.7-0.8-0.9-1.3-1.2-7.4M816.7 1211.5l-3.9 14.8-1.1 7.4 0.6 2 1.6 1 4.1-0.1 3.3 0.9 3.3 2.1 3.3 3.2 27.1 28.3 6.1 7.9 10.9 18.9 2 1.9 4.1 2M872.9 1211.5l1.1 3.9 1.6 0.2 2.5-1.3" stroke="#21918c"/><path d="M770.2 1405.6l1.3-5.7 1.3-3 1.6-0.5 5 1.8 2.4 0.2 1.7-0.9 0.9-1.7 1.1-7.4-0.2-11.6-1-5.3-0.8-1.5-1.7-1.1-3.3-0.2-1.6 1.5-2.5 6.6-1.9 8.3-1.4 3.5-1.6 1.4-4.1 1.5-2.5 2.1-2.4 4-2.8 8M796.9 1405.6l-0.9-0.8-1-0.1-3.3 0.9M835.7 1405.6l0.2-3.3-0.6-0.9-1.6 1.2-2.4 3M878.1 1383.3l-1.8 14.1-2.7 8.2M837.6 1381l2.6 0.8 0.9-0.6 1.6-3.5 14.4-41.2 11.1-29.6 0.3-4.1-2.8-4.1-6.9-5.8-4.2-6.5-5.3-6.7-5.8-4.8-12.8-13.2-6.6-8.2-8.5-9.3-2.5-1.8-1.7-0.2-2.5 1.4-1.8 3.3 0.5 3.3 2.7 4.1 25 26.2 6.9 5.9 1.3 5.3 0.8 1.3 1.9-1.7 1.4-0.4 4.2 0.9 4.1 3 1.7 3.9 0.3 3.3-0.4 3.3-3.3 7.4-19.9 57.6-0.4 3.3 0.3 3.2 1.1 2.3 2.3 1.9M735.4 1375.2l2 0.3 2.5-1.3 8.5-8.9 2.2-3.9 3.3-8.3 0.9-5.9 0.8-1.6 1.6-0.8 4.9-0.1 1.6-1.6-1.2-5.7 2.1-5.2 0.4-3.9-2-4.9-0.4-5.8-2.1-2.5-2 0.1-1.5 2.4-0.4 5.8-2.3 9.8 0.1 5.8-0.5 0.3-1.7-0.7-4.9-4.8-1.7 0-3.2 4.1-5 10.2-2.8 8.2-1.4 8.2 0.2 6.6 0.7 2.5 1.3 1.6M801.9 1374.4l3-0.2 5.7-3.4 6.8-1.4 3.1-1.9 2.5-3.1 2.7-6.5 4.2-13.1 4.8-12.4 3-10.7 5.5-13.1 2.5-9.9-0.5-1.9-0.9-0.7-2.9 1-6.1 0.7-1.6 1.1-0.9 2.3-1.1 7.4-2.9 9-9.2 23.9-6.9 19.7-1.3 1.9-1.6 0.6-5.4-2.5-2-2.3 0.3-2.6 11.4-32.9 2.6-9.9 5.3-14 1.4-1.6 3.5-2.5 1.1-2.5-1.2-4.1-3.3-4.9-6.2-5.8-5.6-6.5-9.3-9.7-2.5-2-2.4-0.8-2.5 0.6-1.6 2-0.2 2.5 1.2 3.2 8.8 12.4 1.7 1.4 4.1 1.6 2.4 2.3 2.5 3.9 1 3.1-0.5 2.5-3.4 4.9-3.7 11.5-9.8 25.5-5.6 16.5-1.6 7.4 0.1 3.3 4.3 5.7 3.6 3.2 3.6 1.8M773.6 1334.1l1 0 1.7-5.8-1-2.3-2.5-1.3-1.7 1-0.3 1.8 1.2 3.9 1.6 2.7M788.4 1320.9l0.8 0.4 0.9-1.9 0-2.3-1.6 1.3-0.1 2.5M769.9 1320.1l1.2 0.5 0.9-0.4 1.1-1.8 0.2-1.6-1.3-2.9-0.9-0.2-0.8 0.8-1.4 2.3-0.1 1.6 1.1 1.7M780.2 1317.6l1.1-0.8-0.1-0.8-1.2 0.8 0.2 0.8M771.1 1311.9l0.9 0.2 1.5-2.7-0.5-1.6-1.9-1.2-1.6 0.8-0.5 1.2 2.1 3.3M878.1 1311.9l-22.5 64.9-1.1 5 0.4 1.6 1 0.8 1.6 0.1 2.5-1.1 3.5-4.7 7-16.5 7.6-21.9M782.4 1310.2l0.3 0.5 0.5-1.3-0.5-1.5-0.7 0.7 0.4 1.6M779.4 1303.6l1.6 0.6 0.6-2.2-0.8-9.1-1.2-5.7 1.8-14.8 0.6-1.7 4.5-5.7 1-3.3-0.2-1.7-1.4-2.4-1.6-1.6-1.6-0.5-3.3 1.2-3 3.3-1.4 4.2-0.8 6.5-1.9 5.8 1 14 2.8 4.7 1.6 6.4 1.7 2M796.2 1301.2l1.3-0.1 1.6-2.3 3.3-7.5 0.7-3.3-0.3-2.5-1.2-1.9-5-2.2-1.7 0.9-0.6 4.9 1 11.5 0.9 2.5M878.1 1293.6l-11.1-13.8-2.3-9.1-5.9-10.7-7-8.3-9.9-10-9.7-12.1-0.7-2.5 0.7-1.6 1.5-1.1 4.1-1.2 0.6-1 1.4-10.7M758.8 1258.4l0.8 0.6 0.9-0.3 2.4-3.6 1.5-4.9 1.7-9.9 0.3-4.9-0.5-3.3-1.3-2.2-1.7-0.6-1.6 0.2-1.3 0.9-1.3 4.2-0.8 15.6 0.1 4.9 0.8 3.3M860.3 1246.9l1.8 0 1.3-5.8-0.8-3.3-1.8-0.8-4.1 1.2-1.7 1-0.5 1.1 1.8 3.3 4 3.3M747.6 1211.5l0.4 5.8 1.3 4.9 2.1 3.1 2.5 1 2.4-0.7 1-1.7 1.4-12.4M772.9 1211.5l0.6 5 1.8 0.9 2.4-1.8 1.8-4.1M821 1211.5l-4.5 14.8-0.7 4.1 0.7 2.5 9.8 7.8 11.3 11.1 10 11.2 7.1 6.9 7.5 9.9 10.1 17.3 2.5 2.2 3.3 1.1" stroke="#1f958b"/><path d="M765.2 1405.6l-0.6-2.4-0.9-0.5-0.8 0.6-1.2 2.3M836.5 1378.5l2.1 0.8 1.6-0.3 1.7-1.7 1.6-3.3 24-66.2 0.7-4.2-1-2.4-2.1-2.5-6.9-4.9-3.6-6.6-4.5-6-6.6-5.7-6.6-7.2-7.1-6.6-5.5-7.4-5.5-6.2-4.1-3.7-1.6-0.7-1.7 0-2.4 1.8-1 3 1 3.3 3.1 4.1 5.1 5.4 6.6 5.8 6.5 7.8 5.8 5.8 6.6 4.2 3.3 4.2 6.6 2.4 3.5 2.3 1.6 3.3 0.5 4.9-0.4 3.3-3.6 8.1-19.1 55.2-0.6 6.2 0.8 2.4 1.2 1.3M799.9 1371.9l2.5 0.6 2.5-0.3 6.5-5 2.5 1.3 3.3-0.5 3.3-1.8 2.5-2.8 3.6-8.8 2.8-10.7 5-11.5 2.7-11.5 3.1-5.6 2.4-5.9 2.1-9-1.2-2.1-2.4-0.4-5 0.3-2.4 1.9-4.2 18.3-5.3 11.6-3.7 11.5-5.1 13.1-2.8 9.9-1.2 2.2-0.8-0.2-8.5-6.1-0.6-2.5 4.6-12.3 2.5-9.1 4.9-12.3 2.2-10.7 3.1-5.7 2.9-8.3 1.3-1.7 3.8-3.2 0.6-2.5-1.4-4.1-2.9-4.1-7.4-6.6-6.1-7.4-7.2-7.6-2.5-1.8-2.4-0.7-2.5 1-1 1.7-0.1 2.5 1.4 3.3 3.8 5.4 4.1 4.5 7.4 5 3.6 5.6 1.1 4.1-0.5 1.7-2.5 3.1-1.3 2.7-2.6 10.6-4.4 8.8-4.3 13.4-4.7 11.2-2.6 8.6-0.4 8.2 0.5 2.5 3.8 5.7 3.6 2.5M740.4 1360.4l1.1 0.6 0.9-0.5 1.6-1.9 1.5-3.1 0.7-5-0.6-2.3-0.8-0.9-1.6 1-2.5 5.4-0.7 4.2 0.4 2.5M761.9 1332.4l1 0 0.8-1 0.5-3.1-2.2-4.9-0.1-5-1.4-1.5-0.9 0.1-0.9 1.4 0.3 7.4 0.6 2.5 2.3 4.1M773.2 1332.4l0.4 0.5 0.8-0.3 1.4-4.3-0.5-1.7-2.5-1.4-1.1 0.6-0.6 1.7 0.9 3.1 1.2 1.8M769.8 1319.3l1.3 0.6 1.4-1.5 0.2-1.6-0.7-1.5-0.9-0.2-1.6 1.5-0.1 1.8 0.4 0.9M878.1 1313.2l-21.5 62-1 4.9 0.2 1.7 0.9 0.8 1.6 0.1 1.7-0.9 3-4.1 2.8-7.4 4.4-9.1 7.9-22.4M770.7 1309.4l1.3 0.8 0.2-1.6-1.1-0.5-0.4 1.3M778.7 1301.2l0.7 0.4 0.6-0.4 0.3-1.7-0.8-6.6-2-5.7 1.3-11.5-1.1-2.6-1.5 0.9-0.7 1.7-1.1 8.2 0.7 6.6 2.1 4.9 0.5 3.8 1 2M797.8 1296.2l0.5 0.4 1.6-2.1 2-5.7-0.3-1.7-0.8-1.1-2.5-1-0.8 0.5 0.3 10.7M878.1 1295.4l-2.6-4.1-9.4-11.5-1.9-8.2-6.5-12.4-5.9-7-8.3-7.6-13.1-16.6-0.5-3.3 1-1.7 2.8-1.9 0.9-1.4 1.2-8.2M778.4 1269.1l1.8 0.1 2.5-1 1.6-1.3 1.9-2.7 0.5-2.5-0.4-1.7-1.2-1.8-1.6-1.1-1.7-0.1-1.6 0.5-1.7 1.3-1.3 2.1-0.6 2.4 0 2.5 1 2.5 0.8 0.8M750.5 1211.5l0.9 4.7 1.6 2.1 1.1-0.2 1.2-1.6 1.3-5M825.8 1211.5l-6.4 17.3-0.3 2.5 0.9 2.4 10.4 10.7 7.4 6.6 9 10.7 8.6 8.2 8.1 10.7 9.6 16.5 2.5 1.7 2.5 0" stroke="#1f9a8a"/><path d="M837.5 1377.7l1.9 0.1 1.7-0.9 2.4-4.1 23.9-65.9 0.3-3.3-1-2.4-2.6-2.9-4.1-2.3-0.8-0.1-0.8 1.2 0 5.7-0.6 3.3-4.4 10.3-17.8 51.4-0.7 3.3 0.1 3.3 1.1 2.4 1.4 0.9M800.6 1371.1l2.6 0.3 1.7-0.5 2.9-3.1-0.4-2.5-6.8-4.9-0.4-1.7 5.1-11.5 2.3-10.7 3-5.4 2.6-6.9 1.2-4.9 0.5-6.6 3.9-5.8 2.9-8.2 4.5-4.1 0.7-2.5-1.2-4.1-2.9-4.1-8.2-6.6-6.2-8.2-6-6.4-2.5-1.7-2.4-0.5-2.3 1.2-0.8 1.6 0.2 2.5 1.1 2.5 3.4 4.8 4.1 4.2 7.4 4.8 4.3 7.6 0.8 3.2-0.4 1.7-2.7 3.3-1.3 2.5-1.4 4.9-0.3 5.7-3.9 5.9-1.7 3.7-2 6.1-1.6 7.4-3.8 6.8-3.6 11.3-0.1 3.3 1.5 9 2.5 4.1 3.7 2.5M816.4 1366.1l2.4-0.2 2.5-1.4 1.7-1.9 2.2-4.7 2.1-6.6 1.1-7.4 3.6-6.1 2.6-7 1.5-9.9 4.1-6.4 2.7-6.7 1.1-5.8-0.2-1.6-1.1-1.3-2.5-0.5-3.5 0.1-1.8 0.8-1.2 1.7-2.7 12.3-0.5 4.9-5.1 9.2-2.5 7.3-1.4 6.6-3.5 6.8-3.3 9.6-0.4 5.8 0.8 1.6 1.3 0.8M773.3 1331.6l1.1-0.1 1-3.2-1-1.9-1.6-0.6-1.1 0.9-0.1 1.6 1.7 3.3M770.1 1318.4l1 0.7 0.9-0.9 0-1.4-0.9-0.7-1 0.7 0 1.6M878.1 1314.5l-15.7 43.7-5 16.2-0.9 4.9 1 1.9 2.5-0.8 2.5-3.6 2.5-6.5 5.1-9.9 8-22.8M874.4 1297.1l2 0.6 0.8-0.6-0.9-3.3-4-5.2-4.9-5 0 1.7 2.4 5.2 2.5 4.4 2.1 2.2M854 1291.3l1.2 0 0-1.6-4.3-7-2.4-2.6-5-3.8-8.2-9.2-6.5-5.4-5-7.4-5-5.8-4.9-3.7-2.5 0.1-1.5 1.2-1.1 3.3 0.7 2.4 1.6 2.5 6.1 6.5 6.6 5.1 9 11.2 5 4.3 5.7 2.9 4.1 4.5 6.4 2.5M863.8 1279l0.5 0 0.2-1.7-0.7-4.9-5.1-10.7-2.7-4.1-5.9-6.5-6.6-5.4-6.5-8.7-8.3-9.1-2.4-1.9-2.5 0.6-1.8 2.2-0.7 2.5 0.3 2.4 1.5 2.5 7.3 7.8 8.4 7 6.8 9 4.5 4.6 5.5 4.5 4.4 6.3 3.8 3.6M778.9 1266.6l1.3 0.7 1.6 0 1.7-0.7 1.5-1.6 1-3.3-0.5-1.7-1.2-1.3-2.5-0.7-1.6 0.6-1.5 1.4-1.1 3.3 0.3 1.7 1 1.6" stroke="#1f9f88"/><path d="M836.7 1376l1.9 0.7 1.6-0.4 1.7-1.6 1.6-3 7.3-18.7 16.3-46.1 0.2-3.3-1-2.4-2.2-2.4-3.3-1.8-1.1 0.1-0.7 0.8-0.9 8.2-4.7 10.9-17.2 50-0.9 5.7 1.4 3.3M800.9 1370.3l2.3 0 1.7-0.7 1.5-1.8 0.1-1.7-1-1.6-1.5-1.1-6.5-2.5-1.6 2 0.1 2.4 2 3.3 2.9 1.7M816.6 1364.5l2.2 0.3 2.5-1.1 1.7-1.9 2.2-4.7 1.8-6.6 0.3-6.6 4.7-6.9 2.6-7 0.6-4.2-0.3-5.7 4.5-4.9 3.2-7.4 0.9-5.8-0.6-1.6-1.3-0.9-3-0.4-2.5 0.4-1.3 0.9-1 1.6-2.2 10.7 0.2 6.6-3.9 4.3-2.1 3.9-2.5 7.4-0.9 7.4-3.6 5.2-3.3 8.8-0.7 4.9 0.8 2.4 1 0.9M796.1 1358.7l1.4 0.5 2.4-1.9 2-2.7 2.2-4.9 1.9-6.6 0.4-6.6 4.2-6.3 2.8-7.6 0.5-5-1.1-4.9 3.6-3 1.6-2.1 3.2-8.9 4.3-4.1 1-2.5-1.1-4.1-2.4-3.6-3.3-2.9-5.8-3.5-4.7-7.3-4.1-4.9-3.5-3.3-3.3-1.4-2.1 0.6-1.2 1.6 0.1 2.5 0.9 2.5 3.1 4.2 3.3 3.3 3.3 2.4 4.9 2.5 4.6 9 0.9 3.2-0.5 2.1-3.3 3.9-1.5 3.9-0.5 4.1 1 5-4 3.5-2.4 4-2.6 7.3-1.1 8.2-3.7 5.2-3.2 8-0.9 4.1 0.1 2.4 0.7 2 1.9 2.1M773.4 1330.8l1-0.4 0.5-2.1-0.5-1.2-1.6-0.7-0.8 1.9 1.4 2.5M878.1 1316l-4.1 9.9-11.6 33-2.1 8.9-2.8 8.2 0 2.5 0.8 1.1 1.7-0.6 1.6-2.1 3-7.5 4.3-7.4 9.2-25.4M873.9 1295.4l0.9 0.4 0.7-0.4-0.7-2.5-2.5-2.8-1.3-0.4 1.3 3.7 1.6 2M850.9 1289.7l2.5 0.4 0.6-1.3-1.6-3.3-2.3-3.2-6.6-5.2-8.2-9.5-7.4-5.5-4.5-7.8-5.4-6.2-4.1-2.5-1.6 0-1.7 1-1 1.9 0.1 2.5 1.2 2.5 3 3.6 4.1 3.9 6.1 4 4.9 7.4 5.5 5.9 3.3 2.4 4.9 1.7 4.9 5.5 3.3 1.8M861.9 1276.5l0.5 0.4 1-0.4-0.1-3.5-3.2-5.6-1.9-5.7-2.6-4.1-5.5-5.9-7.4-5.6-4.8-7.4-5.9-6.8-4.1-3-1.6-0.3-1.7 0.4-1.2 1.4-0.6 2.5 0.6 2.5 1.6 2.4 7 7.3 7.2 5.1 6.8 9.8 4.9 4.9 4.9 3.4 4.2 6.3 1.9 1.9M779.9 1265.8l1.1 0.5 1.7-0.2 2-1.9 0.4-3-1.6-2-2.5 0-1.8 1.7-0.6 2.4 1.3 2.5" stroke="#20a386"/><path d="M837.2 1375.2l1.4 0.5 1.6-0.5 1.7-1.6 1.6-3 2.7-7.7 4.4-9.9 11.2-31.3 2.7-9.8 2.2-5 0.3-2.4-0.7-2.5-2.2-2.7-2.5-1.5-1.6 0.1-0.5 0.8-1.2 7.8-4.9 11.2-16.6 48.4-1 5.8 0.3 1.8 1.1 1.5M801.4 1369.4l1.8-0.1 1.7-1.2 0.5-1.1-0.4-1.7-3.4-2.2-3.3-0.1-1.1 1.5 0.2 1.6 1.7 2.3 2.3 1M817.4 1363.7l2.3 0.1 2.4-1.6 3.1-5.9 1.5-6.6-1.2-6.6 3.2-2.3 2.5-3 3-7.8 0.3-5-1.7-3.2-1.6 0-2.5 1.6-1.6 2.2-2 4.4-1.7 6.5 0.9 6.6-3 2.1-2.5 3.1-3.2 8.8-0.2 4.1 0.8 1.7 1.2 0.8M796.4 1357.1l1.9 0.1 2.5-1.7 3.3-6.6 1.6-6.6-1.2-6.6 3.7-2.7 1.6-2.1 3.3-8.3 0.2-5-0.6-1.6-1.3-1.3-1.6-0.1-1.6 0.9-2.5 3-1.8 4.1-1.4 4.9-0.2 3.3 0.9 4.1-0.3 0.8-3 2-1.6 1.9-2.9 6-1.5 7.4 0.7 2.5 1.8 1.6M773.5 1330l0.9-1.7-0.8-1.1-0.8 0-0.1 1.9 0.8 0.9M833.3 1317.6l1.2 0.6 2.4-1 2.5-2.7 1.7-3.3 1.9-7.6-0.5-2.4-1.4-1.2-4.2-0.2-1.6 0.8-1 1.4-2.3 10.7 0.1 2.5 1.2 2.4M878.1 1317.6l-4.1 8.9-11.6 33.1-1.6 9-2.2 6.6 0 1.6 0.6 0.8 1.6-1.3 2.7-6.9 5.4-8.2 9.2-25.7M812 1309.4l1.9 0.8 3.3-2.2 1.6-2.9 2.4-7.2 3.7-3.3 1.1-2.5-1-4.1-2.9-4.1-4.1-3.1-4.1-1.4-1.6 0.3 0.1 2.6 3.8 9 0.3 2.5-0.7 1.6-3.1 3.3-1.1 2.5-0.7 4.9 1.1 3.3M850.7 1288.8l1.9 0.1 0.2-0.9-2.6-4.9-2.6-2.3-4.1-2.4-4-6-4.2-4.4-3.3-2.5-5.7-3-2.3-6.6-4.3-5.7-2.5-2.3-2.5-1.5-1.6-0.2-1.7 0.7-1.1 1.6-0.1 2.5 1.1 2.5 2.6 3.2 4.9 4.4 6.6 3 3.5 7.5 5.6 6.2 3.3 2.3 5.7 1.3 4.1 5.5 3.1 1.9M807.8 1278.1l2.8 0.4 0.7-1.2-0.9-3.3-2.3-4.1-6.5-7-2.5-1.2-2.5 0.4-1 1.2-0.2 1.7 0.6 2.4 1.5 2.5 4.9 5.3 5.4 2.9M861.3 1274.9l1.1 0.1 0-1.8-1.6-2.7-1.6-1.5-0.6 0.1 0.6 2.7 2.1 3.1M858 1268.3l0.3 0.6-0.4-6.4-1.6-3.3-2.4-3.3-4.6-4.4-7.2-4.6-4-7.4-6.1-7-4.1-2.4-2.5 0.4-1.2 1.6-0.2 2.5 1 2.4 1.8 2.5 6 5.8 7.2 4.1 3.8 7.4 5.5 6.2 3.3 2.5 5.4 2.8M780.7 1265l2 0.1 1.6-1.7 0.2-1.7-1-1.5-1.7-0.3-1.6 1-0.6 2.4 1.1 1.7" stroke="#22a884"/><path d="M837.6 1374.4l1.8 0.2 2.5-2.1 3.8-9.6 3.6-7 12.3-34.2 2.5-9.8 2.2-5 0.3-2.4-0.7-2.5-1.8-2.2-2.5-1.4-1.3 0.3-0.6 0.8-1.2 7.4-5.1 11.4-16.5 48.5-0.6 5.1 1.3 2.5M799.8 1367.8l2.6 0.6 1.2-0.6 0.6-1.7-1.8-1.8-2.5-0.3-1.3 1.3 1.2 2.5M817.7 1362.9l2 0.2 1.6-0.8 1.7-1.9 1.9-4.1 1.1-4.1 0.1-3.3-0.7-2.2-1.6-1.3-1.7 0.3-1.6 1.2-1.7 2.2-1.7 3.9-1.4 6.6 0.7 2.2 1.3 1.1M797.3 1356.3l1.8-0.3 1.7-1.2 3.3-6.7 1-6.6-0.8-2.5-1.1-1.1-1.6-0.1-2.5 1.6-1.6 2.2-2.1 4.8-1 4.1 0 2.5 1.2 2.5 1.7 0.8M825.7 1340.7l1.4 0.1 2.4-1.5 1.7-2.2 1.8-3.9 1.2-6.5-0.5-2.3-1.7-1.5-1.6 0.2-1.7 1.1-1.6 2.1-1.7 3.7-1.5 6.5 0.4 2.5 1.4 1.7M804.8 1333.2l1.7-0.1 2.5-1.8 3.1-6.3 0.9-4.1-0.1-2.5-0.7-1.6-1.6-1.2-1.6 0.3-1.7 1.1-1.6 2.2-1.8 4.2-1.1 6.6 0.9 2.4 1.1 0.8M878.1 1318.9l-4.1 8.2-10.8 30.8-1.4 6.6 0.6 3.7 3.3-2.6 2.8-4.4 9.6-26.6M834.3 1316.8l1.8 0 1.7-1 1.6-2 1.7-3.6 1.4-6.6-0.6-2.1-1.7-1.1-3.3 0-1.6 0.9-0.9 1.5-1.9 9.9 0.4 2.5 1.4 1.6M812.7 1308.6l2 0.4 2.5-1.7 1.6-3.1 1.8-6.3 4-3.7 1-2.1-0.6-3.3-2.5-4.1-3.7-3-3.2-1.2-1.7 0.2-0.7 2.4 3.3 8.2 0.5 2.5-0.5 1.6-3.4 3.3-1.2 2.5-0.5 4.9 1.3 2.5M849.1 1287.2l1.8 0.7 0.8-0.7-0.8-2-2.4-3-1.7-0.8-0.8 0.4 0.8 2.9 2.3 2.5M838.9 1279.8l2.2-0.2 0.8-0.6 0.1-0.9-3-5.7-6.2-5.8-3.3-1.3-1.6 0.4-0.3 1.7 0.4 1.7 2.5 4.1 4.8 4.8 3.6 1.8M805.6 1276.5l2.6 0.5 1.2-0.5 0.1-2.5-1.4-3.3-3.1-4.1-3.4-3.3-2.5-1.1-1.9 0.3-0.9 0.8-0.5 1.7 1.5 4.1 3.5 4.1 4.8 3.3M854.9 1265.8l1.8-0.1 0.8-1.5-0.7-3.3-2-3.3-3-3.5-3.3-2.7-3.3-1.6-2.5 0-0.4 1.2 0.4 2.5 2.7 4.9 4.7 4.9 4.8 2.5M780.8 1263.3l1 0.8 0.9-0.2 0.8-1-0.1-1.2-1.6-0.7-0.9 0.7-0.1 1.6M821.7 1261.7l2.1-0.1 0.8-1.6-0.4-2.4-1.7-3.3-2.8-3.6-3.3-3-2.5-0.8-1.6 0.3-1.3 1.3-0.4 1.7 1.1 3.3 5.5 5.9 4.5 2.3M836.7 1246.9l2.7 0.3 0.9-1.1-0.8-3.3-1.8-3.3-3.2-4.1-3.3-3.1-2.5-1.2-2.4 0.3-1.2 1.5-0.3 1.7 1.2 3.2 5.2 5.7 5.5 3.4" stroke="#26ad81"/><path d="M838.3 1373.6l1.9-0.4 1.7-1.7 3.3-8.6 4.1-7.5 12.1-33.7 2.1-9.8 2.7-6.6-0.8-3.3-3-2.8-1.6 0-0.8 1.1-1.4 7.5-4.4 8.9-12.3 35.5-5 16.4 0 3.3 1.4 1.7M801.5 1367l0.8-0.9-0.7-0.5-0.8 0.1-0.3 0.4 1 0.9M817.7 1362l2 0.4 1.6-0.7 1.7-1.9 1.6-3.4 1-3.4 0.1-3.3-0.5-1.6-1.4-1.5-1.7 0-1.6 1.1-2.8 4.5-1.5 6.5 0.2 1.7 1.3 1.6M797.3 1355.5l1.8-0.2 1.7-1.2 1.6-2.6 1.6-4.2 0.7-3.4-0.2-2.4-0.8-1.7-1.3-0.9-1.6 0.1-1.7 1.1-1.6 2.2-1.8 4.1-1 5.8 1.1 2.4 1.5 0.9M825.3 1339l1.8 0.8 1.6-0.6 1.7-1.6 1.6-2.7 1.4-4.1 0.4-3.3-0.7-2.5-1.1-1-1.6-0.1-1.7 1-2.4 3.7-1.9 6.3 0.2 2.5 0.7 1.6M804.4 1331.6l1.3 0.7 2.5-1 3-4.6 1-3.3 0.4-3.3-0.8-2.5-1.2-1-1.6 0-1.7 1.1-2.4 3.9-1.6 5.9 0.2 2.5 0.9 1.6M878.1 1320l-2.5 3.9-1.6 3.9-10.7 30.7-1 5.2 0.1 1.8 0.9 0.9 2.4-1.6 2.7-4.4 9.7-26.8M835 1316l1.9-0.4 1.7-1.4 2.5-4.8 0.9-5.8-0.6-1.6-1.2-0.9-3.3-0.2-1.5 1.1-0.9 1.7-1.6 9 0.8 2.4 1.3 0.9M813 1307.8l1.7 0.4 2.5-1.6 1.5-3 1.7-6.5 3.4-2.7 1.3-2.3-0.4-3.3-1.8-3.3-3.2-2.9-3.3-1.4-1.7 0.2-0.7 0.9-0.1 1.6 3 7.4 0.7 3.3-1.1 1.6-2.9 2.5-1.3 2.4-0.5 4.2 1.2 2.5M848.8 1285.5l1.1 0-1.4-2-0.8 0.4 1.1 1.6M838.3 1279l1.9-0.3 0.7-1.4-0.8-2.4-1.5-2.5-3.1-3.3-2.7-1.9-2.4-0.9-1.3 0.3-0.5 0.8 0.1 1.7 2.3 4.1 4.3 4.3 3 1.5M805.5 1275.7l1.8 0.2 1.2-1-0.3-2.5-1.6-3.3-5-5.4-2.5-1-1.6 0.3-1 1.2-0.2 1.6 1.4 3.3 3.9 4.3 3.9 2.3M852.1 1264.2l2.9 0.8 1.4-0.8 0.1-2.5-1.5-3.3-3.2-3.8-3.3-2.7-2.5-1.1-2.1 0.2-0.5 2.5 1.3 3.3 3.8 4.6 3.6 2.8M819 1260l2.3 0.8 2-0.8 0.2-2.4-0.9-2.5-2.3-3.3-3.1-3-2.5-1.3-1.8 0.2-1.6 1.7 0.4 3.2 3 4.1 4.3 3.3M836.5 1246.1l2.1-0.3 0.6-1.4-1.9-4.9-5.3-6.1-2.5-1.4-2.4 0.1-1 0.8-0.6 1.7 0.2 1.6 1.3 2.5 5 5.1 4.5 2.3" stroke="#2cb17e"/><path d="M837.7 1371.9l1.7 0.7 2.5-2.3 2.7-7.4 3.9-6.3 12.3-33.7 1.4-5.3 0.8-5.7 2.8-6.6-0.9-3.3-2.5-2.2-1.6 0.2-0.6 1.2-1.1 6.6-4.9 9.5-11.5 33.2-5.2 17.3 0.2 4.1M817.7 1361.2l2 0.6 1.4-0.6 2.7-3.6 1.6-6.3-0.5-2.4-1.1-1.3-1.7-0.2-1.6 1-2.5 3.8-1.4 5.7 0.1 1.7 1 1.6M797.1 1354.6l2 0 1.2-0.8 2.9-4.9 1.1-5.8-0.4-1.6-1.5-1.6-1.6-0.1-1.7 1-1.6 2.2-1.5 3.4-0.8 5.8 0.6 1.5 1.3 0.9M825.8 1338.2l1.3 0.7 1.6-0.5 1.7-1.5 1.6-2.8 1.4-5.8-0.6-2.4-0.8-1-1.6-0.2-1.7 0.9-2.3 3.5-1.5 5.8 0.9 3.3M804.8 1330.8l0.9 0.5 1.6-0.2 1.7-1.3 1.6-2.6 1.6-6.3-0.7-2.5-0.9-0.9-2.4 0.3-1.7 1.5-1.3 2.4-1.5 5.8 0.3 2.2 0.8 1.1M878.1 1321.1l-3.3 5.2-10.7 30.5-1.2 5.2 0.4 2.8 0.8 0.2 1.6-1.1 2.5-3.9 9.9-27.4M835.2 1315.2l1.7-0.3 1.7-1.3 2.5-5 0.4-5-1-1.6-1.1-0.5-1.6-0.2-1.7 0.7-1.6 3-1.2 6.9 0.4 1.7 1.5 1.6M813.4 1306.9l2.2 0.3 1.6-1.4 1.6-3.8 0.4-4.9 0.5-0.9 4-2.4 0.9-1.7 0-2.4-1.6-3.5-2.5-2.6-3.3-1.7-2.2 0.4-0.6 1.6 4.1 11.5-0.6 0.8-3.2 1.9-1.7 2.3-0.8 4.1 1.2 2.4M837.6 1278.1l1.3 0 1-0.8 0-1.6-1.2-2.5-5-5-1.7-0.8-1.9 0-0.6 1.7 1.4 3.3 3.6 4 3.1 1.7M805.4 1274.9l1.9-0.6 0.3-1.1-0.6-2.5-1.5-2.4-4.7-4.7-1.7-0.4-1.6 0.5-0.8 2.1 1.6 3.6 3.3 3.5 3.8 2M853.7 1264.2l1.3-0.2 1-1.5-0.6-2.5-1.4-2.4-3.1-3.4-2.4-1.8-2.5-0.9-1.2 0.3-0.6 0.8 0 1.7 2.1 4.1 3.8 4 3.6 1.8M818.5 1259.2l2.8 0.8 1.3-0.8 0.3-1.6-0.8-2.5-2.2-3.3-2.7-2.6-2.5-1.1-1.6 0.2-1.4 1.9 0.4 2.4 2.6 3.7 3.8 2.9M835.9 1245.2l1.9-0.3 0.6-1.3-0.7-2.5-1.4-2.4-2.6-3.3-2.5-2.1-1.7-0.7-2 0.3-0.9 0.8-0.4 1.7 1.2 3.3 4.6 4.6 3.9 1.9" stroke="#32b67a"/><path d="M838.4 1371.1l1 0.3 1.7-1.1 2.8-7.4 5.4-8.5 11.4-31.8 1.3-5 0.6-6.6 2.3-3.9 0.4-1.8-0.9-3.3-2-1.7-0.8 0-0.9 0.9-1.4 7.4-2.6 4.1-2.5 5.3-11.3 32.5-4.8 17.3 0.3 3.3M817.8 1360.4l1 0.7 1.7-0.2 1.6-1.3 1.7-2.8 1.1-5.5-0.3-1.6-1.6-1.5-2.5 0.9-2.4 3.9-1 4.1 0.7 3.3M797 1353.8l1.3 0.4 1.6-0.7 2.7-3.8 1.3-5.8-0.4-1.6-1.1-1.5-1.6-0.2-1.7 0.9-2.5 4-1.1 5 0.3 1.9 1.2 1.4M826.1 1337.4l1 0.6 1.6-0.3 1.7-1.4 1.6-3 0.9-5-0.4-1.6-1.3-1.2-2.5 0.8-2.3 3.7-1.1 4.1 0.8 3.3M805.1 1330l1.4 0.5 1.7-0.6 2.4-3.6 1.1-5.4-0.4-1.6-1.5-1.2-2.5 1-2.1 3.5-1 4.1 0.9 3.3M878.1 1322.2l-1.7 1.7-1.6 3.1-10.7 30.6-0.8 4.4 0.8 1.9 1.6-0.9 2.5-3.9 9.9-27.5M835.4 1314.3l2.4-0.6 2.7-4.3 0.6-4.9-0.7-1.7-1-0.6-2.5 0-1.4 1.4-0.7 1.7-1 6.6 0.6 1.6 1 0.8M813.6 1306.1l2 0.3 2-1.9 1-4.1-0.6-2.6-2.4 0.3-2.2 2.3-0.7 3.2 0.9 2.5M819.7 1294.6l1.6 0 2.4-1.7 0.6-1.6-0.4-2.5-1.2-2.4-2.2-2.5-2.5-1.3-1.6-0.2-1.2 0.7-0.1 2.4 4.6 9.1M837.4 1277.3l1.2-0.1 0.5-1.5-1.5-3.3-3.9-3.6-2.7-0.5-0.7 1.6 1.6 3.3 2.6 2.6 2.9 1.5M802.9 1273.2l2 0.8 1.6-0.6 0.2-1.8-0.6-1.7-2.1-2.9-2.4-2.4-1.7-0.8-1.6 0.1-1 1.1 0.2 2.4 2.4 3.5 3 2.3M852.9 1263.3l1.4 0 1-1.6-1.8-4.1-4.2-4.2-2.5-1-1.2 0.2-0.6 0.9 0 1.6 1.7 3.3 3.4 3.5 2.8 1.4M817.9 1258.4l1.8 0.7 1.6-0.1 0.8-1.4-0.5-2.5-1.9-3-2.5-2.4-1.6-0.9-1.7-0.1-1.6 1.5 0.2 2.4 2.2 3.2 3.2 2.6M835.2 1244.4l1.7-0.2 0.7-1.4-1.7-4.1-4.7-4.9-1.7-0.6-1.6 0.4-1.1 1.8 1 3.3 3.4 3.5 4 2.2" stroke="#3bbb75"/><path d="M838.9 1369.4l0.5 0.6 0.8-0.3 0.9-1 1.9-5.8 3.8-4.6 2.5-4.4 10.9-30.5 1.5-5.8 0-6.6 2.4-3.4 0.7-2.3-0.4-2.5-2-1.8-0.8 0-0.8 1.2-1 7.2-3.1 4-2.5 5.2-10.8 31.1-1.7 5.8-0.9 6.5-2 5.8 0.1 1.6M819.3 1360.4l1.2-0.1 1.6-1.4 1.8-3.4 0.5-4.2-0.6-1.6-0.8-0.6-2.5 0.7-2.5 4.3-0.3 4.6 1.6 1.7M797 1353l1.3 0.5 1.6-0.6 2.7-4 0.8-5-0.6-1.6-1.2-1-2.5 0.9-2.5 4.2-0.6 4.1 1 2.5M826.4 1336.5l0.7 0.6 1.6-0.1 2.6-2.9 1.2-5-0.3-1.6-1-1.2-2.5 0.7-1.6 2.2-1.3 4 0.6 3.3M805.4 1329.1l1.1 0.6 1.7-0.6 2.2-3.3 0.9-4.1-0.4-1.6-1.1-1.2-2.5 0.9-1.6 2.4-1.1 4.5 0.8 2.4M878.1 1323.3l-1.7 1.3-1.6 3.2-10.7 30.9 0 3.6 0.8 0.3 0.8-0.4 1.8-2.6 10.6-29M835.6 1313.5l1.3 0 1.7-1.3 1.8-3.6 0.1-4.1-1.9-1.9-2.5 1-1.1 2.5-0.8 4.9 0.5 1.7 0.9 0.8M813.9 1305.3l1.7 0.4 1.6-1.5 0.9-3.8-0.9-1.8-1.6 0.2-1.7 1.6-0.8 2.4 0.8 2.5M820.2 1293.8l1.1 0.1 1.7-1 0.8-1.6-0.3-2.5-1.2-2.4-1.8-2-2.5-1.4-1.6 0-0.9 0.9 0.2 2.5 3.1 6.2 1.4 1.2M835.2 1275.7l2.6 0.6 0.4-0.6-0.3-1.7-2.6-3.4-3.3-1.5-0.8 0.8 0.4 1.7 1.2 2 2.4 2.1M802.4 1272.4l1.6 0.7 1.7-0.4 0.1-2-0.7-1.6-3.5-4-1.7-0.8-1.6 0.3-0.6 1.2 0.6 2.3 1.6 2.2 2.5 2.1M852.2 1262.5l1.6 0 0.7-0.8-0.1-1.7-1-1.9-4.1-4.1-1.7-0.7-1.4 0.2-0.5 1.6 1.1 2.7 2.5 2.9 2.9 1.8M819.7 1258.4l1.5-0.8 0.2-0.8-1.2-3.3-3-3.3-1.6-0.9-1.7 0.1-1.1 1.6 0.6 2.5 3 3.3 3.3 1.6M834.4 1243.6l1.7 0 0.7-0.8-0.8-3.3-4-4.7-1.6-0.8-1.7 0-0.8 0.6-0.5 1.6 0.9 2.5 2.9 3 3.2 1.9" stroke="#44bf70"/><path d="M842 1360.4l0.7 0.7 0.8-0.3 2.5-2 1.6-2.2 2.1-4.4 11.1-31.3 0.7-5.7-0.7-3-0.8-0.8-2.5 1.6-3.3 6.3-11.4 32.9-1 4.9 0.2 3.3M819.3 1359.6l2-0.5 1.9-2.8 0.8-4.1-1-2.2-0.9-0.2-1.6 0.7-1.7 2.5-0.9 4.1 0.4 1.6 1 0.9M797.1 1352.2l1.2 0.6 1.6-0.6 2.3-3.3 0.8-4.1-0.4-1.7-1-1-2.5 0.8-1.6 2.4-1.1 4.4 0.7 2.5M826.8 1335.7l1.1 0.7 0.8-0.1 2.5-2.9 0.9-3.4-0.9-2.7-0.8-0.3-1.4 0.5-1.8 2.5-1 3.2 0.6 2.5M805.7 1328.3l1.6 0.5 2.5-2.5 1-3.7-0.2-1.7-0.8-1.1-1.6 0.1-2.2 2.7-0.9 3.2 0.6 2.5M878.1 1324.7l-0.9 0-0.8 0.8-1.6 3.3-4.6 14.3-5.3 14.3-0.4 2.2 0.4 1.8 0.8-0.3 1.7-2.4 5.3-15.6 5.4-13.8M835.8 1312.7l2-0.4 2.1-3.7 0.3-3.3-1.6-1.9-1.7 0.3-1.6 2.8-0.5 4.5 1 1.7M861.1 1307.8l0.5 0.7 0.8-0.3 1.7-2.1 0-2.5-1.7-1.8-0.8 0.2-0.6 1.6 0.1 4.2M814.3 1304.5l1.3 0.3 1.6-1.8 0.3-1.8-0.7-1.7-1.2 0-1.6 1.7-0.3 1.6 0.6 1.7M820.3 1292.9l1 0.2 1.5-1 0.5-1.6-0.2-1.7-2.6-4-1.7-1-1.6-0.3-1.2 1.2 0.4 2.4 2.4 4.5 1.5 1.3M835.1 1274.9l1.8 0.1-0.2-1.8-2.2-2.5-1.7-0.4-0.4 0.4 0.3 1.7 2.4 2.5M802 1271.6l2 0.7 0.9-0.4 0-2-3.1-4.1-2.7-0.9-0.8 0.9 0.1 1.6 1.5 2.3 2.1 1.9M851.7 1261.7l1.6 0 0.5-0.8-1.2-3.3-3.3-3-2.4-0.3-0.4 1.6 1.1 2.4 1.7 1.8 2.4 1.6M817.1 1256.8l1.7 0.7 1.7-0.6-0.4-2.6-1.7-2.5-2-1.6-2.5 0-0.6 1.6 0.6 1.7 3.2 3.3M833.9 1242.8l1.4 0.1 0.8-0.9-1.1-3.3-3-3.4-1.6-0.8-1.7 0.4-0.6 1.3 0.7 2.5 2.4 2.5 2.7 1.6" stroke="#4ec36b"/><path d="M843.1 1359.6l1.2-0.2 2.5-2.2 2.7-5 10.8-30.5 0.8-5.7-1.1-3.2-0.8-0.2-1.7 1.1-3.3 6.1-11.1 32.4-0.9 4.9 0.2 1.6 0.7 0.9M865.5 1359.6l1.1-0.7 0.8-2 2.2-8-0.6-0.3-3.3 8.1-0.2 2.9M819.5 1358.7l1.8-0.4 1.8-2.8 0.4-3.3-1.4-1.6-1.6 0.7-1.7 2.8-0.3 3 1 1.6M797.4 1351.3l1.7 0.6 2.5-2.6 0.9-3.7-0.9-2.5-1.7-0.1-2.1 2.6-0.9 3.3 0.5 2.4M869.5 1348.1l0.3 0.6 0-2.3-0.3 1.7M870.5 1345.6l0.2 0.5 0-1.9-0.2 1.4M871.2 1343.1l0.3 0.8 5.8-13.9 0.5-2.5-0.6-1.5-1.7 2.3-4.3 14.8M827.1 1334.9l1.6 0.5 2-2.2 0.8-3.2-0.3-1.5-0.8-0.6-1.7 0.6-1 1.5-0.8 2.4 0.2 2.5M806.1 1327.5l1.2 0.5 0.9-0.4 1.6-2.4 0.4-3.5-1.2-1.2-1.7 0.8-1.2 2.1-0.5 2.4 0.5 1.7M836.2 1311.9l1.6-0.4 1.6-2.7 0.3-2.7-1.1-1.7-1.7 0.3-1.2 2.2-0.4 3.3 0.9 1.7M861.8 1306.1l0.6 0.5 1.1-1.3-0.2-1.7-0.9-0.8-0.8 1.1 0.2 2.2M815 1303.6l0.6 0.2 0.9-1-0.1-2.3-0.8 0-0.9 0.7-0.2 1.6 0.5 0.8M820.3 1292.1l1 0.2 1.2-1-0.1-3.3-2.7-3.3-2.5-0.4-0.7 1.2 0.4 1.7 1.9 3.6 1.5 1.3M801.8 1270.7l1.4 0.6 0.8-0.3-0.1-1.9-2.3-2.8-1.7-0.8-0.8 0.3 0 1.9 2.7 3M851.6 1260.9l1-0.1 0.3-0.8-1-2.4-2.6-2.3-1.7 0-0.1 1.5 0.9 1.6 3.2 2.5M816.9 1255.9l1.9 0.8 0.9-0.8-0.2-1.6-2.3-2.9-2.5-0.7-0.7 1.1 0.1 0.8 2.8 3.3M833.5 1242l1 0.1 0.8-0.9-0.8-2.5-2.5-2.8-2.5-0.6-0.8 1.7 0.7 1.7 1.8 1.9 2.3 1.4" stroke="#58c765"/><path d="M820.5 1357.9l1.6-1.5 0.7-1.8 0.2-1.7-0.9-1.3-1.6 0.6-1.3 2.4 0 2.5 1.3 0.8M842.9 1357.9l0.6 0.7 0.8 0 1.7-1 3.3-5.4 10.8-30.5 0.6-5.7-0.7-1.9-0.8-0.5-2.5 1.9-2.5 5-10.7 30.8-0.8 4.2 0.2 2.4M797.8 1350.5l1.3 0.6 0.8-0.4 1.7-2.5 0.4-2.6-0.4-1.4-0.8-0.5-1.7 0.7-0.8 1.2-0.9 2.5 0.4 2.4M827.7 1334.1l1 0.4 1.7-1.7 0.5-2-0.5-1.8-1.2 0.1-1.3 1.6-0.4 1.7 0.2 1.7M876.2 1329.1l0.2 0.5 0-1.2-0.2 0.7M806.8 1326.7l1.4-0.1 1-1.6 0.4-1.6-0.6-1.8-1 0.1-1.3 1.7-0.4 1.6 0.5 1.7M836.1 1310.2l0.8 0.7 1.7-1.5 0.4-1.6-0.4-2-0.8-0.3-1 0.6-0.7 1.7 0 2.4M820.4 1291.3l0.9 0 0.8-0.8-0.2-2.5-1.9-2.5-2-0.7-0.8 0.7 0.1 1.7 1.5 2.8 1.6 1.3M801.9 1269.9l1.1 0-0.4-1.6-1.8-1.7-0.9 0 0.3 1.7 1.7 1.6M850.2 1259.2l1.6 0-0.9-1.8-1.6-1-0.6 0.4 0.1 0.8 1.4 1.6M817 1255.1l1 0.4 0.6-1.2-1.4-2-1.6-0.8-0.6 1.1 2 2.5M831.7 1240.3l2 0.8 0.6-0.8-1.5-2.9-2.4-1.4-0.9 0.8 0.1 1 2.1 2.5" stroke="#63cb5f"/><path d="M843.3 1357.1l1 0.7 1.7-0.8 1.6-2 1.7-3.4 10.6-29.9 0.4-4.9-1.1-2.2-0.9 0-1.6 1.5-2.4 4.8-10.5 30.4-0.7 3.3 0.2 2.5M820 1356.3l0.5 0.4 1.3-1.2 0.4-1.7-0.5-0.8-0.4-0.2-1 1-0.3 2.5M798.3 1349.7l0.8 0.4 1.7-1.4 0.6-2.3-0.6-1.6-0.9 0-1.4 1.6-0.5 1.7 0.3 1.6M828.5 1332.4l0.2 0.5 0.9-0.5-0.1-2-0.8 0.6-0.2 1.4M807.5 1325l0.7 0 0-1.8-0.9 1 0.2 0.8M837.7 1308.6l0.1-0.9-0.1 0.9M819.5 1289.7l1 0.6 0.8-0.4 0.2-1.1-1-2-1.7-1.1-0.8 0.3 0 1.2 1.5 2.5M831.2 1238.7l0.8 0.6 0.7-0.6-1.5-1.3 0 1.3" stroke="#6ece58"/><path d="M843.7 1356.3l0.6 0.6 1.7-0.5 1.6-1.9 1.5-3.2 10.3-28.7 0.7-4.2-0.9-2.8-1.7 0.3-2.6 4.2-10.6 30.4-0.8 3.3 0.2 2.5M799 1348.1l1 0-0.1-1.8-0.9 1.8M819.5 1288l0.5 0-0.3-0.5-0.2 0.5" stroke="#7ad151"/><path d="M844.1 1355.5l1.1 0.6 0.8-0.3 2.5-3.6 10.7-29.6 0.5-4.2-0.5-1.7-0.9-0.4-1.6 1.1-1.8 3.5-10.6 30.4-0.2 4.2" stroke="#86d549"/><path d="M844.5 1354.6l0.7 0.7 0.8-0.2 2.5-3.5 10.6-29.9 0.2-3.3-1-1.2-1.6 0.9-1.7 3.1-10.1 29.3-0.4 4.1" stroke="#95d840"/><path d="M845 1353.8l1 0.5 0.8-0.6 1.7-3.1 10-28 0.4-2.5-0.6-1.9-1.6 0.7-1.5 2.8-10 29-0.2 3.1" stroke="#a2da37"/><path d="M845.6 1353l0.4 0.3 0.8-0.4 0.8-1.3 4.5-13.4 6.1-15.6 0.2-2.5-0.9-1-1.9 2.6-9.7 28-0.3 3.3" stroke="#b0dd2f"/><path d="M846.5 1351.3l0.6-0.8-0.3-1.1-0.3 1.9M847.5 1348.9l0.1 0.3 0-1.4-0.1 1.1M854.1 1330l0.1 0.3 3.3-7.3 0-2.6-0.8 0.3-0.8 1.7-1.8 7.6" stroke="#bddf26"/></g>
</g>
<path d="M729.70 1315.97L729.67 1312.08L729.75 1308.20L729.94 1304.30L730.24 1300.42L730.63 1296.53L731.12 1292.64L731.69 1288.76L732.34 1284.89L733.06 1281.02L733.84 1277.16L734.69 1273.32L735.59 1269.49L736.53 1265.67L737.52 1261.86L738.54 1258.08L739.60 1254.31L740.67 1250.56L741.79 1246.83L742.98 1243.10L744.23 1239.38L745.58 1235.65L747.04 1231.91L748.64 1228.18L750.46 1224.61L752.60 1221.36L755.16 1218.64L758.18 1216.57L761.54 1215.18L765.08 1214.46L768.71 1214.38L772.39 1214.82L776.13 1215.66L779.90 1216.80L783.70 1218.10L787.52 1219.46L791.34 1220.83L795.17 1222.23L798.98 1223.65L802.78 1225.10L806.55 1226.60L810.28 1228.15L813.97 1229.75L817.61 1231.42L821.19 1233.17L824.70 1234.99L828.13 1236.91L831.48 1238.92L834.73 1241.03L837.87 1243.26L840.91 1245.60L843.82 1248.08L846.61 1250.68L849.26 1253.43L851.77 1256.32L854.14 1259.33L856.37 1262.45L858.46 1265.69L860.41 1269.04L862.22 1272.48L863.88 1276.01L865.40 1279.61L866.78 1283.29L868.01 1287.04L869.09 1290.84L870.03 1294.69L870.82 1298.59L871.46 1302.51L871.95 1306.46L872.29 1310.43L872.48 1314.42L872.52 1318.40L872.41 1322.38L872.14 1326.34L871.72 1330.29L871.14 1334.21L870.41 1338.09L869.52 1341.92L868.47 1345.71L867.26 1349.43L865.90 1353.09L864.37 1356.67L862.69 1360.18L860.84 1363.59L858.83 1366.90L856.66 1370.10L854.32 1373.19L851.82 1376.16L849.15 1379.01L846.32 1381.71L843.34 1384.27L840.22 1386.68L836.97 1388.93L833.60 1391.02L830.13 1392.94L826.57 1394.68L822.94 1396.23L819.23 1397.59L815.47 1398.76L811.67 1399.72L807.84 1400.47L803.99 1401.00L800.14 1401.30L796.29 1401.37L792.46 1401.20L788.66 1400.79L784.91 1400.12L781.21 1399.19L777.59 1398.00L774.04 1396.53L770.58 1394.78L767.23 1392.75L763.99 1390.46L760.87 1387.93L757.88 1385.19L755.02 1382.27L752.30 1379.19L749.73 1375.98L747.32 1372.67L745.07 1369.28L742.99 1365.83L741.08 1362.32L739.32 1358.76L737.72 1355.15L736.28 1351.50L734.99 1347.80L733.85 1344.07L732.85 1340.31L731.99 1336.52L731.28 1332.70L730.70 1328.87L730.25 1325.01L729.93 1321.14L729.73 1317.26Z" fill="none" stroke="#dd22dd" stroke-width="1.2"/>
<rect x="721.90" y="1205.40" width="162.00" height="206.60" fill="none" stroke="#666" stroke-width="0.9"/>
<circle cx="874.39" cy="1319.23" r="1.3" fill="#000"/>
<circle cx="874.25" cy="1323.07" r="1.3" fill="#000"/>
<circle cx="873.97" cy="1326.91" r="1.3" fill="#000"/>
<circle cx="873.55" cy="1330.73" r="1.3" fill="#000"/>
<circle cx="872.99" cy="1334.52" r="1.3" fill="#000"/>
<circle cx="872.28" cy="1338.28" r="1.3" fill="#000"/>
<circle cx="871.43" cy="1342.00" r="1.3" fill="#000"/>
<circle cx="870.44" cy="1345.67" r="1.3" fill="#000"/>
<circle cx="869.29" cy="1349.29" r="1.3" fill="#000"/>
<circle cx="868.00" cy="1352.86" r="1.3" fill="#000"/>
<circle cx="866.57" cy="1356.36" r="1.3" fill="#000"/>
<circle cx="864.98" cy="1359.79" r="1.3" fill="#000"/>
<circle cx="863.24" cy="1363.13" r="1.3" fill="#000"/>
<text x="753.05" y="1423.40" font-family="Liberation Sans" font-size="8.8" fill="#222" text-anchor="middle" textLength="12.30" lengthAdjust="spacingAndGlyphs" >2.2</text>
<text x="785.95" y="1423.40" font-family="Liberation Sans" font-size="8.8" fill="#222" text-anchor="middle" textLength="12.30" lengthAdjust="spacingAndGlyphs" >2.4</text>
<text x="818.85" y="1423.40" font-family="Liberation Sans" font-size="8.8" fill="#222" text-anchor="middle" textLength="12.30" lengthAdjust="spacingAndGlyphs" >2.6</text>
<text x="851.75" y="1423.40" font-family="Liberation Sans" font-size="8.8" fill="#222" text-anchor="middle" textLength="12.30" lengthAdjust="spacingAndGlyphs" >2.8</text>
<path d="M721.90 1218.10h-2.2M721.90 1251.00h-2.2M721.90 1283.90h-2.2M721.90 1316.80h-2.2M721.90 1349.70h-2.2M721.90 1382.60h-2.2M753.05 1412.00v2.2M785.95 1412.00v2.2M818.85 1412.00v2.2M851.75 1412.00v2.2" stroke="#444" stroke-width="0.8"/>
<text x="802.90" y="1432.60" font-family="Liberation Sans" font-size="8.8" fill="#222" text-anchor="middle" textLength="21.50" lengthAdjust="spacingAndGlyphs" >R [m]</text>
<text x="802.90" y="1200.60" font-family="Liberation Serif" font-size="12.7" fill="#000" text-anchor="middle" font-weight="bold" textLength="47.90" lengthAdjust="spacingAndGlyphs" >-33.75°</text>
<text x="0.00" y="0.00" font-family="Liberation Sans" font-size="8.8" fill="#222" text-anchor="middle" textLength="21.50" lengthAdjust="spacingAndGlyphs" transform="translate(109.6,1309.1) rotate(-90)" >Z [m]</text>
<path d="M915.0 1401.10H945.7" stroke="#440154" stroke-width="1.1"/><path d="M915.0 1397.41H945.7" stroke="#46085c" stroke-width="1.1"/><path d="M915.0 1393.73H945.7" stroke="#471063" stroke-width="1.1"/><path d="M915.0 1390.04H945.7" stroke="#481769" stroke-width="1.1"/><path d="M915.0 1386.36H945.7" stroke="#481d6f" stroke-width="1.1"/><path d="M915.0 1382.67H945.7" stroke="#482475" stroke-width="1.1"/><path d="M915.0 1378.99H945.7" stroke="#472a7a" stroke-width="1.1"/><path d="M915.0 1375.30H945.7" stroke="#46307e" stroke-width="1.1"/><path d="M915.0 1371.62H945.7" stroke="#453781" stroke-width="1.1"/><path d="M915.0 1367.93H945.7" stroke="#433e85" stroke-width="1.1"/><path d="M915.0 1364.25H945.7" stroke="#414487" stroke-width="1.1"/><path d="M915.0 1360.56H945.7" stroke="#3e4989" stroke-width="1.1"/><path d="M915.0 1356.88H945.7" stroke="#3c4f8a" stroke-width="1.1"/><path d="M915.0 1353.19H945.7" stroke="#3a548c" stroke-width="1.1"/><path d="M915.0 1349.51H945.7" stroke="#375a8c" stroke-width="1.1"/><path d="M915.0 1345.82H945.7" stroke="#355f8d" stroke-width="1.1"/><path d="M915.0 1342.14H945.7" stroke="#32648e" stroke-width="1.1"/><path d="M915.0 1338.45H945.7" stroke="#306a8e" stroke-width="1.1"/><path d="M915.0 1334.77H945.7" stroke="#2e6f8e" stroke-width="1.1"/><path d="M915.0 1331.08H945.7" stroke="#2c738e" stroke-width="1.1"/><path d="M915.0 1327.40H945.7" stroke="#2a788e" stroke-width="1.1"/><path d="M915.0 1323.71H945.7" stroke="#287d8e" stroke-width="1.1"/><path d="M915.0 1320.03H945.7" stroke="#26828e" stroke-width="1.1"/><path d="M915.0 1316.34H945.7" stroke="#24868e" stroke-width="1.1"/><path d="M915.0 1312.66H945.7" stroke="#228b8d" stroke-width="1.1"/><path d="M915.0 1308.97H945.7" stroke="#21918c" stroke-width="1.1"/><path d="M915.0 1305.29H945.7" stroke="#1f958b" stroke-width="1.1"/><path d="M915.0 1301.61H945.7" stroke="#1f9a8a" stroke-width="1.1"/><path d="M915.0 1297.92H945.7" stroke="#1f9f88" stroke-width="1.1"/><path d="M915.0 1294.23H945.7" stroke="#20a386" stroke-width="1.1"/><path d="M915.0 1290.55H945.7" stroke="#22a884" stroke-width="1.1"/><path d="M915.0 1286.87H945.7" stroke="#26ad81" stroke-width="1.1"/><path d="M915.0 1283.18H945.7" stroke="#2cb17e" stroke-width="1.1"/><path d="M915.0 1279.49H945.7" stroke="#32b67a" stroke-width="1.1"/><path d="M915.0 1275.81H945.7" stroke="#3bbb75" stroke-width="1.1"/><path d="M915.0 1272.12H945.7" stroke="#44bf70" stroke-width="1.1"/><path d="M915.0 1268.44H945.7" stroke="#4ec36b" stroke-width="1.1"/><path d="M915.0 1264.75H945.7" stroke="#58c765" stroke-width="1.1"/><path d="M915.0 1261.07H945.7" stroke="#63cb5f" stroke-width="1.1"/><path d="M915.0 1257.38H945.7" stroke="#6ece58" stroke-width="1.1"/><path d="M915.0 1253.70H945.7" stroke="#7ad151" stroke-width="1.1"/><path d="M915.0 1250.01H945.7" stroke="#86d549" stroke-width="1.1"/><path d="M915.0 1246.33H945.7" stroke="#95d840" stroke-width="1.1"/><path d="M915.0 1242.64H945.7" stroke="#a2da37" stroke-width="1.1"/><path d="M915.0 1238.96H945.7" stroke="#b0dd2f" stroke-width="1.1"/><path d="M915.0 1235.27H945.7" stroke="#bddf26" stroke-width="1.1"/><path d="M915.0 1231.59H945.7" stroke="#cae11f" stroke-width="1.1"/><path d="M915.0 1227.90H945.7" stroke="#d8e219" stroke-width="1.1"/><path d="M915.0 1224.22H945.7" stroke="#e5e419" stroke-width="1.1"/><path d="M915.0 1220.53H945.7" stroke="#f1e51d" stroke-width="1.1"/><path d="M915.0 1216.85H945.7" stroke="#fde725" stroke-width="1.1"/>
<rect x="915.0" y="1213.1" width="30.7" height="188.3" fill="none" stroke="#555" stroke-width="0.9"/>
<text x="951.40" y="1225.40" font-family="Liberation Sans" font-size="13.1" fill="#111" textLength="65.76" lengthAdjust="spacingAndGlyphs" >1.92e+04</text>
<text x="951.40" y="1247.49" font-family="Liberation Sans" font-size="13.1" fill="#111" textLength="65.76" lengthAdjust="spacingAndGlyphs" >1.44e+04</text>
<text x="951.40" y="1269.58" font-family="Liberation Sans" font-size="13.1" fill="#111" textLength="57.23" lengthAdjust="spacingAndGlyphs" >9.6e+03</text>
<text x="951.40" y="1291.67" font-family="Liberation Sans" font-size="13.1" fill="#111" textLength="57.23" lengthAdjust="spacingAndGlyphs" >4.8e+03</text>
<text x="951.40" y="1313.76" font-family="Liberation Sans" font-size="13.1" fill="#111" textLength="7.93" lengthAdjust="spacingAndGlyphs" >0</text>
<text x="951.40" y="1335.85" font-family="Liberation Sans" font-size="13.1" fill="#111" textLength="62.07" lengthAdjust="spacingAndGlyphs" >-4.8e+03</text>
<text x="951.40" y="1357.94" font-family="Liberation Sans" font-size="13.1" fill="#111" textLength="62.07" lengthAdjust="spacingAndGlyphs" >-9.6e+03</text>
<text x="951.40" y="1380.03" font-family="Liberation Sans" font-size="13.1" fill="#111" textLength="70.59" lengthAdjust="spacingAndGlyphs" >-1.44e+04</text>
<text x="951.40" y="1402.12" font-family="Liberation Sans" font-size="13.1" fill="#111" textLength="70.59" lengthAdjust="spacingAndGlyphs" >-1.92e+04</text>
<path d="M945.7 1220.70h2.6M945.7 1242.79h2.6M945.7 1264.88h2.6M945.7 1286.97h2.6M945.7 1309.06h2.6M945.7 1331.15h2.6M945.7 1353.24h2.6M945.7 1375.33h2.6M945.7 1397.42h2.6" stroke="#444" stroke-width="0.8"/>
<text x="0.00" y="0.00" font-family="Liberation Sans" font-size="15.4" fill="#000" text-anchor="middle" font-weight="bold" textLength="198.50" lengthAdjust="spacingAndGlyphs" transform="translate(1036.6,1307.2) rotate(-90)" >Electric Field Amplitude</text>
</svg></body></html>
